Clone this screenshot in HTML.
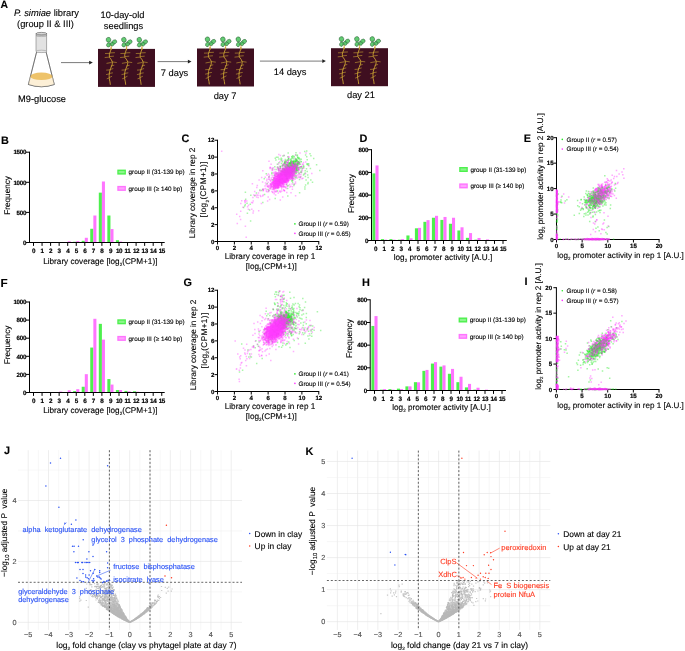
<!DOCTYPE html>
<html><head><meta charset="utf-8"><style>
html,body{margin:0;padding:0;background:#fff;}
body{width:685px;height:651px;overflow:hidden;font-family:"Liberation Sans",sans-serif;}
svg{display:block;will-change:transform;}
text{font-family:"Liberation Sans",sans-serif;text-rendering:geometricPrecision;}
.tk{stroke:#000;stroke-width:0.18px;}
</style></head><body>
<svg width="685" height="651" viewBox="0 0 685 651" font-family='Liberation Sans, sans-serif'>
<text x="0.5" y="8.2" font-size="10.4" font-weight="bold" stroke="#000" stroke-width="0.12">A</text>
<text x="14" y="15.9" font-size="9.3" stroke="#000" stroke-width="0.12"><tspan font-style="italic">P. simiae</tspan> library</text>
<text x="45.5" y="27.3" font-size="9.3" text-anchor="middle" stroke="#000" stroke-width="0.12">(group II &amp; III)</text>
<text x="42" y="101.8" font-size="9.3" text-anchor="middle" stroke="#000" stroke-width="0.12">M9-glucose</text>
<path d="M36.6 52 L28.4 84.5 Q41.5 89 54.3 84.5 L46.1 52 Z" fill="#fff" stroke="#333" stroke-width="0.5"/>
<path d="M30.2 76.2 L28.5 84.3 Q41.5 89 54.2 84.3 L52.6 76.2 Z" fill="#fcefd6"/>
<ellipse cx="41.4" cy="76.3" rx="11.2" ry="3.7" fill="#eec36a"/>
<path d="M36.6 52 L28.4 84.5 Q41.5 89 54.3 84.5 L46.1 52" fill="none" stroke="#444" stroke-width="0.45"/>
<rect x="36" y="33.6" width="10.8" height="17.8" fill="#e2e2e2" stroke="#666" stroke-width="0.5"/>
<ellipse cx="41.4" cy="51.4" rx="5.4" ry="1.2" fill="#e6e6e6" stroke="#777" stroke-width="0.4"/>
<ellipse cx="41.4" cy="33.8" rx="5.4" ry="1.4" fill="#d8d8d8" stroke="#555" stroke-width="0.6"/>
<ellipse cx="41.4" cy="35.6" rx="5.4" ry="1.0" fill="none" stroke="#777" stroke-width="0.4"/>
<line x1="61" y1="62.6" x2="90.8" y2="62.6" stroke="#333" stroke-width="0.65"/>
<path d="M92.8 62.6 L89.2 60.7 L89.2 64.5 Z" fill="#222"/>
<line x1="157.6" y1="61.6" x2="189.5" y2="61.6" stroke="#333" stroke-width="0.65"/>
<path d="M191.5 61.6 L187.9 59.7 L187.9 63.5 Z" fill="#222"/>
<line x1="259.9" y1="61.1" x2="323.9" y2="61.1" stroke="#333" stroke-width="0.65"/>
<path d="M325.9 61.1 L322.3 59.2 L322.3 63 Z" fill="#222"/>
<text x="122.5" y="17.8" font-size="9.3" text-anchor="middle" stroke="#000" stroke-width="0.12">10-day-old</text>
<text x="123.5" y="28.8" font-size="9.3" text-anchor="middle" stroke="#000" stroke-width="0.12">seedlings</text>
<text x="174.5" y="75.8" font-size="9.3" text-anchor="middle" stroke="#000" stroke-width="0.12">7 days</text>
<text x="225" y="98.6" font-size="9.3" text-anchor="middle" stroke="#000" stroke-width="0.12">day 7</text>
<text x="290" y="75.2" font-size="9.3" text-anchor="middle" stroke="#000" stroke-width="0.12">14 days</text>
<text x="361" y="98.2" font-size="9.3" text-anchor="middle" stroke="#000" stroke-width="0.12">day 21</text>
<defs><g id="plant">
<path d="M0 -1 L0 1 Q-1.2 4 -1.6 6 Q-2.2 8.5 0.5 11 Q2.2 13 1.2 16 Q-0.5 19.5 -1.4 23 Q-2 27 -1.6 30 Q-0.8 33 -0.6 35.5" fill="none" stroke="#c9a233" stroke-width="0.9" stroke-linecap="round"/>
<path d="M-1.4 4.5 L-5.5 4.6 M-0.8 4 L3.6 3.8 M-1.8 8.2 L-5.8 8.6 M-0.8 7.6 L2.6 7.3 M1.2 13 L5.5 13.6 M0.4 13.6 L-4 14.4 M0.3 17 L3 16.4 M-0.9 21 L-4.3 21.2 M-0.8 20.5 L2 19.8 M-1.6 25 L-4.4 25.6 M-1.5 24.5 L1.6 24 M-1.6 29 L-3.8 29.8 M-1.3 28.5 L0.8 27.5" stroke="#c9a233" stroke-width="0.6" fill="none" stroke-linecap="round"/>
<path d="M0.3 1 Q0.6 -2 0 -4.5" stroke="#c9a233" stroke-width="0.9" fill="none"/>
<g fill="#62cc72" stroke="#24512e" stroke-width="0.45">
<ellipse cx="-2.4" cy="-9.1" rx="2.3" ry="2.5" transform="rotate(-15 -2.4 -9.1)"/>
<ellipse cx="3.4" cy="-6.9" rx="2.6" ry="2.0" transform="rotate(-30 3.4 -6.9)"/>
<ellipse cx="-2.4" cy="-4.0" rx="1.9" ry="2.2" transform="rotate(25 -2.4 -4.0)"/>
<ellipse cx="1.2" cy="-4.8" rx="2.0" ry="1.8" transform="rotate(30 1.2 -4.8)"/>
</g>
<path d="M0 -4.6 L-2 -8 M0 -4.6 L3 -6.5 M0 -4.6 L-2 -3.5" stroke="#3a8a46" stroke-width="0.4" fill="none"/>
</g></g></defs>
<rect x="98" y="48.9" width="57" height="38" fill="#3f0f20"/>
<use href="#plant" x="110.9" y="48.9"/>
<use href="#plant" x="126.3" y="48.9"/>
<use href="#plant" x="141.7" y="48.9"/>
<rect x="197" y="48.5" width="57" height="38" fill="#3f0f20"/>
<use href="#plant" x="209.9" y="48.5"/>
<use href="#plant" x="225.3" y="48.5"/>
<use href="#plant" x="240.7" y="48.5"/>
<rect x="331" y="48.2" width="57" height="38" fill="#3f0f20"/>
<use href="#plant" x="343.9" y="48.2"/>
<use href="#plant" x="359.3" y="48.2"/>
<use href="#plant" x="374.7" y="48.2"/>
<text x="0.9" y="144" font-size="10.9" font-weight="bold" stroke="#000" stroke-width="0.12">B</text>
<rect x="67.7" y="241.28" width="3.05" height="0.72" fill="#ff74ff"/>
<rect x="73.15" y="241.76" width="3.1" height="0.24" fill="#4df04d"/>
<rect x="76.25" y="241.1" width="3.05" height="0.9" fill="#ff74ff"/>
<rect x="81.7" y="240.8" width="3.1" height="1.2" fill="#4df04d"/>
<rect x="84.8" y="237.79" width="3.05" height="4.21" fill="#ff74ff"/>
<rect x="90.25" y="228.76" width="3.1" height="13.24" fill="#4df04d"/>
<rect x="93.35" y="215.51" width="3.05" height="26.49" fill="#ff74ff"/>
<rect x="98.8" y="192.64" width="3.1" height="49.36" fill="#4df04d"/>
<rect x="101.9" y="181.5" width="3.05" height="60.5" fill="#ff74ff"/>
<rect x="107.35" y="215.51" width="3.1" height="26.49" fill="#4df04d"/>
<rect x="110.45" y="229.06" width="3.05" height="12.94" fill="#ff74ff"/>
<rect x="115.9" y="240.19" width="3.1" height="1.81" fill="#4df04d"/>
<rect x="119" y="241.52" width="3.05" height="0.48" fill="#ff74ff"/>
<line x1="29.5" y1="151.7" x2="29.5" y2="243" stroke="#000" stroke-width="1.0"/>
<line x1="29" y1="242.5" x2="164.7" y2="242.5" stroke="#000" stroke-width="1.0"/>
<line x1="25.9" y1="242.5" x2="29.5" y2="242.5" stroke="#000" stroke-width="1.0"/>
<text x="26.2" y="244.7" font-size="6.2" text-anchor="end" font-weight="bold" letter-spacing="-0.25" class="tk">0</text>
<line x1="25.9" y1="212.4" x2="29.5" y2="212.4" stroke="#000" stroke-width="1.0"/>
<text x="26.2" y="214.6" font-size="6.2" text-anchor="end" font-weight="bold" letter-spacing="-0.25" class="tk">500</text>
<line x1="25.9" y1="182.3" x2="29.5" y2="182.3" stroke="#000" stroke-width="1.0"/>
<text x="26.2" y="184.5" font-size="6.2" text-anchor="end" font-weight="bold" letter-spacing="-0.25" class="tk">1000</text>
<line x1="25.9" y1="152.2" x2="29.5" y2="152.2" stroke="#000" stroke-width="1.0"/>
<text x="26.2" y="154.4" font-size="6.2" text-anchor="end" font-weight="bold" letter-spacing="-0.25" class="tk">1500</text>
<line x1="33.5" y1="242.5" x2="33.5" y2="245.9" stroke="#000" stroke-width="1.0"/>
<text x="33.5" y="253.3" font-size="6.3" text-anchor="middle" font-weight="bold" letter-spacing="-0.4" class="tk">0</text>
<line x1="42.05" y1="242.5" x2="42.05" y2="245.9" stroke="#000" stroke-width="1.0"/>
<text x="42.05" y="253.3" font-size="6.3" text-anchor="middle" font-weight="bold" letter-spacing="-0.4" class="tk">1</text>
<line x1="50.6" y1="242.5" x2="50.6" y2="245.9" stroke="#000" stroke-width="1.0"/>
<text x="50.6" y="253.3" font-size="6.3" text-anchor="middle" font-weight="bold" letter-spacing="-0.4" class="tk">2</text>
<line x1="59.15" y1="242.5" x2="59.15" y2="245.9" stroke="#000" stroke-width="1.0"/>
<text x="59.15" y="253.3" font-size="6.3" text-anchor="middle" font-weight="bold" letter-spacing="-0.4" class="tk">3</text>
<line x1="67.7" y1="242.5" x2="67.7" y2="245.9" stroke="#000" stroke-width="1.0"/>
<text x="67.7" y="253.3" font-size="6.3" text-anchor="middle" font-weight="bold" letter-spacing="-0.4" class="tk">4</text>
<line x1="76.25" y1="242.5" x2="76.25" y2="245.9" stroke="#000" stroke-width="1.0"/>
<text x="76.25" y="253.3" font-size="6.3" text-anchor="middle" font-weight="bold" letter-spacing="-0.4" class="tk">5</text>
<line x1="84.8" y1="242.5" x2="84.8" y2="245.9" stroke="#000" stroke-width="1.0"/>
<text x="84.8" y="253.3" font-size="6.3" text-anchor="middle" font-weight="bold" letter-spacing="-0.4" class="tk">6</text>
<line x1="93.35" y1="242.5" x2="93.35" y2="245.9" stroke="#000" stroke-width="1.0"/>
<text x="93.35" y="253.3" font-size="6.3" text-anchor="middle" font-weight="bold" letter-spacing="-0.4" class="tk">7</text>
<line x1="101.9" y1="242.5" x2="101.9" y2="245.9" stroke="#000" stroke-width="1.0"/>
<text x="101.9" y="253.3" font-size="6.3" text-anchor="middle" font-weight="bold" letter-spacing="-0.4" class="tk">8</text>
<line x1="110.45" y1="242.5" x2="110.45" y2="245.9" stroke="#000" stroke-width="1.0"/>
<text x="110.45" y="253.3" font-size="6.3" text-anchor="middle" font-weight="bold" letter-spacing="-0.4" class="tk">9</text>
<line x1="119" y1="242.5" x2="119" y2="245.9" stroke="#000" stroke-width="1.0"/>
<text x="119" y="253.3" font-size="6.3" text-anchor="middle" font-weight="bold" letter-spacing="-0.4" class="tk">10</text>
<line x1="127.55" y1="242.5" x2="127.55" y2="245.9" stroke="#000" stroke-width="1.0"/>
<text x="127.55" y="253.3" font-size="6.3" text-anchor="middle" font-weight="bold" letter-spacing="-0.4" class="tk">11</text>
<line x1="136.1" y1="242.5" x2="136.1" y2="245.9" stroke="#000" stroke-width="1.0"/>
<text x="136.1" y="253.3" font-size="6.3" text-anchor="middle" font-weight="bold" letter-spacing="-0.4" class="tk">12</text>
<line x1="144.65" y1="242.5" x2="144.65" y2="245.9" stroke="#000" stroke-width="1.0"/>
<text x="144.65" y="253.3" font-size="6.3" text-anchor="middle" font-weight="bold" letter-spacing="-0.4" class="tk">13</text>
<line x1="153.2" y1="242.5" x2="153.2" y2="245.9" stroke="#000" stroke-width="1.0"/>
<text x="153.2" y="253.3" font-size="6.3" text-anchor="middle" font-weight="bold" letter-spacing="-0.4" class="tk">14</text>
<line x1="161.75" y1="242.5" x2="161.75" y2="245.9" stroke="#000" stroke-width="1.0"/>
<text x="161.75" y="253.3" font-size="6.3" text-anchor="middle" font-weight="bold" letter-spacing="-0.4" class="tk">15</text>
<rect x="117.3" y="169.6" width="8.6" height="5" fill="#4df04d"/>
<rect x="118.6" y="171" width="6" height="2.2" fill="#ffffff" opacity="0.35"/>
<text x="128.5" y="174.4" font-size="6.35" stroke="#000" stroke-width="0.12">group II (31-139 bp)</text>
<rect x="117.3" y="185.9" width="8.6" height="5" fill="#ff74ff"/>
<rect x="118.6" y="187.3" width="6" height="2.2" fill="#ffffff" opacity="0.35"/>
<text x="128.5" y="190.7" font-size="6.35" stroke="#000" stroke-width="0.12">group III (&#8805; 140 bp)</text>
<text x="100.3" y="263.7" font-size="8.2" text-anchor="middle" stroke="#000" stroke-width="0.12">Library coverage [log<tspan font-size="55%" dy="2.2">2</tspan><tspan dy="-2.2">(CPM+1)]</tspan></text>
<text x="9.9" y="195.4" font-size="8.2" text-anchor="middle" stroke="#000" stroke-width="0.12" transform="rotate(-90 9.9 195.4)">Frequency</text>
<text x="0.4" y="287.4" font-size="11.7" font-weight="bold" stroke="#000" stroke-width="0.12">F</text>
<rect x="59.15" y="391.55" width="3.05" height="0.45" fill="#ff74ff"/>
<rect x="67.7" y="390.28" width="3.05" height="1.72" fill="#ff74ff"/>
<rect x="73.15" y="391.1" width="3.1" height="0.91" fill="#4df04d"/>
<rect x="76.25" y="389.19" width="3.05" height="2.81" fill="#ff74ff"/>
<rect x="81.7" y="386.75" width="3.1" height="5.25" fill="#4df04d"/>
<rect x="84.8" y="374.17" width="3.05" height="17.83" fill="#ff74ff"/>
<rect x="90.25" y="347.56" width="3.1" height="44.44" fill="#4df04d"/>
<rect x="93.35" y="318.79" width="3.05" height="73.21" fill="#ff74ff"/>
<rect x="98.8" y="323.85" width="3.1" height="68.15" fill="#4df04d"/>
<rect x="101.9" y="339.6" width="3.05" height="52.4" fill="#ff74ff"/>
<rect x="107.35" y="379.06" width="3.1" height="12.94" fill="#4df04d"/>
<rect x="110.45" y="384.58" width="3.05" height="7.42" fill="#ff74ff"/>
<rect x="115.9" y="390.01" width="3.1" height="1.99" fill="#4df04d"/>
<rect x="119" y="390.01" width="3.05" height="1.99" fill="#ff74ff"/>
<rect x="124.45" y="390.91" width="3.1" height="1.09" fill="#4df04d"/>
<rect x="127.55" y="391.28" width="3.05" height="0.72" fill="#ff74ff"/>
<rect x="133" y="391.28" width="3.1" height="0.72" fill="#4df04d"/>
<rect x="136.1" y="391.73" width="3.05" height="0.27" fill="#ff74ff"/>
<line x1="29.5" y1="301.5" x2="29.5" y2="393" stroke="#000" stroke-width="1.0"/>
<line x1="29" y1="392.5" x2="164.7" y2="392.5" stroke="#000" stroke-width="1.0"/>
<line x1="25.9" y1="392.5" x2="29.5" y2="392.5" stroke="#000" stroke-width="1.0"/>
<text x="26.2" y="394.7" font-size="6.2" text-anchor="end" font-weight="bold" letter-spacing="-0.25" class="tk">0</text>
<line x1="25.9" y1="374.4" x2="29.5" y2="374.4" stroke="#000" stroke-width="1.0"/>
<text x="26.2" y="376.6" font-size="6.2" text-anchor="end" font-weight="bold" letter-spacing="-0.25" class="tk">200</text>
<line x1="25.9" y1="356.3" x2="29.5" y2="356.3" stroke="#000" stroke-width="1.0"/>
<text x="26.2" y="358.5" font-size="6.2" text-anchor="end" font-weight="bold" letter-spacing="-0.25" class="tk">400</text>
<line x1="25.9" y1="338.2" x2="29.5" y2="338.2" stroke="#000" stroke-width="1.0"/>
<text x="26.2" y="340.4" font-size="6.2" text-anchor="end" font-weight="bold" letter-spacing="-0.25" class="tk">600</text>
<line x1="25.9" y1="320.1" x2="29.5" y2="320.1" stroke="#000" stroke-width="1.0"/>
<text x="26.2" y="322.3" font-size="6.2" text-anchor="end" font-weight="bold" letter-spacing="-0.25" class="tk">800</text>
<line x1="25.9" y1="302" x2="29.5" y2="302" stroke="#000" stroke-width="1.0"/>
<text x="26.2" y="304.2" font-size="6.2" text-anchor="end" font-weight="bold" letter-spacing="-0.25" class="tk">1000</text>
<line x1="33.5" y1="392.5" x2="33.5" y2="395.9" stroke="#000" stroke-width="1.0"/>
<text x="33.5" y="403.3" font-size="6.3" text-anchor="middle" font-weight="bold" letter-spacing="-0.4" class="tk">0</text>
<line x1="42.05" y1="392.5" x2="42.05" y2="395.9" stroke="#000" stroke-width="1.0"/>
<text x="42.05" y="403.3" font-size="6.3" text-anchor="middle" font-weight="bold" letter-spacing="-0.4" class="tk">1</text>
<line x1="50.6" y1="392.5" x2="50.6" y2="395.9" stroke="#000" stroke-width="1.0"/>
<text x="50.6" y="403.3" font-size="6.3" text-anchor="middle" font-weight="bold" letter-spacing="-0.4" class="tk">2</text>
<line x1="59.15" y1="392.5" x2="59.15" y2="395.9" stroke="#000" stroke-width="1.0"/>
<text x="59.15" y="403.3" font-size="6.3" text-anchor="middle" font-weight="bold" letter-spacing="-0.4" class="tk">3</text>
<line x1="67.7" y1="392.5" x2="67.7" y2="395.9" stroke="#000" stroke-width="1.0"/>
<text x="67.7" y="403.3" font-size="6.3" text-anchor="middle" font-weight="bold" letter-spacing="-0.4" class="tk">4</text>
<line x1="76.25" y1="392.5" x2="76.25" y2="395.9" stroke="#000" stroke-width="1.0"/>
<text x="76.25" y="403.3" font-size="6.3" text-anchor="middle" font-weight="bold" letter-spacing="-0.4" class="tk">5</text>
<line x1="84.8" y1="392.5" x2="84.8" y2="395.9" stroke="#000" stroke-width="1.0"/>
<text x="84.8" y="403.3" font-size="6.3" text-anchor="middle" font-weight="bold" letter-spacing="-0.4" class="tk">6</text>
<line x1="93.35" y1="392.5" x2="93.35" y2="395.9" stroke="#000" stroke-width="1.0"/>
<text x="93.35" y="403.3" font-size="6.3" text-anchor="middle" font-weight="bold" letter-spacing="-0.4" class="tk">7</text>
<line x1="101.9" y1="392.5" x2="101.9" y2="395.9" stroke="#000" stroke-width="1.0"/>
<text x="101.9" y="403.3" font-size="6.3" text-anchor="middle" font-weight="bold" letter-spacing="-0.4" class="tk">8</text>
<line x1="110.45" y1="392.5" x2="110.45" y2="395.9" stroke="#000" stroke-width="1.0"/>
<text x="110.45" y="403.3" font-size="6.3" text-anchor="middle" font-weight="bold" letter-spacing="-0.4" class="tk">9</text>
<line x1="119" y1="392.5" x2="119" y2="395.9" stroke="#000" stroke-width="1.0"/>
<text x="119" y="403.3" font-size="6.3" text-anchor="middle" font-weight="bold" letter-spacing="-0.4" class="tk">10</text>
<line x1="127.55" y1="392.5" x2="127.55" y2="395.9" stroke="#000" stroke-width="1.0"/>
<text x="127.55" y="403.3" font-size="6.3" text-anchor="middle" font-weight="bold" letter-spacing="-0.4" class="tk">11</text>
<line x1="136.1" y1="392.5" x2="136.1" y2="395.9" stroke="#000" stroke-width="1.0"/>
<text x="136.1" y="403.3" font-size="6.3" text-anchor="middle" font-weight="bold" letter-spacing="-0.4" class="tk">12</text>
<line x1="144.65" y1="392.5" x2="144.65" y2="395.9" stroke="#000" stroke-width="1.0"/>
<text x="144.65" y="403.3" font-size="6.3" text-anchor="middle" font-weight="bold" letter-spacing="-0.4" class="tk">13</text>
<line x1="153.2" y1="392.5" x2="153.2" y2="395.9" stroke="#000" stroke-width="1.0"/>
<text x="153.2" y="403.3" font-size="6.3" text-anchor="middle" font-weight="bold" letter-spacing="-0.4" class="tk">14</text>
<line x1="161.75" y1="392.5" x2="161.75" y2="395.9" stroke="#000" stroke-width="1.0"/>
<text x="161.75" y="403.3" font-size="6.3" text-anchor="middle" font-weight="bold" letter-spacing="-0.4" class="tk">15</text>
<rect x="117.3" y="319.3" width="8.6" height="5" fill="#4df04d"/>
<rect x="118.6" y="320.7" width="6" height="2.2" fill="#ffffff" opacity="0.35"/>
<text x="128.5" y="324.1" font-size="6.35" stroke="#000" stroke-width="0.12">group II (31-139 bp)</text>
<rect x="117.3" y="335.9" width="8.6" height="5" fill="#ff74ff"/>
<rect x="118.6" y="337.3" width="6" height="2.2" fill="#ffffff" opacity="0.35"/>
<text x="128.5" y="340.7" font-size="6.35" stroke="#000" stroke-width="0.12">group III (&#8805; 140 bp)</text>
<text x="100.3" y="413.2" font-size="8.2" text-anchor="middle" stroke="#000" stroke-width="0.12">Library coverage [log<tspan font-size="55%" dy="2.2">2</tspan><tspan dy="-2.2">(CPM+1)]</tspan></text>
<text x="9.9" y="345" font-size="8.2" text-anchor="middle" stroke="#000" stroke-width="0.12" transform="rotate(-90 9.9 345)">Frequency</text>
<text x="359.6" y="142.1" font-size="10.9" font-weight="bold" stroke="#000" stroke-width="0.12">D</text>
<rect x="372.4" y="173.38" width="3.1" height="66.62" fill="#4df04d"/>
<rect x="375.5" y="165.43" width="3.05" height="74.57" fill="#ff74ff"/>
<rect x="380.9" y="239.09" width="3.1" height="0.91" fill="#4df04d"/>
<rect x="384" y="239.66" width="3.05" height="0.34" fill="#ff74ff"/>
<rect x="389.4" y="239.09" width="3.1" height="0.91" fill="#4df04d"/>
<rect x="392.5" y="239.66" width="3.05" height="0.34" fill="#ff74ff"/>
<rect x="397.9" y="239.66" width="3.1" height="0.34" fill="#4df04d"/>
<rect x="401" y="239.09" width="3.05" height="0.91" fill="#ff74ff"/>
<rect x="406.4" y="235.46" width="3.1" height="4.54" fill="#4df04d"/>
<rect x="409.5" y="238.3" width="3.05" height="1.7" fill="#ff74ff"/>
<rect x="414.9" y="228.31" width="3.1" height="11.69" fill="#4df04d"/>
<rect x="418" y="227.86" width="3.05" height="12.14" fill="#ff74ff"/>
<rect x="423.4" y="221.84" width="3.1" height="18.16" fill="#4df04d"/>
<rect x="426.5" y="220.14" width="3.05" height="19.86" fill="#ff74ff"/>
<rect x="431.9" y="217.75" width="3.1" height="22.25" fill="#4df04d"/>
<rect x="435" y="215.82" width="3.05" height="24.18" fill="#ff74ff"/>
<rect x="440.4" y="219.91" width="3.1" height="20.09" fill="#4df04d"/>
<rect x="443.5" y="216.96" width="3.05" height="23.04" fill="#ff74ff"/>
<rect x="448.9" y="223.77" width="3.1" height="16.23" fill="#4df04d"/>
<rect x="452" y="217.75" width="3.05" height="22.25" fill="#ff74ff"/>
<rect x="457.4" y="230.47" width="3.1" height="9.53" fill="#4df04d"/>
<rect x="460.5" y="227.29" width="3.05" height="12.71" fill="#ff74ff"/>
<rect x="465.9" y="237.84" width="3.1" height="2.16" fill="#4df04d"/>
<rect x="469" y="233.08" width="3.05" height="6.92" fill="#ff74ff"/>
<rect x="474.4" y="239.66" width="3.1" height="0.34" fill="#4df04d"/>
<rect x="477.5" y="237.96" width="3.05" height="2.04" fill="#ff74ff"/>
<rect x="486" y="239.43" width="3.05" height="0.57" fill="#ff74ff"/>
<line x1="371.5" y1="149.2" x2="371.5" y2="241" stroke="#000" stroke-width="1.0"/>
<line x1="371" y1="240.5" x2="506.8" y2="240.5" stroke="#000" stroke-width="1.0"/>
<line x1="367.9" y1="240.5" x2="371.5" y2="240.5" stroke="#000" stroke-width="1.0"/>
<text x="368.2" y="242.7" font-size="6.2" text-anchor="end" font-weight="bold" letter-spacing="-0.25" class="tk">0</text>
<line x1="367.9" y1="217.8" x2="371.5" y2="217.8" stroke="#000" stroke-width="1.0"/>
<text x="368.2" y="220" font-size="6.2" text-anchor="end" font-weight="bold" letter-spacing="-0.25" class="tk">200</text>
<line x1="367.9" y1="195.1" x2="371.5" y2="195.1" stroke="#000" stroke-width="1.0"/>
<text x="368.2" y="197.3" font-size="6.2" text-anchor="end" font-weight="bold" letter-spacing="-0.25" class="tk">400</text>
<line x1="367.9" y1="172.4" x2="371.5" y2="172.4" stroke="#000" stroke-width="1.0"/>
<text x="368.2" y="174.6" font-size="6.2" text-anchor="end" font-weight="bold" letter-spacing="-0.25" class="tk">600</text>
<line x1="367.9" y1="149.7" x2="371.5" y2="149.7" stroke="#000" stroke-width="1.0"/>
<text x="368.2" y="151.9" font-size="6.2" text-anchor="end" font-weight="bold" letter-spacing="-0.25" class="tk">800</text>
<line x1="375.5" y1="240.5" x2="375.5" y2="243.9" stroke="#000" stroke-width="1.0"/>
<text x="375.5" y="251.3" font-size="6.3" text-anchor="middle" font-weight="bold" letter-spacing="-0.4" class="tk">0</text>
<line x1="384" y1="240.5" x2="384" y2="243.9" stroke="#000" stroke-width="1.0"/>
<text x="384" y="251.3" font-size="6.3" text-anchor="middle" font-weight="bold" letter-spacing="-0.4" class="tk">1</text>
<line x1="392.5" y1="240.5" x2="392.5" y2="243.9" stroke="#000" stroke-width="1.0"/>
<text x="392.5" y="251.3" font-size="6.3" text-anchor="middle" font-weight="bold" letter-spacing="-0.4" class="tk">2</text>
<line x1="401" y1="240.5" x2="401" y2="243.9" stroke="#000" stroke-width="1.0"/>
<text x="401" y="251.3" font-size="6.3" text-anchor="middle" font-weight="bold" letter-spacing="-0.4" class="tk">3</text>
<line x1="409.5" y1="240.5" x2="409.5" y2="243.9" stroke="#000" stroke-width="1.0"/>
<text x="409.5" y="251.3" font-size="6.3" text-anchor="middle" font-weight="bold" letter-spacing="-0.4" class="tk">4</text>
<line x1="418" y1="240.5" x2="418" y2="243.9" stroke="#000" stroke-width="1.0"/>
<text x="418" y="251.3" font-size="6.3" text-anchor="middle" font-weight="bold" letter-spacing="-0.4" class="tk">5</text>
<line x1="426.5" y1="240.5" x2="426.5" y2="243.9" stroke="#000" stroke-width="1.0"/>
<text x="426.5" y="251.3" font-size="6.3" text-anchor="middle" font-weight="bold" letter-spacing="-0.4" class="tk">6</text>
<line x1="435" y1="240.5" x2="435" y2="243.9" stroke="#000" stroke-width="1.0"/>
<text x="435" y="251.3" font-size="6.3" text-anchor="middle" font-weight="bold" letter-spacing="-0.4" class="tk">7</text>
<line x1="443.5" y1="240.5" x2="443.5" y2="243.9" stroke="#000" stroke-width="1.0"/>
<text x="443.5" y="251.3" font-size="6.3" text-anchor="middle" font-weight="bold" letter-spacing="-0.4" class="tk">8</text>
<line x1="452" y1="240.5" x2="452" y2="243.9" stroke="#000" stroke-width="1.0"/>
<text x="452" y="251.3" font-size="6.3" text-anchor="middle" font-weight="bold" letter-spacing="-0.4" class="tk">9</text>
<line x1="460.5" y1="240.5" x2="460.5" y2="243.9" stroke="#000" stroke-width="1.0"/>
<text x="460.5" y="251.3" font-size="6.3" text-anchor="middle" font-weight="bold" letter-spacing="-0.4" class="tk">10</text>
<line x1="469" y1="240.5" x2="469" y2="243.9" stroke="#000" stroke-width="1.0"/>
<text x="469" y="251.3" font-size="6.3" text-anchor="middle" font-weight="bold" letter-spacing="-0.4" class="tk">11</text>
<line x1="477.5" y1="240.5" x2="477.5" y2="243.9" stroke="#000" stroke-width="1.0"/>
<text x="477.5" y="251.3" font-size="6.3" text-anchor="middle" font-weight="bold" letter-spacing="-0.4" class="tk">12</text>
<line x1="486" y1="240.5" x2="486" y2="243.9" stroke="#000" stroke-width="1.0"/>
<text x="486" y="251.3" font-size="6.3" text-anchor="middle" font-weight="bold" letter-spacing="-0.4" class="tk">13</text>
<line x1="494.5" y1="240.5" x2="494.5" y2="243.9" stroke="#000" stroke-width="1.0"/>
<text x="494.5" y="251.3" font-size="6.3" text-anchor="middle" font-weight="bold" letter-spacing="-0.4" class="tk">14</text>
<line x1="503" y1="240.5" x2="503" y2="243.9" stroke="#000" stroke-width="1.0"/>
<text x="503" y="251.3" font-size="6.3" text-anchor="middle" font-weight="bold" letter-spacing="-0.4" class="tk">15</text>
<rect x="459.2" y="167" width="8.6" height="5" fill="#4df04d"/>
<rect x="460.5" y="168.4" width="6" height="2.2" fill="#ffffff" opacity="0.35"/>
<text x="470.4" y="171.8" font-size="6.35" stroke="#000" stroke-width="0.12">group II (31-139 bp)</text>
<rect x="459.2" y="183.4" width="8.6" height="5" fill="#ff74ff"/>
<rect x="460.5" y="184.8" width="6" height="2.2" fill="#ffffff" opacity="0.35"/>
<text x="470.4" y="188.2" font-size="6.35" stroke="#000" stroke-width="0.12">group III (&#8805; 140 bp)</text>
<text x="443" y="260" font-size="8.2" text-anchor="middle" stroke="#000" stroke-width="0.12">log<tspan font-size="55%" dy="2.2">2</tspan><tspan dy="-2.2"> promoter activity [A.U.]</tspan></text>
<text x="354.3" y="193.6" font-size="8.2" text-anchor="middle" stroke="#000" stroke-width="0.12" transform="rotate(-90 354.3 193.6)">Frequency</text>
<text x="361.9" y="285.9" font-size="10.9" font-weight="bold" stroke="#000" stroke-width="0.12">H</text>
<rect x="371.4" y="325.94" width="3.1" height="64.06" fill="#4df04d"/>
<rect x="374.5" y="316.08" width="3.05" height="73.92" fill="#ff74ff"/>
<rect x="379.9" y="389.66" width="3.1" height="0.34" fill="#4df04d"/>
<rect x="383" y="389.09" width="3.05" height="0.91" fill="#ff74ff"/>
<rect x="388.4" y="389.09" width="3.1" height="0.91" fill="#4df04d"/>
<rect x="391.5" y="389.66" width="3.05" height="0.34" fill="#ff74ff"/>
<rect x="396.9" y="388.64" width="3.1" height="1.36" fill="#4df04d"/>
<rect x="400" y="389.09" width="3.05" height="0.91" fill="#ff74ff"/>
<rect x="405.4" y="386.37" width="3.1" height="3.63" fill="#4df04d"/>
<rect x="408.5" y="386.37" width="3.05" height="3.63" fill="#ff74ff"/>
<rect x="413.9" y="382.18" width="3.1" height="7.82" fill="#4df04d"/>
<rect x="417" y="382.29" width="3.05" height="7.71" fill="#ff74ff"/>
<rect x="422.4" y="370.84" width="3.1" height="19.16" fill="#4df04d"/>
<rect x="425.5" y="369.93" width="3.05" height="20.07" fill="#ff74ff"/>
<rect x="430.9" y="363.58" width="3.1" height="26.42" fill="#4df04d"/>
<rect x="434" y="362.11" width="3.05" height="27.89" fill="#ff74ff"/>
<rect x="439.4" y="366.64" width="3.1" height="23.36" fill="#4df04d"/>
<rect x="442.5" y="365.4" width="3.05" height="24.6" fill="#ff74ff"/>
<rect x="447.9" y="373.79" width="3.1" height="16.21" fill="#4df04d"/>
<rect x="451" y="368.91" width="3.05" height="21.09" fill="#ff74ff"/>
<rect x="456.4" y="382.18" width="3.1" height="7.82" fill="#4df04d"/>
<rect x="459.5" y="376.74" width="3.05" height="13.26" fill="#ff74ff"/>
<rect x="464.9" y="387.39" width="3.1" height="2.61" fill="#4df04d"/>
<rect x="468" y="383.88" width="3.05" height="6.12" fill="#ff74ff"/>
<rect x="473.4" y="389.66" width="3.1" height="0.34" fill="#4df04d"/>
<rect x="476.5" y="387.73" width="3.05" height="2.27" fill="#ff74ff"/>
<rect x="485" y="389.66" width="3.05" height="0.34" fill="#ff74ff"/>
<line x1="370.2" y1="299.3" x2="370.2" y2="391" stroke="#000" stroke-width="1.0"/>
<line x1="369.7" y1="390.5" x2="506" y2="390.5" stroke="#000" stroke-width="1.0"/>
<line x1="366.6" y1="390.5" x2="370.2" y2="390.5" stroke="#000" stroke-width="1.0"/>
<text x="366.9" y="392.7" font-size="6.2" text-anchor="end" font-weight="bold" letter-spacing="-0.25" class="tk">0</text>
<line x1="366.6" y1="367.82" x2="370.2" y2="367.82" stroke="#000" stroke-width="1.0"/>
<text x="366.9" y="370.02" font-size="6.2" text-anchor="end" font-weight="bold" letter-spacing="-0.25" class="tk">200</text>
<line x1="366.6" y1="345.15" x2="370.2" y2="345.15" stroke="#000" stroke-width="1.0"/>
<text x="366.9" y="347.35" font-size="6.2" text-anchor="end" font-weight="bold" letter-spacing="-0.25" class="tk">400</text>
<line x1="366.6" y1="322.48" x2="370.2" y2="322.48" stroke="#000" stroke-width="1.0"/>
<text x="366.9" y="324.68" font-size="6.2" text-anchor="end" font-weight="bold" letter-spacing="-0.25" class="tk">600</text>
<line x1="366.6" y1="299.8" x2="370.2" y2="299.8" stroke="#000" stroke-width="1.0"/>
<text x="366.9" y="302" font-size="6.2" text-anchor="end" font-weight="bold" letter-spacing="-0.25" class="tk">800</text>
<line x1="374.5" y1="390.5" x2="374.5" y2="393.9" stroke="#000" stroke-width="1.0"/>
<text x="374.5" y="401.3" font-size="6.3" text-anchor="middle" font-weight="bold" letter-spacing="-0.4" class="tk">0</text>
<line x1="383" y1="390.5" x2="383" y2="393.9" stroke="#000" stroke-width="1.0"/>
<text x="383" y="401.3" font-size="6.3" text-anchor="middle" font-weight="bold" letter-spacing="-0.4" class="tk">1</text>
<line x1="391.5" y1="390.5" x2="391.5" y2="393.9" stroke="#000" stroke-width="1.0"/>
<text x="391.5" y="401.3" font-size="6.3" text-anchor="middle" font-weight="bold" letter-spacing="-0.4" class="tk">2</text>
<line x1="400" y1="390.5" x2="400" y2="393.9" stroke="#000" stroke-width="1.0"/>
<text x="400" y="401.3" font-size="6.3" text-anchor="middle" font-weight="bold" letter-spacing="-0.4" class="tk">3</text>
<line x1="408.5" y1="390.5" x2="408.5" y2="393.9" stroke="#000" stroke-width="1.0"/>
<text x="408.5" y="401.3" font-size="6.3" text-anchor="middle" font-weight="bold" letter-spacing="-0.4" class="tk">4</text>
<line x1="417" y1="390.5" x2="417" y2="393.9" stroke="#000" stroke-width="1.0"/>
<text x="417" y="401.3" font-size="6.3" text-anchor="middle" font-weight="bold" letter-spacing="-0.4" class="tk">5</text>
<line x1="425.5" y1="390.5" x2="425.5" y2="393.9" stroke="#000" stroke-width="1.0"/>
<text x="425.5" y="401.3" font-size="6.3" text-anchor="middle" font-weight="bold" letter-spacing="-0.4" class="tk">6</text>
<line x1="434" y1="390.5" x2="434" y2="393.9" stroke="#000" stroke-width="1.0"/>
<text x="434" y="401.3" font-size="6.3" text-anchor="middle" font-weight="bold" letter-spacing="-0.4" class="tk">7</text>
<line x1="442.5" y1="390.5" x2="442.5" y2="393.9" stroke="#000" stroke-width="1.0"/>
<text x="442.5" y="401.3" font-size="6.3" text-anchor="middle" font-weight="bold" letter-spacing="-0.4" class="tk">8</text>
<line x1="451" y1="390.5" x2="451" y2="393.9" stroke="#000" stroke-width="1.0"/>
<text x="451" y="401.3" font-size="6.3" text-anchor="middle" font-weight="bold" letter-spacing="-0.4" class="tk">9</text>
<line x1="459.5" y1="390.5" x2="459.5" y2="393.9" stroke="#000" stroke-width="1.0"/>
<text x="459.5" y="401.3" font-size="6.3" text-anchor="middle" font-weight="bold" letter-spacing="-0.4" class="tk">10</text>
<line x1="468" y1="390.5" x2="468" y2="393.9" stroke="#000" stroke-width="1.0"/>
<text x="468" y="401.3" font-size="6.3" text-anchor="middle" font-weight="bold" letter-spacing="-0.4" class="tk">11</text>
<line x1="476.5" y1="390.5" x2="476.5" y2="393.9" stroke="#000" stroke-width="1.0"/>
<text x="476.5" y="401.3" font-size="6.3" text-anchor="middle" font-weight="bold" letter-spacing="-0.4" class="tk">12</text>
<line x1="485" y1="390.5" x2="485" y2="393.9" stroke="#000" stroke-width="1.0"/>
<text x="485" y="401.3" font-size="6.3" text-anchor="middle" font-weight="bold" letter-spacing="-0.4" class="tk">13</text>
<line x1="493.5" y1="390.5" x2="493.5" y2="393.9" stroke="#000" stroke-width="1.0"/>
<text x="493.5" y="401.3" font-size="6.3" text-anchor="middle" font-weight="bold" letter-spacing="-0.4" class="tk">14</text>
<line x1="502" y1="390.5" x2="502" y2="393.9" stroke="#000" stroke-width="1.0"/>
<text x="502" y="401.3" font-size="6.3" text-anchor="middle" font-weight="bold" letter-spacing="-0.4" class="tk">15</text>
<rect x="458.6" y="317.5" width="8.6" height="5" fill="#4df04d"/>
<rect x="459.9" y="318.9" width="6" height="2.2" fill="#ffffff" opacity="0.35"/>
<text x="469.8" y="322.3" font-size="6.35" stroke="#000" stroke-width="0.12">group II (31-139 bp)</text>
<rect x="458.6" y="333.9" width="8.6" height="5" fill="#ff74ff"/>
<rect x="459.9" y="335.3" width="6" height="2.2" fill="#ffffff" opacity="0.35"/>
<text x="469.8" y="338.7" font-size="6.35" stroke="#000" stroke-width="0.12">group III (&#8805; 140 bp)</text>
<text x="441.5" y="410" font-size="8.2" text-anchor="middle" stroke="#000" stroke-width="0.12">log<tspan font-size="55%" dy="2.2">2</tspan><tspan dy="-2.2"> promoter activity [A.U.]</tspan></text>
<text x="352.5" y="338.6" font-size="8.2" text-anchor="middle" stroke="#000" stroke-width="0.12" transform="rotate(-90 352.5 338.6)">Frequency</text>
<text x="181.5" y="141.9" font-size="10.9" font-weight="bold" stroke="#000" stroke-width="0.12">C</text>
<line x1="217.5" y1="139.72" x2="217.5" y2="242" stroke="#000" stroke-width="1.0"/>
<line x1="217" y1="241.5" x2="319.28" y2="241.5" stroke="#000" stroke-width="1.0"/>
<line x1="214.5" y1="241.5" x2="217.5" y2="241.5" stroke="#000" stroke-width="1.0"/>
<text x="214.5" y="243.7" font-size="6.1" text-anchor="end" font-weight="bold" class="tk">0</text>
<line x1="214.5" y1="224.62" x2="217.5" y2="224.62" stroke="#000" stroke-width="1.0"/>
<text x="214.5" y="226.82" font-size="6.1" text-anchor="end" font-weight="bold" class="tk">2</text>
<line x1="214.5" y1="207.74" x2="217.5" y2="207.74" stroke="#000" stroke-width="1.0"/>
<text x="214.5" y="209.94" font-size="6.1" text-anchor="end" font-weight="bold" class="tk">4</text>
<line x1="214.5" y1="190.86" x2="217.5" y2="190.86" stroke="#000" stroke-width="1.0"/>
<text x="214.5" y="193.06" font-size="6.1" text-anchor="end" font-weight="bold" class="tk">6</text>
<line x1="214.5" y1="173.98" x2="217.5" y2="173.98" stroke="#000" stroke-width="1.0"/>
<text x="214.5" y="176.18" font-size="6.1" text-anchor="end" font-weight="bold" class="tk">8</text>
<line x1="214.5" y1="157.1" x2="217.5" y2="157.1" stroke="#000" stroke-width="1.0"/>
<text x="214.5" y="159.3" font-size="6.1" text-anchor="end" font-weight="bold" class="tk">10</text>
<line x1="214.5" y1="140.22" x2="217.5" y2="140.22" stroke="#000" stroke-width="1.0"/>
<text x="214.5" y="142.42" font-size="6.1" text-anchor="end" font-weight="bold" class="tk">12</text>
<line x1="217.5" y1="241.5" x2="217.5" y2="244.5" stroke="#000" stroke-width="1.0"/>
<text x="217.5" y="250.4" font-size="6.1" text-anchor="middle" font-weight="bold" class="tk">0</text>
<line x1="234.38" y1="241.5" x2="234.38" y2="244.5" stroke="#000" stroke-width="1.0"/>
<text x="234.38" y="250.4" font-size="6.1" text-anchor="middle" font-weight="bold" class="tk">2</text>
<line x1="251.26" y1="241.5" x2="251.26" y2="244.5" stroke="#000" stroke-width="1.0"/>
<text x="251.26" y="250.4" font-size="6.1" text-anchor="middle" font-weight="bold" class="tk">4</text>
<line x1="268.14" y1="241.5" x2="268.14" y2="244.5" stroke="#000" stroke-width="1.0"/>
<text x="268.14" y="250.4" font-size="6.1" text-anchor="middle" font-weight="bold" class="tk">6</text>
<line x1="285.02" y1="241.5" x2="285.02" y2="244.5" stroke="#000" stroke-width="1.0"/>
<text x="285.02" y="250.4" font-size="6.1" text-anchor="middle" font-weight="bold" class="tk">8</text>
<line x1="301.9" y1="241.5" x2="301.9" y2="244.5" stroke="#000" stroke-width="1.0"/>
<text x="301.9" y="250.4" font-size="6.1" text-anchor="middle" font-weight="bold" class="tk">10</text>
<line x1="318.78" y1="241.5" x2="318.78" y2="244.5" stroke="#000" stroke-width="1.0"/>
<text x="318.78" y="250.4" font-size="6.1" text-anchor="middle" font-weight="bold" class="tk">12</text>
<path d="M293.5 161.5h0M287.7 185.8h0M291.9 170.8h0M289.1 167.8h0M244.7 205.9h0M290.2 172.6h0M319.8 170.5h0M293.6 168.3h0M287.0 166.3h0M288.0 165.9h0M286.0 169.1h0M250.6 220.9h0M290.0 163.9h0M288.7 172.2h0M287.1 165.6h0M292.0 178.1h0M293.4 162.3h0M293.2 169.2h0M295.3 177.7h0M277.4 164.2h0M292.0 162.3h0M304.9 186.9h0M295.6 160.4h0M278.8 170.6h0M291.9 172.9h0M294.5 169.7h0M287.5 178.8h0M292.0 166.4h0M300.4 164.2h0M290.6 172.2h0M285.3 170.2h0M291.7 156.8h0M288.9 169.0h0M292.8 178.5h0M283.1 172.1h0M297.4 163.5h0M288.6 174.1h0M305.6 185.0h0M298.2 158.0h0M286.5 174.8h0M296.7 167.8h0M290.6 163.1h0M296.7 169.8h0M285.7 169.7h0M281.2 158.3h0M291.6 177.3h0M287.1 164.8h0M295.7 159.6h0M272.3 179.8h0M295.7 168.6h0M280.5 166.6h0M289.3 167.3h0M287.5 171.2h0M280.3 179.4h0M284.7 174.2h0M292.3 176.5h0M295.3 170.3h0M298.8 161.9h0M294.4 160.4h0M286.7 167.4h0M289.9 172.1h0M285.5 169.0h0M292.2 168.5h0M292.9 170.8h0M296.3 160.7h0M293.9 172.4h0M287.9 164.9h0M297.2 167.6h0M295.3 161.3h0M281.6 158.7h0M286.3 169.2h0M292.3 178.4h0M295.5 164.7h0M298.3 168.0h0M287.0 179.9h0M294.5 175.9h0M284.8 175.4h0M292.3 169.2h0M272.5 169.1h0M302.9 167.9h0M292.3 165.2h0M289.6 170.1h0M288.6 185.6h0M303.5 167.3h0M294.4 167.3h0M294.1 168.5h0M291.5 166.4h0M276.1 169.6h0M292.2 166.8h0M288.8 167.6h0M292.3 173.1h0M289.7 169.7h0M284.7 161.9h0M286.3 164.6h0M288.7 159.2h0M292.7 165.5h0M288.1 169.1h0M296.6 166.3h0M296.9 168.0h0M291.0 169.0h0M293.4 171.1h0M287.4 166.6h0M296.2 165.8h0M286.9 172.7h0M289.3 163.2h0M285.8 167.5h0M297.4 155.1h0M281.3 174.7h0M285.4 172.7h0M291.4 166.5h0M295.3 164.1h0M295.8 161.3h0M293.3 163.5h0M293.5 164.0h0M293.7 168.5h0M285.2 162.8h0M293.3 175.6h0" stroke="#22e822" stroke-width="1.5" stroke-linecap="square" fill="none" stroke-opacity="0.38"/>
<path d="M290.2 171.6h0M297.0 161.3h0M292.9 155.7h0M287.4 165.9h0M294.4 163.7h0M292.8 161.3h0M292.7 177.2h0M290.6 159.7h0M293.8 165.7h0M288.8 170.8h0M296.4 177.8h0M291.9 162.7h0M291.7 164.0h0M298.0 161.6h0M284.5 163.2h0M287.4 160.0h0M289.9 173.2h0M281.5 171.8h0M281.0 159.5h0M287.1 175.3h0M299.4 164.4h0M307.7 175.1h0M296.3 160.1h0M295.3 164.5h0M282.2 175.3h0M295.1 168.1h0M286.3 172.8h0M288.3 175.1h0M306.5 168.8h0M284.0 170.2h0M292.8 162.7h0M291.0 161.7h0M290.9 168.5h0M282.2 171.1h0M294.2 170.4h0M291.3 164.1h0M292.0 164.2h0M271.9 172.4h0M277.6 167.1h0M294.1 167.0h0M294.4 164.7h0M303.5 174.9h0M294.3 165.9h0M291.9 163.4h0M297.8 162.1h0M294.0 170.5h0M297.5 165.2h0M295.4 161.4h0M294.1 184.2h0M293.0 165.9h0M273.7 185.4h0M289.7 173.7h0M281.4 163.4h0M268.7 191.1h0M296.8 161.5h0M310.8 180.0h0M290.5 164.5h0M292.3 175.2h0M280.4 173.9h0M287.6 168.9h0M312.5 182.2h0M293.8 166.7h0M282.6 174.9h0M297.1 155.8h0M288.9 164.0h0M299.9 160.1h0M293.0 165.4h0M285.2 171.8h0M287.4 176.2h0M288.7 173.1h0M291.9 158.2h0M287.8 196.0h0M296.4 170.4h0M282.4 169.5h0M287.6 169.6h0M294.8 174.2h0M287.2 177.5h0M292.0 169.8h0M287.2 174.0h0M293.2 169.5h0M288.0 167.6h0M293.1 164.9h0M290.3 172.7h0M301.2 166.7h0M290.0 167.1h0M292.2 179.9h0M286.9 176.5h0M286.7 168.8h0M285.0 160.9h0M276.5 157.3h0M290.9 170.5h0M287.9 168.3h0M295.8 166.5h0M287.2 175.0h0M293.8 165.8h0M291.9 165.4h0M284.6 161.6h0M290.1 170.3h0M294.3 165.0h0M292.6 170.5h0M285.3 169.4h0M290.1 175.0h0M286.2 162.5h0M296.6 171.2h0M264.6 194.5h0M284.4 172.2h0M286.7 168.0h0M297.7 156.9h0M308.1 182.6h0M313.7 158.5h0M279.4 179.4h0M289.9 167.6h0M299.4 162.3h0M294.7 165.7h0M290.0 163.6h0M287.8 156.8h0M284.2 174.5h0" stroke="#22e822" stroke-width="1.5" stroke-linecap="square" fill="none" stroke-opacity="0.38"/>
<path d="M264.3 178.8h0M291.9 163.0h0M288.3 167.7h0M285.5 172.5h0M290.5 172.2h0M307.6 163.7h0M286.9 170.5h0M294.4 168.3h0M287.9 168.9h0M290.2 168.9h0M291.6 173.6h0M295.6 168.0h0M266.3 173.7h0M297.7 157.5h0M306.7 151.0h0M284.5 163.3h0M291.9 168.1h0M284.7 174.7h0M291.0 168.0h0M296.3 173.6h0M289.2 171.5h0M289.8 165.8h0M295.1 165.3h0M288.8 177.1h0M292.5 168.4h0M287.9 169.2h0M292.4 172.1h0M299.5 179.4h0M283.5 180.9h0M295.8 173.3h0M294.1 169.3h0M294.0 164.4h0M283.6 165.1h0M282.8 168.5h0M287.5 169.9h0M296.6 166.6h0M294.0 156.9h0M293.3 166.6h0M291.1 161.0h0M289.0 167.9h0M281.8 171.5h0M295.6 171.6h0M291.0 163.1h0M307.2 159.8h0M301.1 161.8h0M274.2 175.2h0M291.1 166.1h0M290.2 168.5h0M282.3 161.7h0M281.4 160.4h0M299.2 163.3h0M296.9 169.8h0M293.2 164.0h0M291.9 181.1h0M289.6 165.4h0M307.9 183.7h0M291.9 170.8h0M296.8 164.4h0M287.5 168.9h0M261.5 190.6h0M292.4 164.2h0M295.8 154.8h0M289.6 166.1h0M294.7 167.4h0M289.6 162.8h0M294.4 165.0h0M286.5 174.5h0M293.7 161.7h0M297.3 168.2h0M294.2 168.3h0M282.7 172.6h0M287.7 165.4h0M294.3 172.0h0M284.0 174.3h0M297.9 161.9h0M287.5 165.7h0M304.7 151.6h0M294.2 172.9h0M273.3 180.3h0M301.5 172.4h0M278.3 174.8h0M290.1 170.3h0M291.6 167.2h0M267.1 183.5h0M290.9 159.0h0M286.1 164.5h0M245.4 192.2h0M287.7 188.5h0M283.6 172.3h0M306.7 156.8h0M287.4 168.5h0M291.3 166.3h0M289.8 171.5h0M286.8 178.3h0M295.4 165.8h0M303.8 166.6h0M286.5 184.5h0M293.2 163.9h0M288.2 152.9h0M292.7 164.2h0M295.0 166.9h0M287.2 160.3h0M291.0 162.0h0M299.1 158.1h0M284.8 169.8h0M285.3 159.4h0M249.6 209.9h0M296.1 176.3h0M284.5 170.2h0M294.5 171.4h0M288.1 172.0h0M286.1 172.5h0M282.9 156.1h0M289.9 167.8h0M288.5 158.2h0M291.8 168.5h0M298.5 158.8h0" stroke="#22e822" stroke-width="1.5" stroke-linecap="square" fill="none" stroke-opacity="0.38"/>
<path d="M288.6 158.8h0M299.6 192.8h0M285.9 161.1h0M294.2 168.2h0M300.6 177.1h0M283.2 169.2h0M291.5 167.0h0M295.3 161.7h0M301.3 170.9h0M296.4 169.1h0M295.1 169.4h0M284.2 170.5h0M290.8 163.5h0M282.9 164.6h0M297.0 163.4h0M293.8 164.5h0M284.9 163.8h0M285.9 175.9h0M291.6 167.7h0M292.1 172.4h0M262.8 202.4h0M295.7 170.1h0M298.4 170.3h0M316.6 164.7h0M276.4 173.8h0M291.5 160.3h0M287.9 167.3h0M292.9 170.8h0M287.4 172.4h0M293.2 166.3h0M294.0 156.5h0M280.8 170.9h0M284.9 181.4h0M294.7 164.1h0M287.9 166.7h0M281.5 174.3h0M294.2 163.0h0M288.7 160.6h0M287.0 172.1h0M306.1 180.0h0M290.1 162.9h0M294.7 163.3h0M296.1 167.8h0M289.7 166.7h0M292.7 164.0h0M247.0 203.2h0M287.2 174.2h0M290.4 163.0h0M282.7 171.2h0M247.4 213.3h0M295.4 162.8h0M297.4 167.5h0M291.8 169.2h0M245.3 204.7h0M274.8 166.8h0M289.0 169.0h0M295.7 164.8h0M290.1 168.0h0M287.5 166.2h0M284.3 169.0h0M280.4 167.5h0M278.9 162.8h0M292.4 169.2h0M299.0 167.5h0M296.8 165.4h0M285.1 172.5h0M275.2 198.5h0M288.3 170.7h0M283.9 171.2h0M279.5 176.9h0M310.0 153.7h0M286.5 164.7h0M289.5 166.8h0M290.4 166.6h0M297.5 166.0h0M284.7 163.6h0M291.6 164.0h0M285.7 166.1h0M297.2 162.8h0M292.9 166.7h0M291.0 166.3h0M296.3 161.4h0M292.4 180.7h0M286.4 175.1h0M295.7 169.7h0M284.1 171.5h0M275.5 187.9h0M301.3 159.3h0M278.0 157.2h0M298.7 169.7h0M290.4 163.5h0M250.3 204.2h0M293.5 170.9h0M294.7 167.5h0M284.8 169.2h0M292.8 168.4h0M298.3 164.1h0M291.6 170.5h0M284.6 164.8h0M298.3 171.9h0M290.2 174.7h0M296.8 166.7h0M289.4 166.6h0M292.3 165.4h0M289.7 167.2h0M245.7 199.2h0M292.8 166.4h0M289.7 169.2h0M284.3 155.6h0M296.7 160.4h0M286.6 175.7h0M285.7 176.0h0M306.8 164.1h0M262.7 189.6h0M297.1 160.6h0M288.3 166.4h0M293.3 164.6h0" stroke="#22e822" stroke-width="1.5" stroke-linecap="square" fill="none" stroke-opacity="0.38"/>
<path d="M290.3 165.4h0M288.8 173.3h0M296.8 159.4h0M293.9 185.6h0M288.1 171.6h0M289.2 169.5h0M298.7 163.7h0M278.7 169.3h0M295.1 168.6h0M290.2 173.6h0M288.5 166.9h0M296.4 170.3h0M305.6 155.1h0M287.5 163.0h0M287.8 170.6h0M289.0 171.7h0M282.4 165.6h0M295.8 168.3h0M289.8 167.2h0M308.6 165.3h0M287.4 178.7h0M284.8 166.0h0M286.5 172.1h0M293.3 167.9h0M292.6 182.5h0M295.6 159.5h0M278.1 173.6h0M284.8 162.8h0M295.2 171.6h0M308.7 163.7h0M286.9 172.4h0M293.2 170.0h0M285.9 174.7h0M292.8 161.6h0M287.4 172.6h0M288.4 169.5h0M290.8 161.2h0M271.8 173.7h0M293.3 170.7h0M295.2 172.2h0M310.9 155.7h0M294.9 162.4h0M289.7 168.7h0M286.9 169.6h0M275.9 160.1h0M295.5 166.2h0M250.8 195.2h0M295.3 158.6h0M287.6 164.8h0M298.7 162.2h0M280.3 166.4h0M294.5 165.6h0M297.6 170.6h0M302.0 168.8h0M290.3 168.2h0M294.9 164.3h0M297.3 164.8h0M289.6 165.4h0M288.5 170.3h0M303.5 165.5h0M288.3 171.8h0M290.0 171.6h0M282.4 178.7h0M290.7 163.3h0M292.6 157.7h0M289.3 165.6h0M278.1 168.0h0M297.7 164.6h0M269.1 176.7h0M288.7 165.7h0M295.9 160.3h0M291.3 172.2h0M293.9 167.8h0M280.0 168.5h0M289.9 163.7h0M290.3 162.5h0M296.0 152.7h0M291.0 173.0h0M278.9 159.1h0M293.4 158.7h0M290.3 169.9h0M300.6 172.2h0M295.6 163.5h0M291.8 167.9h0M292.8 161.5h0M285.4 171.0h0M294.4 162.0h0M291.5 169.6h0M296.5 167.4h0M297.3 164.0h0M288.3 168.1h0M286.4 171.1h0M288.5 171.8h0M290.0 167.9h0M299.2 163.2h0M284.4 172.3h0M284.6 173.1h0M295.2 172.4h0M310.4 168.6h0M293.0 166.9h0M285.6 167.5h0M305.2 173.0h0M286.1 167.6h0M295.7 167.0h0M304.9 188.9h0M277.6 190.9h0M290.0 171.4h0M299.0 173.6h0M288.4 168.6h0M296.5 172.6h0M291.7 171.8h0M299.1 158.6h0M294.0 167.7h0M305.4 176.4h0M295.1 163.6h0M295.3 161.1h0M299.7 158.7h0" stroke="#22e822" stroke-width="1.5" stroke-linecap="square" fill="none" stroke-opacity="0.38"/>
<path d="M291.7 169.4h0M285.9 176.2h0M281.3 174.0h0M294.7 167.4h0M292.6 165.8h0M254.8 195.7h0M295.8 167.6h0M291.8 164.7h0M293.0 163.8h0M301.2 161.6h0M284.3 169.4h0M284.7 168.7h0M290.0 166.4h0M281.7 174.5h0M294.1 167.4h0M287.9 172.1h0M295.5 166.3h0M285.3 174.3h0M286.2 179.0h0M296.9 164.7h0M273.8 177.9h0M290.0 170.5h0M296.6 161.5h0M286.0 161.6h0M284.0 168.9h0M292.0 174.5h0M300.2 168.6h0M289.4 175.9h0M300.0 167.0h0M294.8 167.0h0M286.7 178.4h0M282.0 179.0h0M294.3 170.8h0M286.3 171.4h0M293.4 162.8h0M289.1 163.7h0M294.7 166.2h0M294.1 165.0h0M285.6 171.1h0M286.2 173.5h0M282.6 166.0h0M288.9 172.6h0M293.5 164.7h0M292.7 165.3h0M288.8 167.2h0M291.4 173.3h0M243.6 207.6h0M290.0 166.7h0M294.6 167.1h0M292.5 171.3h0M290.2 171.5h0M292.5 165.4h0M292.5 169.9h0M296.5 159.0h0M292.1 165.9h0M291.7 165.9h0M307.5 164.7h0M307.2 171.4h0M291.0 170.1h0M288.9 173.6h0M293.7 161.0h0M286.9 169.3h0M256.4 193.0h0M291.8 163.0h0M294.6 168.9h0M285.7 166.6h0M301.6 167.1h0M279.6 173.5h0M278.0 175.5h0M291.4 161.8h0M292.2 156.4h0M291.3 175.6h0M278.3 181.1h0M297.5 160.9h0M297.0 170.3h0M286.4 170.9h0M286.5 170.4h0M268.1 189.6h0M288.6 163.3h0M292.5 162.2h0M279.5 181.8h0M288.9 172.6h0M275.3 158.3h0M289.7 175.2h0M259.8 189.9h0M284.0 169.8h0M293.6 165.8h0M293.6 165.6h0M280.5 175.8h0M287.0 172.9h0M290.0 167.9h0M291.0 173.4h0M283.1 168.5h0M293.3 166.5h0M290.7 164.7h0M308.1 177.4h0M288.4 166.9h0M305.2 170.7h0M293.3 173.4h0M289.6 169.3h0M297.9 163.2h0M285.1 167.0h0M290.9 165.3h0M291.7 169.6h0M285.5 166.9h0M304.2 174.0h0M289.1 169.2h0M290.9 170.7h0M286.3 173.5h0M292.3 171.4h0M286.3 170.5h0M287.8 170.3h0M292.6 167.9h0M286.6 169.5h0M288.4 164.8h0M288.2 162.3h0M292.7 165.8h0" stroke="#22e822" stroke-width="1.5" stroke-linecap="square" fill="none" stroke-opacity="0.38"/>
<path d="M272.7 186.9h0M284.1 163.4h0M280.5 180.0h0M287.8 173.3h0M279.0 182.3h0M289.0 172.5h0M279.1 177.2h0M281.4 178.1h0M287.7 177.7h0M294.1 168.0h0M280.0 180.0h0M286.4 175.3h0M273.3 187.3h0M277.0 184.5h0M285.1 180.2h0M285.9 172.9h0M286.2 175.8h0M278.5 174.8h0M275.5 182.2h0M284.5 178.3h0M284.8 172.9h0M289.7 168.7h0M289.6 178.5h0M284.6 180.4h0M287.0 173.0h0M287.3 176.7h0M281.1 178.1h0M292.3 174.9h0M280.4 180.9h0M279.3 180.2h0M286.3 188.4h0M289.9 174.8h0M279.0 175.7h0M281.1 174.7h0M277.2 185.3h0M286.6 176.5h0M300.8 176.5h0M286.2 176.1h0M281.1 180.1h0M281.5 176.3h0M284.4 173.1h0M280.4 177.4h0M289.9 187.1h0M281.9 181.8h0M286.1 176.0h0M284.3 180.4h0M278.4 168.2h0M283.4 173.9h0M282.5 176.7h0M286.0 178.4h0M297.7 166.3h0M286.7 169.4h0M282.1 176.8h0M288.7 178.0h0M284.0 168.7h0M271.0 185.5h0M284.5 173.7h0M287.7 173.8h0M283.1 175.6h0M286.3 175.6h0M276.9 185.3h0M270.1 168.5h0M280.9 176.0h0M284.8 176.0h0M289.5 174.1h0M280.3 181.4h0M280.8 178.4h0M291.9 173.9h0M286.9 170.2h0M281.5 181.4h0M286.5 174.7h0M283.0 177.1h0M280.9 173.7h0M283.9 177.7h0M286.3 178.6h0M285.2 174.8h0M278.5 182.1h0M289.3 176.4h0M276.7 184.9h0M285.8 174.7h0M256.8 187.5h0M275.9 185.2h0M289.0 174.2h0M289.5 174.3h0M275.5 187.1h0M279.1 177.9h0M258.0 195.2h0M267.1 191.8h0M289.9 172.7h0M288.7 171.8h0M281.4 179.5h0M275.0 180.5h0M288.6 172.6h0M283.7 179.0h0M288.9 175.6h0M284.2 180.4h0M283.1 178.9h0M283.6 178.7h0M262.6 181.9h0M276.4 179.6h0M279.2 178.8h0M282.6 176.4h0M274.0 185.8h0M286.8 171.9h0M283.3 175.7h0M281.7 172.4h0M289.9 173.8h0M281.5 178.2h0M275.1 188.0h0M285.9 171.3h0M286.4 170.9h0M283.3 172.3h0M285.8 179.7h0M288.6 173.6h0M284.5 177.8h0M275.0 180.2h0M287.9 175.8h0M282.6 177.0h0M295.9 166.5h0M282.3 180.0h0M289.9 176.4h0M286.0 176.6h0M279.0 185.0h0M281.6 176.5h0M286.1 181.8h0M274.5 175.6h0M292.5 167.0h0M272.7 182.4h0M284.6 177.5h0M281.9 177.1h0M286.5 170.2h0M287.4 178.8h0M285.7 176.1h0M284.9 173.9h0M288.5 172.8h0M274.7 183.6h0M294.3 165.6h0M276.7 179.7h0M281.5 178.1h0M282.7 171.6h0M277.4 185.1h0M287.0 173.4h0M287.5 181.6h0M298.6 169.3h0M289.6 173.9h0M282.8 180.6h0M285.3 177.2h0M284.6 175.3h0M285.9 171.8h0M276.6 184.3h0M280.2 181.3h0M286.7 172.1h0M285.7 178.3h0M276.9 181.2h0M278.3 181.8h0M277.8 180.9h0M294.5 169.6h0M287.0 171.4h0M284.2 177.6h0M282.1 181.9h0M274.9 185.6h0M277.9 177.8h0M288.0 174.7h0M288.0 178.4h0M281.0 180.9h0M299.7 162.5h0M291.5 173.8h0M247.6 206.8h0M286.3 175.9h0M284.3 176.1h0M278.3 177.2h0M288.7 174.2h0M279.4 181.3h0M281.0 177.1h0M278.1 186.0h0M280.6 179.5h0M289.1 172.9h0M278.7 183.6h0M276.0 178.8h0M287.0 182.0h0M281.7 185.4h0M286.9 170.6h0M283.0 187.0h0M287.6 171.5h0M281.4 171.0h0M280.3 179.5h0M285.8 178.8h0M278.0 185.9h0M282.4 176.6h0M287.8 168.2h0M291.4 168.2h0M281.3 180.6h0M278.1 181.9h0M303.8 168.2h0M287.1 186.5h0M262.6 196.1h0M285.3 177.0h0M291.6 173.4h0M276.9 185.9h0M286.2 184.8h0M279.7 180.1h0M278.1 181.8h0M271.1 185.5h0M279.8 180.6h0M286.5 175.5h0M275.6 195.0h0M281.1 179.2h0M282.7 176.5h0M291.6 175.3h0M288.1 181.0h0M283.4 171.2h0M290.2 170.2h0M293.1 175.5h0M286.9 173.7h0M282.4 175.8h0M277.6 183.5h0M277.5 182.2h0M289.2 170.8h0M286.9 174.9h0M287.1 176.6h0M281.8 174.7h0M299.5 174.2h0M288.4 171.3h0M245.4 226.2h0M286.7 176.2h0M285.5 175.9h0M287.4 186.3h0M285.1 178.2h0M287.8 175.1h0M282.4 179.9h0M281.4 175.5h0M278.8 176.0h0M272.7 192.6h0M283.9 172.8h0M275.3 181.4h0M279.2 183.8h0M283.5 169.4h0M282.3 177.5h0M285.5 175.4h0M281.1 182.4h0M273.1 187.2h0M290.8 171.0h0M283.1 183.6h0M284.9 177.6h0M278.8 154.5h0M283.5 180.1h0M286.1 175.6h0M275.8 175.8h0M284.4 173.9h0M288.0 176.6h0M280.2 179.4h0M278.8 181.5h0M280.3 177.1h0M270.9 184.3h0M273.4 181.3h0M283.0 183.1h0M284.2 175.0h0M280.5 179.5h0M284.8 175.6h0M287.4 174.7h0M290.2 171.7h0M275.6 180.1h0M285.2 179.0h0M294.0 177.4h0M283.5 170.0h0M279.1 182.4h0M279.0 178.1h0M288.5 160.2h0M278.2 180.6h0M283.9 176.3h0M288.7 172.0h0M286.9 182.4h0M289.4 172.0h0M286.8 174.4h0M288.6 174.4h0M293.8 178.5h0M289.2 169.1h0M279.5 176.3h0M287.1 175.9h0M291.1 172.7h0M260.0 190.7h0M287.2 175.0h0M276.6 182.0h0M288.1 174.4h0M283.6 183.1h0M279.4 181.0h0M275.6 184.2h0M277.6 177.3h0M282.0 179.1h0M288.5 177.8h0M286.2 176.7h0M292.0 170.5h0M278.3 181.1h0M279.4 174.8h0M278.2 176.2h0M297.9 169.3h0M290.5 174.8h0M279.6 178.5h0M288.5 156.9h0M285.8 175.4h0M286.2 175.8h0M278.2 175.7h0M282.7 174.0h0M280.4 185.1h0M284.6 177.5h0M287.5 173.7h0M283.4 180.6h0M269.4 175.3h0M277.4 176.5h0M283.7 189.6h0M278.7 180.9h0M274.8 192.1h0M286.6 175.3h0M297.8 162.7h0M276.0 183.1h0M287.5 171.1h0M268.4 174.1h0M283.7 179.6h0M281.0 186.8h0M289.2 171.3h0M286.7 174.9h0M284.3 177.2h0M282.6 179.2h0M283.9 177.9h0M282.7 177.5h0M283.9 173.3h0M262.8 170.8h0M287.4 167.7h0M284.6 175.3h0M287.2 174.6h0M276.7 179.9h0M290.7 173.2h0M283.5 175.6h0M285.5 173.9h0M280.5 178.0h0M284.7 175.8h0M280.7 174.3h0M285.2 176.6h0M286.4 175.6h0M283.1 178.3h0M284.9 178.8h0M287.7 177.2h0M283.0 178.8h0M284.2 178.0h0M289.4 171.7h0M280.4 178.8h0M279.7 179.0h0M280.0 178.0h0M286.5 178.0h0M285.7 172.3h0M284.1 187.1h0M265.0 186.0h0M280.3 178.4h0M273.1 179.4h0M286.3 171.8h0M279.6 179.0h0M277.6 184.3h0M282.2 183.0h0M288.4 173.8h0M281.0 177.7h0M282.1 171.2h0M287.0 176.4h0M278.0 178.7h0M279.1 170.2h0M292.1 165.3h0M277.6 184.2h0M290.3 169.6h0M288.8 173.2h0M281.6 178.7h0M280.3 180.3h0M285.8 176.9h0M286.4 174.4h0M283.7 180.3h0M287.6 174.1h0M287.4 174.3h0M279.8 177.8h0M281.7 181.1h0M284.7 174.5h0M279.0 181.3h0M274.1 179.9h0M286.9 171.1h0M286.5 176.1h0M278.8 186.5h0M281.4 172.6h0M279.5 182.4h0M284.5 176.6h0M272.9 186.7h0M281.3 181.3h0M283.8 180.4h0M280.6 182.5h0M292.4 172.5h0M277.2 177.1h0M283.2 181.3h0M288.7 167.6h0M292.6 165.9h0M281.1 181.8h0M283.0 177.6h0M287.7 177.8h0M272.5 182.6h0M286.7 174.1h0M283.6 177.0h0M241.7 200.8h0M268.2 186.6h0M275.7 181.2h0M282.1 176.4h0M287.3 176.3h0M288.3 175.4h0M282.1 179.4h0M287.2 171.8h0M281.8 171.4h0M279.6 178.2h0M288.1 170.2h0M278.4 181.6h0M275.4 173.8h0M289.3 173.1h0M287.8 169.8h0M283.7 182.3h0M286.7 170.9h0M255.3 195.2h0M290.5 172.5h0M281.0 184.9h0M270.1 186.0h0M293.9 174.7h0M289.9 173.5h0M280.4 182.7h0M284.5 173.1h0M287.1 177.8h0M279.6 181.2h0M253.4 211.0h0M273.8 187.8h0M282.3 181.2h0M280.0 178.7h0M276.6 180.6h0M271.4 185.8h0M283.1 172.2h0M287.0 177.4h0M286.2 178.3h0M281.1 179.2h0M291.6 174.8h0M277.5 179.3h0M282.6 180.0h0M293.6 170.9h0M280.3 181.4h0M286.7 174.4h0M291.0 176.5h0M284.8 181.7h0M282.4 181.4h0M277.5 177.3h0M283.9 172.5h0M275.5 178.2h0M281.8 178.4h0M281.0 180.0h0M283.0 172.1h0M288.8 174.6h0M263.4 190.6h0M286.9 172.5h0M284.7 176.1h0" stroke="#ff30ff" stroke-width="1.5" stroke-linecap="square" fill="none" stroke-opacity="0.38"/>
<path d="M288.1 175.8h0M281.8 183.4h0M277.1 176.5h0M282.9 179.0h0M285.4 175.8h0M289.0 176.3h0M285.2 177.8h0M287.8 179.3h0M280.0 179.5h0M284.2 178.0h0M280.6 174.5h0M278.5 179.6h0M283.9 177.7h0M285.5 177.2h0M273.8 178.9h0M293.0 164.9h0M285.0 179.3h0M284.1 176.7h0M283.0 178.8h0M287.9 170.9h0M284.6 178.1h0M284.9 175.1h0M283.8 177.4h0M287.1 171.3h0M289.7 170.1h0M277.0 179.3h0M276.7 184.5h0M286.3 176.6h0M288.2 167.8h0M276.4 183.2h0M279.0 174.8h0M279.7 175.6h0M268.9 177.3h0M283.0 183.1h0M281.1 179.4h0M286.6 174.0h0M284.5 171.2h0M283.6 186.8h0M289.7 184.6h0M285.4 177.7h0M280.6 180.9h0M277.7 183.0h0M275.0 177.4h0M278.8 179.2h0M299.7 177.2h0M282.8 175.9h0M288.7 171.5h0M275.8 178.3h0M286.6 175.2h0M287.2 174.1h0M294.5 170.6h0M285.0 173.2h0M279.1 182.9h0M289.4 169.8h0M275.3 181.1h0M291.5 174.4h0M288.6 171.8h0M293.3 178.6h0M276.9 186.0h0M270.1 180.3h0M284.7 168.4h0M282.3 173.7h0M282.0 173.2h0M286.1 181.8h0M277.9 169.3h0M282.8 183.7h0M283.4 176.3h0M279.9 170.6h0M283.1 179.2h0M288.8 171.8h0M294.3 184.3h0M293.4 173.9h0M277.4 184.3h0M285.9 179.5h0M285.4 171.3h0M268.6 190.2h0M289.7 174.3h0M282.0 178.2h0M286.3 174.9h0M271.1 185.0h0M268.5 187.2h0M276.0 183.2h0M280.9 178.2h0M287.3 167.6h0M275.0 185.3h0M283.0 171.7h0M274.2 181.3h0M286.8 176.3h0M253.2 201.1h0M286.3 182.0h0M281.2 179.8h0M280.3 177.3h0M284.9 175.9h0M273.3 182.8h0M293.0 173.7h0M284.5 174.6h0M278.1 181.9h0M274.0 182.3h0M277.4 184.2h0M282.2 178.8h0M274.5 189.9h0M280.7 182.6h0M291.5 168.0h0M292.2 164.5h0M240.7 211.2h0M276.0 191.3h0M282.6 175.2h0M288.4 179.9h0M278.8 187.5h0M275.7 185.1h0M285.3 178.1h0M291.1 172.4h0M289.1 172.7h0M286.9 178.3h0M287.3 178.9h0M279.0 186.3h0M282.5 174.2h0M295.2 168.0h0M289.4 174.3h0M278.6 185.2h0M287.8 177.6h0M287.7 174.6h0M294.3 173.1h0M286.6 180.2h0M283.6 175.4h0M273.2 177.2h0M279.2 184.2h0M292.1 167.4h0M281.5 179.8h0M283.8 176.4h0M289.4 172.5h0M285.5 176.7h0M279.9 183.1h0M286.7 173.1h0M273.8 179.0h0M285.8 178.4h0M286.6 171.2h0M285.4 174.2h0M279.5 177.4h0M286.9 172.8h0M283.4 173.8h0M285.1 181.3h0M291.9 167.9h0M282.1 180.0h0M286.0 172.8h0M274.0 187.5h0M280.3 175.3h0M274.9 179.3h0M283.4 171.8h0M280.4 179.5h0M279.2 176.8h0M278.2 179.5h0M284.7 173.9h0M290.5 172.6h0M286.0 179.4h0M286.0 178.3h0M286.0 177.6h0M236.7 214.2h0M281.2 182.1h0M279.5 177.9h0M281.8 178.7h0M288.1 172.9h0M284.1 174.1h0M274.6 177.4h0M292.2 184.1h0M280.3 179.2h0M289.9 178.8h0M287.5 176.7h0M285.9 178.3h0M280.9 175.3h0M284.6 172.3h0M286.1 176.0h0M288.4 172.5h0M274.7 186.6h0M302.9 178.3h0M285.4 179.8h0M275.0 183.9h0M282.0 177.2h0M285.8 172.2h0M284.9 174.3h0M285.0 175.3h0M284.1 176.8h0M281.7 179.5h0M285.6 174.2h0M284.1 181.7h0M283.6 174.5h0M287.3 172.6h0M284.3 177.6h0M284.3 178.5h0M291.2 169.4h0M290.5 169.2h0M281.6 181.1h0M279.6 184.5h0M285.4 172.7h0M286.8 192.5h0M279.2 180.7h0M285.2 177.9h0M283.8 179.6h0M286.4 170.9h0M278.3 179.4h0M278.5 179.3h0M282.9 174.1h0M284.2 179.5h0M280.5 182.0h0M278.4 164.1h0M288.3 170.9h0M288.2 165.0h0M289.7 173.5h0M281.1 178.1h0M285.5 171.0h0M272.3 184.0h0M261.7 177.6h0M289.8 173.4h0M283.9 173.7h0M289.7 177.5h0M285.2 170.6h0M282.3 181.2h0M279.0 172.1h0M287.5 178.8h0M289.3 172.3h0M282.3 179.0h0M287.7 179.2h0M292.5 170.6h0M284.8 178.1h0M288.9 175.9h0M290.3 175.3h0M290.3 172.7h0M286.0 170.9h0M295.0 179.2h0M252.6 202.7h0M278.7 182.5h0M284.9 175.3h0M275.2 180.2h0M295.2 163.7h0M280.7 178.3h0M284.2 173.5h0M287.6 168.0h0M290.6 176.5h0M248.4 209.2h0M288.3 172.9h0M288.7 171.9h0M281.8 177.4h0M283.1 181.6h0M272.1 170.0h0M279.9 183.7h0M286.2 179.8h0M280.3 177.0h0M285.5 177.8h0M288.1 175.3h0M287.9 171.1h0M280.7 180.5h0M290.0 173.9h0M282.3 170.1h0M283.7 173.1h0M284.5 176.0h0M290.3 169.7h0M289.4 170.8h0M274.6 188.9h0M282.4 171.4h0M288.7 175.9h0M270.6 185.4h0M293.7 169.7h0M278.3 179.3h0M287.3 168.6h0M279.5 174.9h0M289.6 172.3h0M295.3 158.9h0M277.1 180.2h0M283.3 186.0h0M286.0 167.4h0M276.9 174.2h0M289.7 172.3h0M297.0 172.0h0M277.2 178.3h0M279.7 182.4h0M286.6 165.9h0M277.7 187.5h0M280.0 178.6h0M284.4 177.5h0M286.1 177.4h0M284.9 177.6h0M282.7 179.1h0M278.8 184.0h0M286.7 182.7h0M283.1 177.2h0M285.1 174.1h0M281.0 181.2h0M286.4 177.5h0M279.9 177.4h0M284.9 178.8h0M277.3 182.1h0M281.4 179.6h0M279.2 183.9h0M279.9 179.6h0M285.3 177.6h0M280.4 173.6h0M279.7 175.6h0M286.3 176.1h0M281.5 179.1h0M283.9 170.2h0M265.2 177.3h0M280.6 177.8h0M281.8 181.1h0M285.0 175.4h0M283.6 175.6h0M287.5 172.8h0M290.0 174.4h0M287.8 169.9h0M288.0 168.7h0M282.4 175.7h0M282.1 177.4h0M281.3 181.3h0M276.7 181.3h0M282.7 179.1h0M286.3 168.0h0M280.4 183.3h0M292.7 173.1h0M280.9 173.7h0M286.3 174.6h0M275.6 176.5h0M280.4 180.3h0M275.1 175.2h0M277.3 178.0h0M297.9 162.5h0M271.5 185.9h0M286.1 177.7h0M278.3 183.8h0M277.7 180.6h0M286.0 175.3h0M283.2 179.9h0M281.4 172.7h0M283.6 171.8h0M290.4 167.0h0M276.4 191.7h0M279.7 178.7h0M290.1 170.3h0M278.1 176.1h0M283.8 155.5h0M280.3 178.8h0M286.6 170.9h0M282.9 178.8h0M288.3 173.1h0M285.0 180.5h0M279.7 181.8h0M293.0 172.2h0M278.4 182.2h0M282.0 177.6h0M279.2 181.0h0M291.3 168.2h0M290.9 179.2h0M237.3 223.6h0M293.5 164.7h0M289.3 172.8h0M288.5 175.1h0M280.4 178.3h0M281.7 176.6h0M282.9 174.9h0M282.3 176.6h0M282.9 171.0h0M286.7 176.2h0M275.8 187.1h0M286.1 176.0h0M289.5 174.6h0M285.6 169.8h0M289.2 174.9h0M278.5 181.0h0M273.4 184.0h0M283.1 179.5h0M285.1 177.6h0M284.1 182.3h0M288.7 173.7h0M293.7 170.3h0M279.0 183.2h0M285.6 178.1h0M272.6 177.2h0M275.7 177.9h0M279.7 180.0h0M260.8 196.6h0M279.2 179.3h0M283.1 177.5h0M287.4 171.1h0M280.3 175.2h0M285.7 173.3h0M284.3 178.1h0M278.0 182.8h0M284.1 174.8h0M283.9 178.3h0M281.2 172.9h0M281.7 176.4h0M282.7 174.4h0M285.7 174.6h0M287.1 170.1h0M276.1 179.2h0M277.4 180.2h0M278.4 181.1h0M288.0 175.9h0M280.8 179.5h0M286.4 176.2h0M275.7 178.2h0M288.2 160.6h0M284.5 181.5h0M282.8 178.1h0M276.9 177.9h0M287.2 169.7h0M278.2 183.2h0M281.2 177.2h0M287.3 164.8h0M276.7 181.7h0M292.2 163.1h0M285.2 182.7h0M288.9 173.8h0M277.3 182.1h0M279.0 179.9h0M290.4 170.9h0M287.8 180.7h0M280.9 180.6h0M283.6 173.8h0M285.9 167.4h0M284.5 181.6h0M278.5 182.1h0M292.4 174.2h0M284.3 176.0h0M275.9 186.2h0M288.1 174.8h0M285.3 173.6h0M266.3 191.1h0M292.7 175.6h0M283.0 175.8h0M284.9 178.8h0M285.9 174.9h0M283.7 178.9h0M286.1 178.0h0M290.4 171.3h0M284.9 174.4h0M283.3 178.3h0M277.6 188.2h0M288.8 171.1h0M276.7 173.5h0M283.9 173.7h0M285.1 174.9h0M291.2 164.3h0M285.0 174.5h0M276.4 181.1h0M285.9 174.4h0M288.1 176.8h0M281.8 173.1h0M289.4 170.2h0M282.2 180.4h0M245.2 202.8h0M286.9 175.7h0M276.8 178.0h0M295.6 195.7h0M285.5 167.3h0M292.7 176.5h0M279.2 176.8h0M289.6 175.4h0" stroke="#ff30ff" stroke-width="1.5" stroke-linecap="square" fill="none" stroke-opacity="0.38"/>
<path d="M271.2 183.7h0M277.8 175.3h0M287.9 166.9h0M278.2 176.3h0M276.7 191.0h0M279.4 176.3h0M284.5 190.8h0M298.9 170.0h0M282.2 170.7h0M282.8 178.8h0M283.7 172.6h0M281.9 173.4h0M282.9 178.7h0M296.1 165.6h0M288.1 169.3h0M276.8 172.9h0M282.0 183.0h0M290.0 169.2h0M292.4 171.0h0M283.0 175.4h0M288.5 168.3h0M284.4 175.2h0M285.5 176.8h0M295.5 182.0h0M289.1 174.6h0M272.5 170.2h0M286.5 177.6h0M285.5 176.3h0M281.4 178.2h0M270.6 188.9h0M280.2 175.1h0M280.3 179.7h0M283.6 176.2h0M290.8 176.5h0M284.4 173.0h0M279.4 177.2h0M290.2 177.1h0M279.8 177.4h0M281.5 180.2h0M274.6 181.9h0M280.4 173.5h0M280.5 185.3h0M288.7 177.1h0M275.7 171.8h0M279.2 175.0h0M290.2 169.0h0M282.3 174.7h0M278.2 174.9h0M295.2 168.1h0M284.0 176.6h0M281.4 176.9h0M280.3 173.6h0M285.9 171.5h0M287.8 175.7h0M278.0 180.0h0M288.2 175.4h0M246.2 237.3h0M288.5 169.4h0M289.5 168.7h0M282.7 179.5h0M283.2 178.7h0M281.3 175.5h0M287.0 169.7h0M293.4 180.3h0M273.2 183.1h0M289.8 172.2h0M282.0 178.0h0M274.7 180.8h0M288.1 175.4h0M278.6 182.7h0M283.3 173.9h0M283.4 177.1h0M281.1 179.8h0M278.3 175.0h0M251.8 209.3h0M279.7 177.1h0M287.7 172.5h0M295.3 165.4h0M275.0 178.8h0M283.4 169.9h0M276.8 185.7h0M282.9 179.7h0M296.0 170.9h0M286.2 170.7h0M287.0 173.2h0M311.8 173.4h0M283.2 175.1h0M283.4 175.7h0M283.6 177.3h0M283.4 175.2h0M276.0 185.9h0M277.2 178.6h0M279.2 182.4h0M281.1 181.0h0M284.7 172.2h0M284.5 175.9h0M279.5 182.4h0M277.7 183.2h0M282.1 176.8h0M282.7 175.0h0M281.8 178.4h0M290.8 186.3h0M280.0 182.2h0M283.2 172.6h0M283.6 177.4h0M283.0 183.6h0M273.7 189.5h0M279.2 183.7h0M291.5 173.8h0M294.3 173.1h0M282.4 174.0h0M283.3 180.9h0M283.0 176.2h0M274.5 179.6h0M283.3 182.8h0M285.2 174.2h0M286.6 172.8h0M291.1 168.9h0M276.0 178.7h0M282.3 175.4h0M283.4 179.2h0M284.2 174.8h0M282.2 176.4h0M284.6 175.7h0M288.1 171.9h0M281.7 175.7h0M283.4 174.9h0M275.1 191.4h0M301.3 172.2h0M289.5 169.7h0M293.2 168.5h0M297.9 167.9h0M288.1 170.9h0M287.7 176.3h0M288.7 170.7h0M285.8 169.0h0M283.4 172.3h0M278.9 183.1h0M288.8 175.8h0M289.4 171.6h0M287.7 175.1h0M283.4 181.2h0M284.7 182.3h0M286.3 173.7h0M286.7 177.6h0M290.9 168.4h0M284.6 166.6h0M280.3 183.8h0M290.4 172.2h0M285.9 180.6h0M278.8 175.8h0M287.3 177.0h0M284.8 171.8h0M286.1 179.8h0M286.5 176.3h0M280.9 181.0h0M271.4 182.5h0M285.3 181.9h0M292.1 169.9h0M277.6 182.5h0M281.7 182.8h0M280.5 174.0h0M279.9 177.8h0M284.7 172.1h0M292.8 171.6h0M274.9 183.5h0M277.9 179.7h0M283.5 175.6h0M281.7 171.8h0M272.0 186.4h0M289.0 174.9h0M267.3 186.4h0M282.5 177.6h0M285.2 178.0h0M277.9 176.7h0M284.0 184.5h0M277.3 180.8h0M280.9 181.9h0M280.5 176.7h0M290.3 174.8h0M289.0 173.8h0M278.1 178.2h0M276.7 188.1h0M280.1 182.3h0M274.3 172.3h0M284.4 171.1h0M283.6 179.6h0M281.8 173.4h0M282.3 178.0h0M285.2 179.7h0M281.3 181.0h0M279.1 178.6h0M245.1 200.6h0M292.2 178.5h0M284.2 177.3h0M284.0 174.0h0M279.8 181.0h0M275.4 183.7h0M291.4 167.1h0M288.3 174.9h0M284.5 178.9h0M281.1 177.1h0M279.9 179.1h0M287.0 181.6h0M282.9 178.6h0M282.6 175.6h0M298.4 177.3h0M285.9 177.8h0M282.0 180.1h0M283.7 168.5h0M276.5 176.8h0M289.6 172.9h0M285.6 174.0h0M279.1 175.5h0M282.7 175.9h0M288.1 178.3h0M284.9 175.8h0M283.9 181.1h0M283.0 178.0h0M280.5 178.1h0M287.2 174.1h0M289.0 177.1h0M282.7 160.6h0M283.0 174.3h0M289.2 178.4h0M283.1 174.4h0M283.8 172.8h0M293.8 171.1h0M292.8 169.5h0M289.2 176.6h0M287.5 169.3h0M283.8 179.9h0M289.0 171.2h0M294.7 167.7h0M296.5 167.2h0M281.1 181.8h0M288.3 172.9h0M290.4 173.1h0M282.0 178.4h0M281.7 179.1h0M289.0 175.5h0M297.4 177.9h0M281.4 172.3h0M270.7 184.2h0M270.4 167.4h0M285.9 174.9h0M280.7 179.6h0M278.9 178.8h0M288.4 177.0h0M280.5 181.7h0M291.2 172.3h0M285.5 161.8h0M298.0 174.4h0M291.5 174.3h0M287.4 176.6h0M288.8 172.3h0M283.6 175.7h0M284.9 175.3h0M279.9 178.5h0M274.8 186.8h0M278.7 176.8h0M291.0 192.8h0M280.8 178.3h0M280.0 180.4h0M281.1 181.2h0M291.1 172.6h0M287.3 173.5h0M286.4 172.5h0M280.7 180.1h0M289.3 177.5h0M282.9 177.1h0M282.5 174.1h0M284.2 177.8h0M277.4 167.6h0M286.1 174.0h0M283.4 181.1h0M282.4 180.6h0M280.3 178.5h0M277.8 179.6h0M287.7 175.1h0M286.1 173.7h0M221.7 151.2h0M274.6 184.5h0M280.9 182.1h0M273.6 182.4h0M280.0 173.9h0M282.8 182.8h0M290.1 175.3h0M285.5 178.0h0M282.4 174.7h0M282.3 172.9h0M276.1 186.1h0M287.8 177.7h0M289.7 169.7h0M279.8 191.6h0M288.1 180.5h0M275.5 179.7h0M279.8 180.9h0M285.8 176.8h0M271.6 184.0h0M287.5 171.0h0M284.9 178.1h0M280.3 180.1h0M285.0 174.9h0M294.3 169.9h0M290.8 175.6h0M285.1 180.1h0M281.8 183.2h0M277.9 187.3h0M289.1 169.8h0M289.0 174.0h0M283.2 177.1h0M285.8 177.4h0M288.2 172.1h0M291.9 172.7h0M280.9 183.0h0M267.6 201.0h0M276.8 185.4h0M282.5 174.5h0M286.6 174.6h0M284.3 177.4h0M288.0 173.1h0M278.8 183.9h0M290.2 179.7h0M285.7 187.4h0M276.0 184.7h0M285.0 176.5h0M281.0 180.2h0M282.9 176.9h0M276.5 184.4h0M278.5 184.1h0M289.6 175.0h0M279.4 177.4h0M285.8 177.5h0M282.1 175.9h0M275.2 180.6h0M283.4 177.1h0M285.9 175.9h0M278.2 178.9h0M281.1 180.2h0M284.4 179.4h0M280.5 179.5h0M274.1 184.8h0M278.6 183.5h0M275.1 182.8h0M283.2 179.3h0M286.3 179.0h0M290.4 172.0h0M279.4 180.2h0M287.2 168.8h0M281.1 181.9h0M290.2 172.7h0M288.0 172.8h0M286.1 166.1h0M282.1 173.7h0M282.7 176.0h0M287.2 174.9h0M279.5 180.8h0M289.4 171.5h0M284.4 177.6h0M281.1 176.8h0M246.8 200.9h0M284.9 169.5h0M292.8 169.4h0M284.0 174.9h0M283.4 174.5h0M291.9 176.8h0M284.7 170.5h0M282.1 180.5h0M281.3 176.6h0M256.8 194.9h0M288.2 168.5h0M290.1 177.3h0M275.7 180.6h0M277.6 173.5h0M280.3 180.5h0M288.4 173.3h0M290.1 171.3h0M280.7 179.1h0M285.8 175.9h0M287.4 179.3h0M281.1 183.5h0M278.5 179.0h0M284.6 179.7h0M282.7 176.6h0M273.0 192.1h0M284.2 175.3h0M283.1 179.1h0M285.0 174.1h0M283.8 175.9h0M277.6 185.3h0M285.3 172.1h0M288.1 174.2h0M288.5 171.3h0M268.2 197.0h0M281.5 179.2h0M281.7 171.0h0M293.6 174.7h0M279.5 179.3h0M280.6 177.0h0M294.8 168.4h0M286.6 177.3h0M282.6 171.3h0M283.6 175.4h0M281.9 172.1h0M260.2 195.4h0M276.2 181.9h0M276.0 188.4h0M295.0 169.2h0M283.5 176.4h0M282.0 175.6h0M275.1 177.0h0M279.8 161.7h0M287.7 171.6h0M290.2 177.7h0M289.0 172.9h0M294.3 167.3h0M280.1 180.4h0M286.5 177.8h0M293.3 170.5h0M303.5 162.5h0M276.6 184.0h0M280.5 176.0h0M274.6 181.3h0M278.3 185.2h0M253.8 195.0h0M285.3 169.5h0M287.8 176.0h0M287.1 172.8h0M287.1 180.2h0M282.2 175.7h0M308.9 165.9h0M295.6 166.8h0M273.8 187.9h0M279.2 181.4h0M277.3 177.3h0M287.8 168.0h0M280.2 176.0h0M284.9 174.6h0M282.6 174.1h0M295.8 164.0h0M285.5 176.9h0M284.1 178.5h0M287.6 178.3h0M276.5 177.3h0M281.0 180.4h0M278.9 179.3h0M290.9 177.8h0M281.9 187.1h0M292.0 172.2h0M284.5 182.1h0M252.4 183.8h0M292.4 189.2h0M287.8 173.0h0M246.3 201.0h0M285.7 179.8h0" stroke="#ff30ff" stroke-width="1.5" stroke-linecap="square" fill="none" stroke-opacity="0.38"/>
<path d="M293.9 165.0h0M263.3 189.8h0M279.9 179.3h0M291.2 171.3h0M253.1 213.0h0M263.1 190.4h0M279.3 179.6h0M277.8 181.6h0M281.8 177.9h0M285.0 173.7h0M288.0 174.9h0M292.6 164.7h0M278.4 177.4h0M275.8 186.5h0M276.0 172.6h0M288.2 175.5h0M287.1 177.9h0M287.4 177.7h0M290.1 173.0h0M280.4 182.2h0M280.1 183.8h0M288.1 173.5h0M287.8 170.1h0M279.9 184.0h0M278.8 175.6h0M283.3 175.7h0M291.0 169.2h0M286.1 176.0h0M290.8 170.6h0M284.9 171.6h0M291.3 173.7h0M274.4 177.2h0M286.2 170.1h0M277.6 181.6h0M274.8 185.7h0M285.9 172.8h0M286.1 174.9h0M282.0 176.9h0M290.8 175.0h0M287.9 174.3h0M288.5 174.8h0M287.9 177.0h0M286.4 175.1h0M282.9 176.6h0M288.7 169.4h0M274.1 183.7h0M288.3 171.8h0M284.5 178.3h0M277.5 181.2h0M280.3 182.3h0M286.0 172.0h0M274.4 185.3h0M283.9 174.8h0M288.2 169.6h0M282.5 176.8h0M278.0 180.9h0M287.8 170.3h0M281.7 175.7h0M283.6 173.0h0M288.6 178.1h0M282.6 171.6h0M274.0 184.2h0M284.2 174.6h0M283.4 179.5h0M286.2 180.5h0M267.1 175.3h0M280.2 181.9h0M286.4 171.8h0M294.0 174.2h0M288.0 176.6h0M290.5 172.5h0M277.7 185.4h0M283.3 180.6h0M293.9 171.0h0M286.2 174.4h0M282.1 177.2h0M256.6 197.1h0M278.9 185.3h0M283.6 181.9h0M285.6 170.9h0M278.9 179.2h0M287.4 178.1h0M278.3 185.7h0M278.5 180.3h0M281.1 180.7h0M287.2 173.3h0M265.5 182.9h0M279.4 181.8h0M286.4 176.5h0M284.3 173.1h0M275.6 186.2h0M277.5 180.1h0M279.5 183.3h0M285.1 176.1h0M284.2 173.2h0M282.4 178.7h0M279.8 185.6h0M289.2 170.9h0M288.5 177.3h0M279.2 175.4h0M287.5 181.0h0M288.8 169.1h0M290.2 172.5h0M287.5 176.6h0M288.2 180.6h0M290.2 174.0h0M285.9 170.9h0M285.4 173.2h0M277.0 182.1h0M276.5 176.0h0M274.1 178.8h0M296.4 165.7h0M286.1 165.1h0M281.6 180.7h0M258.5 193.0h0M274.1 186.6h0M281.1 178.7h0M287.5 173.5h0M283.5 176.3h0M261.4 203.6h0M269.0 161.3h0M288.1 180.3h0M284.8 177.1h0M278.2 177.2h0M280.3 180.2h0M278.1 180.1h0M240.8 203.4h0M286.0 176.5h0M277.0 185.0h0M276.6 179.4h0M281.9 177.9h0M285.9 176.7h0M276.9 179.1h0M291.0 171.5h0M283.7 177.9h0M291.6 167.2h0M279.5 178.4h0M292.9 170.3h0M284.7 178.5h0M287.2 169.8h0M278.7 168.8h0M284.4 177.5h0M279.2 181.7h0M288.0 175.5h0M278.8 172.0h0M259.1 179.9h0M288.2 171.9h0M290.9 173.1h0M271.7 186.1h0M282.0 180.4h0M281.0 180.6h0M281.2 182.3h0M275.3 182.1h0M289.7 172.5h0M291.9 173.8h0M295.6 169.3h0M284.9 175.0h0M282.6 181.7h0M286.4 176.9h0M288.3 182.1h0M280.3 177.2h0M272.7 181.4h0M287.0 173.8h0M278.1 181.0h0M275.4 181.5h0M291.8 176.8h0M289.1 167.8h0M282.9 174.7h0M281.9 178.5h0M273.6 182.5h0M284.5 180.7h0M285.9 182.0h0M284.4 179.8h0M289.8 171.7h0M284.3 175.8h0M274.7 175.2h0M282.8 177.9h0M281.5 174.8h0M287.7 178.8h0M278.5 179.3h0M286.7 175.7h0M279.4 166.6h0M285.0 181.5h0M278.3 185.3h0M280.3 180.2h0M289.4 168.2h0M285.1 175.0h0M286.0 171.9h0M279.6 180.8h0M286.1 175.5h0M279.3 180.9h0M286.7 170.0h0M287.3 175.8h0M288.8 175.4h0M284.5 176.9h0M258.2 197.6h0M279.7 173.4h0M288.9 174.7h0M277.2 180.7h0M295.8 174.9h0M282.8 179.2h0M276.5 183.5h0M285.2 171.7h0M293.6 168.6h0M300.0 153.1h0M279.3 179.5h0M288.0 176.0h0M285.9 174.2h0M293.6 169.0h0M285.1 167.7h0M291.0 176.9h0M277.0 179.2h0M282.8 175.2h0M281.6 180.8h0M289.9 169.8h0M290.0 168.9h0M289.8 172.3h0M285.6 178.0h0M273.8 173.3h0M282.4 181.5h0M282.4 180.0h0M282.5 178.2h0M275.3 184.4h0M282.0 180.8h0M278.7 180.2h0M281.0 185.9h0M287.4 162.7h0M278.7 183.9h0M286.8 174.6h0M289.4 169.1h0M275.4 183.7h0M290.3 176.8h0M280.8 176.3h0M291.8 174.1h0M278.3 174.6h0M290.9 175.0h0M286.7 174.1h0M287.6 173.7h0M284.3 174.3h0M279.6 179.0h0M284.0 177.2h0M278.1 181.1h0M279.3 185.4h0M282.0 178.7h0M284.3 175.1h0M283.8 175.7h0M275.6 185.8h0M288.3 174.6h0M276.3 179.3h0M283.3 176.8h0M282.1 179.4h0M284.2 175.3h0M290.0 173.8h0M268.3 182.3h0M276.3 181.9h0M274.3 178.7h0M282.0 177.0h0M285.3 174.6h0M283.2 186.3h0M276.7 183.4h0M282.0 178.2h0M285.3 172.9h0M281.1 176.2h0M280.1 182.7h0M286.7 174.7h0M283.0 180.5h0M281.4 179.3h0M292.4 169.9h0M295.6 172.8h0M278.5 177.9h0M278.9 174.4h0M285.8 173.6h0M287.7 177.0h0M282.4 175.9h0M278.1 173.2h0M280.6 171.5h0M279.5 183.3h0M289.6 170.2h0M284.3 177.4h0M299.3 173.1h0M280.8 175.7h0M285.1 171.7h0M294.8 171.7h0M279.5 177.4h0M274.4 169.4h0M270.1 187.6h0M270.2 184.2h0M285.7 179.2h0M287.1 174.2h0M287.0 174.6h0M283.0 179.8h0M293.3 169.1h0M280.4 179.1h0M279.9 180.5h0M268.9 178.9h0M281.1 178.1h0M285.6 176.0h0M277.7 179.6h0M278.1 183.4h0M277.8 176.6h0M285.6 177.8h0M284.8 168.3h0M278.7 172.9h0M280.8 181.1h0M292.1 177.8h0M283.1 177.9h0M284.1 180.9h0M283.0 177.7h0M273.6 183.5h0M285.9 178.3h0M283.2 176.3h0M289.1 170.2h0M289.0 171.6h0M277.4 187.5h0M283.6 165.5h0M274.6 180.3h0M280.0 183.7h0M302.0 178.8h0M283.5 178.0h0M280.6 178.4h0M284.9 177.3h0M300.3 177.7h0M280.2 179.4h0M280.7 186.5h0M284.9 174.2h0M289.2 173.4h0M290.2 173.0h0M287.9 173.0h0M291.2 172.6h0M289.5 172.9h0M281.1 173.3h0M287.1 166.2h0M285.2 174.4h0M289.6 178.6h0M279.8 180.6h0M283.4 179.9h0M288.8 170.8h0M288.7 177.4h0M284.4 179.1h0M286.6 177.1h0M280.2 169.1h0M284.6 175.9h0M284.3 175.9h0M278.7 184.6h0M278.1 181.0h0M283.9 173.1h0M292.0 167.1h0M288.3 171.1h0M287.2 178.2h0M278.5 187.2h0M302.2 168.9h0M295.5 169.8h0M283.0 184.4h0M291.5 161.5h0M293.9 164.7h0M273.1 173.0h0M274.2 188.6h0M283.5 173.0h0M301.8 166.3h0M285.2 179.7h0M291.2 174.0h0M288.5 176.2h0M286.4 174.6h0M282.8 177.2h0M280.6 178.0h0M282.8 175.2h0M283.5 171.4h0M279.7 180.7h0M284.8 173.6h0M285.7 179.4h0M280.3 179.3h0M282.6 174.5h0M282.7 173.4h0M282.2 175.6h0M275.5 180.7h0M288.9 157.0h0M240.6 219.6h0M282.1 178.5h0M283.1 178.3h0M278.1 179.3h0M288.4 175.3h0M281.1 180.4h0M284.2 175.2h0M280.2 175.5h0M282.6 176.4h0M277.9 178.3h0M285.5 176.6h0M284.7 175.5h0M286.1 173.5h0M288.7 175.7h0M274.1 181.0h0M281.1 177.2h0M274.5 180.8h0M272.6 184.1h0M292.1 172.5h0M272.2 175.5h0M288.7 168.2h0M306.1 153.1h0M269.7 188.4h0M285.7 178.0h0M292.3 168.5h0M291.1 173.4h0M283.9 179.2h0M278.8 173.9h0M305.5 173.7h0M296.9 161.7h0M280.3 180.9h0M290.9 173.6h0M292.1 173.3h0M289.4 173.2h0M276.3 181.0h0M288.3 180.7h0M280.6 172.8h0M270.2 183.7h0M297.0 175.8h0M285.2 176.6h0M292.1 173.5h0M279.7 178.8h0M286.2 175.0h0M281.8 180.8h0M282.9 177.9h0M283.2 179.8h0M281.7 176.1h0M281.8 182.4h0M288.1 179.3h0M286.0 177.8h0M282.3 169.7h0M289.7 168.2h0M285.1 176.0h0M281.1 180.6h0M282.0 183.1h0M286.4 176.0h0M280.3 180.0h0M284.5 182.5h0M278.1 178.0h0M276.3 181.8h0M286.2 173.4h0M282.8 177.0h0M298.6 169.5h0M278.9 176.1h0M297.6 167.7h0M291.1 168.7h0M285.4 169.5h0M283.5 176.5h0M285.3 180.1h0M289.9 167.1h0M279.0 178.0h0M287.7 176.1h0M254.7 191.5h0M292.6 179.1h0M278.6 184.6h0M280.4 178.5h0M275.7 180.6h0M281.8 182.5h0M282.5 180.3h0M276.4 183.7h0" stroke="#ff30ff" stroke-width="1.5" stroke-linecap="square" fill="none" stroke-opacity="0.38"/>
<path d="M279.7 176.1h0M266.2 184.8h0M291.1 172.1h0M283.0 172.1h0M284.2 175.7h0M290.9 169.4h0M286.2 176.2h0M287.3 168.8h0M282.7 182.8h0M295.0 176.4h0M283.4 175.3h0M279.1 179.7h0M282.3 176.3h0M288.1 169.2h0M289.8 172.5h0M300.6 166.8h0M292.3 176.6h0M280.3 180.0h0M283.9 169.1h0M293.6 172.7h0M286.8 179.5h0M282.7 174.4h0M277.5 182.3h0M279.2 185.6h0M286.0 176.2h0M286.0 176.0h0M291.5 169.1h0M286.7 177.8h0M284.8 175.8h0M286.8 175.6h0M275.3 182.7h0M287.1 171.3h0M282.3 181.8h0M265.4 188.6h0M277.8 185.3h0M282.6 177.7h0M275.0 183.7h0M278.9 182.0h0M289.6 172.7h0M276.6 183.5h0M278.2 186.6h0M282.8 177.6h0M280.4 176.6h0M280.8 172.4h0M288.0 180.3h0M283.2 179.4h0M285.6 174.2h0M284.6 172.7h0M279.6 176.0h0M287.8 162.3h0M285.5 173.8h0M292.7 173.4h0M289.6 168.5h0M282.5 179.3h0M292.1 167.5h0M287.6 174.0h0M295.2 168.6h0M279.1 180.1h0M272.8 185.4h0M288.5 168.0h0M288.5 176.2h0M278.6 179.0h0M281.7 178.8h0M285.9 175.4h0M281.1 176.4h0M293.9 167.5h0M286.2 174.2h0M276.6 178.7h0M279.4 181.8h0M285.7 178.0h0M283.4 175.3h0M281.2 176.1h0M286.4 164.5h0M288.8 177.6h0M290.6 172.9h0M289.2 169.0h0M292.7 170.8h0M292.9 170.8h0M285.5 176.5h0M277.7 181.2h0M286.2 174.0h0M285.4 175.7h0M279.3 175.8h0M286.8 169.9h0M282.0 166.0h0M282.9 177.9h0M284.4 190.8h0M280.2 182.9h0M282.6 179.8h0M291.8 163.3h0M283.0 177.4h0M282.4 171.1h0M273.2 187.1h0M282.6 177.4h0M286.2 171.5h0M291.4 174.2h0M274.7 174.0h0M285.9 177.2h0M295.0 175.9h0M288.5 169.3h0M291.7 170.3h0M280.2 180.7h0M279.0 177.1h0M279.6 183.3h0M280.7 179.6h0M279.6 177.0h0M280.9 174.5h0M280.6 176.7h0M294.0 167.8h0M286.1 169.4h0M281.0 179.0h0M280.3 179.8h0M281.9 181.1h0M280.4 183.2h0M282.9 174.3h0M288.3 175.2h0M282.3 177.7h0M267.3 184.1h0M282.0 178.4h0M282.4 178.8h0M291.5 170.7h0M285.4 170.9h0M283.4 181.0h0M289.7 171.3h0M279.7 185.5h0M273.4 185.0h0M280.7 175.5h0M279.3 175.6h0M290.4 171.7h0M282.6 182.7h0M290.6 171.8h0M288.3 177.5h0M285.3 187.1h0M281.0 180.8h0M279.2 172.6h0M284.6 171.2h0M274.6 177.4h0M290.7 176.7h0M285.2 173.5h0M287.1 174.1h0M285.2 177.4h0M279.7 181.1h0M286.8 174.5h0M279.8 183.6h0M286.2 175.8h0M276.5 186.9h0M284.0 175.1h0M277.9 183.1h0M285.3 171.1h0M290.0 171.7h0M291.5 171.8h0M289.3 171.8h0M271.2 187.3h0M285.5 171.9h0M284.2 180.9h0M283.2 176.6h0M279.0 182.4h0M258.7 210.8h0M278.7 181.1h0M278.9 187.6h0M281.0 175.6h0M272.1 189.0h0M286.0 182.2h0M280.7 175.8h0M286.9 178.9h0M280.8 177.1h0M280.2 178.4h0M291.9 168.5h0M274.7 177.1h0M281.1 178.5h0M269.3 190.2h0M279.7 183.7h0M273.1 182.1h0M289.3 177.6h0M292.2 168.0h0M281.5 176.0h0M284.2 173.2h0M289.8 173.1h0M273.3 167.7h0M282.3 180.7h0M283.1 173.0h0M273.2 181.9h0M291.9 170.7h0M244.8 201.0h0M288.0 169.5h0M280.8 183.0h0M284.5 179.4h0M286.4 175.3h0M292.4 176.7h0M271.3 177.9h0M290.1 172.6h0M281.3 175.7h0M285.3 180.2h0M281.1 181.0h0M295.5 155.2h0M281.1 180.6h0M286.8 177.2h0M291.7 175.3h0M278.3 180.1h0M286.0 176.4h0M293.4 166.0h0M277.2 186.5h0M294.5 167.0h0M284.7 177.7h0M278.6 182.3h0M275.6 185.8h0M285.4 178.0h0M280.7 173.9h0M281.8 179.4h0M281.7 185.5h0M285.8 173.6h0M282.7 176.4h0M277.3 187.8h0M277.7 181.1h0M283.1 176.7h0M289.6 174.4h0M278.3 193.1h0M280.8 179.9h0M278.2 177.3h0M284.8 174.8h0M287.8 171.1h0M284.8 171.2h0M244.9 201.5h0M280.3 170.4h0M286.6 175.1h0M281.6 174.5h0M285.3 176.9h0M287.6 175.7h0M284.9 182.0h0M286.0 170.0h0M289.9 165.8h0M275.8 180.8h0M275.8 176.8h0M292.5 174.6h0M293.8 173.1h0M289.2 170.0h0M277.7 182.8h0M289.3 170.9h0M289.3 168.7h0M279.0 176.7h0M281.8 178.7h0M289.9 172.0h0M286.5 180.5h0M278.5 182.0h0M271.8 191.4h0M287.6 173.2h0M280.0 182.8h0M279.6 180.8h0M284.3 176.3h0M273.4 184.4h0M280.8 177.4h0M284.8 177.3h0M275.6 174.4h0M276.7 186.5h0M286.5 177.9h0M281.1 168.8h0M280.6 180.9h0M282.6 178.9h0M280.3 200.0h0M281.5 183.3h0M273.3 182.0h0M283.0 176.7h0M288.6 174.4h0M285.6 172.6h0M279.3 185.4h0M282.0 183.0h0M284.4 175.8h0M284.7 164.2h0M269.1 179.3h0M287.2 173.1h0M289.7 171.9h0M285.9 175.9h0M280.4 176.8h0M281.4 184.7h0M280.9 180.5h0M286.7 167.4h0M287.1 179.8h0M293.8 167.0h0M287.2 171.3h0M289.1 180.6h0M289.7 166.1h0M279.8 182.7h0M292.8 168.7h0M285.2 178.5h0M291.2 169.1h0M284.0 180.1h0M276.0 188.4h0M280.2 180.5h0M284.0 177.5h0M277.9 182.3h0M284.6 180.4h0M302.5 164.2h0M279.1 179.6h0M291.5 176.1h0M288.0 174.8h0M283.8 176.4h0M287.3 163.8h0M280.9 175.1h0M285.0 179.4h0M279.1 181.8h0M287.3 176.4h0M287.5 178.5h0M281.1 175.8h0M279.9 179.8h0M283.1 173.9h0M274.8 183.7h0M275.9 182.4h0M286.9 178.2h0M274.1 181.2h0M274.2 183.1h0M277.2 177.1h0M277.7 181.6h0M287.8 168.8h0M283.6 171.9h0M243.0 207.3h0M279.1 180.4h0M290.4 175.9h0M287.0 174.4h0M291.2 176.1h0M283.3 174.9h0M280.8 175.8h0M299.6 163.8h0M278.3 182.1h0M266.4 189.5h0M275.8 181.5h0M282.1 174.1h0M289.9 174.6h0M277.3 174.7h0M282.5 178.5h0M288.2 176.0h0M288.0 180.5h0M285.4 172.5h0M286.3 176.3h0M288.3 177.5h0M286.1 170.3h0M298.2 169.6h0M285.4 176.0h0M287.3 168.4h0M282.7 180.4h0M281.8 191.1h0M282.6 180.9h0M289.8 172.4h0M285.6 169.7h0M282.2 175.5h0M284.5 176.1h0M284.5 175.4h0M289.8 164.8h0M293.7 166.2h0M296.2 165.7h0M251.6 202.6h0M285.7 176.3h0M288.6 173.1h0M290.5 173.0h0M291.1 177.9h0M287.9 171.5h0M284.9 173.9h0M280.5 179.6h0M292.1 174.6h0M284.0 176.6h0M286.1 173.8h0M282.2 180.6h0M285.2 171.3h0M286.4 171.0h0M268.5 191.8h0M267.6 186.0h0M282.9 176.9h0M287.6 175.3h0M273.8 184.4h0M292.9 172.6h0M278.6 178.9h0M283.4 179.7h0M281.0 182.1h0M282.0 186.0h0M288.7 170.5h0M284.3 175.6h0M283.6 180.7h0M278.3 180.2h0M283.5 178.3h0M282.8 179.5h0M282.0 174.9h0M248.5 205.3h0M292.8 175.9h0M282.1 184.4h0M291.1 172.8h0M280.1 183.5h0M284.2 172.8h0M273.3 185.6h0M291.5 169.4h0M280.4 155.4h0M284.8 177.0h0M288.9 175.8h0M289.0 174.1h0M280.5 178.0h0M270.6 181.3h0M276.6 174.4h0M291.5 167.9h0M286.7 174.0h0M286.6 179.7h0M274.5 185.0h0M274.4 185.6h0M290.6 168.4h0M282.1 177.5h0M284.1 175.8h0M274.8 185.6h0M268.9 177.1h0M272.8 189.0h0M284.2 174.2h0M277.8 182.5h0M278.6 183.0h0M284.2 178.0h0M288.3 173.9h0M283.1 178.7h0M283.7 182.4h0M280.0 178.0h0M282.2 178.4h0M283.8 176.3h0M263.7 189.1h0M291.8 176.2h0M285.1 170.9h0M287.0 174.7h0M274.6 185.2h0M290.7 172.2h0M286.5 172.6h0M278.8 183.3h0M279.1 182.1h0M284.0 173.3h0M277.5 180.4h0M286.3 176.7h0M278.0 181.1h0M279.2 180.4h0M279.0 177.3h0M287.5 174.3h0M274.1 178.4h0M284.1 176.1h0M288.0 177.7h0M279.5 177.2h0M286.4 174.4h0M283.9 182.5h0M285.3 174.2h0M275.0 185.2h0M291.8 178.3h0M291.1 166.7h0M278.1 188.4h0M280.5 179.5h0M262.7 189.2h0M289.5 177.2h0M285.5 171.1h0M287.7 178.1h0M278.2 179.0h0M288.8 169.4h0M284.3 174.7h0M284.9 180.9h0M282.4 176.5h0M286.5 177.3h0M278.0 184.5h0M292.8 167.5h0" stroke="#ff30ff" stroke-width="1.5" stroke-linecap="square" fill="none" stroke-opacity="0.38"/>
<path d="M280.9 176.0h0M293.8 172.9h0M279.3 178.5h0M285.3 169.5h0M280.9 179.3h0M283.5 165.0h0M279.2 180.8h0M285.9 177.6h0M284.7 178.9h0M286.6 179.0h0M281.2 178.4h0M284.8 177.7h0M283.0 176.7h0M272.1 168.3h0M294.3 169.7h0M282.5 182.8h0M282.7 174.6h0M284.0 181.1h0M280.6 168.2h0M295.5 165.2h0M279.0 179.6h0M288.6 176.9h0M283.2 164.2h0M284.2 179.8h0M283.9 190.2h0M292.7 170.7h0M272.5 182.8h0M290.1 170.4h0M283.7 174.5h0M274.1 183.6h0M299.0 176.1h0M285.8 175.0h0M286.3 176.3h0M286.5 161.7h0M280.4 178.0h0M288.4 180.0h0M284.8 177.6h0M282.2 181.8h0M286.1 176.1h0M273.1 183.9h0M281.0 182.6h0M277.3 176.3h0M290.0 172.9h0M282.4 179.4h0M278.1 180.1h0M287.6 171.9h0M278.9 179.1h0M285.8 176.4h0M288.8 170.9h0M289.5 173.8h0M296.2 171.7h0M295.5 183.4h0M282.1 178.4h0M279.9 178.0h0M280.5 174.6h0M287.3 177.0h0M285.2 182.7h0M286.7 173.0h0M286.2 174.2h0M270.9 187.4h0M282.5 181.7h0M283.5 172.1h0M272.3 182.2h0M281.7 178.9h0M287.9 175.7h0M277.3 183.4h0M279.3 177.5h0M277.6 186.7h0M294.3 175.4h0M292.5 170.7h0M289.2 170.1h0M280.3 179.6h0M303.1 164.2h0M275.0 181.5h0M292.1 169.9h0M281.6 175.1h0M288.1 162.5h0M280.8 177.6h0M278.8 183.1h0M289.0 174.1h0M276.2 180.5h0M276.7 181.6h0M279.6 183.6h0M273.3 188.2h0M284.4 174.3h0M283.6 169.6h0M283.0 176.6h0M280.3 177.7h0M280.6 191.9h0M281.2 180.7h0M285.8 173.7h0M283.9 177.1h0M287.9 176.9h0M293.6 172.1h0M279.9 177.4h0M292.3 162.5h0M274.2 186.6h0M286.6 183.6h0M286.9 175.6h0M283.8 179.7h0M294.8 163.2h0M239.7 216.5h0M284.4 173.9h0M282.7 196.9h0M298.6 167.5h0M270.1 167.5h0M279.0 176.6h0M282.5 180.3h0M287.7 174.3h0M291.1 169.5h0M279.9 177.4h0M281.8 180.0h0M292.9 166.7h0M283.1 178.7h0M293.5 165.6h0M286.6 170.0h0M263.3 194.9h0M283.8 184.9h0M283.9 169.6h0M273.3 179.5h0M266.7 180.7h0M286.9 173.4h0M271.1 164.2h0M290.7 177.4h0M282.9 168.2h0M280.3 176.8h0M278.6 180.0h0M286.0 173.9h0M283.6 185.0h0M283.7 179.8h0M282.3 184.3h0M277.5 186.1h0M286.5 175.2h0M301.0 166.7h0M292.9 170.2h0M288.1 178.8h0M289.1 170.8h0M281.2 182.7h0M286.1 176.9h0M278.2 170.2h0M288.6 172.9h0M291.6 176.4h0M299.2 168.3h0M281.0 178.7h0M282.4 174.1h0M288.1 174.6h0M280.1 181.5h0M288.6 170.5h0M278.5 179.8h0M280.6 180.6h0M281.3 176.7h0M281.5 173.4h0M295.6 171.8h0M293.4 176.3h0M280.1 178.7h0M292.1 170.1h0M277.5 172.7h0M298.1 165.2h0M276.3 175.7h0M281.9 179.6h0M287.4 176.1h0M281.7 179.2h0M285.8 175.9h0M278.9 177.6h0M283.8 175.7h0M275.9 179.8h0M285.7 175.4h0M292.9 174.6h0M278.6 181.5h0M292.8 167.3h0M279.6 174.7h0M280.2 185.6h0M271.5 183.3h0M285.0 174.4h0M274.0 182.4h0M286.9 183.9h0M294.3 168.8h0M282.5 176.2h0M294.5 171.0h0M280.3 181.7h0M279.9 177.0h0M283.6 181.1h0M275.8 178.6h0M282.1 178.2h0M280.6 180.6h0M277.9 179.5h0M283.3 173.9h0M280.4 176.3h0M287.4 174.3h0M277.3 178.9h0M283.9 180.6h0M274.1 181.6h0M282.6 174.8h0M289.0 169.5h0M290.6 170.3h0M282.4 176.2h0M288.0 171.6h0M287.1 174.6h0M284.6 173.2h0M289.8 175.0h0M283.8 181.1h0M279.5 177.3h0M287.8 173.2h0M279.2 180.6h0M288.7 174.2h0M288.6 175.3h0M278.5 181.8h0M293.0 170.7h0M291.0 175.4h0M296.1 165.0h0M284.5 172.7h0M288.5 173.5h0M290.4 166.5h0M272.9 189.4h0M291.3 177.4h0M290.0 172.7h0M274.2 193.8h0M290.0 177.0h0M289.4 169.9h0M288.0 173.8h0M282.9 167.0h0M287.8 176.6h0M287.2 172.7h0M281.2 172.5h0M281.7 188.9h0M300.9 174.5h0M281.7 180.4h0M271.7 184.6h0M288.1 176.6h0M286.1 177.1h0M287.5 174.4h0M290.6 169.4h0M281.6 180.9h0M277.3 184.2h0M284.3 171.5h0M280.0 182.0h0M280.2 175.9h0M284.1 174.0h0M288.3 169.7h0M283.2 173.9h0M284.9 179.7h0M269.6 199.5h0M285.9 173.4h0M288.8 178.8h0M281.7 188.3h0M278.2 179.0h0M280.8 176.3h0M271.4 187.3h0M284.2 180.0h0M290.8 172.0h0M280.1 178.5h0M291.9 170.2h0M281.4 171.4h0M287.6 173.7h0M291.0 170.7h0M290.6 170.3h0M287.5 176.8h0M280.5 185.3h0M283.9 176.1h0M285.1 175.2h0M282.2 180.6h0M284.5 177.0h0M292.3 179.2h0M285.7 180.2h0M287.0 172.3h0M276.1 183.2h0M281.5 183.7h0M257.3 185.4h0M294.0 167.5h0M272.7 183.0h0M271.3 179.5h0M293.4 175.0h0M283.6 173.6h0M280.4 181.2h0M280.8 180.1h0M278.8 174.2h0M280.8 182.2h0M281.1 182.1h0M287.9 175.4h0M284.9 175.8h0M275.6 180.2h0M282.7 178.4h0M279.4 175.8h0M291.0 171.3h0M284.9 177.6h0M281.8 182.2h0M290.7 174.5h0M281.0 186.5h0M281.1 182.9h0M279.4 175.0h0M293.5 168.6h0M281.2 180.8h0M286.4 174.4h0M285.9 174.6h0M286.9 176.0h0M287.5 172.7h0M286.8 180.5h0M282.4 179.7h0M275.7 182.7h0M288.8 173.3h0M279.4 183.2h0M283.3 175.1h0M287.8 168.5h0M281.5 171.7h0M280.0 179.6h0M282.3 175.6h0M269.9 186.1h0M291.2 171.0h0M278.3 179.8h0M286.9 171.1h0M275.2 187.5h0M293.5 166.3h0M280.6 168.3h0M284.2 178.0h0M280.3 176.0h0M290.2 168.0h0M276.0 179.7h0M286.6 172.2h0M280.5 180.1h0M295.8 175.9h0M283.7 176.3h0M284.3 169.0h0M279.4 179.8h0M292.2 169.7h0M283.7 178.0h0M286.3 174.7h0M273.6 185.2h0M284.8 170.7h0M277.9 184.5h0M291.6 178.1h0M272.2 183.7h0M276.9 179.3h0M284.2 181.4h0M284.5 177.1h0M275.9 174.0h0M280.0 177.2h0M282.6 177.5h0M288.1 171.8h0M278.1 187.4h0M277.2 181.8h0M292.4 186.7h0M285.1 174.7h0M278.4 180.1h0M285.6 175.5h0M283.5 174.0h0M286.1 176.3h0M284.3 179.1h0M276.1 182.1h0M294.6 171.6h0M283.0 177.5h0M286.2 180.8h0M287.3 175.6h0M281.8 180.0h0M278.6 176.9h0M286.1 172.4h0M285.5 180.6h0M286.4 174.0h0M271.1 180.0h0M278.9 184.4h0M282.2 178.1h0M283.7 180.5h0M285.2 177.1h0M276.1 184.7h0M288.7 169.1h0M252.9 197.6h0M281.1 174.4h0M283.8 179.3h0M284.4 180.5h0M286.2 177.0h0M277.5 181.6h0M288.4 166.9h0M284.1 184.2h0M282.4 178.2h0M285.0 179.1h0M279.4 179.7h0M302.4 170.8h0M286.8 169.2h0M288.7 175.5h0M280.9 178.5h0M290.9 178.1h0M287.1 174.3h0M291.4 170.0h0M294.4 171.4h0M280.7 181.8h0M295.0 167.7h0M284.7 174.9h0M279.7 180.4h0M263.2 194.9h0M283.6 176.3h0M282.5 175.7h0M281.2 173.1h0M282.5 176.5h0M268.6 185.5h0M279.2 180.7h0M280.7 177.5h0M282.7 180.7h0M289.2 172.0h0M280.1 191.0h0M282.1 178.6h0M293.1 173.0h0M289.8 171.7h0M290.6 171.2h0M283.7 176.9h0M289.0 173.1h0M287.2 172.8h0M283.2 178.0h0M282.3 178.5h0M292.9 175.4h0M275.5 173.0h0M286.7 174.3h0M286.2 174.4h0M285.3 179.4h0M284.0 177.6h0M279.8 178.4h0M276.6 187.3h0M285.2 180.0h0M285.6 172.0h0M275.7 183.1h0M276.7 175.4h0M277.9 185.5h0M284.6 175.2h0M284.5 186.4h0M287.3 172.4h0M279.4 180.7h0M270.4 188.3h0M288.1 171.1h0M286.1 179.3h0M283.7 174.0h0M285.1 176.8h0M284.9 179.3h0M293.4 167.1h0M286.1 174.6h0M305.7 162.1h0M283.9 184.3h0M284.6 181.2h0M281.1 182.2h0M267.0 179.3h0M281.3 173.2h0M285.9 180.8h0M278.9 183.1h0M277.7 184.6h0M290.5 171.1h0M284.4 180.3h0M287.0 172.2h0M278.0 180.6h0M292.4 164.5h0M290.5 169.0h0M284.3 178.2h0M291.2 169.4h0M293.9 172.3h0M286.7 174.5h0M283.5 176.4h0M286.6 169.7h0M285.1 175.2h0M273.5 186.7h0M278.5 182.1h0" stroke="#ff30ff" stroke-width="1.5" stroke-linecap="square" fill="none" stroke-opacity="0.38"/>
<circle cx="294.9" cy="223.9" r="0.8" fill="#22e822"/>
<circle cx="294.9" cy="233.4" r="0.8" fill="#ff30ff"/>
<text x="298.6" y="226.2" font-size="6.3" stroke="#000" stroke-width="0.12">Group II (<tspan font-style="italic">r</tspan> = 0.59)</text>
<text x="298.6" y="235.7" font-size="6.3" stroke="#000" stroke-width="0.12">Group III (<tspan font-style="italic">r</tspan> = 0.65)</text>
<text x="270" y="259" font-size="8.2" text-anchor="middle" stroke="#000" stroke-width="0.12">Library coverage in rep 1</text>
<text x="271.3" y="269.2" font-size="8.2" text-anchor="middle" stroke="#000" stroke-width="0.12">[log<tspan font-size="55%" dy="2.2">2</tspan><tspan dy="-2.2">(CPM+1)]</tspan></text>
<text x="195.3" y="193" font-size="8.2" text-anchor="middle" stroke="#000" stroke-width="0.12" transform="rotate(-90 195.3 193)">Library coverage in rep 2</text>
<text x="206.5" y="189.2" font-size="8.2" text-anchor="middle" stroke="#000" stroke-width="0.12" transform="rotate(-90 206.5 189.2)" letter-spacing="0.38">[log<tspan font-size="55%" dy="2.2">2</tspan><tspan dy="-2.2">(CPM+1)]</tspan></text>
<text x="183.4" y="285.7" font-size="10.9" font-weight="bold" stroke="#000" stroke-width="0.12">G</text>
<line x1="217.5" y1="289.72" x2="217.5" y2="392" stroke="#000" stroke-width="1.0"/>
<line x1="217" y1="391.5" x2="319.28" y2="391.5" stroke="#000" stroke-width="1.0"/>
<line x1="214.5" y1="391.5" x2="217.5" y2="391.5" stroke="#000" stroke-width="1.0"/>
<text x="214.5" y="393.7" font-size="6.1" text-anchor="end" font-weight="bold" class="tk">0</text>
<line x1="214.5" y1="374.62" x2="217.5" y2="374.62" stroke="#000" stroke-width="1.0"/>
<text x="214.5" y="376.82" font-size="6.1" text-anchor="end" font-weight="bold" class="tk">2</text>
<line x1="214.5" y1="357.74" x2="217.5" y2="357.74" stroke="#000" stroke-width="1.0"/>
<text x="214.5" y="359.94" font-size="6.1" text-anchor="end" font-weight="bold" class="tk">4</text>
<line x1="214.5" y1="340.86" x2="217.5" y2="340.86" stroke="#000" stroke-width="1.0"/>
<text x="214.5" y="343.06" font-size="6.1" text-anchor="end" font-weight="bold" class="tk">6</text>
<line x1="214.5" y1="323.98" x2="217.5" y2="323.98" stroke="#000" stroke-width="1.0"/>
<text x="214.5" y="326.18" font-size="6.1" text-anchor="end" font-weight="bold" class="tk">8</text>
<line x1="214.5" y1="307.1" x2="217.5" y2="307.1" stroke="#000" stroke-width="1.0"/>
<text x="214.5" y="309.3" font-size="6.1" text-anchor="end" font-weight="bold" class="tk">10</text>
<line x1="214.5" y1="290.22" x2="217.5" y2="290.22" stroke="#000" stroke-width="1.0"/>
<text x="214.5" y="292.42" font-size="6.1" text-anchor="end" font-weight="bold" class="tk">12</text>
<line x1="217.5" y1="391.5" x2="217.5" y2="394.5" stroke="#000" stroke-width="1.0"/>
<text x="217.5" y="400.4" font-size="6.1" text-anchor="middle" font-weight="bold" class="tk">0</text>
<line x1="234.38" y1="391.5" x2="234.38" y2="394.5" stroke="#000" stroke-width="1.0"/>
<text x="234.38" y="400.4" font-size="6.1" text-anchor="middle" font-weight="bold" class="tk">2</text>
<line x1="251.26" y1="391.5" x2="251.26" y2="394.5" stroke="#000" stroke-width="1.0"/>
<text x="251.26" y="400.4" font-size="6.1" text-anchor="middle" font-weight="bold" class="tk">4</text>
<line x1="268.14" y1="391.5" x2="268.14" y2="394.5" stroke="#000" stroke-width="1.0"/>
<text x="268.14" y="400.4" font-size="6.1" text-anchor="middle" font-weight="bold" class="tk">6</text>
<line x1="285.02" y1="391.5" x2="285.02" y2="394.5" stroke="#000" stroke-width="1.0"/>
<text x="285.02" y="400.4" font-size="6.1" text-anchor="middle" font-weight="bold" class="tk">8</text>
<line x1="301.9" y1="391.5" x2="301.9" y2="394.5" stroke="#000" stroke-width="1.0"/>
<text x="301.9" y="400.4" font-size="6.1" text-anchor="middle" font-weight="bold" class="tk">10</text>
<line x1="318.78" y1="391.5" x2="318.78" y2="394.5" stroke="#000" stroke-width="1.0"/>
<text x="318.78" y="400.4" font-size="6.1" text-anchor="middle" font-weight="bold" class="tk">12</text>
<path d="M288.2 319.6h0M291.6 323.5h0M299.1 311.8h0M287.2 303.8h0M286.5 322.0h0M292.9 322.3h0M278.2 319.1h0M283.9 325.9h0M291.3 317.1h0M283.1 328.1h0M286.5 321.0h0M286.3 302.8h0M286.0 312.3h0M291.7 313.8h0M291.5 316.2h0M282.9 318.2h0M287.1 319.4h0M286.4 316.6h0M299.1 306.7h0M288.0 315.5h0M289.0 317.3h0M288.2 323.5h0M283.6 324.7h0M284.4 320.4h0M282.8 316.7h0M283.9 328.7h0M275.3 320.6h0M290.2 314.3h0M288.7 319.5h0M283.6 334.3h0M280.6 318.4h0M275.1 304.5h0M280.5 321.4h0M276.1 320.8h0M268.3 340.0h0M294.2 330.0h0M297.3 313.3h0M287.0 318.9h0M293.7 310.4h0M294.5 327.7h0M285.6 324.6h0M294.1 318.9h0M283.9 301.7h0M284.8 323.0h0M281.7 316.0h0M302.8 298.5h0M306.4 313.6h0M284.1 323.0h0M284.4 321.6h0M284.8 319.6h0M288.8 316.4h0M272.7 316.0h0M281.7 315.2h0M286.8 315.6h0M286.3 319.7h0M281.9 323.3h0M266.4 332.8h0M299.5 305.1h0M284.3 316.1h0M286.6 314.6h0M307.5 328.3h0M282.7 345.4h0M287.3 316.3h0M293.9 324.2h0M284.9 325.1h0M279.2 320.5h0M287.3 320.2h0M279.1 320.6h0M281.8 319.4h0M291.4 335.7h0M268.5 338.3h0M284.0 316.7h0M288.6 319.5h0M288.0 313.5h0M289.3 330.4h0M287.7 318.0h0M291.4 312.0h0M286.8 319.8h0M286.3 317.4h0M282.6 320.3h0M278.6 316.9h0M285.3 313.1h0M280.3 316.1h0M288.8 324.5h0M294.2 340.6h0M289.2 316.4h0M281.5 327.8h0M284.4 319.5h0M286.3 326.8h0M294.2 317.0h0M284.3 324.7h0M281.2 313.2h0M290.1 319.3h0M286.2 317.4h0M282.8 320.6h0M291.0 333.3h0M298.9 313.5h0M285.1 320.2h0M286.9 322.0h0M273.0 327.1h0M303.5 322.5h0M281.4 325.1h0M284.8 324.3h0M286.6 343.7h0M289.3 314.6h0M281.6 322.7h0M288.3 314.6h0M288.3 313.1h0M284.1 315.8h0" stroke="#22e822" stroke-width="1.5" stroke-linecap="square" fill="none" stroke-opacity="0.38"/>
<path d="M276.5 321.2h0M287.0 314.0h0M291.9 320.3h0M270.3 322.9h0M279.2 318.2h0M283.1 323.7h0M288.1 317.7h0M279.9 318.1h0M296.6 315.3h0M286.5 315.4h0M284.6 319.0h0M291.5 321.6h0M277.2 320.5h0M284.1 325.6h0M288.4 320.6h0M286.7 318.1h0M293.7 324.2h0M283.2 323.3h0M280.9 325.7h0M286.5 325.4h0M277.9 316.1h0M284.9 318.7h0M281.8 325.9h0M287.6 313.1h0M266.6 329.0h0M287.4 324.5h0M286.7 321.1h0M288.4 322.0h0M287.9 319.6h0M283.7 315.3h0M284.0 317.9h0M289.7 317.8h0M280.0 323.3h0M286.2 317.2h0M293.8 318.1h0M290.7 317.8h0M281.1 321.2h0M276.6 334.8h0M286.0 318.0h0M290.3 308.7h0M285.8 318.8h0M280.6 326.3h0M284.3 321.7h0M275.7 324.2h0M287.5 319.1h0M284.2 298.9h0M281.3 318.1h0M300.0 307.7h0M285.6 325.1h0M286.1 313.0h0M291.8 318.4h0M293.7 311.7h0M291.6 315.1h0M285.3 322.5h0M277.4 310.2h0M289.1 320.5h0M286.3 315.5h0M290.0 322.0h0M274.8 304.0h0M282.1 324.4h0M289.1 308.3h0M277.6 342.6h0M288.2 315.0h0M277.2 319.1h0M281.5 315.8h0M289.7 316.8h0M280.4 312.8h0M282.7 332.0h0M290.5 318.4h0M284.2 320.2h0M289.8 320.6h0M283.5 316.7h0M291.1 315.6h0M282.3 324.8h0M283.4 318.1h0M284.1 324.9h0M280.6 318.1h0M289.8 313.2h0M290.5 298.2h0M293.1 309.6h0M291.2 310.5h0M289.1 317.5h0M282.9 326.7h0M285.6 316.1h0M280.8 317.0h0M287.4 317.7h0M281.2 319.1h0M286.0 315.9h0M291.2 327.9h0M284.5 317.2h0M283.5 323.2h0M274.1 317.2h0M287.0 320.3h0M288.7 342.0h0M291.2 314.5h0M257.5 344.5h0M279.1 316.8h0M281.7 320.2h0M288.1 318.5h0M286.1 311.4h0M288.6 321.2h0M282.6 320.2h0M286.1 323.4h0M298.8 315.5h0M301.8 310.4h0M281.5 317.4h0M291.2 327.2h0M286.2 320.4h0M282.9 343.0h0" stroke="#22e822" stroke-width="1.5" stroke-linecap="square" fill="none" stroke-opacity="0.38"/>
<path d="M283.9 325.6h0M281.7 322.6h0M295.1 328.7h0M287.8 334.0h0M275.8 314.5h0M292.0 320.6h0M287.9 316.9h0M281.0 323.3h0M283.6 324.6h0M277.9 330.2h0M281.2 323.0h0M279.7 325.2h0M287.2 317.5h0M283.6 327.4h0M285.8 329.2h0M286.5 320.9h0M284.4 320.1h0M251.4 357.1h0M271.6 340.2h0M284.6 325.8h0M289.1 316.2h0M292.2 314.5h0M290.0 347.6h0M288.0 314.9h0M286.0 322.0h0M278.4 328.1h0M281.0 317.0h0M282.7 324.4h0M275.7 323.6h0M292.9 323.7h0M278.8 317.8h0M286.2 311.4h0M253.4 346.0h0M289.2 318.2h0M281.6 320.6h0M285.5 311.3h0M255.2 347.8h0M280.7 322.3h0M274.1 314.9h0M286.9 323.1h0M293.8 315.2h0M291.1 321.2h0M285.7 326.3h0M291.3 319.1h0M275.7 323.2h0M278.2 318.8h0M284.2 323.3h0M284.1 314.6h0M287.1 312.4h0M280.3 329.7h0M285.6 319.6h0M289.6 316.9h0M290.6 316.5h0M264.5 333.4h0M320.7 330.6h0M286.6 321.8h0M288.4 314.3h0M291.9 318.5h0M289.7 319.4h0M281.3 314.8h0M285.2 317.9h0M289.2 322.1h0M283.8 319.3h0M278.2 314.2h0M278.7 318.3h0M274.6 332.0h0M285.3 319.8h0M288.3 322.5h0M279.4 316.4h0M281.7 319.9h0M280.2 323.0h0M285.7 319.7h0M306.3 317.4h0M288.0 321.8h0M291.4 316.7h0M282.3 324.7h0M284.2 320.2h0M289.4 315.4h0M286.6 327.2h0M273.9 321.7h0M287.9 318.6h0M285.1 322.3h0M283.5 321.7h0M286.1 320.4h0M285.8 345.0h0M287.8 317.1h0M292.3 307.4h0M291.0 324.4h0M281.1 318.6h0M293.4 315.7h0M291.2 319.7h0M291.3 317.3h0M283.4 299.4h0M296.6 328.8h0M281.0 315.9h0M276.3 330.0h0M250.9 357.1h0M287.4 320.7h0M292.7 322.4h0M290.2 316.4h0M289.8 322.1h0M289.2 332.1h0M280.8 328.7h0M285.5 335.3h0M274.0 331.0h0M285.6 332.9h0M281.0 319.8h0M288.3 315.8h0M279.3 318.7h0" stroke="#22e822" stroke-width="1.5" stroke-linecap="square" fill="none" stroke-opacity="0.38"/>
<path d="M290.9 317.0h0M276.9 319.3h0M290.2 325.8h0M282.8 324.2h0M290.8 320.5h0M281.5 311.9h0M281.3 327.7h0M259.1 342.1h0M284.7 325.2h0M291.1 317.1h0M285.7 315.2h0M285.1 315.5h0M283.7 324.8h0M289.2 317.8h0M286.7 312.6h0M286.5 316.5h0M280.0 322.6h0M291.1 322.5h0M293.0 324.1h0M289.0 317.3h0M290.7 319.5h0M295.6 328.2h0M284.5 324.0h0M288.9 320.5h0M281.2 315.8h0M296.8 313.6h0M288.7 315.8h0M281.8 321.3h0M286.0 316.4h0M286.0 323.4h0M287.2 320.1h0M290.8 318.5h0M291.9 314.1h0M285.9 317.3h0M295.1 317.5h0M301.9 315.0h0M270.8 323.2h0M288.6 325.2h0M286.7 316.0h0M279.2 321.7h0M295.4 322.6h0M284.3 321.9h0M303.5 314.1h0M289.7 316.2h0M281.2 323.0h0M284.0 325.8h0M292.9 304.0h0M289.2 320.8h0M289.7 317.4h0M278.0 326.6h0M268.0 314.0h0M282.7 326.9h0M274.8 322.3h0M288.8 313.5h0M277.3 316.5h0M271.7 335.5h0M279.5 321.7h0M286.4 317.6h0M289.5 316.6h0M283.8 325.2h0M289.4 310.6h0M285.9 319.4h0M282.4 320.4h0M288.1 322.4h0M298.2 314.0h0M286.8 316.2h0M278.1 319.6h0M286.5 317.2h0M292.3 321.9h0M288.3 319.1h0M294.0 297.4h0M293.4 314.3h0M285.2 322.6h0M292.2 306.1h0M282.4 328.4h0M286.3 320.4h0M287.2 322.4h0M281.5 318.4h0M275.6 314.4h0M284.3 317.1h0M290.7 315.8h0M285.7 317.2h0M297.8 313.4h0M291.8 335.6h0M278.3 334.2h0M284.0 319.4h0M286.6 322.6h0M282.4 312.3h0M285.4 318.6h0M283.5 331.9h0M286.6 317.3h0M287.7 326.6h0M276.5 333.4h0M269.8 315.6h0M289.0 319.4h0M278.7 324.5h0M293.5 312.7h0M259.2 331.8h0M285.6 318.7h0M283.5 319.3h0M288.7 317.7h0M285.9 327.2h0M291.4 321.3h0M290.7 320.9h0M255.9 340.7h0M286.9 321.1h0M288.7 323.6h0M285.2 317.1h0M290.3 323.9h0" stroke="#22e822" stroke-width="1.5" stroke-linecap="square" fill="none" stroke-opacity="0.38"/>
<path d="M280.8 321.3h0M288.1 318.8h0M282.3 332.9h0M282.7 328.1h0M287.2 318.9h0M291.1 334.0h0M287.8 314.5h0M284.7 319.4h0M287.2 320.1h0M287.4 323.6h0M281.2 318.7h0M276.8 335.8h0M288.0 319.1h0M282.9 313.9h0M284.0 323.8h0M282.1 321.4h0M283.1 323.4h0M284.5 318.0h0M284.3 326.9h0M266.7 315.8h0M317.4 311.8h0M284.7 324.4h0M284.7 320.1h0M300.8 318.4h0M292.1 327.7h0M303.0 310.1h0M279.9 314.5h0M290.0 321.7h0M287.4 329.2h0M287.7 314.7h0M280.4 320.7h0M292.7 319.2h0M286.2 319.7h0M280.6 317.1h0M284.1 323.7h0M288.4 310.5h0M287.7 321.1h0M288.8 320.8h0M276.6 292.0h0M281.9 319.4h0M295.4 303.5h0M292.7 320.6h0M277.8 325.3h0M283.6 321.5h0M279.4 323.3h0M286.5 317.8h0M285.3 326.5h0M281.4 319.6h0M283.4 327.6h0M282.4 319.7h0M281.6 347.3h0M290.9 319.8h0M282.8 325.3h0M282.8 318.2h0M256.7 363.6h0M288.0 320.0h0M279.7 321.4h0M284.7 324.7h0M289.6 317.2h0M293.3 313.8h0M286.5 317.2h0M278.6 322.0h0M266.5 342.4h0M263.6 337.1h0M284.7 323.3h0M242.6 370.2h0M287.2 317.8h0M279.4 327.1h0M287.1 318.7h0M293.9 312.4h0M286.7 323.3h0M291.1 318.4h0M279.1 318.3h0M281.4 327.9h0M285.6 317.2h0M272.6 329.5h0M277.6 306.3h0M282.4 321.4h0M284.2 328.3h0M284.4 315.3h0M287.7 335.7h0M294.1 305.0h0M283.2 323.4h0M283.4 318.1h0M291.9 317.4h0M282.1 315.8h0M282.2 322.0h0M284.1 317.6h0M286.5 317.4h0M276.4 326.0h0M276.2 315.9h0M287.2 316.8h0M288.9 320.9h0M293.2 334.6h0M302.0 318.9h0M288.3 314.2h0M272.1 341.7h0M283.3 321.6h0M286.2 313.8h0M284.4 320.4h0M284.2 316.8h0M278.2 324.5h0M287.7 318.4h0M282.9 321.6h0M293.9 308.5h0M275.9 324.4h0M281.6 313.6h0M287.6 316.0h0" stroke="#22e822" stroke-width="1.5" stroke-linecap="square" fill="none" stroke-opacity="0.38"/>
<path d="M283.1 317.4h0M290.0 327.8h0M292.1 319.3h0M293.8 322.2h0M299.5 317.9h0M289.2 327.1h0M297.2 317.1h0M287.8 322.3h0M258.4 346.3h0M288.6 316.9h0M280.7 320.8h0M285.8 314.7h0M287.8 323.4h0M286.6 313.2h0M290.6 319.0h0M277.5 325.8h0M286.3 323.4h0M288.0 316.1h0M272.7 336.2h0M264.1 330.1h0M293.6 315.2h0M247.9 349.9h0M284.5 321.2h0M279.5 316.0h0M282.7 318.6h0M284.9 317.0h0M295.8 326.0h0M287.2 321.9h0M286.5 321.3h0M288.3 324.3h0M292.8 311.9h0M280.4 317.4h0M304.6 307.4h0M281.6 323.3h0M289.4 320.8h0M282.3 319.1h0M290.4 320.4h0M283.7 325.0h0M284.0 317.8h0M292.6 309.0h0M294.4 322.2h0M282.2 321.2h0M287.2 319.5h0M279.9 329.0h0M286.0 321.0h0M285.5 327.6h0M248.8 356.9h0M284.8 315.3h0M278.1 317.0h0M288.1 319.4h0M286.3 317.0h0M278.8 333.6h0M284.2 317.6h0M295.8 312.5h0M290.0 315.7h0M293.9 325.4h0M288.4 318.1h0M295.3 318.3h0M287.0 321.9h0M296.1 325.6h0M299.3 333.8h0M283.5 321.0h0M300.0 309.8h0M285.5 312.6h0M268.1 318.7h0M282.6 317.8h0M282.3 324.1h0M282.3 308.7h0M303.3 325.3h0M290.0 331.8h0M273.1 309.1h0M305.5 301.9h0M287.7 317.7h0M249.7 354.0h0M282.5 323.5h0M241.7 344.1h0M288.8 323.5h0M289.1 306.1h0M288.9 315.6h0M285.9 311.5h0M239.5 372.1h0M286.9 306.3h0M287.6 320.0h0M268.7 341.5h0M288.6 310.9h0M275.3 322.8h0M283.4 318.6h0M298.1 303.5h0M285.1 320.4h0M286.5 313.9h0M262.2 358.5h0M289.7 321.3h0M279.0 346.8h0M291.2 316.4h0M285.4 331.9h0M287.4 343.5h0M283.5 315.0h0M284.3 319.7h0M285.2 323.6h0M283.6 316.7h0M284.0 322.8h0M289.5 320.6h0M280.7 318.1h0M266.2 311.2h0M308.9 339.0h0M291.6 307.7h0M282.1 320.8h0M284.7 316.4h0" stroke="#22e822" stroke-width="1.5" stroke-linecap="square" fill="none" stroke-opacity="0.38"/>
<path d="M267.8 329.9h0M275.6 326.5h0M283.2 319.5h0M271.2 337.3h0M274.0 330.3h0M277.0 337.7h0M272.5 331.7h0M268.4 334.0h0M274.4 334.5h0M280.0 332.9h0M279.2 338.3h0M284.2 324.9h0M271.0 326.0h0M275.5 331.4h0M298.6 343.9h0M277.1 327.8h0M280.6 328.9h0M272.7 343.2h0M276.2 336.0h0M281.1 319.6h0M276.6 338.8h0M275.1 330.1h0M276.4 326.6h0M275.1 322.0h0M271.1 329.8h0M267.9 339.8h0M277.2 334.3h0M275.8 334.7h0M274.3 330.1h0M279.3 333.3h0M285.3 330.7h0M284.1 324.6h0M273.1 325.4h0M276.4 324.6h0M276.7 333.7h0M271.7 331.9h0M284.6 320.1h0M270.7 325.7h0M275.4 327.0h0M271.2 335.7h0M282.8 332.7h0M274.0 327.7h0M280.8 323.6h0M277.2 332.9h0M274.2 324.6h0M280.2 319.8h0M292.4 332.4h0M274.7 325.4h0M278.4 324.7h0M279.7 327.6h0M268.4 338.4h0M280.1 324.4h0M273.3 331.7h0M275.2 329.0h0M274.8 331.9h0M280.9 324.4h0M270.4 341.2h0M276.7 330.5h0M275.2 330.0h0M267.5 339.1h0M271.5 332.9h0M273.0 331.3h0M273.5 338.1h0M276.0 328.7h0M280.3 327.6h0M282.1 321.2h0M270.7 337.3h0M273.7 315.2h0M279.3 329.8h0M277.9 329.3h0M272.9 316.4h0M274.6 327.8h0M276.3 327.0h0M268.0 329.8h0M264.0 333.6h0M276.2 326.1h0M280.4 330.8h0M279.6 330.5h0M276.9 328.1h0M273.8 328.9h0M270.8 328.6h0M283.0 328.0h0M277.8 328.1h0M276.1 327.9h0M277.8 325.8h0M269.0 334.9h0M272.3 324.6h0M277.4 333.9h0M278.0 315.4h0M296.7 316.3h0M293.7 321.4h0M272.6 324.1h0M277.2 325.0h0M275.0 328.8h0M268.1 327.6h0M284.8 327.4h0M278.1 326.6h0M280.6 326.2h0M253.7 347.0h0M270.2 335.5h0M270.5 339.2h0M275.1 332.2h0M276.1 331.1h0M284.3 334.2h0M274.3 341.7h0M281.9 321.0h0M273.1 339.0h0M269.2 333.1h0M266.8 331.0h0M285.1 319.8h0M272.4 329.0h0M268.1 332.1h0M271.4 325.5h0M277.4 329.1h0M280.9 327.3h0M268.5 332.0h0M281.0 335.2h0M274.6 327.9h0M295.4 332.7h0M276.5 333.5h0M269.9 337.2h0M269.0 333.7h0M273.1 330.1h0M273.3 328.9h0M279.4 331.6h0M284.3 320.7h0M280.1 321.1h0M272.7 334.9h0M278.2 330.3h0M280.2 321.4h0M276.1 328.0h0M284.0 326.9h0M272.1 330.8h0M281.2 327.7h0M274.5 324.2h0M273.7 326.2h0M282.1 326.5h0M278.6 333.4h0M277.6 332.6h0M279.8 326.0h0M265.1 329.3h0M301.9 334.5h0M274.6 330.6h0M276.5 330.7h0M265.6 338.0h0M282.1 321.2h0M282.2 319.1h0M280.5 334.1h0M259.2 337.8h0M281.0 315.5h0M275.6 325.7h0M269.2 341.1h0M241.2 363.0h0M277.5 333.3h0M284.8 331.3h0M278.3 331.4h0M275.0 327.8h0M291.4 327.5h0M280.0 324.9h0M271.7 320.2h0M283.8 322.8h0M280.0 328.3h0M269.7 339.6h0M278.9 330.7h0M281.0 329.5h0M263.6 329.4h0M269.1 335.6h0M272.7 330.1h0M279.7 330.3h0M276.7 324.0h0M272.3 334.0h0M291.5 328.0h0M275.1 321.4h0M277.8 331.6h0M274.8 331.1h0M263.4 331.4h0M285.7 319.4h0M278.0 335.0h0M277.5 332.5h0M272.5 333.6h0M275.7 328.3h0M269.0 332.0h0M275.0 335.0h0M278.1 334.2h0M277.2 335.5h0M275.1 326.3h0M280.7 328.1h0M274.1 333.0h0M275.4 335.2h0M274.6 329.0h0M252.9 335.2h0M275.8 328.0h0M278.3 323.6h0M270.5 332.2h0M265.4 337.4h0M283.9 319.2h0M265.6 328.6h0M270.7 340.6h0M286.0 319.8h0M279.9 328.9h0M270.1 331.2h0M271.9 331.4h0M277.8 334.5h0M266.5 336.8h0M245.7 360.4h0M288.4 321.3h0M280.9 342.5h0M274.8 336.8h0M277.8 328.8h0M273.6 327.2h0M284.5 324.2h0M274.0 333.8h0M273.1 327.0h0M283.9 322.8h0M283.2 325.1h0M269.6 327.7h0M270.3 327.9h0M285.8 320.9h0M275.7 331.4h0M275.4 318.1h0M280.8 328.4h0M266.4 335.2h0M277.7 325.0h0M271.7 337.4h0M285.7 325.2h0M274.4 328.8h0M281.8 332.3h0M267.0 331.4h0M272.4 331.0h0M276.0 331.4h0M283.7 315.8h0M277.4 333.5h0M290.4 325.8h0M275.0 327.6h0M268.7 337.4h0M274.1 331.7h0M272.9 329.4h0M284.3 331.4h0M289.2 324.4h0M272.7 337.8h0M287.3 328.9h0M275.9 349.5h0M261.6 355.4h0M271.3 322.0h0M280.2 324.7h0M278.9 329.3h0M278.1 329.7h0M277.3 333.3h0M276.2 325.9h0M270.4 339.2h0M277.2 326.0h0M282.1 330.0h0M278.5 323.6h0M272.0 328.4h0M278.2 330.0h0M264.4 333.7h0M274.9 327.5h0M271.2 332.6h0M275.4 328.4h0M280.2 329.3h0M272.2 333.3h0M259.3 350.4h0M282.8 327.2h0M276.1 331.7h0M275.9 325.9h0M273.1 333.9h0M268.3 333.1h0M276.4 330.1h0M275.7 329.3h0M268.3 333.4h0M277.5 326.2h0M278.1 334.0h0M280.1 334.4h0M274.8 332.5h0M277.6 331.9h0M270.6 320.1h0M278.2 320.6h0M276.5 330.3h0M276.3 331.5h0M281.3 326.8h0M274.9 326.7h0M269.2 340.5h0M282.9 339.5h0M289.1 322.0h0M278.2 310.3h0M267.9 332.0h0M275.9 330.8h0M274.7 327.7h0M269.6 320.3h0M280.5 329.2h0M277.2 327.6h0M293.7 321.0h0M279.8 335.8h0M286.9 327.9h0M271.9 334.6h0M272.2 346.5h0M272.5 332.2h0M275.2 323.0h0M266.7 327.5h0M278.9 330.6h0M278.6 328.4h0M277.1 333.8h0M283.5 324.4h0M275.6 328.1h0M282.4 317.3h0M260.4 323.6h0M271.1 331.0h0M279.5 321.9h0M287.0 333.3h0M275.8 328.5h0M269.0 337.0h0M282.3 304.5h0M275.7 328.0h0M276.4 334.4h0M274.9 337.2h0M284.2 317.8h0M269.2 336.8h0M277.8 328.2h0M284.7 324.4h0M287.6 324.8h0M277.5 329.4h0M276.1 330.3h0M282.5 321.4h0M282.4 319.8h0M276.1 324.9h0M287.2 320.8h0M279.5 333.2h0M273.5 326.5h0M277.5 322.9h0M274.6 327.9h0M275.1 336.2h0M293.1 328.4h0M271.1 337.2h0M278.0 331.5h0M284.0 328.4h0M277.8 324.7h0M278.0 330.0h0M266.3 333.5h0M282.2 320.6h0M279.1 324.1h0M280.0 320.1h0M281.2 319.3h0M285.6 315.8h0M276.8 331.6h0M275.2 331.3h0M284.6 325.6h0M275.8 323.4h0M275.0 337.4h0M289.1 338.1h0M280.9 328.3h0M274.4 326.8h0M279.2 324.3h0M274.0 333.3h0M271.1 340.1h0M269.3 334.8h0M282.3 323.2h0M262.7 339.7h0M280.5 322.0h0M275.6 328.5h0M262.1 348.8h0M276.4 326.7h0M275.6 320.1h0M280.5 321.7h0M275.7 326.5h0M278.8 327.3h0M276.0 331.0h0M284.5 325.6h0M277.8 325.2h0M281.7 329.0h0M279.1 323.8h0M279.7 326.6h0M273.3 328.0h0M270.8 329.9h0M276.2 331.6h0M276.2 332.6h0M273.9 326.8h0M276.1 331.5h0M279.0 329.9h0M280.7 324.3h0M275.3 329.5h0M276.6 331.7h0M275.7 328.1h0M258.8 330.7h0M276.2 324.4h0M274.9 320.0h0M275.5 329.0h0M272.2 330.4h0M283.0 322.9h0M269.4 330.6h0M269.9 329.7h0M267.8 332.8h0M278.3 325.9h0M279.0 324.3h0M279.5 327.2h0M276.4 323.8h0M270.6 328.7h0M272.8 324.0h0M270.6 332.5h0M260.0 347.4h0M282.2 328.9h0M275.8 331.0h0M275.9 331.1h0M272.2 323.8h0M276.5 330.0h0M264.8 327.6h0M281.6 322.2h0M279.2 330.5h0M276.4 324.0h0M274.4 326.3h0M280.0 327.7h0M269.7 332.9h0M277.4 332.7h0M281.2 322.7h0M277.8 325.2h0M281.7 318.7h0M276.7 335.2h0M276.7 325.6h0M284.7 327.4h0M280.3 334.8h0M277.8 328.4h0M288.2 319.5h0M274.4 327.1h0M271.3 333.9h0M283.4 332.0h0M280.0 328.9h0M272.8 330.3h0M279.6 328.0h0M270.4 326.2h0M269.3 335.3h0M281.3 334.1h0M264.0 337.3h0M282.7 325.1h0M276.6 332.9h0M272.1 325.5h0M277.3 326.3h0M281.5 323.8h0M277.8 328.7h0M273.7 324.2h0M279.2 328.6h0M274.7 330.6h0M276.1 330.4h0M272.5 330.8h0M287.0 320.7h0M275.3 328.2h0M271.7 327.5h0M275.1 325.5h0M270.2 327.4h0M267.7 339.4h0M275.6 327.4h0" stroke="#ff30ff" stroke-width="1.5" stroke-linecap="square" fill="none" stroke-opacity="0.38"/>
<path d="M264.6 330.7h0M275.2 331.5h0M288.3 319.8h0M279.2 331.0h0M271.1 329.8h0M274.8 325.4h0M279.1 320.4h0M284.8 336.4h0M276.9 334.4h0M272.9 334.5h0M277.2 326.5h0M236.5 369.3h0M270.3 336.2h0M273.5 331.7h0M274.4 328.7h0M278.3 329.4h0M266.9 327.4h0M278.3 330.0h0M283.1 340.7h0M276.4 330.1h0M267.5 330.7h0M277.4 329.6h0M276.2 326.4h0M278.8 333.4h0M260.6 340.5h0M277.8 330.4h0M275.0 329.9h0M275.4 325.1h0M271.4 333.3h0M274.1 327.6h0M278.5 320.4h0M272.1 327.6h0M280.9 324.4h0M277.0 327.0h0M274.1 327.2h0M271.3 336.3h0M281.8 315.6h0M278.5 324.1h0M279.4 326.7h0M271.0 336.9h0M277.0 327.8h0M278.5 325.7h0M280.2 328.6h0M276.6 323.1h0M276.6 331.4h0M277.6 319.8h0M277.5 334.3h0M285.0 328.1h0M274.8 330.5h0M271.6 331.0h0M278.1 322.5h0M278.5 324.0h0M277.8 324.6h0M275.8 334.2h0M279.4 322.8h0M278.4 327.8h0M281.4 323.4h0M272.2 343.9h0M266.3 341.2h0M260.3 330.6h0M272.3 338.5h0M277.3 336.6h0M276.9 335.4h0M276.9 324.9h0M274.0 332.3h0M277.3 334.1h0M270.3 332.2h0M270.4 327.3h0M273.5 340.2h0M282.3 319.1h0M272.9 333.6h0M278.1 320.4h0M279.0 324.9h0M279.1 329.2h0M277.0 331.0h0M276.3 331.9h0M278.6 321.7h0M277.1 332.2h0M280.8 331.3h0M282.9 337.5h0M276.7 331.4h0M282.4 325.1h0M282.0 329.5h0M278.7 328.6h0M272.4 329.4h0M280.3 324.6h0M272.4 341.1h0M272.8 324.8h0M275.9 335.7h0M276.8 327.8h0M282.5 328.5h0M275.2 333.0h0M276.5 332.3h0M277.9 328.5h0M274.6 334.0h0M279.0 323.5h0M274.2 332.7h0M268.1 324.2h0M272.7 328.6h0M281.0 326.1h0M279.4 325.9h0M272.1 333.4h0M273.2 322.7h0M285.9 320.4h0M288.3 322.9h0M272.6 328.6h0M281.1 327.0h0M274.4 331.1h0M291.1 321.9h0M268.8 336.4h0M275.0 329.6h0M277.4 328.9h0M277.7 324.8h0M276.0 336.1h0M273.3 322.3h0M275.0 327.9h0M280.2 331.0h0M277.5 321.0h0M265.3 333.2h0M283.7 316.3h0M279.9 333.6h0M273.9 330.3h0M278.4 327.5h0M273.5 330.4h0M282.6 323.6h0M272.7 337.8h0M283.9 329.2h0M269.1 336.2h0M283.9 329.6h0M272.9 335.1h0M272.5 327.8h0M281.6 324.6h0M275.6 328.3h0M277.9 323.6h0M279.2 322.3h0M274.7 328.5h0M271.4 330.1h0M273.8 330.3h0M275.9 332.5h0M272.5 327.8h0M293.0 319.1h0M276.2 325.4h0M272.7 336.4h0M274.4 326.9h0M273.5 328.6h0M277.4 328.7h0M271.7 331.8h0M282.6 320.6h0M269.4 332.6h0M262.7 332.6h0M286.9 324.2h0M274.1 327.4h0M282.8 325.2h0M272.6 329.3h0M282.0 321.5h0M271.8 334.5h0M249.1 350.1h0M272.3 329.2h0M280.4 331.9h0M274.5 326.2h0M275.8 329.6h0M278.2 327.7h0M270.3 333.6h0M277.3 325.3h0M289.8 330.6h0M279.8 330.4h0M278.3 326.9h0M274.7 335.5h0M282.2 331.8h0M269.3 332.6h0M273.0 330.5h0M258.9 346.4h0M280.3 322.9h0M278.3 323.5h0M271.3 339.1h0M275.9 325.4h0M274.1 332.1h0M278.4 329.8h0M272.3 339.0h0M277.2 324.4h0M278.6 334.2h0M274.5 326.3h0M272.1 329.9h0M272.9 333.4h0M264.6 334.5h0M285.6 324.9h0M275.9 329.8h0M275.7 322.1h0M275.5 323.3h0M283.4 333.5h0M276.8 326.7h0M281.9 320.0h0M270.5 327.2h0M276.2 333.5h0M274.7 325.3h0M283.8 317.8h0M275.3 324.3h0M275.3 337.4h0M281.8 319.7h0M270.4 327.0h0M276.0 337.5h0M273.2 335.6h0M276.7 332.2h0M283.9 340.4h0M285.0 318.4h0M279.1 332.3h0M280.8 323.6h0M275.6 328.8h0M266.1 331.1h0M271.2 327.0h0M271.0 338.2h0M278.8 333.6h0M275.3 328.3h0M276.3 331.4h0M280.0 337.2h0M279.4 326.0h0M271.7 331.8h0M278.2 322.1h0M274.7 327.5h0M272.9 330.5h0M272.3 339.2h0M270.5 332.4h0M285.2 321.0h0M273.8 340.4h0M236.6 368.7h0M274.8 326.6h0M289.4 306.4h0M250.3 356.0h0M279.8 326.5h0M270.2 337.3h0M274.6 327.4h0M288.7 337.1h0M275.5 316.7h0M273.2 325.9h0M276.1 329.5h0M275.7 326.7h0M285.1 319.0h0M284.6 322.6h0M285.9 321.1h0M276.6 325.2h0M273.3 325.7h0M277.3 330.4h0M282.7 325.5h0M281.4 332.3h0M276.1 337.1h0M246.7 344.3h0M276.3 337.5h0M268.3 327.1h0M281.2 330.7h0M270.8 327.4h0M282.4 320.5h0M278.3 332.7h0M296.0 322.9h0M275.4 331.1h0M273.3 332.3h0M270.2 335.9h0M273.5 333.7h0M274.7 323.6h0M277.4 321.4h0M274.0 328.1h0M273.0 328.8h0M280.8 337.2h0M265.1 343.1h0M283.5 321.7h0M271.1 324.1h0M270.9 326.3h0M275.1 335.8h0M271.8 333.4h0M271.2 333.8h0M277.6 337.2h0M278.7 325.0h0M276.3 329.0h0M274.7 337.6h0M286.1 327.6h0M274.8 333.2h0M279.4 332.7h0M281.4 333.0h0M276.6 330.4h0M272.2 328.7h0M276.4 327.5h0M279.0 326.4h0M272.0 337.0h0M293.6 322.1h0M278.6 325.7h0M275.7 327.1h0M240.7 355.8h0M277.9 332.7h0M272.2 332.3h0M285.4 322.2h0M274.8 332.1h0M278.9 325.8h0M274.2 333.0h0M271.8 329.7h0M278.8 327.3h0M274.8 326.1h0M270.3 335.0h0M272.2 330.5h0M283.8 324.2h0M286.5 318.5h0M276.7 330.2h0M272.1 333.8h0M273.3 329.3h0M271.9 324.8h0M272.2 332.1h0M273.6 328.5h0M267.2 324.6h0M287.1 315.5h0M273.6 331.9h0M274.3 334.8h0M276.0 330.3h0M280.5 317.6h0M276.2 321.6h0M276.1 334.4h0M275.1 334.8h0M279.2 320.0h0M284.0 326.4h0M287.1 322.8h0M271.9 334.4h0M281.5 323.1h0M272.3 330.2h0M276.4 333.0h0M273.2 344.9h0M274.2 324.8h0M275.1 322.9h0M281.6 322.7h0M276.2 329.0h0M272.2 333.9h0M268.1 327.9h0M269.8 331.8h0M273.6 330.3h0M278.1 322.2h0M276.2 333.3h0M271.7 330.5h0M270.9 334.6h0M277.3 317.7h0M269.4 331.0h0M279.5 321.6h0M270.7 330.5h0M284.3 323.9h0M273.9 329.3h0M270.7 331.1h0M287.8 319.7h0M265.7 328.9h0M284.0 325.6h0M281.6 330.9h0M279.0 326.8h0M278.0 327.3h0M274.4 332.2h0M273.9 330.3h0M277.1 328.4h0M280.6 335.4h0M277.5 323.8h0M273.8 320.3h0M281.8 334.3h0M275.2 336.7h0M267.6 331.4h0M282.7 327.2h0M268.0 329.7h0M283.2 324.8h0M275.1 325.2h0M275.1 322.7h0M281.2 321.8h0M281.8 320.9h0M266.9 334.4h0M269.0 331.2h0M280.1 323.9h0M274.1 336.8h0M286.4 334.2h0M276.7 322.6h0M278.9 322.4h0M278.1 336.6h0M273.3 328.2h0M272.2 329.9h0M278.7 328.1h0M275.1 329.4h0M278.4 324.9h0M276.1 327.7h0M275.7 336.9h0M275.3 334.6h0M272.5 328.1h0M279.4 336.0h0M278.6 325.8h0M270.1 328.0h0M268.0 333.7h0M277.3 327.8h0M277.5 320.2h0M288.9 322.7h0M267.8 334.8h0M270.5 329.0h0M274.7 325.5h0M277.9 324.0h0M262.5 338.4h0M277.3 331.7h0M273.0 327.3h0M276.9 332.2h0M273.1 330.5h0M269.9 332.3h0M267.9 333.9h0M280.5 327.8h0M271.8 332.5h0M274.8 330.5h0M266.7 332.2h0M267.0 334.1h0M275.2 334.5h0M290.3 329.5h0M275.1 327.6h0M268.7 328.7h0M267.6 330.4h0M273.3 328.9h0M279.4 319.4h0M280.7 330.0h0M279.1 322.1h0M281.6 324.7h0M253.7 345.9h0M284.3 328.3h0M268.3 329.1h0M274.6 339.2h0M268.0 335.0h0M270.4 335.8h0M270.0 333.8h0M280.1 324.4h0M271.7 328.6h0M279.2 329.1h0M270.0 326.3h0M279.2 322.9h0M275.5 329.8h0M278.5 327.9h0M277.7 329.4h0M273.0 334.5h0M278.2 327.9h0M280.6 326.5h0M279.9 334.6h0M271.7 326.2h0M280.2 330.8h0M275.1 326.6h0M272.6 334.2h0M275.2 319.9h0M259.0 333.9h0M280.0 327.7h0M279.1 330.3h0M271.6 324.7h0M274.1 332.7h0M275.9 323.2h0M275.0 325.5h0M276.9 334.6h0M277.6 322.1h0M282.2 320.3h0M275.0 324.9h0M281.3 324.8h0" stroke="#ff30ff" stroke-width="1.5" stroke-linecap="square" fill="none" stroke-opacity="0.38"/>
<path d="M277.9 319.1h0M282.2 332.0h0M274.9 329.5h0M281.6 328.6h0M272.5 332.3h0M266.9 332.3h0M280.4 332.1h0M274.6 329.3h0M275.7 334.8h0M277.8 327.5h0M273.8 326.7h0M284.4 312.6h0M271.1 327.2h0M276.0 331.5h0M271.1 334.2h0M274.5 333.9h0M264.4 344.3h0M259.7 356.2h0M279.3 330.8h0M276.6 325.7h0M271.1 312.4h0M274.0 328.8h0M281.8 326.1h0M279.8 323.6h0M282.8 336.0h0M282.9 323.1h0M277.4 326.8h0M280.5 301.3h0M276.8 321.2h0M271.7 332.3h0M274.4 332.1h0M275.9 324.4h0M266.7 327.4h0M278.1 324.7h0M285.4 326.5h0M270.8 330.5h0M274.7 330.2h0M279.8 323.6h0M278.8 324.9h0M274.7 318.6h0M280.9 326.2h0M277.9 327.9h0M270.4 334.2h0M270.8 331.1h0M275.4 340.6h0M278.2 325.4h0M276.9 329.0h0M273.8 326.4h0M276.0 341.8h0M284.1 319.9h0M250.9 349.6h0M277.6 319.3h0M276.1 337.2h0M278.9 328.1h0M270.5 336.9h0M265.5 329.1h0M274.5 331.2h0M268.2 339.3h0M273.9 334.7h0M279.8 322.3h0M274.4 331.2h0M280.4 322.5h0M277.5 330.5h0M283.7 322.0h0M274.0 332.8h0M282.6 322.4h0M278.8 324.7h0M279.3 331.6h0M280.5 326.3h0M275.0 325.6h0M276.8 332.8h0M276.1 333.3h0M278.5 331.6h0M278.9 330.6h0M275.4 332.4h0M273.6 324.0h0M271.9 335.5h0M281.6 327.8h0M272.7 334.7h0M283.1 330.3h0M276.5 322.1h0M279.9 323.7h0M282.7 329.6h0M278.7 329.1h0M270.3 334.8h0M272.9 325.8h0M275.2 323.1h0M275.3 327.8h0M267.2 329.0h0M274.5 333.5h0M274.2 326.1h0M273.9 332.6h0M274.1 327.7h0M275.2 330.5h0M278.9 325.2h0M271.0 328.6h0M269.2 342.9h0M270.2 337.3h0M263.9 338.9h0M271.9 330.1h0M280.4 324.7h0M297.8 327.5h0M285.8 313.9h0M276.1 330.3h0M274.0 328.8h0M276.1 331.5h0M271.4 330.9h0M280.8 328.8h0M283.5 324.5h0M274.5 330.2h0M276.1 327.4h0M274.2 335.6h0M284.9 320.5h0M283.4 321.4h0M277.9 331.4h0M281.1 331.0h0M269.5 328.4h0M268.7 331.3h0M278.5 335.4h0M288.5 334.1h0M273.9 334.3h0M273.9 332.4h0M269.6 333.8h0M274.4 328.4h0M276.7 321.8h0M271.2 338.5h0M267.0 338.0h0M280.8 319.9h0M269.4 324.6h0M277.3 322.8h0M278.5 328.5h0M271.7 332.2h0M268.2 336.7h0M285.8 316.7h0M271.9 325.6h0M273.9 334.1h0M272.2 327.3h0M281.4 335.9h0M275.7 324.5h0M282.8 322.7h0M285.9 314.4h0M279.4 325.7h0M273.0 336.6h0M273.8 326.0h0M278.3 326.8h0M282.0 333.4h0M270.6 335.6h0M241.9 362.5h0M270.7 326.8h0M279.5 326.7h0M283.5 323.1h0M279.7 321.1h0M279.1 325.3h0M277.2 325.4h0M282.2 326.8h0M276.5 336.5h0M270.4 330.4h0M272.1 328.6h0M246.3 356.6h0M284.9 317.8h0M278.6 323.8h0M272.9 328.8h0M271.0 335.2h0M282.4 331.6h0M245.3 354.3h0M267.5 340.7h0M274.8 330.5h0M277.7 329.6h0M270.0 329.9h0M271.5 329.5h0M281.9 328.8h0M276.3 328.3h0M275.0 333.8h0M284.4 328.5h0M271.4 325.5h0M273.9 342.5h0M280.0 325.9h0M274.7 330.1h0M273.0 333.1h0M274.2 335.0h0M270.2 332.0h0M279.1 330.6h0M257.7 321.9h0M278.5 330.4h0M273.1 323.3h0M275.5 332.5h0M276.5 325.2h0M278.1 310.5h0M279.7 318.7h0M277.7 325.0h0M281.3 317.0h0M270.4 329.3h0M276.7 324.9h0M260.1 315.5h0M276.2 327.8h0M265.3 338.7h0M275.0 334.4h0M273.4 332.4h0M269.8 333.9h0M276.9 334.5h0M266.8 328.9h0M286.1 318.1h0M273.5 332.1h0M287.0 320.8h0M283.8 321.8h0M280.9 324.3h0M276.1 324.7h0M275.8 328.1h0M266.4 333.1h0M275.8 325.1h0M279.2 326.7h0M267.7 329.8h0M281.4 322.7h0M276.3 325.6h0M261.4 338.9h0M275.9 325.1h0M274.1 329.5h0M274.6 330.4h0M270.8 333.3h0M279.8 322.1h0M279.1 336.6h0M275.8 325.6h0M282.0 327.4h0M281.1 322.7h0M254.0 323.4h0M280.4 322.2h0M265.1 333.9h0M275.1 329.4h0M277.9 328.6h0M274.3 331.4h0M273.0 333.7h0M265.4 339.7h0M271.9 326.7h0M270.7 336.4h0M275.8 328.5h0M272.0 334.1h0M275.3 333.0h0M278.5 327.8h0M276.2 324.4h0M269.2 327.2h0M275.1 331.4h0M269.6 337.5h0M273.6 326.2h0M272.7 335.2h0M276.2 322.3h0M279.9 317.3h0M270.7 324.4h0M264.7 329.6h0M263.1 336.8h0M266.9 328.4h0M268.5 318.8h0M273.4 327.4h0M272.3 326.1h0M274.7 329.9h0M270.3 329.0h0M272.2 332.8h0M273.9 328.4h0M287.4 331.6h0M272.1 337.7h0M272.2 328.2h0M285.3 320.4h0M269.5 331.0h0M278.9 324.4h0M270.0 337.7h0M274.8 331.5h0M272.5 336.0h0M271.0 337.8h0M278.4 330.2h0M278.1 324.6h0M279.6 325.7h0M288.9 322.0h0M281.4 323.5h0M278.1 329.6h0M276.7 323.4h0M268.5 344.0h0M272.5 328.7h0M276.2 333.3h0M279.1 329.6h0M275.4 324.6h0M274.8 321.3h0M276.7 330.8h0M278.4 335.5h0M280.9 329.5h0M274.2 322.8h0M267.7 336.9h0M278.2 321.1h0M274.3 329.8h0M283.5 322.2h0M282.8 318.5h0M276.3 333.3h0M277.1 328.4h0M277.5 320.9h0M274.4 330.0h0M275.8 335.7h0M280.8 331.6h0M275.1 332.5h0M270.5 334.0h0M283.9 318.8h0M276.1 329.6h0M271.6 336.4h0M293.6 319.5h0M276.0 334.0h0M272.9 328.6h0M280.7 322.0h0M287.7 318.8h0M278.5 333.9h0M276.5 329.8h0M281.6 323.5h0M277.3 331.4h0M274.2 325.8h0M271.4 337.1h0M284.5 329.1h0M267.5 331.4h0M280.3 326.9h0M267.8 342.3h0M269.1 337.9h0M269.4 328.3h0M273.0 333.7h0M267.4 336.2h0M272.3 331.6h0M286.1 337.5h0M275.4 326.9h0M272.9 339.7h0M278.7 329.0h0M294.4 314.9h0M278.3 333.7h0M269.4 336.6h0M276.2 326.0h0M269.5 342.7h0M269.3 329.3h0M270.5 332.8h0M269.5 337.2h0M275.6 335.3h0M261.6 337.8h0M275.5 333.0h0M272.8 328.8h0M278.6 335.4h0M271.6 341.5h0M275.1 336.2h0M276.6 333.0h0M273.7 331.7h0M278.5 323.5h0M283.2 326.3h0M279.4 322.5h0M280.4 315.3h0M269.9 335.4h0M277.6 327.3h0M271.6 326.4h0M278.1 328.2h0M276.1 330.3h0M282.7 324.0h0M270.4 339.1h0M280.1 318.7h0M274.6 325.7h0M255.0 333.4h0M273.4 327.0h0M284.3 343.5h0M288.4 328.2h0M279.1 321.9h0M281.3 318.9h0M268.3 336.2h0M276.8 334.5h0M278.4 306.3h0M270.2 337.6h0M278.3 320.5h0M275.6 325.1h0M272.5 324.5h0M273.0 329.7h0M268.3 340.0h0M278.0 320.9h0M276.6 333.5h0M283.1 326.4h0M283.8 323.2h0M278.2 332.0h0M282.4 333.7h0M284.0 324.9h0M276.8 317.6h0M274.2 332.8h0M275.8 322.1h0M266.8 334.8h0M275.0 328.0h0M278.0 326.3h0M288.8 322.9h0M285.8 326.2h0M287.1 322.5h0M275.0 331.9h0M268.4 345.4h0M276.7 331.4h0M272.5 323.5h0M274.7 333.0h0M280.7 335.3h0M272.1 334.5h0M271.2 344.6h0M282.9 324.8h0M277.5 327.9h0M268.8 336.5h0M277.4 329.8h0M277.3 327.4h0M273.2 331.6h0M266.9 332.5h0M277.0 329.5h0M281.6 334.5h0M274.9 323.9h0M272.2 320.0h0M275.3 320.7h0M274.8 338.5h0M272.5 338.3h0M274.8 337.5h0M269.8 328.5h0M281.6 322.8h0M277.7 326.5h0M275.8 320.5h0M272.9 330.6h0M274.5 330.1h0M272.5 342.6h0M276.3 330.8h0M274.6 331.0h0M277.0 334.1h0M278.8 319.0h0M273.4 326.7h0M274.8 328.0h0M265.3 331.8h0M282.9 325.2h0M272.1 329.7h0M269.7 343.9h0M279.7 331.7h0M273.9 328.7h0M281.9 329.6h0M279.2 334.7h0M273.6 327.5h0M285.9 337.8h0M269.0 343.9h0M278.5 333.2h0M272.5 334.1h0M272.1 322.3h0M265.4 334.0h0M281.0 337.5h0M274.8 335.8h0M278.0 322.6h0M267.9 341.9h0M274.5 328.4h0M285.9 325.4h0M287.0 320.0h0M266.3 342.0h0M279.8 331.9h0M273.5 329.0h0M270.2 330.8h0M276.9 329.7h0M270.8 360.4h0" stroke="#ff30ff" stroke-width="1.5" stroke-linecap="square" fill="none" stroke-opacity="0.38"/>
<path d="M280.6 328.9h0M275.6 333.4h0M281.1 326.5h0M282.4 326.2h0M271.4 324.2h0M274.3 329.2h0M260.7 350.1h0M278.0 324.4h0M267.6 335.4h0M246.4 365.7h0M273.4 332.5h0M270.5 334.8h0M279.3 333.1h0M282.5 328.8h0M269.8 333.1h0M279.4 320.0h0M274.6 330.7h0M279.8 323.0h0M279.6 334.0h0M268.6 328.8h0M273.0 330.5h0M277.2 325.4h0M290.3 322.8h0M275.4 326.2h0M275.8 326.9h0M277.0 334.1h0M275.9 324.7h0M270.9 326.9h0M267.7 329.7h0M286.5 328.6h0M274.1 332.2h0M275.5 327.8h0M274.8 330.2h0M269.5 327.7h0M278.8 329.0h0M276.6 336.6h0M271.6 328.8h0M278.6 326.4h0M270.2 332.3h0M276.5 324.2h0M268.2 326.3h0M280.3 325.3h0M272.8 321.6h0M283.0 319.7h0M271.1 325.5h0M273.0 335.6h0M281.8 322.0h0M282.5 320.2h0M276.0 329.5h0M276.4 333.6h0M277.7 326.2h0M270.8 327.3h0M280.3 327.1h0M271.4 327.3h0M274.8 326.6h0M276.9 327.6h0M277.8 330.4h0M280.1 326.2h0M279.8 325.6h0M287.2 341.4h0M273.2 309.2h0M254.8 329.4h0M277.8 329.3h0M272.5 335.5h0M275.4 330.0h0M268.7 324.4h0M275.0 327.7h0M283.6 322.0h0M237.8 354.0h0M276.7 325.4h0M275.9 333.2h0M270.3 324.9h0M268.4 332.9h0M266.6 330.0h0M281.8 332.1h0M274.1 331.4h0M278.5 328.4h0M286.7 320.2h0M270.2 336.3h0M281.6 322.2h0M274.5 333.4h0M277.2 325.3h0M281.0 324.4h0M275.2 327.1h0M268.1 331.1h0M279.5 329.0h0M269.6 330.7h0M276.3 336.3h0M277.9 331.0h0M279.6 329.4h0M293.5 322.2h0M281.2 328.1h0M274.3 327.6h0M258.9 354.4h0M278.1 318.2h0M283.6 325.0h0M278.9 326.8h0M262.5 335.3h0M266.1 332.8h0M274.3 325.3h0M264.1 333.6h0M283.4 327.9h0M280.9 327.1h0M263.8 342.2h0M288.7 332.2h0M275.4 324.8h0M266.7 329.1h0M285.8 319.2h0M296.9 308.5h0M283.5 321.0h0M276.8 322.1h0M275.0 320.2h0M281.6 323.6h0M272.5 330.0h0M276.0 331.3h0M282.6 331.2h0M269.1 336.9h0M282.6 323.3h0M282.2 340.4h0M276.4 322.8h0M247.8 351.5h0M271.0 336.0h0M275.4 324.7h0M279.8 318.6h0M273.5 325.5h0M278.9 323.4h0M277.5 331.7h0M276.2 319.8h0M274.8 329.0h0M273.8 330.1h0M289.2 321.7h0M267.9 341.6h0M277.2 329.9h0M285.9 321.9h0M277.3 329.7h0M271.7 327.9h0M269.5 337.6h0M278.9 326.3h0M278.7 328.7h0M274.8 331.8h0M271.5 334.2h0M272.4 335.2h0M277.1 327.7h0M275.6 327.3h0M276.5 328.4h0M272.3 333.6h0M286.3 316.7h0M273.3 331.7h0M274.5 338.7h0M277.7 323.6h0M268.0 328.1h0M270.3 334.5h0M280.4 331.1h0M278.0 323.5h0M289.8 318.7h0M277.4 335.2h0M267.5 341.0h0M271.0 336.1h0M286.4 324.4h0M282.4 327.1h0M272.7 330.4h0M278.5 331.6h0M282.3 330.6h0M274.1 323.2h0M269.8 348.6h0M272.2 339.1h0M272.4 332.0h0M271.5 331.2h0M285.0 320.1h0M283.1 322.2h0M272.9 332.1h0M277.5 322.9h0M276.8 333.6h0M265.4 313.7h0M273.0 325.4h0M267.3 327.9h0M276.3 333.2h0M274.0 331.7h0M271.8 324.3h0M268.7 331.8h0M264.2 335.3h0M278.9 325.4h0M285.7 322.2h0M281.2 322.3h0M285.2 323.8h0M275.4 321.8h0M269.8 327.6h0M293.5 351.5h0M275.9 339.5h0M271.4 334.4h0M274.0 337.7h0M275.3 325.8h0M272.1 327.3h0M281.1 328.0h0M273.5 335.8h0M283.3 330.7h0M271.9 327.3h0M272.4 331.5h0M276.9 335.0h0M268.1 334.0h0M269.1 327.7h0M287.1 314.2h0M270.9 328.7h0M278.2 336.6h0M276.6 327.8h0M281.3 323.2h0M277.3 323.7h0M283.0 334.9h0M278.3 330.5h0M264.7 319.5h0M277.0 327.3h0M280.7 324.9h0M275.7 326.6h0M257.5 344.3h0M261.8 336.3h0M276.1 331.6h0M274.6 337.8h0M278.8 325.4h0M281.5 324.2h0M267.5 329.4h0M266.6 333.3h0M272.0 334.0h0M273.0 330.5h0M275.2 333.7h0M270.4 331.2h0M270.8 336.2h0M260.1 349.4h0M274.3 332.0h0M270.3 339.6h0M281.2 336.4h0M280.6 323.8h0M278.7 328.9h0M279.7 327.5h0M276.3 327.7h0M291.8 316.8h0M279.9 330.2h0M280.4 330.9h0M276.4 327.5h0M281.5 322.8h0M267.1 331.4h0M282.6 321.9h0M270.3 337.8h0M271.7 329.7h0M285.5 327.5h0M282.4 328.6h0M267.6 330.5h0M280.6 325.2h0M270.9 334.9h0M287.7 324.6h0M276.6 328.4h0M282.1 324.0h0M278.2 321.7h0M284.0 323.1h0M282.2 324.0h0M273.7 320.8h0M258.3 337.5h0M282.2 327.6h0M277.4 320.3h0M281.1 323.9h0M275.6 334.7h0M294.0 322.6h0M262.1 316.8h0M271.9 328.8h0M280.4 322.0h0M271.9 330.3h0M280.4 319.6h0M274.8 325.5h0M272.3 330.8h0M253.6 347.4h0M282.6 318.5h0M272.7 327.3h0M268.6 340.3h0M263.3 345.0h0M284.8 329.9h0M258.9 340.5h0M273.6 333.9h0M275.4 330.3h0M271.2 337.6h0M269.0 339.9h0M265.6 340.2h0M265.0 328.8h0M280.7 327.0h0M273.6 335.3h0M276.0 334.5h0M284.8 340.1h0M279.9 327.7h0M276.1 335.5h0M239.7 356.9h0M267.5 335.6h0M278.3 326.6h0M277.0 326.0h0M275.6 321.7h0M255.4 341.2h0M276.0 330.0h0M272.9 339.0h0M281.3 321.5h0M278.6 328.5h0M278.3 329.6h0M276.1 328.7h0M279.8 335.3h0M267.2 337.5h0M276.7 330.6h0M279.1 326.7h0M271.6 329.8h0M277.1 332.3h0M273.1 337.5h0M270.2 327.5h0M281.9 322.1h0M268.6 337.6h0M283.6 322.0h0M276.3 331.2h0M276.4 331.3h0M280.8 323.7h0M268.9 342.5h0M273.6 326.5h0M274.9 333.3h0M283.0 327.9h0M279.2 328.3h0M273.5 332.2h0M280.4 332.0h0M273.8 326.6h0M274.8 333.8h0M276.7 327.0h0M275.5 326.3h0M277.3 329.3h0M269.0 338.5h0M277.6 333.1h0M282.1 325.6h0M281.1 326.0h0M282.2 325.8h0M269.7 330.4h0M285.0 331.2h0M267.9 332.0h0M267.2 338.0h0M277.9 327.6h0M279.7 329.9h0M264.2 333.7h0M276.7 328.9h0M278.4 331.1h0M282.2 327.4h0M282.8 323.4h0M270.6 339.2h0M270.1 323.0h0M274.7 339.4h0M280.5 327.4h0M271.5 333.4h0M271.3 327.9h0M265.8 325.9h0M268.4 336.9h0M266.0 336.0h0M270.7 325.8h0M270.3 332.5h0M284.7 327.0h0M281.6 318.8h0M275.9 329.9h0M271.9 327.4h0M269.9 330.8h0M274.4 331.1h0M271.1 331.0h0M271.0 335.5h0M276.7 322.2h0M275.9 326.0h0M270.5 336.5h0M273.9 322.6h0M276.0 329.5h0M268.0 334.5h0M270.6 333.4h0M275.3 331.1h0M281.7 329.9h0M284.1 326.7h0M269.9 321.1h0M280.2 338.5h0M282.4 325.4h0M281.9 327.2h0M271.7 332.4h0M280.9 341.1h0M276.0 325.6h0M269.8 331.7h0M266.9 334.8h0M266.5 340.6h0M274.7 317.7h0M277.1 329.6h0M280.5 331.0h0M293.1 331.4h0M273.2 338.8h0M285.6 330.8h0M288.5 312.5h0M278.9 330.6h0M278.5 334.4h0M243.5 348.2h0M275.8 329.5h0M276.5 332.7h0M274.4 335.4h0M270.5 330.2h0M279.1 328.3h0M278.3 320.6h0M279.9 328.3h0M280.5 324.3h0M279.4 330.4h0M281.1 324.1h0M281.8 324.3h0M276.0 330.0h0M274.4 327.9h0M276.6 333.6h0M275.6 329.1h0M276.3 328.3h0M277.7 322.8h0M273.1 326.3h0M283.3 334.4h0M274.8 326.7h0M269.6 331.9h0M302.9 310.4h0M276.9 322.6h0M275.4 326.1h0M281.4 324.4h0M279.1 334.9h0M270.7 335.2h0M270.0 331.6h0M278.0 322.2h0M276.7 331.4h0M278.9 329.6h0M281.5 336.6h0M277.1 326.8h0M269.4 335.0h0M279.2 331.4h0M267.9 324.1h0M278.0 334.2h0M273.5 326.1h0M259.9 335.8h0M283.7 331.6h0M276.0 332.0h0M274.7 322.5h0M284.9 322.0h0M272.8 342.2h0M281.0 327.3h0M274.4 332.3h0M267.4 336.1h0M274.3 331.7h0M298.9 320.9h0M280.6 324.8h0M269.7 327.4h0M289.0 325.6h0M280.7 333.8h0M283.1 324.6h0M266.2 330.1h0M282.4 323.4h0M264.8 339.1h0M274.9 331.8h0M276.1 332.7h0" stroke="#ff30ff" stroke-width="1.5" stroke-linecap="square" fill="none" stroke-opacity="0.38"/>
<path d="M277.4 341.1h0M271.8 333.7h0M282.0 330.1h0M279.3 320.0h0M272.6 325.9h0M277.5 329.9h0M274.8 338.8h0M272.0 337.7h0M262.5 351.8h0M277.0 328.7h0M280.0 330.1h0M279.3 325.7h0M279.3 319.7h0M270.1 329.0h0M271.8 329.9h0M265.8 318.4h0M269.1 334.3h0M274.3 332.1h0M272.0 323.3h0M274.9 320.8h0M272.7 338.4h0M280.5 309.9h0M280.3 321.2h0M266.3 344.9h0M274.2 326.6h0M279.0 327.8h0M277.6 321.3h0M269.2 336.1h0M240.4 367.9h0M281.0 314.8h0M274.1 330.0h0M279.2 328.2h0M279.8 331.4h0M276.0 328.8h0M275.2 331.4h0M273.3 335.3h0M281.8 329.5h0M277.9 323.6h0M277.6 320.5h0M274.8 325.9h0M284.2 327.6h0M267.7 336.9h0M274.2 326.7h0M272.0 333.3h0M266.9 339.5h0M278.6 336.1h0M277.2 312.0h0M266.5 338.8h0M270.2 331.6h0M272.7 328.8h0M273.8 328.6h0M273.7 329.3h0M285.2 326.2h0M271.8 331.7h0M279.9 320.7h0M278.0 324.9h0M266.5 340.3h0M278.8 321.2h0M278.9 324.4h0M275.3 329.8h0M271.5 337.9h0M277.1 331.2h0M273.7 339.8h0M275.2 327.0h0M270.7 324.3h0M274.6 327.5h0M267.4 348.9h0M279.1 338.9h0M272.1 326.4h0M280.2 321.6h0M283.8 326.5h0M282.9 320.7h0M285.0 320.8h0M281.8 333.2h0M272.9 327.0h0M275.3 331.7h0M277.8 327.8h0M274.9 335.2h0M276.7 327.1h0M278.1 316.2h0M275.7 342.1h0M272.1 329.5h0M273.2 330.0h0M267.9 333.4h0M279.8 320.0h0M275.9 334.8h0M274.9 330.3h0M270.2 339.6h0M270.7 333.3h0M285.6 316.0h0M272.6 340.9h0M279.1 328.2h0M269.2 353.9h0M282.9 316.5h0M278.2 328.2h0M278.1 335.0h0M278.2 322.1h0M273.4 332.5h0M276.3 322.0h0M272.3 333.6h0M276.4 331.0h0M275.8 345.0h0M272.4 332.9h0M270.6 335.6h0M281.8 327.8h0M272.5 335.4h0M275.2 324.1h0M272.4 331.6h0M279.4 321.2h0M282.6 329.2h0M285.0 323.7h0M277.6 325.9h0M264.8 343.4h0M276.3 332.5h0M276.1 344.8h0M291.5 331.7h0M281.3 322.2h0M266.1 335.0h0M273.0 330.4h0M272.0 333.6h0M268.5 342.0h0M261.7 355.5h0M281.4 324.4h0M275.5 333.3h0M275.7 329.2h0M276.7 323.8h0M277.2 311.1h0M271.7 325.5h0M270.5 329.2h0M281.8 324.4h0M275.0 330.6h0M279.5 327.8h0M278.0 324.7h0M279.0 325.0h0M273.2 325.2h0M235.2 340.9h0M273.0 327.1h0M281.6 331.9h0M279.2 339.1h0M267.9 342.5h0M270.2 336.2h0M284.1 331.3h0M289.2 319.3h0M274.2 329.3h0M279.8 328.6h0M268.1 336.5h0M270.3 334.8h0M265.4 333.1h0M274.3 332.5h0M275.2 319.6h0M275.8 329.2h0M268.7 332.0h0M279.9 327.0h0M278.3 330.0h0M274.1 329.5h0M279.5 328.4h0M279.0 339.1h0M277.8 319.5h0M280.4 324.8h0M268.7 326.8h0M276.7 326.7h0M273.4 328.8h0M272.4 334.9h0M276.4 335.3h0M281.7 328.8h0M270.4 323.7h0M268.6 328.1h0M275.3 320.7h0M283.9 324.4h0M277.3 340.5h0M274.0 332.7h0M276.0 331.5h0M275.9 339.8h0M279.5 323.3h0M270.1 333.9h0M270.8 329.6h0M276.4 328.0h0M264.4 343.6h0M278.9 330.4h0M271.7 333.0h0M279.9 327.5h0M281.2 313.3h0M274.8 329.9h0M258.4 328.9h0M287.9 322.0h0M274.9 335.0h0M274.4 319.4h0M279.2 326.7h0M268.2 327.5h0M279.8 324.7h0M265.0 335.5h0M277.7 330.4h0M277.2 325.7h0M270.6 332.9h0M278.6 319.8h0M266.2 336.1h0M273.7 336.7h0M276.7 323.2h0M284.3 330.8h0M272.4 334.7h0M280.7 328.5h0M283.3 329.8h0M273.5 323.2h0M281.0 320.1h0M281.4 329.0h0M279.4 321.3h0M282.1 330.9h0M274.4 322.9h0M266.5 338.8h0M278.9 325.7h0M269.3 323.2h0M273.4 335.9h0M277.8 323.3h0M272.3 334.4h0M278.3 329.6h0M280.9 331.0h0M269.9 335.8h0M280.8 316.9h0M278.1 335.5h0M269.4 334.0h0M290.8 320.8h0M281.7 325.1h0M274.9 334.2h0M273.1 338.0h0M281.1 331.2h0M277.0 322.4h0M274.9 331.3h0M273.0 333.0h0M275.1 330.1h0M275.9 331.7h0M276.1 336.7h0M278.7 322.5h0M275.1 328.5h0M276.1 321.9h0M278.7 322.2h0M275.8 328.6h0M269.3 330.5h0M271.2 332.7h0M277.1 323.8h0M272.4 320.1h0M278.3 316.9h0M273.6 331.2h0M277.7 327.7h0M276.2 328.3h0M267.6 329.6h0M263.6 342.2h0M272.3 339.2h0M269.5 333.0h0M279.3 326.2h0M266.7 332.3h0M273.7 331.9h0M270.5 334.7h0M269.9 336.9h0M289.0 304.5h0M273.9 328.3h0M274.0 336.2h0M288.2 318.9h0M287.4 325.8h0M274.9 330.2h0M272.6 324.3h0M267.9 335.2h0M266.8 326.1h0M262.9 337.2h0M279.2 327.7h0M277.5 337.3h0M266.3 355.4h0M275.1 322.6h0M280.6 333.6h0M268.5 332.5h0M282.0 324.1h0M280.5 334.4h0M272.8 334.9h0M281.1 321.6h0M275.4 326.6h0M277.4 326.9h0M281.8 328.7h0M274.3 333.4h0M275.1 327.6h0M277.2 330.4h0M270.1 331.1h0M279.2 327.5h0M274.7 328.3h0M269.7 313.1h0M240.5 365.1h0M264.3 339.7h0M273.4 330.5h0M273.4 337.2h0M265.8 333.6h0M278.9 328.0h0M280.4 327.1h0M277.1 321.8h0M289.1 327.7h0M270.6 333.5h0M291.0 324.7h0M283.1 323.3h0M279.2 320.5h0M247.4 353.5h0M272.7 332.6h0M280.4 326.9h0M281.3 329.5h0M284.1 321.0h0M264.8 328.6h0M273.2 331.5h0M268.1 326.8h0M269.7 344.9h0M273.2 332.0h0M276.3 334.9h0M283.6 333.2h0M275.9 334.1h0M286.4 320.0h0M279.8 325.9h0M270.6 331.7h0M245.0 350.1h0M275.8 333.2h0M270.6 329.4h0M276.8 333.8h0M274.7 333.8h0M279.7 325.6h0M275.1 330.8h0M274.8 325.7h0M278.8 326.8h0M272.4 327.8h0M271.7 331.4h0M271.2 328.9h0M276.2 328.0h0M263.8 344.3h0M276.5 337.6h0M277.2 329.3h0M268.6 343.9h0M282.8 326.7h0M274.0 322.8h0M280.3 324.4h0M281.8 329.9h0M277.0 322.4h0M276.7 329.9h0M277.6 336.8h0M287.0 320.0h0M279.1 327.2h0M279.8 318.9h0M273.6 333.0h0M270.9 333.0h0M274.2 336.4h0M275.7 323.1h0M275.3 338.9h0M276.3 331.4h0M280.6 319.9h0M271.9 333.0h0M284.0 323.8h0M276.6 329.7h0M269.8 335.2h0M275.6 327.0h0M280.5 322.2h0M289.4 343.5h0M277.3 312.8h0M273.1 326.2h0M270.0 331.8h0M284.2 311.1h0M281.1 339.8h0M280.8 316.6h0M279.9 325.1h0M266.1 308.3h0M266.1 349.8h0M299.1 324.6h0M284.3 328.4h0M273.4 326.1h0M274.9 334.1h0M281.6 328.2h0M277.5 332.2h0M271.3 328.7h0M291.1 317.6h0M266.0 337.2h0M270.7 333.9h0M276.2 327.8h0M296.2 319.5h0M283.6 322.0h0M271.8 333.2h0M281.2 321.3h0M273.3 328.1h0M275.8 330.7h0M272.8 327.6h0M278.4 329.9h0M268.8 337.2h0M283.3 321.3h0M269.9 336.5h0M280.5 328.9h0M276.3 332.3h0M259.1 350.8h0M266.4 338.7h0M270.2 326.5h0M279.5 327.7h0M278.8 326.1h0M281.7 322.4h0M273.6 327.0h0M272.0 340.1h0M273.2 331.8h0M273.8 321.2h0M275.9 330.8h0M277.8 332.5h0M273.8 329.9h0M288.0 328.7h0M276.8 330.3h0M281.7 322.3h0M291.0 308.7h0M266.7 334.6h0M275.5 327.1h0M277.6 328.3h0M272.5 335.8h0M278.5 331.0h0M276.4 333.5h0M270.5 330.2h0M272.2 332.1h0M274.4 323.6h0M274.3 334.4h0M281.4 333.2h0M262.4 338.1h0M273.8 332.5h0M284.4 315.6h0M278.3 333.1h0M277.6 330.6h0M275.3 323.3h0M279.1 325.3h0M280.6 333.3h0M271.8 331.7h0M274.2 331.2h0M277.2 327.7h0M280.5 316.7h0M278.4 319.4h0M277.1 328.4h0M278.2 330.7h0M282.4 301.8h0M281.0 329.4h0M264.6 333.9h0M286.1 329.3h0M281.2 328.9h0M270.1 331.4h0M280.3 331.1h0M275.0 329.5h0M265.9 335.7h0M275.6 332.0h0M273.5 333.3h0M273.1 336.2h0M272.1 331.7h0M274.9 330.4h0M278.0 329.8h0M273.2 333.1h0M278.2 325.5h0M275.5 330.4h0M274.9 330.9h0" stroke="#ff30ff" stroke-width="1.5" stroke-linecap="square" fill="none" stroke-opacity="0.38"/>
<path d="M277.3 330.3h0M280.1 327.4h0M277.8 326.2h0M275.5 328.6h0M276.6 330.8h0M268.3 338.3h0M264.1 339.7h0M274.0 328.0h0M272.4 329.2h0M268.5 342.6h0M282.0 321.1h0M272.5 331.9h0M280.1 329.9h0M283.5 320.5h0M271.3 332.0h0M276.4 323.9h0M279.1 325.1h0M272.2 320.3h0M244.8 352.9h0M278.1 327.8h0M276.7 331.2h0M282.8 323.4h0M270.7 339.1h0M269.2 334.5h0M281.7 325.7h0M273.9 323.9h0M278.2 331.6h0M269.8 333.3h0M280.6 319.8h0M271.0 331.1h0M283.2 328.1h0M270.5 335.5h0M274.1 323.8h0M277.1 330.2h0M274.6 331.3h0M274.1 341.2h0M271.9 334.8h0M274.2 331.8h0M270.2 323.1h0M285.5 321.6h0M282.5 324.4h0M270.2 330.3h0M283.6 321.4h0M277.8 334.8h0M274.4 326.6h0M270.1 333.9h0M268.8 341.1h0M274.1 324.4h0M275.0 334.1h0M269.0 337.1h0M274.3 327.1h0M276.1 328.5h0M267.9 320.1h0M271.8 336.9h0M272.4 335.4h0M275.3 331.1h0M275.8 322.8h0M279.3 329.9h0M275.9 340.8h0M263.1 317.7h0M286.0 315.6h0M274.4 332.4h0M272.4 341.7h0M276.4 319.4h0M277.6 325.4h0M266.0 337.8h0M278.7 333.0h0M281.6 318.0h0M275.9 324.4h0M272.2 325.7h0M277.4 329.8h0M272.6 330.6h0M278.3 328.9h0M285.0 327.1h0M271.9 335.3h0M273.6 333.7h0M271.8 343.3h0M265.2 336.8h0M275.8 329.7h0M284.8 324.2h0M279.4 326.1h0M277.7 324.9h0M269.3 332.7h0M274.5 327.8h0M273.9 331.1h0M272.0 329.4h0M279.1 318.3h0M276.5 319.9h0M278.7 328.9h0M278.8 325.5h0M261.9 326.8h0M266.7 331.8h0M275.6 325.3h0M266.3 331.3h0M281.5 335.9h0M273.5 328.5h0M283.5 318.4h0M269.9 332.2h0M284.9 320.5h0M265.4 332.6h0M276.0 340.7h0M240.2 358.7h0M274.6 331.6h0M284.9 322.4h0M278.2 336.3h0M282.8 329.4h0M281.8 337.5h0M276.3 327.3h0M282.2 323.7h0M281.1 320.2h0M271.3 334.0h0M264.5 333.4h0M275.4 327.3h0M280.7 312.0h0M274.1 323.8h0M269.1 338.6h0M279.9 326.1h0M266.6 336.7h0M274.6 331.3h0M266.5 329.2h0M278.6 334.9h0M284.8 325.6h0M273.5 327.7h0M268.7 336.1h0M271.3 330.5h0M271.5 327.9h0M280.0 329.8h0M273.5 325.9h0M282.7 321.3h0M273.8 325.1h0M275.8 323.2h0M268.4 329.2h0M278.0 320.8h0M278.2 321.6h0M273.8 335.0h0M292.3 326.9h0M282.1 328.8h0M275.4 337.1h0M272.8 333.7h0M277.0 333.9h0M275.7 334.5h0M275.0 334.1h0M269.7 332.3h0M277.9 331.2h0M267.8 330.3h0M239.3 370.3h0M270.0 332.7h0M278.6 320.4h0M272.7 320.7h0M271.8 328.1h0M266.5 335.4h0M281.1 331.9h0M280.5 329.0h0M281.7 327.6h0M274.2 330.6h0M271.1 336.2h0M281.2 325.2h0M273.1 336.9h0M283.4 308.0h0M251.4 354.1h0M277.0 325.7h0M276.4 328.5h0M277.6 338.7h0M275.1 329.8h0M274.9 329.3h0M283.7 322.0h0M275.5 325.2h0M276.0 332.7h0M269.6 334.9h0M274.2 326.9h0M279.2 333.8h0M277.3 328.8h0M272.5 331.9h0M276.0 333.4h0M275.3 325.0h0M282.4 338.2h0M273.3 335.3h0M264.5 336.5h0M279.4 318.5h0M280.1 325.9h0M266.6 341.7h0M278.8 331.7h0M266.6 331.5h0M278.6 330.9h0M279.6 325.1h0M263.2 340.6h0M275.3 331.9h0M280.9 326.1h0M268.2 341.0h0M276.9 332.4h0M276.0 330.9h0M274.9 332.3h0M266.5 328.7h0M271.9 331.2h0M280.8 335.6h0M274.7 325.1h0M281.0 342.0h0M265.7 340.3h0M272.7 330.6h0M274.9 333.0h0M277.0 324.8h0M278.5 324.7h0M269.7 327.5h0M283.3 326.9h0M280.5 325.8h0M284.2 320.8h0M275.5 329.9h0M274.3 330.2h0M281.0 318.2h0M273.0 325.4h0M283.2 317.4h0M274.8 317.2h0M277.1 333.2h0M271.5 329.3h0M284.9 321.7h0M273.1 335.4h0M271.3 336.1h0M265.7 335.1h0M269.1 333.5h0M270.4 331.6h0M279.1 321.4h0M279.2 331.9h0M273.4 325.9h0M270.0 336.8h0M273.8 333.5h0M282.9 321.7h0M278.5 338.6h0M285.5 319.7h0M274.1 333.9h0M284.0 318.3h0M276.5 334.7h0M273.1 329.1h0M274.1 324.3h0M274.0 331.8h0M274.8 327.0h0M278.6 328.5h0M276.1 328.4h0M279.5 329.5h0M285.6 328.6h0M277.5 329.0h0M278.2 329.3h0M268.9 340.8h0M275.4 329.9h0M278.3 328.2h0M281.4 322.9h0M275.9 339.3h0M278.5 320.9h0M276.9 320.8h0M276.3 326.1h0M276.1 333.9h0M277.2 327.4h0M282.0 328.8h0M249.6 358.5h0M286.1 314.8h0M274.5 327.0h0M271.8 326.8h0M279.1 326.7h0M281.4 329.0h0M278.4 326.0h0M275.1 329.7h0M267.9 328.8h0M275.2 332.8h0M281.9 334.9h0M286.2 308.7h0M275.6 326.0h0M272.5 328.8h0M262.0 320.8h0M277.2 323.0h0M268.2 330.7h0M274.6 332.5h0M269.1 326.9h0M271.0 336.8h0M285.0 314.5h0M278.8 333.7h0M279.7 326.5h0M267.8 336.8h0M271.7 321.3h0M276.6 325.4h0M274.6 331.6h0M273.5 337.2h0M280.0 325.7h0M271.9 327.8h0M287.8 328.5h0M283.9 332.0h0M277.3 330.9h0M267.1 331.2h0M275.6 335.1h0M265.7 336.2h0M272.4 333.3h0M274.2 327.7h0M267.8 337.7h0M290.3 331.8h0M274.4 324.4h0M274.6 329.7h0M273.8 323.1h0M276.4 324.9h0M285.2 324.0h0M274.1 326.6h0M265.0 351.1h0M267.5 328.6h0M275.9 326.9h0M275.6 322.5h0M277.2 321.6h0M278.9 330.5h0M267.1 330.9h0M269.3 329.8h0M275.4 325.2h0M281.0 316.5h0M271.1 326.3h0M272.3 325.3h0M274.2 326.4h0M275.7 335.6h0M278.6 324.6h0M274.5 342.1h0M278.1 331.6h0M273.3 328.4h0M285.0 324.3h0M280.6 322.2h0M274.7 335.6h0M276.3 333.9h0M260.0 341.1h0M271.6 333.8h0M279.8 326.2h0M277.7 336.6h0M278.4 333.8h0M277.2 334.4h0M282.9 323.6h0M276.6 326.8h0M275.8 324.5h0M280.7 321.6h0M272.0 328.9h0M292.3 330.8h0M277.7 326.5h0M283.4 335.3h0M279.5 329.3h0M271.6 332.2h0M277.5 321.9h0M270.6 331.9h0M274.8 326.1h0M275.1 334.6h0M274.9 337.9h0M268.0 338.2h0M275.5 332.2h0M269.9 342.8h0M270.6 332.2h0M279.0 324.7h0M274.6 335.6h0M274.9 328.9h0M276.0 319.0h0M275.8 331.1h0M276.1 335.5h0M266.6 338.1h0M273.9 325.0h0M273.6 326.7h0M276.6 327.1h0M246.9 358.8h0M274.4 322.1h0M270.5 328.8h0M283.2 321.5h0M271.4 332.9h0M264.9 328.9h0M273.9 319.3h0M273.8 326.4h0M276.1 328.0h0M278.0 325.0h0M276.7 330.8h0M271.7 335.9h0M280.1 326.7h0M280.7 327.3h0M274.8 329.8h0M264.8 337.3h0M263.1 337.7h0M277.6 333.5h0M274.8 334.4h0M281.0 328.4h0M272.3 336.0h0M278.4 321.7h0M278.8 328.1h0M281.7 332.2h0M276.7 329.8h0M274.0 336.2h0M270.2 327.7h0M279.2 329.0h0M273.9 335.2h0M279.2 325.4h0M270.9 327.0h0M272.4 337.9h0M272.9 335.6h0M269.7 339.8h0M293.1 323.7h0M267.5 344.0h0M282.1 331.7h0M273.9 324.3h0M277.3 332.6h0M270.2 333.4h0M270.9 334.3h0M283.0 325.0h0M277.5 323.7h0M278.7 327.8h0M280.2 323.7h0M278.3 331.4h0M275.0 329.7h0M270.1 329.4h0M271.9 329.8h0M278.6 323.1h0M276.1 331.0h0M266.8 344.3h0M278.5 337.0h0M276.5 327.0h0M276.8 333.5h0M276.6 321.9h0M270.4 332.8h0M280.1 332.0h0M277.0 330.3h0M281.0 324.9h0M277.0 328.9h0M277.5 320.1h0M283.3 315.5h0M280.9 326.8h0M274.6 325.9h0M275.7 336.8h0M270.3 329.3h0M278.2 323.4h0M277.1 331.2h0M278.0 331.9h0M280.3 326.5h0M275.4 331.6h0M270.0 332.4h0M265.1 338.8h0M267.6 327.0h0M273.4 326.8h0M239.1 379.2h0M281.5 319.7h0M282.4 320.7h0M278.1 328.0h0M252.4 346.9h0M276.9 328.6h0M268.8 333.9h0M239.4 381.4h0M276.9 332.6h0M278.0 322.4h0M274.7 330.6h0M282.0 329.9h0M277.8 331.6h0M274.4 330.4h0M274.8 330.3h0M279.1 325.2h0M285.4 326.7h0" stroke="#ff30ff" stroke-width="1.5" stroke-linecap="square" fill="none" stroke-opacity="0.38"/>
<path d="M299.6 331.8h0M290.9 333.9h0M303.6 334.4h0M314.1 330.2h0M280.5 314.1h0M278.0 305.8h0M305.3 343.2h0M292.0 329.1h0M278.4 294.9h0M311.8 336.2h0M308.0 336.0h0M280.6 296.3h0M298.3 338.7h0M276.6 294.6h0M284.1 295.2h0M282.5 307.7h0M275.6 291.9h0M283.3 315.9h0M280.7 305.9h0M280.3 316.4h0M307.2 329.2h0M295.4 331.9h0M283.8 305.4h0M280.9 311.9h0M278.9 309.2h0M295.7 323.6h0M273.4 309.8h0M289.8 292.2h0M304.8 333.1h0M312.0 329.5h0M286.1 305.2h0M309.5 325.5h0M284.4 308.9h0" stroke="#22e822" stroke-width="1.5" stroke-linecap="square" fill="none" stroke-opacity="0.38"/>
<path d="M300.8 322.9h0M277.5 302.7h0M276.7 309.3h0M278.7 292.7h0M302.7 332.7h0M279.5 291.2h0M306.3 323.8h0M283.0 295.4h0M311.5 333.4h0M283.8 315.5h0M275.4 296.7h0M310.9 325.7h0M308.6 331.3h0M311.1 330.9h0M281.1 305.0h0M274.5 303.1h0M286.7 304.0h0M282.2 297.4h0M302.9 327.6h0M279.9 307.0h0M293.1 330.0h0M309.9 335.6h0M291.2 332.5h0M280.4 299.5h0M304.1 329.9h0M312.7 325.9h0M279.6 310.9h0M311.1 330.5h0M274.7 294.2h0M285.3 307.2h0M304.0 328.9h0M278.6 315.2h0" stroke="#22e822" stroke-width="1.5" stroke-linecap="square" fill="none" stroke-opacity="0.38"/>
<path d="M279.5 315.0h0M281.6 305.0h0M281.8 316.7h0M308.7 326.8h0M308.0 329.1h0M278.3 295.4h0M294.5 331.5h0M305.5 331.7h0M307.1 330.6h0M312.3 332.0h0M276.7 299.5h0M312.6 329.2h0M310.5 329.9h0M304.5 330.5h0M282.0 299.2h0M282.2 300.9h0M283.7 291.4h0M285.0 310.6h0M277.6 313.9h0M296.6 333.1h0M284.2 298.1h0M282.9 292.1h0M282.2 296.0h0M293.2 313.1h0M281.7 295.2h0M281.6 296.3h0M300.2 329.7h0M280.5 299.8h0M305.0 327.8h0M295.8 328.3h0M280.7 296.6h0M275.5 299.5h0M279.9 291.1h0" stroke="#ff30ff" stroke-width="1.5" stroke-linecap="square" fill="none" stroke-opacity="0.38"/>
<path d="M293.4 339.3h0M280.6 316.5h0M277.7 309.0h0M274.8 315.2h0M297.8 324.4h0M283.2 313.1h0M297.5 338.1h0M280.6 303.0h0M301.8 328.2h0M276.8 313.2h0M314.2 327.4h0M280.6 296.6h0M278.2 303.7h0M310.9 325.2h0M283.0 314.7h0M304.9 322.1h0M308.4 327.5h0M279.1 291.4h0M291.4 332.4h0M301.8 329.8h0M279.6 315.5h0M283.2 298.7h0M310.0 320.6h0M300.0 332.6h0M306.4 320.0h0M309.4 333.7h0M304.5 329.7h0M291.3 333.2h0M280.7 310.0h0M281.0 307.4h0M299.6 329.2h0M286.7 300.5h0" stroke="#ff30ff" stroke-width="1.5" stroke-linecap="square" fill="none" stroke-opacity="0.38"/>
<circle cx="294.9" cy="373.9" r="0.8" fill="#22e822"/>
<circle cx="294.9" cy="383.4" r="0.8" fill="#ff30ff"/>
<text x="298.6" y="376.2" font-size="6.3" stroke="#000" stroke-width="0.12">Group II (<tspan font-style="italic">r</tspan> = 0.41)</text>
<text x="298.6" y="385.7" font-size="6.3" stroke="#000" stroke-width="0.12">Group III (<tspan font-style="italic">r</tspan> = 0.54)</text>
<text x="270" y="409" font-size="8.2" text-anchor="middle" stroke="#000" stroke-width="0.12">Library coverage in rep 1</text>
<text x="271.3" y="419.2" font-size="8.2" text-anchor="middle" stroke="#000" stroke-width="0.12">[log<tspan font-size="55%" dy="2.2">2</tspan><tspan dy="-2.2">(CPM+1)]</tspan></text>
<text x="196.4" y="345" font-size="8.2" text-anchor="middle" stroke="#000" stroke-width="0.12" transform="rotate(-90 196.4 345)">Library coverage in rep 2</text>
<text x="207.27" y="340.4" font-size="8.2" text-anchor="middle" stroke="#000" stroke-width="0.12" transform="rotate(-90 207.27 340.4)" letter-spacing="0.38">[log<tspan font-size="55%" dy="2.2">2</tspan><tspan dy="-2.2">(CPM+1)]</tspan></text>
<text x="523.8" y="142" font-size="10.9" font-weight="bold" stroke="#000" stroke-width="0.12">E</text>
<line x1="556.5" y1="137.2" x2="556.5" y2="240" stroke="#000" stroke-width="1.0"/>
<line x1="556" y1="239.5" x2="659.6" y2="239.5" stroke="#000" stroke-width="1.0"/>
<line x1="553.5" y1="239.5" x2="556.5" y2="239.5" stroke="#000" stroke-width="1.0"/>
<text x="553.6" y="241.7" font-size="6.1" text-anchor="end" font-weight="bold" class="tk">0</text>
<line x1="553.5" y1="214.05" x2="556.5" y2="214.05" stroke="#000" stroke-width="1.0"/>
<text x="553.6" y="216.25" font-size="6.1" text-anchor="end" font-weight="bold" class="tk">5</text>
<line x1="553.5" y1="188.6" x2="556.5" y2="188.6" stroke="#000" stroke-width="1.0"/>
<text x="553.6" y="190.8" font-size="6.1" text-anchor="end" font-weight="bold" class="tk">10</text>
<line x1="553.5" y1="163.15" x2="556.5" y2="163.15" stroke="#000" stroke-width="1.0"/>
<text x="553.6" y="165.35" font-size="6.1" text-anchor="end" font-weight="bold" class="tk">15</text>
<line x1="553.5" y1="137.7" x2="556.5" y2="137.7" stroke="#000" stroke-width="1.0"/>
<text x="553.6" y="139.9" font-size="6.1" text-anchor="end" font-weight="bold" class="tk">20</text>
<line x1="556.5" y1="239.5" x2="556.5" y2="242.5" stroke="#000" stroke-width="1.0"/>
<text x="556.5" y="247.5" font-size="6.1" text-anchor="middle" font-weight="bold" class="tk">0</text>
<line x1="582.15" y1="239.5" x2="582.15" y2="242.5" stroke="#000" stroke-width="1.0"/>
<text x="582.15" y="247.5" font-size="6.1" text-anchor="middle" font-weight="bold" class="tk">5</text>
<line x1="607.8" y1="239.5" x2="607.8" y2="242.5" stroke="#000" stroke-width="1.0"/>
<text x="607.8" y="247.5" font-size="6.1" text-anchor="middle" font-weight="bold" class="tk">10</text>
<line x1="633.45" y1="239.5" x2="633.45" y2="242.5" stroke="#000" stroke-width="1.0"/>
<text x="633.45" y="247.5" font-size="6.1" text-anchor="middle" font-weight="bold" class="tk">15</text>
<line x1="659.1" y1="239.5" x2="659.1" y2="242.5" stroke="#000" stroke-width="1.0"/>
<text x="659.1" y="247.5" font-size="6.1" text-anchor="middle" font-weight="bold" class="tk">20</text>
<path d="M596.2 199.1h0M603.8 194.2h0M599.8 203.0h0M591.1 201.3h0M596.9 191.7h0M594.4 195.4h0M601.2 192.9h0M593.7 191.4h0M609.1 185.8h0M598.1 198.0h0M590.0 198.6h0M595.9 203.1h0M605.6 192.4h0M593.2 191.1h0M599.9 197.3h0M591.7 201.2h0M587.6 197.4h0M595.9 198.3h0M596.4 205.6h0M595.6 198.4h0M603.6 192.9h0M599.5 197.4h0M603.6 195.3h0M604.5 192.1h0M596.5 198.1h0M584.2 196.9h0M588.9 205.4h0M585.3 200.5h0M605.1 196.1h0M590.5 212.4h0M600.4 202.5h0M595.2 201.7h0M596.2 198.0h0M605.6 193.4h0M610.3 208.6h0M596.4 195.5h0M610.1 190.7h0M595.5 195.0h0M597.0 199.8h0M599.1 193.3h0M598.5 196.2h0M590.1 202.4h0M594.5 196.4h0M596.0 203.4h0M595.3 196.2h0M603.8 200.4h0M591.7 202.3h0M580.6 210.2h0M602.3 187.2h0M593.4 195.8h0M603.1 198.0h0M601.7 203.5h0M607.0 195.0h0M586.2 202.9h0M599.6 203.9h0M600.3 191.2h0M599.4 197.8h0M589.6 196.6h0M592.6 202.7h0M598.9 196.7h0M594.7 205.6h0M591.7 197.6h0M594.2 199.3h0M589.5 205.2h0M583.3 208.8h0M599.1 190.1h0M599.8 202.2h0M591.9 201.8h0M594.9 197.1h0M585.9 215.0h0M591.3 205.6h0M605.6 197.5h0M606.0 205.0h0M598.9 188.1h0M594.7 196.4h0M596.0 200.2h0M601.1 192.4h0M599.6 197.2h0M598.1 198.8h0M591.8 208.0h0M602.5 191.9h0M602.8 201.6h0M599.5 193.1h0M593.0 197.7h0" stroke="#22e822" stroke-width="1.5" stroke-linecap="square" fill="none" stroke-opacity="0.42"/>
<path d="M598.8 194.6h0M590.2 196.5h0M610.8 196.3h0M605.5 190.8h0M603.9 196.1h0M596.3 188.5h0M604.0 192.6h0M605.4 185.2h0M596.0 205.9h0M607.6 185.7h0M604.2 188.6h0M600.6 196.9h0M602.0 195.3h0M609.6 192.8h0M601.7 199.5h0M605.2 194.1h0M604.3 197.1h0M602.4 189.8h0M594.4 205.1h0M597.0 190.8h0M607.9 190.5h0M589.7 200.0h0M599.8 196.1h0M597.8 196.6h0M589.5 207.8h0M598.8 199.2h0M602.4 194.6h0M594.3 202.0h0M600.2 191.2h0M616.8 176.6h0M597.9 201.5h0M607.4 194.8h0M608.2 190.2h0M593.8 207.3h0M605.8 191.3h0M604.1 193.3h0M601.2 195.7h0M608.6 185.0h0M588.6 201.5h0M595.8 195.0h0M598.2 199.7h0M612.0 182.6h0M619.1 174.0h0M605.9 192.5h0M596.4 200.3h0M596.5 202.5h0M603.9 192.6h0M609.0 192.1h0M605.3 187.5h0M585.3 199.5h0M601.4 197.6h0M595.8 193.5h0M609.9 181.1h0M599.3 196.3h0M589.9 200.3h0M597.0 193.8h0M594.5 198.2h0M599.7 198.9h0M593.4 196.4h0M598.1 197.7h0M609.1 189.5h0M595.6 197.1h0M602.2 200.4h0M598.6 196.3h0M609.2 190.9h0M595.4 199.2h0M602.3 186.0h0M598.7 194.9h0M598.6 203.8h0M601.8 194.8h0M596.9 191.7h0M608.0 180.5h0M601.2 190.3h0M604.8 191.8h0M601.3 184.6h0M607.6 184.0h0M604.7 182.2h0M601.9 192.3h0M604.8 195.9h0M604.5 187.9h0M603.2 191.3h0M598.1 189.8h0M598.2 194.4h0M597.4 191.8h0M604.5 192.6h0M601.4 197.8h0M595.2 190.3h0" stroke="#ff30ff" stroke-width="1.5" stroke-linecap="square" fill="none" stroke-opacity="0.42"/>
<path d="M596.8 197.4h0M597.2 198.7h0M599.2 199.5h0M588.2 197.2h0M608.7 195.2h0M588.5 211.4h0M592.4 197.6h0M600.5 201.6h0M599.3 195.7h0M609.1 194.9h0M595.6 197.6h0M605.8 196.5h0M589.3 193.8h0M595.0 205.4h0M603.2 201.8h0M595.8 195.0h0M598.4 191.2h0M598.0 202.6h0M589.2 204.7h0M596.4 192.5h0M594.3 195.2h0M592.0 197.8h0M594.2 198.4h0M583.8 216.4h0M595.5 206.1h0M598.7 199.8h0M595.2 207.5h0M585.8 193.6h0M602.7 192.7h0M584.2 199.6h0M589.8 194.7h0M602.2 193.5h0M585.4 202.7h0M588.1 209.0h0M589.8 200.0h0M606.0 202.7h0M589.6 199.1h0M593.5 206.1h0M591.2 199.9h0M596.7 201.9h0M592.7 202.9h0M593.1 208.8h0M604.2 198.6h0M600.0 212.6h0M597.7 200.8h0M598.4 203.1h0M601.4 191.4h0M598.8 199.5h0M600.1 202.0h0M597.8 200.3h0M600.1 196.2h0M609.4 187.4h0M587.6 195.8h0M601.9 202.3h0M593.8 192.4h0M593.7 200.9h0M591.9 191.9h0M598.0 201.2h0M598.5 193.4h0M588.5 200.1h0M595.5 202.7h0M586.4 204.1h0M600.1 189.4h0M589.1 196.2h0M594.4 194.3h0M593.4 191.5h0M598.4 200.9h0M600.3 192.4h0M593.6 199.0h0M590.4 199.2h0M589.2 206.0h0M597.4 198.2h0M601.1 198.2h0M587.6 202.7h0M589.8 204.4h0M593.4 201.4h0M607.1 188.6h0M593.9 201.2h0M595.8 196.6h0M585.9 206.4h0M596.6 200.0h0M599.9 206.8h0M588.6 201.1h0M596.8 203.0h0" stroke="#22e822" stroke-width="1.5" stroke-linecap="square" fill="none" stroke-opacity="0.42"/>
<path d="M598.2 193.3h0M599.5 195.6h0M602.4 193.6h0M597.8 189.1h0M601.8 187.4h0M604.5 189.5h0M590.3 198.1h0M603.2 189.9h0M605.5 199.0h0M604.8 190.8h0M597.2 196.0h0M604.7 192.3h0M607.8 190.0h0M598.8 196.5h0M605.4 193.0h0M595.6 199.4h0M581.8 208.6h0M601.6 189.6h0M609.0 191.3h0M593.8 201.3h0M601.3 185.9h0M595.7 206.4h0M615.6 184.3h0M600.3 192.9h0M611.9 193.8h0M591.5 199.8h0M613.7 178.6h0M595.1 196.4h0M610.0 187.9h0M601.7 204.5h0M602.0 190.9h0M623.8 168.7h0M599.5 186.4h0M589.5 201.9h0M599.0 199.6h0M593.5 194.8h0M594.9 193.3h0M600.3 198.4h0M614.2 189.8h0M600.8 190.9h0M595.3 205.3h0M603.3 191.2h0M581.9 207.6h0M598.1 188.8h0M602.0 195.5h0M601.1 190.2h0M600.8 196.0h0M585.0 204.5h0M592.2 201.0h0M598.0 193.7h0M603.0 190.6h0M594.5 198.6h0M597.8 193.7h0M599.6 195.9h0M601.2 192.7h0M607.5 191.6h0M611.6 196.5h0M595.4 198.6h0M603.6 191.7h0M590.5 194.6h0M602.2 193.1h0M609.0 184.4h0M599.9 196.7h0M605.1 189.5h0M610.5 192.8h0M601.1 195.3h0M605.9 185.7h0M599.4 194.8h0M597.2 202.3h0M616.5 170.6h0M600.6 186.0h0M606.6 192.4h0M601.7 185.0h0M616.3 198.2h0M601.0 196.0h0M601.8 189.9h0M618.0 182.4h0M606.6 194.2h0M603.3 197.0h0M598.4 194.2h0M613.0 193.9h0M607.8 187.9h0M610.6 193.9h0M604.0 189.0h0M602.1 197.5h0M602.1 193.5h0M602.1 193.8h0" stroke="#ff30ff" stroke-width="1.5" stroke-linecap="square" fill="none" stroke-opacity="0.42"/>
<path d="M598.1 197.6h0M586.4 191.1h0M587.1 194.7h0M594.2 202.2h0M594.9 198.0h0M584.9 205.0h0M588.6 205.4h0M596.4 201.1h0M598.5 202.6h0M591.4 200.9h0M594.9 196.7h0M593.6 205.0h0M605.7 195.8h0M595.9 200.5h0M603.8 199.6h0M595.6 195.7h0M595.7 197.7h0M581.2 199.6h0M581.2 209.1h0M589.6 199.8h0M601.2 196.8h0M583.3 209.4h0M599.9 203.3h0M595.4 198.6h0M599.7 197.3h0M597.8 191.3h0M592.9 206.4h0M600.1 191.7h0M602.0 192.0h0M595.1 195.5h0M599.4 210.6h0M591.0 199.2h0M595.4 198.8h0M588.3 193.6h0M584.3 213.8h0M598.3 200.1h0M599.8 198.1h0M588.5 191.6h0M598.5 206.7h0M599.9 202.1h0M589.5 199.1h0M597.4 196.5h0M593.6 199.9h0M596.2 197.8h0M602.3 200.1h0M593.6 200.1h0M593.3 200.8h0M594.9 200.5h0M600.4 195.9h0M594.5 195.9h0M590.3 208.3h0M600.5 203.4h0M593.5 197.2h0M596.2 201.4h0M590.3 199.2h0M603.9 192.8h0M596.8 199.5h0M598.7 202.9h0M602.4 192.1h0M598.3 210.9h0M599.9 197.8h0M579.3 213.4h0M606.8 188.3h0M601.2 198.2h0M582.5 203.7h0M592.8 200.1h0M586.0 202.3h0M594.7 203.1h0M599.5 199.7h0M605.8 184.8h0M597.4 198.0h0M598.1 195.5h0M600.8 190.1h0M592.6 196.9h0M595.5 200.7h0M608.0 190.0h0M599.7 200.6h0M597.0 200.2h0M614.8 191.0h0M592.5 212.2h0M593.3 199.3h0M600.2 200.1h0M593.9 202.0h0" stroke="#22e822" stroke-width="1.5" stroke-linecap="square" fill="none" stroke-opacity="0.42"/>
<path d="M598.6 197.2h0M598.8 185.4h0M612.1 182.1h0M602.7 189.0h0M602.5 189.7h0M602.9 190.6h0M605.7 183.1h0M607.3 192.8h0M596.6 190.0h0M601.8 192.1h0M599.4 197.8h0M595.8 189.8h0M608.3 195.7h0M596.9 199.1h0M589.3 200.6h0M600.0 193.7h0M600.9 196.1h0M593.6 204.0h0M605.5 192.0h0M588.5 199.9h0M594.6 194.2h0M606.6 193.7h0M597.2 197.0h0M594.4 198.2h0M602.4 191.9h0M602.2 192.4h0M606.8 194.7h0M602.4 201.5h0M609.0 187.8h0M590.8 202.8h0M603.0 193.5h0M580.0 202.8h0M601.4 191.3h0M601.5 202.3h0M602.4 195.6h0M599.0 184.5h0M603.4 200.0h0M594.9 193.4h0M614.5 176.5h0M595.6 203.4h0M602.3 186.6h0M597.1 195.9h0M601.5 189.4h0M601.0 190.5h0M602.1 186.8h0M606.0 192.3h0M596.2 197.6h0M606.5 182.2h0M609.1 187.3h0M599.4 190.8h0M594.4 204.0h0M602.0 192.9h0M594.5 198.6h0M600.5 199.4h0M599.7 197.8h0M610.0 189.6h0M601.6 196.2h0M603.1 195.3h0M600.6 192.4h0M598.2 201.3h0M606.6 197.6h0M588.6 200.8h0M590.2 203.7h0M604.3 198.9h0M604.7 190.0h0M598.8 194.9h0M605.2 188.5h0M610.1 196.1h0M609.1 187.1h0M607.5 188.9h0M617.4 183.6h0M612.2 175.3h0M607.0 197.0h0M587.3 204.1h0M594.8 196.6h0M602.3 190.2h0M600.9 187.8h0M601.4 189.5h0M611.2 180.0h0M602.0 191.9h0M622.0 172.1h0M603.3 188.3h0M597.9 188.2h0M590.4 198.1h0M602.1 190.0h0M599.9 191.6h0M596.8 202.2h0" stroke="#ff30ff" stroke-width="1.5" stroke-linecap="square" fill="none" stroke-opacity="0.42"/>
<path d="M597.1 201.7h0M601.1 196.9h0M597.0 199.2h0M593.1 200.8h0M592.4 199.9h0M594.5 204.8h0M597.1 198.7h0M593.7 199.2h0M594.4 203.9h0M603.9 197.2h0M604.9 203.5h0M599.5 192.6h0M591.3 204.5h0M589.3 209.9h0M602.8 188.6h0M610.6 205.0h0M611.7 189.8h0M595.6 195.4h0M577.6 200.5h0M584.6 202.2h0M594.6 197.6h0M591.7 197.8h0M586.4 200.2h0M590.3 203.5h0M590.9 196.0h0M598.1 191.8h0M601.8 194.8h0M590.3 208.1h0M600.4 191.1h0M587.5 195.0h0M606.1 191.5h0M595.3 192.5h0M591.2 201.8h0M606.0 192.4h0M595.2 208.3h0M601.5 200.2h0M599.8 204.8h0M593.4 192.7h0M592.1 193.6h0M591.8 203.8h0M594.0 206.1h0M601.9 201.1h0M600.1 200.4h0M591.0 204.6h0M601.2 194.6h0M591.5 196.9h0M601.6 201.0h0M598.7 191.9h0M595.5 200.3h0M595.9 203.1h0M594.9 203.0h0M597.2 198.8h0M600.8 197.5h0M598.2 190.9h0M596.0 199.9h0M592.6 207.7h0M604.8 175.7h0M598.6 193.9h0M601.4 197.3h0M608.1 186.9h0M598.6 202.6h0M593.2 198.4h0M602.2 197.3h0M599.1 201.5h0M594.6 200.4h0M604.9 189.0h0M586.8 207.5h0M602.9 205.9h0M594.8 207.2h0M597.5 205.0h0M598.0 192.1h0M597.8 196.0h0M597.9 187.4h0M600.5 196.1h0M599.3 199.3h0M591.4 201.1h0M593.5 205.5h0M607.3 189.1h0M593.4 194.8h0M615.6 188.3h0M597.0 197.2h0M591.1 201.1h0M591.9 200.0h0" stroke="#22e822" stroke-width="1.5" stroke-linecap="square" fill="none" stroke-opacity="0.42"/>
<path d="M593.0 199.9h0M611.3 190.8h0M594.6 203.7h0M600.7 197.7h0M610.4 188.8h0M604.6 190.4h0M601.4 192.6h0M604.6 186.9h0M614.5 185.0h0M602.0 198.4h0M611.4 186.2h0M596.2 195.8h0M602.5 184.0h0M597.3 196.1h0M595.7 189.0h0M598.7 194.5h0M592.1 202.1h0M590.6 212.8h0M605.6 197.1h0M603.8 188.1h0M597.6 198.6h0M596.5 188.7h0M603.9 192.5h0M606.2 199.6h0M599.6 186.2h0M601.4 195.1h0M600.5 194.4h0M595.4 194.0h0M612.1 191.8h0M594.9 197.3h0M599.0 197.3h0M604.3 186.7h0M601.5 193.9h0M598.0 203.0h0M588.1 201.3h0M604.5 195.5h0M608.4 188.1h0M599.5 199.2h0M594.6 199.9h0M599.4 197.4h0M601.5 194.8h0M605.9 188.2h0M596.1 190.9h0M597.9 201.8h0M590.0 191.7h0M606.3 193.6h0M597.3 198.5h0M591.0 200.4h0M602.8 197.9h0M588.8 198.1h0M607.9 184.8h0M606.9 191.1h0M595.0 202.5h0M588.8 199.9h0M604.2 197.5h0M600.9 194.1h0M610.5 186.4h0M592.0 204.7h0M605.7 193.3h0M593.0 201.7h0M590.1 203.2h0M601.8 190.4h0M598.0 184.5h0M596.1 199.5h0M600.4 195.8h0M588.5 199.2h0M599.4 192.4h0M589.9 207.6h0M600.7 192.5h0M607.3 178.8h0M599.4 202.0h0M604.1 196.5h0M601.3 203.1h0M611.8 190.3h0M610.3 191.1h0M598.8 197.1h0M597.7 196.5h0M594.8 201.9h0M600.8 193.6h0M607.0 188.5h0M607.7 182.5h0M599.2 201.6h0M597.7 200.7h0M594.5 207.6h0M604.6 187.1h0M599.5 200.8h0M595.1 190.1h0" stroke="#ff30ff" stroke-width="1.5" stroke-linecap="square" fill="none" stroke-opacity="0.42"/>
<path d="M593.2 203.9h0M600.9 200.9h0M591.9 199.2h0M599.1 187.9h0M590.2 197.1h0M585.3 200.8h0M615.3 183.4h0M589.9 199.3h0M607.7 198.1h0M591.2 198.3h0M594.1 206.1h0M602.2 187.5h0M589.4 202.1h0M586.6 200.6h0M593.8 204.9h0M595.8 207.0h0M587.0 200.9h0M581.1 199.7h0M594.2 211.9h0M587.3 200.9h0M604.7 200.5h0M599.2 195.8h0M602.9 197.5h0M597.4 206.0h0M589.1 202.3h0M598.4 199.4h0M586.6 201.1h0M592.3 198.9h0M601.2 201.2h0M579.2 206.7h0M595.9 196.0h0M601.3 188.4h0M596.5 212.1h0M599.3 199.8h0M600.1 210.3h0M595.7 204.0h0M596.0 201.8h0M603.6 196.6h0M588.0 201.4h0M598.6 194.8h0M588.9 210.6h0M586.3 208.0h0M603.0 195.5h0M590.5 201.4h0M593.3 188.1h0M604.9 201.7h0M592.0 197.9h0M589.8 206.9h0M592.0 200.8h0M609.2 198.1h0M607.6 191.5h0M597.0 201.3h0M598.3 206.1h0M602.6 196.5h0M594.4 200.5h0M589.9 201.0h0M595.5 208.2h0M589.6 200.6h0M574.3 215.2h0M596.9 196.4h0M600.8 199.4h0M601.3 201.6h0M587.6 212.3h0M594.8 194.2h0M598.6 198.4h0M600.2 196.6h0M593.5 198.4h0M597.1 200.1h0M601.6 190.9h0M600.2 199.0h0M595.6 197.2h0M585.8 200.8h0M606.9 187.6h0M610.5 191.3h0M596.8 200.0h0M591.4 195.6h0M594.7 199.2h0M601.7 196.2h0M599.0 198.4h0M590.9 205.2h0M600.5 192.9h0M595.1 196.5h0M600.8 210.2h0" stroke="#22e822" stroke-width="1.5" stroke-linecap="square" fill="none" stroke-opacity="0.42"/>
<path d="M607.0 196.9h0M605.0 192.0h0M594.0 195.3h0M586.9 204.4h0M599.5 194.2h0M601.4 199.2h0M594.6 190.5h0M597.3 196.9h0M586.4 205.6h0M593.9 201.2h0M609.9 192.2h0M610.2 189.2h0M601.8 187.3h0M595.2 195.8h0M598.1 201.4h0M593.5 198.9h0M606.2 192.0h0M600.9 187.8h0M594.9 198.3h0M600.4 204.2h0M599.1 194.9h0M607.4 190.6h0M595.6 199.3h0M593.7 192.1h0M609.3 193.3h0M594.6 194.8h0M606.7 192.2h0M600.2 196.8h0M598.2 192.7h0M601.3 195.7h0M604.9 197.1h0M598.0 199.0h0M603.0 189.7h0M598.2 193.3h0M595.7 196.3h0M600.1 192.2h0M599.6 202.4h0M608.2 180.3h0M603.8 191.8h0M605.2 192.2h0M605.5 186.1h0M601.2 197.3h0M599.3 190.5h0M596.8 200.1h0M595.4 196.9h0M606.2 190.4h0M604.1 198.6h0M605.8 191.8h0M597.4 195.5h0M603.9 192.3h0M595.4 189.3h0M607.1 195.8h0M590.0 194.3h0M595.0 197.3h0M604.5 191.4h0M595.8 203.6h0M600.2 187.9h0M604.0 194.1h0M596.3 202.1h0M594.1 197.3h0M599.4 207.3h0M598.5 187.9h0M591.3 199.9h0M593.8 196.4h0M595.1 192.3h0M597.4 204.1h0M614.4 195.4h0M601.0 196.6h0M608.1 195.3h0M598.9 191.2h0M598.4 194.9h0M604.2 194.6h0M598.1 200.5h0M599.9 192.6h0M601.1 195.6h0M611.4 183.5h0M591.1 201.8h0M599.8 192.0h0M604.1 190.1h0M623.9 178.3h0M604.8 192.1h0M592.5 210.1h0M610.9 187.1h0M593.1 199.9h0M591.9 192.0h0M596.1 191.9h0" stroke="#ff30ff" stroke-width="1.5" stroke-linecap="square" fill="none" stroke-opacity="0.42"/>
<path d="M590.8 200.7h0M598.4 199.4h0M595.5 194.4h0M592.7 208.9h0M590.9 210.3h0M605.0 192.6h0M594.2 201.8h0M594.5 197.2h0M597.2 191.7h0M608.2 191.3h0M592.9 206.3h0M594.0 198.4h0M598.9 199.9h0M598.7 198.2h0M585.8 201.6h0M592.9 195.5h0M589.1 201.3h0M602.4 198.0h0M596.6 201.9h0M608.9 187.2h0M595.2 196.6h0M590.9 193.6h0M586.3 207.2h0M597.6 196.2h0M593.9 196.9h0M597.5 204.5h0M595.2 197.4h0M585.9 213.2h0M577.7 205.7h0M582.4 208.2h0M595.8 202.7h0M597.5 199.4h0M595.3 192.2h0M602.6 203.0h0M589.9 213.3h0M586.7 200.1h0M593.2 202.2h0M591.2 203.1h0M611.8 188.7h0M599.8 188.8h0M600.5 196.1h0M604.4 204.8h0M597.1 200.8h0M609.7 192.4h0M604.5 191.6h0M594.5 198.0h0M592.8 201.1h0M594.8 207.6h0M598.0 195.3h0M595.7 198.0h0M595.7 203.1h0M606.9 188.3h0M591.6 195.8h0M602.3 193.0h0M593.0 196.7h0M597.2 198.7h0M604.0 195.0h0M587.7 202.4h0M600.2 201.2h0M598.2 190.0h0M587.9 200.2h0M592.1 198.7h0M589.7 214.1h0M588.8 200.9h0M591.3 198.7h0M587.0 201.9h0M598.1 193.5h0M588.8 201.2h0M601.6 202.1h0M593.7 193.3h0M600.1 189.8h0M603.2 195.6h0M598.7 194.1h0M606.8 193.2h0M589.9 207.3h0M605.9 191.1h0M598.0 191.2h0M594.0 196.1h0M596.5 203.8h0M598.1 189.2h0M596.9 196.3h0M600.7 196.5h0M594.3 203.6h0" stroke="#22e822" stroke-width="1.5" stroke-linecap="square" fill="none" stroke-opacity="0.42"/>
<path d="M600.1 189.0h0M600.3 192.0h0M597.5 195.7h0M601.3 194.6h0M596.4 195.7h0M599.2 204.0h0M593.1 199.4h0M596.7 188.7h0M592.3 195.4h0M604.1 193.7h0M608.8 197.1h0M607.6 193.0h0M601.7 194.9h0M598.2 200.9h0M602.3 195.8h0M602.2 191.7h0M603.3 192.9h0M605.6 185.6h0M599.9 196.6h0M607.7 189.6h0M604.0 198.4h0M601.5 185.8h0M610.4 191.2h0M595.0 212.4h0M596.7 189.0h0M604.2 186.8h0M596.8 196.4h0M597.7 208.2h0M599.8 199.2h0M602.4 192.9h0M609.8 184.3h0M596.6 188.4h0M610.6 192.5h0M607.0 186.5h0M603.8 190.9h0M589.2 206.9h0M603.3 197.5h0M606.9 191.2h0M594.5 202.2h0M602.1 193.9h0M600.7 194.8h0M597.9 199.5h0M599.6 202.6h0M606.2 181.8h0M600.3 199.4h0M597.9 192.9h0M593.7 204.1h0M598.2 194.7h0M596.7 190.6h0M599.1 200.5h0M602.9 194.4h0M604.4 193.1h0M586.8 208.0h0M599.1 200.5h0M604.3 189.7h0M609.0 198.7h0M607.6 194.7h0M601.7 189.6h0M602.2 196.7h0M597.8 190.7h0M588.6 198.0h0M603.3 194.9h0M597.1 200.1h0M600.8 190.7h0M596.9 199.8h0M596.8 191.7h0M594.6 195.9h0M601.4 201.0h0M606.8 190.0h0M622.8 174.7h0M603.6 191.0h0M608.9 193.9h0M605.4 188.0h0M595.0 207.4h0M588.0 200.8h0M595.1 198.6h0M601.8 191.3h0M603.0 192.6h0M608.0 193.8h0M592.7 194.0h0M602.3 197.2h0M601.4 194.5h0M607.0 189.7h0M606.1 187.6h0M595.0 197.2h0M597.5 200.5h0" stroke="#ff30ff" stroke-width="1.5" stroke-linecap="square" fill="none" stroke-opacity="0.42"/>
<path d="M607.6 238.8h0M582.7 239.3h0M557.5 219.6h0M588.6 239.1h0M595.8 239.3h0M557.3 210.7h0M557.2 205.8h0M576.4 239.5h0M557.0 218.2h0M557.3 191.3h0M599.0 239.4h0M599.0 239.3h0M588.5 239.4h0M595.7 239.5h0M596.0 228.2h0M588.0 215.1h0M584.3 239.1h0M592.9 217.0h0M606.8 238.9h0M605.9 232.5h0M587.0 239.2h0M599.2 230.7h0M586.3 239.3h0M603.1 238.7h0M556.8 207.5h0M556.7 204.8h0M557.1 210.9h0M556.6 204.6h0M587.7 239.2h0M561.8 202.8h0M595.4 214.4h0M562.0 196.3h0M556.6 229.1h0M594.5 239.4h0M556.8 198.4h0M595.5 239.4h0M558.4 239.4h0M572.1 239.3h0M556.7 229.5h0M557.2 204.4h0M594.5 239.4h0M556.7 227.3h0M556.7 195.0h0M578.4 238.8h0M561.0 200.0h0M588.6 239.4h0M598.6 238.9h0M593.2 239.2h0M588.0 239.4h0" stroke="#22e822" stroke-width="1.5" stroke-linecap="square" fill="none" stroke-opacity="0.42"/>
<path d="M556.8 211.5h0M557.0 225.8h0M604.4 220.1h0M599.8 239.2h0M560.7 202.5h0M600.1 239.0h0M595.5 239.3h0M607.1 227.6h0M597.9 227.0h0M604.1 239.2h0M593.1 216.1h0M604.4 239.1h0M570.3 239.4h0M557.2 192.4h0M606.8 239.5h0M607.2 233.9h0M556.8 210.4h0M595.8 239.3h0M584.3 239.4h0M556.7 208.2h0M557.3 221.9h0M556.5 214.1h0M565.1 239.2h0M586.9 239.0h0M556.6 232.8h0M592.9 239.0h0M599.7 239.4h0M595.3 221.6h0M592.6 239.0h0M560.1 238.9h0M556.8 195.2h0M574.7 239.2h0M566.9 199.8h0M588.6 239.3h0M557.2 199.0h0M557.1 227.4h0M567.3 238.8h0M557.2 220.9h0M589.7 221.5h0M592.4 239.5h0M556.9 191.6h0M601.6 239.3h0M556.7 227.0h0M567.2 239.1h0M557.6 203.5h0M556.7 234.5h0M565.3 201.0h0M557.7 214.8h0M556.8 191.7h0" stroke="#22e822" stroke-width="1.5" stroke-linecap="square" fill="none" stroke-opacity="0.42"/>
<path d="M584.8 239.0h0M588.2 238.8h0M598.5 239.5h0M556.9 206.8h0M596.2 239.4h0M556.5 221.6h0M600.1 239.4h0M603.9 238.7h0M556.6 238.9h0M593.0 239.1h0M557.7 209.7h0M557.3 205.3h0M584.4 239.0h0M595.6 239.2h0M557.5 216.1h0M558.3 193.9h0M583.5 239.2h0M606.4 239.3h0M556.7 233.6h0M557.2 213.1h0M556.6 194.8h0M557.5 194.0h0M557.0 205.1h0M556.9 229.6h0M556.7 218.3h0M556.8 204.9h0M608.8 226.6h0M599.3 239.2h0M613.6 239.3h0M556.7 212.5h0M556.8 229.1h0M557.0 204.0h0M578.4 239.4h0M584.2 239.0h0M556.9 204.6h0M556.7 212.3h0M557.1 210.5h0M556.8 220.5h0M556.5 195.9h0M560.8 201.7h0M593.3 239.3h0M580.8 238.8h0M556.7 211.8h0M557.3 205.7h0M556.7 235.5h0M585.5 239.4h0M557.4 234.9h0M557.2 213.3h0M556.7 213.7h0" stroke="#22e822" stroke-width="1.5" stroke-linecap="square" fill="none" stroke-opacity="0.42"/>
<path d="M556.7 203.1h0M591.8 239.4h0M557.1 203.0h0M601.3 239.0h0M596.7 239.2h0M596.1 238.5h0M556.6 198.2h0M556.7 210.7h0M556.9 200.3h0M556.9 191.5h0M601.3 239.1h0M597.7 239.3h0M596.8 238.8h0M556.8 198.2h0M557.4 198.7h0M591.5 239.4h0M585.1 238.7h0M556.7 209.3h0M596.8 220.0h0M596.0 239.1h0M594.7 239.2h0M609.0 239.4h0M600.8 239.1h0M592.3 239.2h0M556.9 195.9h0M556.7 232.0h0M594.5 239.3h0M556.8 203.9h0M600.7 239.3h0M556.8 208.7h0M603.9 239.2h0M556.6 235.0h0M556.7 202.3h0M596.2 239.2h0M600.4 239.5h0M556.9 203.7h0M557.1 208.8h0M596.7 239.4h0M556.8 204.5h0M606.7 239.3h0M556.6 239.5h0M597.6 239.5h0M556.9 194.0h0M593.2 239.4h0M556.7 201.4h0M601.4 239.2h0M590.8 238.8h0M556.5 207.2h0M557.4 207.4h0M593.5 239.3h0M604.5 239.3h0M596.4 239.5h0M557.1 210.0h0M556.6 191.8h0M557.3 197.7h0M587.8 239.5h0M594.5 239.4h0M593.4 239.1h0M601.6 239.3h0M602.4 239.4h0M557.0 201.9h0M584.4 239.2h0M590.4 239.0h0M557.0 194.0h0M556.6 208.8h0M592.4 239.4h0M556.9 206.2h0M588.7 238.8h0M601.2 239.5h0M556.5 193.1h0M557.3 211.0h0M556.6 211.5h0M556.9 235.5h0M556.8 203.1h0M556.6 238.9h0M594.0 239.0h0M556.9 202.9h0M575.5 239.1h0M556.8 238.3h0M556.5 202.3h0M608.9 239.0h0M588.3 239.3h0M556.8 212.3h0M556.7 210.4h0M557.0 204.1h0M602.9 239.5h0M589.2 239.4h0M556.8 201.6h0M557.1 206.8h0M556.8 193.5h0M556.7 191.2h0M602.1 239.2h0M594.3 239.3h0M556.7 194.0h0M556.8 202.0h0M556.9 201.6h0M600.1 239.2h0M595.8 239.5h0M596.2 239.4h0M594.0 239.3h0M598.7 239.2h0M556.6 212.6h0M556.5 210.5h0M556.9 204.6h0M586.3 239.5h0M597.0 238.8h0M556.8 202.0h0M556.5 195.5h0M556.7 234.9h0M587.7 239.4h0M556.6 205.8h0M557.1 202.4h0M585.8 239.3h0M556.6 218.7h0M598.9 239.1h0M589.5 239.4h0M556.9 199.3h0M602.4 229.6h0M556.8 234.4h0M556.7 193.1h0M556.9 196.5h0M556.8 238.2h0M556.6 206.5h0M556.9 198.3h0M597.4 239.4h0M591.5 239.3h0M556.6 202.3h0M589.5 239.4h0M557.1 192.1h0M556.9 237.2h0M590.3 239.2h0M556.7 208.9h0M598.2 239.1h0M589.5 239.4h0M589.7 239.4h0M594.0 239.0h0M556.6 209.0h0M556.7 211.9h0M556.7 239.4h0M556.8 199.3h0M556.8 193.1h0M571.4 239.1h0M557.0 238.7h0M557.1 206.6h0M557.1 197.1h0M599.6 238.9h0M556.6 209.5h0M594.7 239.4h0M556.5 235.3h0M556.7 200.9h0M556.8 237.1h0M556.6 210.6h0M588.6 239.2h0M601.4 239.3h0" stroke="#ff30ff" stroke-width="1.5" stroke-linecap="square" fill="none" stroke-opacity="0.42"/>
<path d="M592.8 239.2h0M601.5 239.2h0M557.0 228.2h0M603.7 239.2h0M594.9 239.3h0M608.8 239.1h0M556.6 202.8h0M592.4 239.5h0M556.5 207.5h0M586.9 239.1h0M596.2 238.8h0M590.4 239.0h0M556.7 201.2h0M557.2 202.6h0M600.3 239.3h0M557.1 190.4h0M556.6 209.8h0M556.5 202.3h0M596.9 239.2h0M557.2 238.9h0M556.6 236.6h0M592.9 239.1h0M600.3 239.2h0M589.2 239.3h0M580.2 239.1h0M556.6 235.8h0M598.3 239.4h0M557.1 216.7h0M556.5 210.5h0M556.7 199.1h0M602.7 239.2h0M556.6 195.3h0M556.6 238.7h0M598.9 239.1h0M598.1 239.1h0M592.3 238.6h0M557.0 205.6h0M556.6 206.8h0M556.9 236.5h0M557.3 211.4h0M586.9 239.2h0M596.5 239.4h0M556.8 193.6h0M588.9 239.5h0M592.9 238.8h0M563.4 239.3h0M556.9 193.3h0M587.3 238.6h0M556.9 195.7h0M556.6 209.3h0M599.9 239.3h0M556.6 212.1h0M557.2 205.0h0M602.9 238.8h0M556.9 208.7h0M591.8 239.2h0M556.7 196.3h0M556.5 192.8h0M584.6 239.4h0M556.7 195.9h0M586.1 239.1h0M581.7 239.3h0M557.1 237.3h0M596.8 239.4h0M576.8 239.4h0M556.6 204.5h0M596.7 239.2h0M580.9 239.1h0M559.0 201.7h0M596.7 238.8h0M591.2 239.4h0M590.7 239.3h0M556.5 205.3h0M595.4 239.1h0M556.6 201.1h0M594.0 239.4h0M556.6 195.5h0M568.7 239.5h0M556.9 203.5h0M598.2 238.6h0M556.8 204.0h0M557.0 211.2h0M556.8 236.5h0M587.6 239.2h0M597.2 239.3h0M599.0 239.4h0M556.6 195.9h0M556.7 193.8h0M556.8 236.9h0M556.6 212.1h0M592.3 239.2h0M556.6 211.3h0M589.5 239.4h0M588.7 239.4h0M556.8 191.2h0M556.7 192.7h0M595.9 239.4h0M556.6 192.6h0M557.2 206.9h0M556.8 239.1h0M556.7 215.6h0M556.7 196.1h0M584.3 239.4h0M556.7 212.0h0M591.7 239.3h0M556.8 210.2h0M557.0 194.3h0M596.5 239.3h0M556.8 193.0h0M556.7 226.5h0M599.9 239.1h0M556.9 236.4h0M557.5 194.8h0M582.1 239.1h0M557.1 209.1h0M556.9 190.4h0M595.4 239.3h0M595.5 239.5h0M556.9 235.6h0M566.2 239.2h0M556.5 198.9h0M556.6 193.9h0M556.7 238.9h0M589.2 239.0h0M601.3 239.5h0M556.8 191.9h0M556.7 205.9h0M556.8 195.8h0M589.7 238.8h0M590.1 239.2h0M606.5 239.0h0M597.1 239.1h0M599.9 239.3h0M603.1 239.4h0M556.8 212.5h0M556.6 235.2h0M604.0 212.8h0M556.8 211.8h0M592.8 238.9h0M557.0 197.5h0M556.9 193.3h0M556.6 196.1h0M593.1 239.3h0M599.5 239.4h0M556.6 196.5h0M597.9 239.5h0M600.6 239.3h0M557.1 212.3h0M593.3 239.2h0M556.5 201.7h0M556.8 197.7h0M602.9 224.0h0M596.0 239.2h0" stroke="#ff30ff" stroke-width="1.5" stroke-linecap="square" fill="none" stroke-opacity="0.42"/>
<path d="M596.7 219.7h0M589.6 239.5h0M556.9 204.9h0M599.2 239.3h0M596.1 239.1h0M588.9 239.1h0M556.7 200.5h0M604.2 229.8h0M596.5 239.3h0M596.6 238.9h0M557.1 196.9h0M599.5 238.8h0M556.7 238.5h0M557.1 192.2h0M594.5 239.1h0M557.6 237.5h0M605.5 239.2h0M556.8 192.2h0M556.6 208.8h0M556.9 196.9h0M556.8 205.1h0M557.0 196.8h0M556.5 236.5h0M600.8 239.1h0M595.9 239.2h0M579.0 239.3h0M556.6 212.1h0M557.0 205.5h0M556.7 191.9h0M556.8 199.3h0M557.2 190.6h0M556.6 190.3h0M556.5 236.5h0M557.6 211.2h0M600.7 239.2h0M601.3 239.3h0M592.0 239.4h0M597.1 239.0h0M556.7 194.4h0M596.3 238.9h0M591.7 238.8h0M591.7 239.3h0M556.5 192.0h0M556.8 192.5h0M557.0 195.8h0M556.7 192.7h0M556.9 202.5h0M556.7 211.6h0M556.7 203.8h0M556.7 206.6h0M556.5 191.0h0M556.7 202.4h0M556.6 236.6h0M595.9 239.3h0M593.5 239.5h0M597.8 239.2h0M605.5 239.4h0M556.6 206.1h0M556.8 210.4h0M606.8 239.3h0M557.1 190.9h0M602.7 239.1h0M588.4 239.5h0M556.6 236.3h0M557.2 209.5h0M598.0 239.2h0M556.6 238.2h0M556.5 237.8h0M556.8 190.6h0M598.2 239.5h0M556.9 192.6h0M556.8 192.5h0M557.2 193.4h0M556.6 193.3h0M557.3 202.5h0M593.5 223.1h0M557.2 237.4h0M598.1 239.3h0M602.6 239.5h0M600.2 239.3h0M557.4 204.2h0M557.3 208.6h0M556.7 199.7h0M592.9 239.1h0M592.0 239.2h0M595.3 239.3h0M597.6 239.4h0M602.1 238.4h0M556.6 201.7h0M604.8 238.7h0M591.8 238.4h0M599.5 239.1h0M557.1 209.2h0M556.6 200.6h0M556.9 196.7h0M556.8 206.8h0M556.6 199.8h0M596.0 239.2h0M598.6 239.0h0M556.9 206.6h0M556.8 210.0h0M556.6 208.7h0M599.2 239.3h0M557.3 194.6h0M556.6 203.9h0M601.0 239.3h0M568.7 196.9h0M604.4 239.3h0M595.8 239.4h0M594.6 239.3h0M556.6 201.7h0M604.6 239.5h0M597.1 239.3h0M609.0 239.2h0M556.8 200.8h0M556.8 204.8h0M603.4 239.3h0M585.1 239.2h0M556.6 235.4h0M595.4 231.8h0M556.8 194.1h0M594.5 239.0h0M579.3 239.2h0M557.1 200.0h0M594.2 239.0h0M557.0 208.4h0M595.4 239.3h0M598.8 239.5h0M556.8 211.6h0M557.2 208.2h0M591.0 217.5h0M556.6 209.4h0M586.6 239.5h0M556.7 199.8h0M556.7 200.6h0M595.6 239.4h0M556.8 190.5h0M598.0 239.0h0M603.5 239.4h0M556.9 205.8h0M557.1 195.6h0M602.0 239.3h0M593.2 239.3h0M556.6 191.7h0M598.2 239.4h0M556.5 238.6h0M592.4 239.3h0M556.9 191.5h0M556.6 237.4h0M593.7 239.5h0M556.5 234.1h0M557.0 196.0h0M557.0 207.9h0" stroke="#ff30ff" stroke-width="1.5" stroke-linecap="square" fill="none" stroke-opacity="0.42"/>
<path d="M556.9 209.5h0M598.0 239.0h0M556.6 237.5h0M556.6 209.6h0M556.8 192.4h0M594.5 239.1h0M592.9 239.2h0M600.3 239.2h0M575.3 239.5h0M605.5 239.4h0M556.8 199.0h0M556.6 212.4h0M591.6 239.0h0M556.5 238.1h0M593.0 239.0h0M556.9 212.2h0M597.7 239.2h0M556.6 197.7h0M596.8 239.5h0M596.5 239.4h0M608.2 226.0h0M563.7 194.0h0M590.5 239.1h0M556.7 199.1h0M556.8 235.8h0M588.4 239.5h0M556.7 236.3h0M587.6 239.0h0M556.6 231.1h0M556.5 206.5h0M556.5 196.9h0M556.6 203.1h0M599.1 239.2h0M556.7 203.7h0M556.6 205.9h0M585.9 239.5h0M591.6 239.1h0M595.8 239.2h0M603.1 239.2h0M591.0 239.4h0M557.4 201.1h0M558.8 202.2h0M594.8 224.0h0M556.6 191.7h0M597.0 239.1h0M556.8 202.7h0M557.0 199.0h0M557.2 191.7h0M561.5 197.2h0M556.7 235.4h0M591.7 239.2h0M556.6 197.4h0M589.3 238.9h0M600.9 233.7h0M606.5 239.3h0M597.3 238.4h0M594.4 239.0h0M556.9 202.5h0M556.5 205.4h0M556.9 210.4h0M556.6 198.4h0M593.4 239.5h0M556.5 206.6h0M556.7 208.9h0M595.9 239.2h0M556.9 198.2h0M589.3 238.8h0M556.9 237.2h0M592.8 239.5h0M589.0 239.4h0M593.3 229.6h0M602.4 239.3h0M590.7 234.4h0M594.8 239.1h0M556.8 236.8h0M556.5 190.2h0M556.5 200.6h0M556.9 197.4h0M573.5 239.1h0M590.0 239.3h0M556.5 211.9h0M556.6 211.2h0M599.6 239.2h0M556.8 200.2h0M601.0 239.4h0M557.2 202.3h0M556.7 205.8h0M557.1 208.1h0M556.9 202.8h0M582.1 239.4h0M556.5 203.5h0M601.7 229.1h0M582.1 239.4h0M589.1 239.5h0M556.8 200.9h0M557.0 198.7h0M590.5 238.7h0M568.2 239.2h0M556.7 212.4h0M599.6 239.3h0M584.9 239.1h0M598.6 239.3h0M595.6 239.3h0M557.1 239.3h0M598.1 239.5h0M598.4 239.4h0M598.9 239.2h0M556.5 190.5h0M557.1 194.6h0M557.2 235.0h0M582.1 239.4h0M556.8 193.7h0M556.8 199.4h0M599.0 239.4h0M596.0 239.5h0M571.1 239.2h0M557.2 211.5h0M556.7 211.9h0M591.7 239.4h0M557.0 216.9h0M556.9 201.9h0M587.5 238.8h0M591.3 239.3h0M603.8 239.1h0M573.5 239.2h0M594.4 239.3h0M556.6 206.0h0M563.4 239.4h0M557.3 204.4h0M590.6 239.5h0M557.1 199.9h0M600.4 239.3h0M591.2 239.2h0M556.7 209.7h0M556.9 198.7h0M557.4 208.5h0M596.7 238.9h0M594.6 239.3h0M592.9 238.9h0M588.8 239.4h0M556.6 199.8h0M600.9 239.1h0M607.4 239.3h0M556.5 198.1h0M556.5 210.4h0M592.5 239.3h0M590.5 239.1h0M601.9 239.1h0M593.3 239.4h0M604.8 239.3h0M556.6 235.1h0M599.3 239.5h0M599.5 239.1h0" stroke="#ff30ff" stroke-width="1.5" stroke-linecap="square" fill="none" stroke-opacity="0.42"/>
<path d="M589.4 239.3h0M592.9 239.5h0M556.6 234.5h0M594.6 239.4h0M557.6 204.5h0M556.9 203.6h0M589.8 239.4h0M556.7 204.4h0M564.5 203.1h0M586.4 239.1h0M556.6 210.9h0M556.8 191.7h0M556.8 195.8h0M600.0 239.0h0M556.7 208.2h0M594.9 239.3h0M599.5 239.5h0M592.1 239.0h0M556.6 202.3h0M556.6 190.6h0M556.5 190.3h0M598.4 238.7h0M556.5 201.8h0M594.3 239.3h0M596.8 239.2h0M556.7 206.4h0M556.6 207.3h0M556.6 202.8h0M556.5 196.3h0M556.8 208.8h0M557.1 211.6h0M556.5 204.4h0M556.9 194.8h0M556.5 207.0h0M597.5 239.0h0M598.5 239.2h0M556.7 211.8h0M556.7 233.8h0M595.8 221.4h0M556.7 194.3h0M603.4 239.5h0M586.5 239.4h0M556.9 211.3h0M556.6 238.8h0M595.2 239.5h0M557.2 208.9h0M556.8 239.5h0M592.6 239.5h0M590.6 239.4h0M607.4 239.5h0M596.4 239.5h0M556.7 209.1h0M594.5 238.6h0M557.0 199.4h0M556.6 206.6h0M592.3 239.5h0M591.8 239.4h0M556.9 198.3h0M597.5 239.1h0M592.0 239.0h0M595.2 239.4h0M598.3 239.5h0M601.0 239.4h0M603.3 239.4h0M556.9 212.5h0M557.0 192.8h0M597.2 239.4h0M556.6 239.1h0M584.0 239.5h0M603.7 222.9h0M556.7 207.1h0M607.2 239.4h0M556.5 204.8h0M577.7 239.1h0M598.6 239.4h0M557.0 209.0h0M556.9 194.7h0M556.7 238.5h0M595.0 239.4h0M556.9 197.4h0M593.4 239.2h0M595.6 239.0h0M556.5 207.1h0M600.6 239.3h0M556.8 205.0h0M593.3 238.9h0M557.1 195.0h0M594.6 239.4h0M556.6 235.2h0M556.7 202.4h0M556.7 199.4h0M556.7 209.8h0M556.8 206.9h0M556.6 206.8h0M556.6 206.1h0M556.5 194.4h0M556.8 212.5h0M557.0 238.1h0M556.9 238.6h0M557.0 191.8h0M556.7 205.5h0M593.7 239.4h0M557.2 197.2h0M556.5 195.2h0M556.5 210.9h0M556.9 199.7h0M556.7 206.5h0M556.8 211.3h0M557.1 209.3h0M590.9 239.2h0M594.0 239.3h0M557.1 201.9h0M587.2 239.3h0M556.5 237.8h0M606.9 239.3h0M607.2 239.1h0M602.9 239.0h0M599.0 239.5h0M556.6 235.8h0M597.4 238.9h0M589.1 239.3h0M556.5 200.3h0M597.8 239.2h0M556.8 239.2h0M596.3 239.0h0M597.2 239.4h0M598.4 239.0h0M565.8 239.1h0M556.6 196.7h0M556.9 233.5h0M598.1 239.2h0M596.4 239.4h0M599.1 239.2h0M557.4 211.5h0M587.2 239.5h0M556.8 191.4h0M557.3 235.4h0M583.5 238.8h0M556.7 200.7h0M595.3 239.4h0M556.5 202.0h0M594.6 238.6h0M556.7 203.0h0M603.1 239.2h0M557.2 208.1h0M556.5 200.3h0M608.0 216.2h0M556.8 238.5h0M556.6 211.2h0M556.7 199.6h0M556.9 190.6h0M601.5 239.4h0M556.7 211.7h0" stroke="#ff30ff" stroke-width="1.5" stroke-linecap="square" fill="none" stroke-opacity="0.42"/>
<circle cx="562.3" cy="139.4" r="0.8" fill="#22e822"/>
<circle cx="562.3" cy="149.1" r="0.8" fill="#ff30ff"/>
<text x="566.5" y="141.7" font-size="6.3" stroke="#000" stroke-width="0.12">Group II (<tspan font-style="italic">r</tspan> = 0.57)</text>
<text x="566.5" y="151.4" font-size="6.3" stroke="#000" stroke-width="0.12">Group III (<tspan font-style="italic">r</tspan> = 0.54)</text>
<text x="620.5" y="258" font-size="8.1" text-anchor="middle" stroke="#000" stroke-width="0.12">log<tspan font-size="55%" dy="2.2">2</tspan><tspan dy="-2.2"> promoter activity in rep 1 [A.U.]</tspan></text>
<text x="543.2" y="176.5" font-size="8.1" text-anchor="middle" stroke="#000" stroke-width="0.12" transform="rotate(-90 543.2 176.5)">log<tspan font-size="55%" dy="2.2">2</tspan><tspan dy="-2.2"> promoter activity in rep 2 [A.U.]</tspan></text>
<text x="524.6" y="284.6" font-size="10.9" font-weight="bold" stroke="#000" stroke-width="0.12">I</text>
<line x1="556.4" y1="287.2" x2="556.4" y2="390" stroke="#000" stroke-width="1.0"/>
<line x1="555.9" y1="389.5" x2="659.5" y2="389.5" stroke="#000" stroke-width="1.0"/>
<line x1="553.4" y1="389.5" x2="556.4" y2="389.5" stroke="#000" stroke-width="1.0"/>
<text x="552.1" y="391.7" font-size="6.1" text-anchor="end" font-weight="bold" class="tk">0</text>
<line x1="553.4" y1="364.05" x2="556.4" y2="364.05" stroke="#000" stroke-width="1.0"/>
<text x="552.1" y="366.25" font-size="6.1" text-anchor="end" font-weight="bold" class="tk">5</text>
<line x1="553.4" y1="338.6" x2="556.4" y2="338.6" stroke="#000" stroke-width="1.0"/>
<text x="552.1" y="340.8" font-size="6.1" text-anchor="end" font-weight="bold" class="tk">10</text>
<line x1="553.4" y1="313.15" x2="556.4" y2="313.15" stroke="#000" stroke-width="1.0"/>
<text x="552.1" y="315.35" font-size="6.1" text-anchor="end" font-weight="bold" class="tk">15</text>
<line x1="553.4" y1="287.7" x2="556.4" y2="287.7" stroke="#000" stroke-width="1.0"/>
<text x="552.1" y="289.9" font-size="6.1" text-anchor="end" font-weight="bold" class="tk">20</text>
<line x1="556.4" y1="389.5" x2="556.4" y2="392.5" stroke="#000" stroke-width="1.0"/>
<text x="556.4" y="397.5" font-size="6.1" text-anchor="middle" font-weight="bold" class="tk">0</text>
<line x1="582.05" y1="389.5" x2="582.05" y2="392.5" stroke="#000" stroke-width="1.0"/>
<text x="582.05" y="397.5" font-size="6.1" text-anchor="middle" font-weight="bold" class="tk">5</text>
<line x1="607.7" y1="389.5" x2="607.7" y2="392.5" stroke="#000" stroke-width="1.0"/>
<text x="607.7" y="397.5" font-size="6.1" text-anchor="middle" font-weight="bold" class="tk">10</text>
<line x1="633.35" y1="389.5" x2="633.35" y2="392.5" stroke="#000" stroke-width="1.0"/>
<text x="633.35" y="397.5" font-size="6.1" text-anchor="middle" font-weight="bold" class="tk">15</text>
<line x1="659" y1="389.5" x2="659" y2="392.5" stroke="#000" stroke-width="1.0"/>
<text x="659" y="397.5" font-size="6.1" text-anchor="middle" font-weight="bold" class="tk">20</text>
<path d="M594.1 355.3h0M599.7 343.3h0M595.9 347.8h0M605.8 341.8h0M599.5 349.1h0M594.6 348.3h0M597.5 355.8h0M599.1 343.4h0M586.3 358.1h0M568.6 376.7h0M596.4 345.7h0M590.1 359.6h0M592.8 353.7h0M602.0 345.7h0M592.9 350.1h0M592.8 348.9h0M616.2 335.6h0M592.4 353.7h0M587.5 342.9h0M585.9 354.9h0M589.9 354.3h0M595.1 343.6h0M600.1 346.7h0M589.7 364.8h0M598.1 341.0h0M591.4 348.7h0M607.2 335.5h0M615.9 337.1h0M587.5 357.3h0M602.4 349.0h0M597.1 349.8h0M607.2 338.4h0M603.1 343.6h0M584.2 361.8h0M600.4 341.6h0M596.8 347.3h0M599.7 348.8h0M595.1 345.3h0M592.5 353.2h0M597.2 343.6h0M594.0 355.3h0M589.9 356.8h0M597.3 345.9h0M588.0 353.5h0M585.5 357.2h0M604.4 339.1h0M589.3 351.2h0M590.0 350.0h0M601.6 338.6h0M597.2 348.7h0M611.9 339.3h0M592.0 350.5h0M608.4 349.2h0M588.4 354.2h0M597.0 338.7h0M597.8 345.6h0M591.7 347.6h0M590.7 346.4h0M615.3 338.2h0M601.7 352.8h0M593.1 355.3h0M608.2 343.1h0M603.2 343.4h0M608.4 334.7h0M592.5 351.2h0M601.0 347.7h0M606.0 336.6h0M605.0 346.6h0M586.5 357.1h0M604.4 346.5h0M592.9 353.7h0M597.2 347.0h0M587.6 358.2h0M593.9 344.4h0M597.6 352.7h0M591.7 356.1h0M602.9 347.0h0M601.8 347.4h0M590.7 357.1h0M599.8 347.0h0M593.7 354.9h0M616.9 337.0h0M589.7 351.3h0M583.3 362.7h0" stroke="#22e822" stroke-width="1.5" stroke-linecap="square" fill="none" stroke-opacity="0.42"/>
<path d="M613.6 334.6h0M595.2 354.9h0M594.3 349.2h0M608.5 341.5h0M598.1 345.8h0M613.2 330.4h0M620.0 325.1h0M596.0 356.9h0M607.0 336.7h0M606.1 345.1h0M607.0 343.6h0M601.7 342.2h0M605.9 341.5h0M597.5 341.4h0M599.6 341.4h0M597.5 340.9h0M607.6 335.4h0M605.6 337.1h0M604.1 342.6h0M621.9 315.7h0M596.0 340.2h0M603.2 339.9h0M596.4 348.2h0M600.1 346.7h0M593.0 350.7h0M598.4 345.4h0M593.7 356.0h0M605.2 341.0h0M597.5 350.0h0M602.2 344.0h0M602.3 336.6h0M597.4 341.9h0M616.3 340.7h0M588.1 356.3h0M604.9 341.0h0M600.0 341.2h0M602.2 349.6h0M600.1 344.6h0M621.4 326.8h0M605.8 350.4h0M601.0 341.4h0M610.1 337.7h0M603.0 346.7h0M604.1 344.7h0M603.5 345.0h0M605.8 345.3h0M594.5 351.7h0M601.2 344.7h0M591.7 349.8h0M597.5 343.9h0M599.5 345.0h0M607.3 343.3h0M609.0 337.2h0M614.1 335.3h0M608.8 343.9h0M605.6 341.2h0M600.0 344.1h0M606.4 339.6h0M613.5 334.3h0M600.3 345.1h0M605.8 334.7h0M597.1 348.2h0M596.3 348.6h0M605.4 350.0h0M595.9 344.7h0M603.8 340.6h0M601.1 347.5h0M602.0 342.2h0M603.0 343.5h0M600.9 348.6h0M608.8 333.4h0M599.1 345.9h0M588.4 349.8h0M605.4 345.6h0M593.5 349.1h0M591.0 358.5h0M594.4 344.5h0M600.0 341.4h0M607.5 342.8h0M609.3 342.4h0M609.1 337.7h0M585.9 361.4h0M601.9 353.2h0M608.2 341.5h0M610.0 333.2h0M603.9 340.8h0M614.2 331.0h0" stroke="#ff30ff" stroke-width="1.5" stroke-linecap="square" fill="none" stroke-opacity="0.42"/>
<path d="M591.4 353.8h0M598.5 350.2h0M604.5 352.2h0M607.8 329.7h0M603.9 339.3h0M601.4 345.6h0M585.6 359.0h0M606.0 338.3h0M593.8 354.5h0M593.5 350.9h0M606.7 343.9h0M603.1 341.0h0M604.0 341.6h0M595.2 344.9h0M592.2 350.2h0M595.0 359.5h0M598.0 347.9h0M589.4 345.7h0M604.3 343.0h0M598.3 344.1h0M586.6 359.0h0M599.7 340.3h0M588.1 356.6h0M593.4 353.6h0M605.3 350.0h0M588.5 352.6h0M589.3 349.0h0M586.5 355.6h0M587.8 357.4h0M597.7 353.1h0M593.8 350.1h0M602.3 333.2h0M599.0 353.4h0M593.7 351.1h0M604.2 340.7h0M592.0 350.6h0M591.3 356.4h0M596.2 351.2h0M593.0 362.6h0M595.7 352.3h0M603.1 351.7h0M607.2 340.8h0M603.1 349.0h0M602.2 345.2h0M597.0 354.7h0M594.8 355.3h0M614.2 339.7h0M591.7 349.3h0M608.0 344.4h0M604.0 342.3h0M605.1 346.3h0M597.3 345.3h0M591.8 360.4h0M597.3 346.6h0M597.5 341.1h0M602.3 351.8h0M592.8 353.8h0M591.1 348.1h0M593.4 345.2h0M591.1 346.5h0M595.6 346.9h0M596.9 348.6h0M602.4 349.0h0M608.6 335.8h0M600.8 341.7h0M603.4 345.9h0M603.9 343.0h0M612.7 338.5h0M591.3 341.3h0M590.9 353.8h0M595.5 358.8h0M598.4 341.7h0M597.5 350.4h0M593.3 353.7h0M604.3 335.4h0M591.3 362.2h0M597.6 353.6h0M607.0 338.0h0M607.1 342.7h0M595.8 347.7h0M589.2 351.5h0M595.3 356.8h0M597.1 346.8h0M592.4 353.1h0" stroke="#22e822" stroke-width="1.5" stroke-linecap="square" fill="none" stroke-opacity="0.42"/>
<path d="M624.0 323.5h0M589.8 360.3h0M592.2 346.0h0M608.8 340.3h0M606.8 340.5h0M607.1 343.1h0M593.2 349.7h0M608.3 343.5h0M606.3 339.9h0M606.0 340.4h0M603.2 345.1h0M619.8 326.0h0M598.7 346.8h0M615.2 335.4h0M599.2 345.4h0M597.3 356.2h0M593.4 341.7h0M604.6 344.1h0M603.0 345.5h0M598.5 335.5h0M611.8 338.1h0M615.1 336.3h0M604.5 342.8h0M605.5 335.8h0M603.9 338.4h0M599.2 343.1h0M605.7 338.5h0M590.8 355.2h0M600.6 344.0h0M601.9 341.7h0M603.9 342.6h0M600.0 343.6h0M607.2 343.9h0M609.2 335.9h0M604.0 337.1h0M612.8 317.3h0M610.2 334.7h0M580.9 367.7h0M607.7 336.6h0M596.3 342.4h0M608.0 335.7h0M618.4 323.8h0M605.5 343.7h0M608.3 332.5h0M605.1 344.8h0M605.3 339.7h0M590.9 349.4h0M585.8 356.3h0M596.9 345.4h0M599.1 343.7h0M608.8 332.2h0M606.0 339.4h0M592.6 344.2h0M594.2 348.3h0M595.5 349.4h0M603.9 339.6h0M614.0 332.5h0M612.7 334.0h0M611.0 334.4h0M607.1 340.1h0M609.3 343.7h0M595.2 350.2h0M597.1 349.3h0M609.1 335.2h0M593.8 341.5h0M606.1 338.3h0M603.6 345.1h0M614.4 332.1h0M608.4 338.5h0M606.7 345.8h0M610.3 340.7h0M590.2 354.6h0M594.4 349.3h0M604.6 344.6h0M611.6 327.1h0M599.9 347.3h0M611.1 335.3h0M600.0 345.4h0M594.9 349.9h0M597.7 345.2h0M611.7 335.8h0M607.6 339.7h0M606.2 345.1h0M600.3 342.4h0M610.7 331.0h0M594.3 351.6h0M609.6 340.9h0" stroke="#ff30ff" stroke-width="1.5" stroke-linecap="square" fill="none" stroke-opacity="0.42"/>
<path d="M587.1 354.3h0M601.2 353.2h0M602.0 350.0h0M595.4 350.9h0M606.1 350.0h0M598.7 356.1h0M590.8 340.1h0M609.7 340.4h0M600.4 352.4h0M599.9 347.1h0M597.5 359.6h0M597.6 345.4h0M589.7 348.1h0M598.8 348.1h0M602.3 346.9h0M598.8 345.6h0M604.1 339.7h0M598.2 346.6h0M602.1 351.1h0M599.2 349.3h0M592.5 346.4h0M602.3 340.4h0M601.5 345.6h0M599.3 351.5h0M599.7 357.5h0M597.6 341.3h0M580.5 352.5h0M600.1 349.5h0M599.6 348.8h0M601.3 349.6h0M595.8 349.1h0M587.7 351.8h0M600.6 341.8h0M602.8 350.9h0M588.0 358.7h0M594.1 361.4h0M599.4 349.2h0M599.4 346.4h0M592.4 352.7h0M599.9 344.2h0M599.8 346.6h0M578.4 360.3h0M593.6 352.2h0M593.6 351.8h0M610.9 337.0h0M605.4 348.6h0M592.4 357.2h0M589.5 355.9h0M593.0 348.5h0M594.6 352.3h0M592.1 363.8h0M594.8 346.5h0M590.5 356.1h0M598.0 353.7h0M595.3 346.7h0M589.9 352.3h0M600.2 348.0h0M612.2 336.3h0M590.3 352.6h0M597.7 352.2h0M601.3 345.8h0M602.5 346.5h0M596.4 345.5h0M601.4 347.2h0M593.5 355.8h0M599.3 347.7h0M603.3 345.0h0M601.3 345.5h0M610.5 337.6h0M600.7 342.8h0M599.2 339.3h0M606.4 338.8h0M607.3 340.3h0M616.6 327.8h0M596.4 352.6h0M595.3 352.3h0M603.8 341.3h0M591.2 347.9h0M577.5 364.5h0M605.9 339.4h0M595.2 346.1h0M607.4 340.3h0M600.9 346.5h0" stroke="#22e822" stroke-width="1.5" stroke-linecap="square" fill="none" stroke-opacity="0.42"/>
<path d="M607.6 339.7h0M621.5 329.4h0M607.8 335.6h0M594.0 353.9h0M599.5 343.6h0M603.8 342.9h0M615.4 337.4h0M613.9 334.8h0M615.3 330.3h0M594.7 346.9h0M596.8 351.3h0M595.9 347.1h0M605.1 338.8h0M592.5 348.9h0M614.0 340.0h0M604.9 342.1h0M615.4 325.1h0M603.5 345.4h0M602.2 344.6h0M608.6 341.7h0M620.1 327.1h0M591.7 352.7h0M600.8 349.3h0M606.6 348.0h0M611.2 338.0h0M602.7 344.2h0M599.5 341.9h0M605.1 339.1h0M608.7 345.9h0M604.9 340.3h0M599.6 340.1h0M597.5 350.5h0M609.7 343.8h0M593.6 349.0h0M618.8 334.7h0M599.6 343.6h0M623.1 329.0h0M601.8 340.5h0M607.3 334.7h0M602.1 350.1h0M612.2 338.5h0M595.4 354.3h0M599.9 339.3h0M606.6 344.1h0M597.1 347.4h0M610.7 338.3h0M605.0 341.2h0M596.6 343.7h0M606.9 338.3h0M616.7 336.8h0M603.1 347.0h0M595.2 345.6h0M589.7 354.2h0M609.0 341.2h0M607.4 335.2h0M593.8 350.0h0M608.1 338.2h0M626.0 321.0h0M598.5 349.4h0M601.9 352.4h0M608.6 331.8h0M610.7 335.9h0M599.5 343.6h0M605.1 351.4h0M592.1 358.8h0M604.3 340.2h0M595.4 348.6h0M602.4 344.4h0M593.1 347.8h0M600.9 342.8h0M605.9 338.9h0M599.5 353.1h0M602.6 342.7h0M602.7 335.2h0M606.0 339.6h0M590.9 358.7h0M621.3 326.9h0M607.2 340.6h0M607.1 340.2h0M601.9 343.1h0M602.2 338.4h0M603.6 339.9h0M606.2 345.1h0M601.0 343.0h0M594.0 351.4h0M605.7 337.2h0M602.6 344.4h0" stroke="#ff30ff" stroke-width="1.5" stroke-linecap="square" fill="none" stroke-opacity="0.42"/>
<path d="M596.3 348.7h0M611.2 326.7h0M601.8 341.8h0M596.4 346.8h0M613.1 339.3h0M592.3 355.0h0M589.9 350.3h0M587.8 350.7h0M588.8 352.5h0M596.8 351.7h0M602.6 340.4h0M598.4 345.0h0M599.4 350.4h0M590.6 348.6h0M595.2 355.4h0M589.0 349.3h0M601.8 352.9h0M600.6 346.5h0M597.8 344.7h0M596.5 347.4h0M600.3 347.4h0M600.5 340.9h0M591.9 353.6h0M601.6 352.3h0M598.4 348.5h0M596.6 349.5h0M598.9 347.3h0M596.8 350.7h0M598.5 345.1h0M604.7 340.8h0M593.4 352.3h0M610.4 333.1h0M597.9 346.5h0M604.8 339.9h0M604.9 352.0h0M604.8 341.9h0M608.0 349.2h0M597.5 344.8h0M600.8 349.9h0M600.4 348.1h0M584.9 354.0h0M621.9 321.4h0M615.1 333.3h0M583.2 353.0h0M604.6 346.3h0M589.9 350.8h0M587.2 368.8h0M603.8 342.9h0M594.1 358.8h0M603.3 345.2h0M603.9 348.3h0M597.8 345.7h0M599.9 342.8h0M601.2 351.5h0M594.4 348.2h0M596.6 353.0h0M595.4 352.9h0M588.0 361.3h0M609.9 334.8h0M590.1 359.3h0M595.6 353.1h0M594.2 351.2h0M602.4 344.0h0M597.6 351.4h0M591.6 350.1h0M600.0 344.8h0M595.9 344.1h0M594.7 350.4h0M597.0 350.9h0M579.4 354.9h0M595.4 347.5h0M596.4 347.6h0M596.7 354.5h0M595.1 348.5h0M611.4 342.1h0M600.2 341.9h0M603.8 346.4h0M589.5 354.0h0M600.4 339.2h0M608.8 341.2h0M595.7 348.6h0M598.4 345.3h0M591.9 353.1h0" stroke="#22e822" stroke-width="1.5" stroke-linecap="square" fill="none" stroke-opacity="0.42"/>
<path d="M603.9 343.1h0M602.4 340.2h0M588.0 356.4h0M607.8 344.3h0M602.3 342.7h0M607.5 343.9h0M598.7 338.0h0M616.8 328.1h0M601.3 345.4h0M593.4 352.0h0M589.4 357.2h0M592.2 355.2h0M605.1 340.0h0M596.9 347.8h0M615.8 331.0h0M594.7 342.6h0M593.6 349.2h0M602.9 342.9h0M609.0 343.0h0M593.5 358.7h0M612.0 337.5h0M594.9 353.4h0M597.5 352.2h0M605.6 343.0h0M613.8 329.6h0M597.3 347.2h0M603.9 346.8h0M603.8 338.4h0M601.1 337.9h0M607.2 339.4h0M599.6 337.4h0M594.4 351.8h0M605.7 338.0h0M588.5 349.1h0M603.6 348.1h0M601.8 347.2h0M593.7 347.4h0M616.9 331.7h0M595.5 351.2h0M589.6 357.5h0M604.5 340.0h0M602.1 347.1h0M607.5 337.7h0M598.7 346.5h0M607.9 339.5h0M602.8 342.6h0M593.6 354.6h0M594.3 345.7h0M610.3 334.9h0M600.8 342.8h0M605.6 337.7h0M605.1 343.4h0M596.2 350.8h0M588.6 359.5h0M602.7 343.4h0M601.4 343.1h0M588.1 356.2h0M590.3 356.9h0M595.5 348.3h0M616.2 323.1h0M601.7 344.2h0M607.4 340.7h0M619.3 322.8h0M601.9 350.6h0M609.9 337.9h0M611.4 337.7h0M607.5 348.4h0M612.9 336.3h0M602.4 349.3h0M613.4 333.7h0M605.6 334.8h0M597.4 347.8h0M597.7 346.1h0M599.5 344.3h0M596.3 344.4h0M613.1 334.4h0M613.5 338.2h0M602.5 336.6h0M601.7 348.3h0M597.3 352.3h0M619.8 332.2h0M605.9 350.5h0M606.7 336.0h0M602.5 345.3h0M603.9 338.7h0M596.4 348.5h0M608.8 338.6h0" stroke="#ff30ff" stroke-width="1.5" stroke-linecap="square" fill="none" stroke-opacity="0.42"/>
<path d="M591.4 358.4h0M613.7 335.4h0M595.6 348.0h0M597.9 349.2h0M597.0 347.0h0M580.6 365.3h0M598.3 338.2h0M591.9 352.2h0M604.4 349.6h0M592.9 354.4h0M599.8 344.8h0M593.7 348.2h0M593.5 358.8h0M592.8 348.7h0M591.4 353.2h0M595.6 350.7h0M592.5 351.1h0M577.9 370.2h0M613.1 343.8h0M603.6 339.8h0M612.4 337.6h0M588.1 358.7h0M604.6 351.4h0M594.8 353.9h0M600.0 350.2h0M601.9 354.1h0M597.9 350.2h0M593.0 351.0h0M599.4 342.3h0M616.2 334.3h0M596.7 355.3h0M591.7 358.3h0M600.4 347.1h0M601.2 341.3h0M592.0 349.0h0M604.1 342.9h0M595.5 342.8h0M598.7 348.7h0M602.4 343.5h0M606.2 343.6h0M588.2 360.9h0M599.5 338.2h0M591.4 358.1h0M586.9 353.4h0M583.5 359.8h0M613.1 333.3h0M606.3 340.9h0M591.7 355.6h0M596.6 346.6h0M597.2 345.9h0M592.9 351.3h0M599.2 339.5h0M601.6 336.3h0M597.2 344.7h0M595.8 346.0h0M606.6 337.3h0M600.9 341.5h0M599.1 343.5h0M576.7 363.0h0M599.3 346.4h0M601.6 353.2h0M590.0 360.0h0M602.2 342.5h0M600.9 349.3h0M618.0 339.4h0M594.1 344.6h0M598.8 348.3h0M600.9 343.4h0M595.7 361.5h0M600.3 342.9h0M600.4 350.6h0M600.4 340.3h0M607.3 344.9h0M591.4 355.0h0M596.3 340.6h0M594.4 349.3h0M597.6 348.0h0M585.0 354.7h0M598.2 348.9h0M592.4 356.1h0M603.2 343.0h0M586.7 350.6h0M594.2 351.2h0" stroke="#22e822" stroke-width="1.5" stroke-linecap="square" fill="none" stroke-opacity="0.42"/>
<path d="M596.7 345.9h0M601.3 345.3h0M596.0 347.8h0M593.1 348.2h0M605.7 349.0h0M604.0 337.8h0M607.8 336.6h0M596.9 343.2h0M596.1 350.9h0M607.8 343.6h0M608.6 329.8h0M595.0 349.4h0M619.3 328.9h0M582.4 352.5h0M602.6 344.5h0M601.2 342.6h0M610.0 348.0h0M609.6 334.7h0M601.0 344.7h0M615.3 329.1h0M610.5 338.6h0M593.3 359.4h0M608.5 338.6h0M616.1 327.7h0M610.9 339.9h0M609.2 337.8h0M608.2 340.8h0M608.9 332.7h0M605.3 345.9h0M609.0 334.9h0M588.6 342.5h0M600.2 345.5h0M597.7 337.3h0M602.1 355.1h0M606.1 341.4h0M613.0 329.4h0M601.8 347.1h0M604.5 337.7h0M604.1 340.6h0M607.1 338.8h0M603.2 338.0h0M589.1 346.0h0M602.9 339.6h0M609.0 333.3h0M605.7 338.8h0M614.0 341.7h0M601.5 337.7h0M613.0 334.2h0M605.0 341.4h0M601.9 352.4h0M603.5 338.7h0M597.5 341.6h0M601.9 341.8h0M606.6 330.2h0M601.3 345.1h0M614.8 331.8h0M605.0 341.7h0M592.6 344.0h0M599.0 346.0h0M596.8 352.7h0M595.0 350.4h0M593.1 344.5h0M601.6 334.7h0M593.0 352.5h0M623.2 332.5h0M591.9 353.5h0M598.5 349.0h0M599.4 344.8h0M600.9 340.7h0M600.7 344.3h0M597.4 346.3h0M589.2 348.7h0M607.8 343.4h0M602.2 337.7h0M607.1 335.8h0M593.5 355.3h0M594.2 347.1h0M608.4 344.9h0M590.7 352.4h0M599.1 340.2h0M587.3 360.1h0M603.2 340.4h0M596.6 342.3h0M608.4 338.5h0M594.4 347.0h0M607.0 339.7h0" stroke="#ff30ff" stroke-width="1.5" stroke-linecap="square" fill="none" stroke-opacity="0.42"/>
<path d="M604.1 343.6h0M596.1 349.9h0M587.7 351.2h0M601.3 348.0h0M594.5 347.7h0M606.5 343.3h0M598.9 348.1h0M590.9 351.0h0M606.4 340.4h0M602.2 347.6h0M598.4 346.5h0M598.8 343.5h0M603.4 351.3h0M598.1 351.4h0M593.3 355.4h0M595.3 344.5h0M596.7 351.3h0M598.9 353.8h0M592.5 349.5h0M606.0 343.7h0M597.6 349.2h0M605.9 340.9h0M592.6 345.5h0M598.9 338.6h0M604.3 351.7h0M604.7 347.4h0M587.5 362.6h0M598.9 353.8h0M590.6 352.3h0M600.8 340.8h0M606.1 333.3h0M600.0 356.3h0M597.3 349.5h0M582.8 360.1h0M592.5 346.9h0M595.3 356.4h0M598.3 354.7h0M602.9 339.5h0M598.6 351.4h0M596.0 345.5h0M589.8 356.0h0M598.5 352.9h0M589.4 351.2h0M600.4 347.1h0M596.2 349.2h0M594.5 348.5h0M585.3 363.0h0M596.3 350.7h0M608.6 341.0h0M600.3 347.6h0M599.5 344.5h0M610.7 320.7h0M597.7 349.1h0M583.1 364.4h0M592.7 356.2h0M600.4 346.1h0M601.0 344.7h0M589.8 355.8h0M595.7 351.5h0M592.7 355.8h0M592.0 355.7h0M606.4 345.9h0M594.4 356.4h0M594.7 354.5h0M602.0 347.5h0M592.2 355.5h0M596.3 339.9h0M594.1 356.4h0M607.0 344.7h0M594.2 346.9h0M593.7 357.8h0M592.8 354.1h0M599.5 348.3h0M599.9 347.6h0M600.8 343.5h0M584.0 361.9h0M598.4 351.5h0M596.6 356.2h0M599.7 352.9h0M596.8 341.1h0M597.1 355.2h0M603.1 347.6h0M597.9 350.1h0" stroke="#22e822" stroke-width="1.5" stroke-linecap="square" fill="none" stroke-opacity="0.42"/>
<path d="M610.1 330.7h0M605.8 341.7h0M616.6 341.1h0M604.3 337.9h0M597.9 347.6h0M605.3 343.8h0M595.8 344.1h0M595.6 348.3h0M611.5 337.7h0M603.4 337.3h0M613.2 336.5h0M593.7 350.7h0M597.3 352.8h0M594.5 351.4h0M597.5 350.3h0M598.9 347.1h0M610.5 336.5h0M598.2 350.6h0M602.5 341.0h0M604.6 337.3h0M596.1 342.7h0M614.2 337.3h0M609.2 339.3h0M607.0 340.4h0M596.9 351.3h0M614.8 334.5h0M614.2 335.7h0M592.0 354.8h0M608.3 334.6h0M596.8 353.7h0M590.6 358.4h0M603.4 344.9h0M602.2 349.3h0M587.2 356.7h0M589.2 354.5h0M598.3 345.8h0M607.8 338.8h0M603.8 346.2h0M608.8 327.8h0M604.6 345.6h0M597.9 347.3h0M600.3 344.4h0M607.5 336.0h0M607.9 331.8h0M605.8 339.5h0M604.3 337.3h0M601.7 341.5h0M586.6 355.4h0M605.0 334.2h0M601.0 347.3h0M604.8 338.4h0M593.0 355.4h0M591.6 349.2h0M595.9 343.2h0M612.0 334.4h0M601.4 348.7h0M601.3 350.1h0M603.6 340.2h0M610.6 332.4h0M605.5 339.0h0M606.2 341.4h0M594.7 344.3h0M597.1 351.4h0M612.9 338.7h0M607.6 343.4h0M600.8 345.8h0M596.8 351.4h0M587.9 355.7h0M618.2 328.0h0M584.5 359.3h0M594.2 345.9h0M615.4 324.6h0M603.8 335.9h0M613.2 329.1h0M608.3 345.8h0M604.8 347.9h0M593.2 354.4h0M608.1 332.3h0M617.0 329.0h0M602.6 344.0h0M603.1 343.3h0M604.2 342.1h0M591.8 351.3h0M610.1 347.1h0M610.3 338.1h0M600.3 341.7h0" stroke="#ff30ff" stroke-width="1.5" stroke-linecap="square" fill="none" stroke-opacity="0.42"/>
<path d="M556.6 377.8h0M593.3 389.2h0M586.6 389.5h0M597.7 389.1h0M565.9 389.5h0M608.7 368.3h0M556.8 356.3h0M556.9 345.0h0M560.8 341.8h0M556.9 343.2h0M556.7 349.9h0M557.0 378.0h0M591.9 389.1h0M590.4 380.1h0M597.5 389.3h0M564.4 349.7h0M556.6 343.7h0M605.9 388.7h0M556.7 352.6h0M556.5 350.8h0M556.8 343.8h0M613.5 389.3h0M589.9 389.1h0M558.2 347.3h0M612.0 389.2h0M587.6 389.1h0M594.9 389.4h0M556.8 378.1h0M591.3 389.2h0M589.3 389.0h0M610.4 389.3h0M599.0 389.2h0M556.5 375.3h0M556.8 343.4h0M556.9 343.5h0M556.9 374.5h0M556.7 352.2h0M557.3 381.5h0M585.8 389.1h0M556.5 351.1h0M613.1 388.9h0M557.2 381.1h0M556.7 369.9h0M581.1 389.3h0M586.9 388.8h0M557.1 362.9h0M593.1 388.8h0" stroke="#22e822" stroke-width="1.5" stroke-linecap="square" fill="none" stroke-opacity="0.42"/>
<path d="M592.2 389.1h0M589.2 389.0h0M602.6 389.2h0M556.7 371.0h0M607.2 389.2h0M598.2 369.1h0M556.5 382.5h0M556.7 384.0h0M556.8 354.8h0M589.1 389.4h0M556.8 381.1h0M598.9 389.3h0M602.5 370.9h0M590.9 389.1h0M556.8 368.9h0M561.0 349.0h0M601.5 389.0h0M594.5 389.3h0M556.5 384.4h0M600.4 388.5h0M556.8 371.2h0M589.7 388.9h0M602.4 389.1h0M557.1 388.3h0M593.1 389.2h0M587.2 388.7h0M589.0 381.9h0M597.2 389.4h0M556.6 348.6h0M557.6 363.2h0M556.6 354.6h0M561.3 346.2h0M556.5 376.7h0M557.1 384.7h0M567.1 353.2h0M556.5 381.1h0M591.5 389.0h0M566.0 349.9h0M588.4 389.2h0M556.6 358.0h0M580.1 389.4h0M594.8 389.4h0M556.9 376.7h0M607.2 367.8h0M587.4 389.2h0M557.9 351.1h0M556.4 354.1h0" stroke="#22e822" stroke-width="1.5" stroke-linecap="square" fill="none" stroke-opacity="0.42"/>
<path d="M556.9 355.6h0M604.3 389.3h0M556.6 370.3h0M556.5 384.1h0M556.9 374.5h0M595.6 389.0h0M592.1 364.3h0M585.0 388.7h0M556.5 353.4h0M590.1 389.2h0M557.2 379.5h0M556.7 345.1h0M588.6 389.4h0M581.1 389.5h0M601.3 389.2h0M556.8 381.9h0M598.9 389.0h0M608.5 389.3h0M556.6 367.6h0M557.3 352.0h0M605.8 389.3h0M557.5 387.5h0M595.9 389.4h0M569.4 389.2h0M556.9 347.5h0M556.6 359.0h0M609.7 378.3h0M605.7 389.4h0M559.3 389.3h0M604.4 389.0h0M557.2 357.9h0M556.7 360.2h0M565.5 343.7h0M557.7 378.2h0M556.7 378.7h0M585.6 389.5h0M594.4 389.5h0M598.0 388.8h0M592.4 389.5h0M588.3 388.4h0M602.8 389.1h0M557.0 352.2h0M556.6 341.6h0M615.8 389.3h0M584.3 389.2h0M595.2 388.8h0M556.8 372.4h0" stroke="#22e822" stroke-width="1.5" stroke-linecap="square" fill="none" stroke-opacity="0.42"/>
<path d="M599.4 389.3h0M557.5 339.1h0M556.9 345.7h0M556.8 387.5h0M556.6 350.2h0M556.9 356.1h0M557.1 349.6h0M556.9 351.5h0M591.4 388.8h0M600.6 389.4h0M558.1 366.1h0M584.6 389.5h0M600.3 389.4h0M556.9 344.2h0M599.0 389.4h0M556.8 340.4h0M595.0 369.8h0M591.8 389.0h0M556.9 388.9h0M556.8 344.3h0M594.6 388.8h0M557.5 346.0h0M557.0 346.0h0M557.4 345.3h0M571.0 389.2h0M594.5 389.0h0M602.1 389.2h0M599.2 388.6h0M599.6 388.1h0M556.5 386.4h0M592.7 369.9h0M602.1 388.8h0M558.3 360.2h0M558.8 339.6h0M557.7 352.5h0M557.0 362.0h0M602.2 389.5h0M557.3 349.0h0M557.2 356.2h0M556.7 389.1h0M596.0 389.1h0M598.7 384.8h0M604.4 389.3h0M558.7 356.9h0M558.2 353.1h0M556.6 385.6h0M591.9 389.3h0M557.5 346.4h0M572.7 389.1h0M557.8 338.2h0M605.6 388.9h0M595.6 388.7h0M557.8 388.4h0M592.8 389.5h0M556.6 388.9h0M556.9 337.5h0M607.3 389.3h0M556.9 360.1h0M556.9 386.7h0M598.9 389.1h0M556.4 386.2h0M606.9 389.1h0M603.8 389.0h0M558.0 360.0h0M594.7 389.0h0M557.4 346.7h0M567.6 345.9h0M598.4 389.0h0M558.1 386.5h0M556.7 385.2h0M557.2 385.2h0M557.4 339.9h0M594.2 388.4h0M598.5 388.8h0M556.7 345.7h0M603.5 389.2h0M598.8 388.9h0M599.4 389.2h0M600.0 389.1h0M600.3 388.7h0M594.0 388.8h0M558.3 360.6h0M557.0 370.0h0M589.0 389.4h0M557.8 337.9h0M556.4 388.7h0M556.9 373.5h0M557.3 340.9h0M556.6 384.8h0M595.4 389.2h0M595.5 389.5h0M595.7 388.9h0" stroke="#ff30ff" stroke-width="1.5" stroke-linecap="square" fill="none" stroke-opacity="0.42"/>
<path d="M596.3 388.7h0M557.4 389.1h0M557.4 366.6h0M556.5 343.4h0M557.0 338.0h0M556.6 336.3h0M556.7 346.5h0M584.6 389.3h0M606.8 388.7h0M566.3 341.3h0M557.7 349.7h0M556.5 385.7h0M558.0 342.9h0M598.6 389.5h0M602.3 389.5h0M603.2 389.3h0M557.3 355.7h0M557.6 385.7h0M557.4 336.7h0M557.5 361.3h0M557.4 387.5h0M557.2 388.8h0M557.0 384.9h0M557.5 340.8h0M556.7 355.3h0M557.5 352.9h0M557.1 351.1h0M597.9 389.1h0M598.7 389.3h0M595.7 389.3h0M557.0 352.7h0M557.7 337.8h0M557.6 350.5h0M602.2 389.4h0M557.4 350.8h0M601.3 389.4h0M596.0 389.4h0M557.0 343.1h0M557.3 347.7h0M558.2 337.3h0M594.0 389.3h0M578.0 389.0h0M600.4 389.3h0M556.7 377.1h0M600.5 389.1h0M557.2 345.9h0M557.1 350.2h0M596.1 389.3h0M566.0 348.4h0M599.3 388.7h0M557.3 386.7h0M557.8 386.8h0M557.2 360.8h0M557.1 385.1h0M595.4 389.5h0M557.7 360.7h0M557.5 360.9h0M600.7 389.4h0M557.6 385.7h0M557.3 380.7h0M556.8 337.7h0M589.0 388.9h0M556.8 375.3h0M557.1 340.4h0M556.4 357.1h0M557.5 377.0h0M556.7 360.3h0M602.7 389.1h0M591.4 389.5h0M557.4 345.3h0M556.9 353.1h0M593.0 389.3h0M557.9 347.3h0M595.9 388.9h0M596.1 389.0h0M557.2 388.9h0M557.8 356.6h0M596.6 389.2h0M557.7 361.2h0M592.2 389.0h0M593.5 389.1h0M556.8 358.4h0M601.6 388.8h0M558.3 350.4h0M601.9 389.0h0M591.1 388.7h0M606.2 388.9h0M558.1 343.6h0M599.6 389.2h0M593.5 389.0h0M604.7 388.8h0M557.0 356.2h0" stroke="#ff30ff" stroke-width="1.5" stroke-linecap="square" fill="none" stroke-opacity="0.42"/>
<path d="M557.6 386.6h0M609.0 388.9h0M558.5 354.6h0M604.3 389.1h0M595.0 388.0h0M557.6 368.3h0M596.4 389.2h0M558.3 389.3h0M557.3 358.7h0M592.8 389.4h0M594.4 389.2h0M557.4 358.5h0M557.0 360.0h0M557.3 341.1h0M599.7 389.4h0M588.2 389.5h0M558.9 357.2h0M556.6 337.0h0M557.5 360.4h0M557.9 339.0h0M557.2 388.1h0M557.7 346.7h0M593.6 389.1h0M557.0 385.6h0M557.1 356.1h0M556.7 351.2h0M557.7 348.6h0M595.9 389.4h0M606.2 389.4h0M596.0 389.1h0M579.0 388.8h0M557.9 336.5h0M556.5 341.0h0M556.7 355.4h0M557.2 338.8h0M558.2 343.1h0M556.8 340.5h0M566.6 389.1h0M590.0 389.3h0M556.6 361.0h0M556.6 386.3h0M557.4 355.5h0M557.0 361.2h0M595.4 389.1h0M602.5 389.2h0M556.5 377.5h0M598.6 388.5h0M556.5 360.7h0M599.7 389.4h0M589.9 378.0h0M594.1 388.9h0M606.8 389.4h0M556.4 347.5h0M598.9 388.7h0M606.2 389.0h0M557.0 388.1h0M557.5 338.9h0M557.3 341.6h0M570.4 388.8h0M558.7 340.5h0M558.2 359.2h0M600.9 388.7h0M597.2 389.0h0M556.9 386.6h0M557.8 385.0h0M557.1 353.2h0M557.3 339.1h0M556.8 366.4h0M556.7 388.6h0M594.2 389.3h0M594.5 389.0h0M590.0 389.5h0M558.7 341.6h0M578.5 388.9h0M557.2 388.6h0M559.1 349.8h0M556.5 345.9h0M593.7 389.3h0M557.8 387.6h0M557.0 384.5h0M596.9 388.8h0M571.5 388.9h0M556.8 387.6h0M556.5 387.3h0M600.5 389.4h0M557.0 341.8h0M594.4 389.4h0M556.9 357.4h0M557.6 344.7h0M556.8 372.1h0M598.7 389.5h0M556.9 354.4h0" stroke="#ff30ff" stroke-width="1.5" stroke-linecap="square" fill="none" stroke-opacity="0.42"/>
<path d="M557.0 345.2h0M556.4 351.6h0M556.5 361.6h0M594.4 389.2h0M598.4 389.4h0M594.9 389.3h0M556.4 336.8h0M556.9 364.2h0M596.3 389.3h0M601.7 389.1h0M603.2 389.4h0M557.8 387.3h0M590.6 376.1h0M557.2 340.7h0M557.7 343.8h0M557.7 344.4h0M601.7 389.4h0M557.7 361.8h0M593.1 389.2h0M603.8 389.1h0M593.8 389.5h0M597.3 389.2h0M600.7 389.5h0M557.3 346.7h0M599.9 389.5h0M557.4 345.8h0M587.0 389.3h0M572.0 389.4h0M556.7 353.9h0M556.7 385.3h0M557.8 355.1h0M600.1 389.1h0M589.5 389.5h0M556.5 341.4h0M557.8 340.3h0M556.9 357.9h0M564.5 352.3h0M601.3 389.3h0M556.8 354.5h0M557.5 355.0h0M557.2 340.7h0M556.5 355.3h0M565.7 389.4h0M570.7 388.1h0M558.5 355.5h0M556.6 351.8h0M603.1 389.4h0M601.9 388.8h0M558.3 388.9h0M591.2 389.2h0M557.1 339.8h0M556.4 388.5h0M593.8 389.4h0M556.6 360.0h0M556.5 360.0h0M557.0 338.8h0M558.2 349.3h0M595.3 388.9h0M556.8 351.5h0M557.0 385.4h0M605.7 389.4h0M557.5 349.9h0M560.3 349.1h0M556.5 337.9h0M600.5 389.0h0M557.7 385.7h0M556.5 341.3h0M599.2 389.3h0M556.9 388.2h0M557.0 352.8h0M591.3 389.1h0M557.8 338.4h0M557.4 359.7h0M556.4 340.9h0M593.0 389.1h0M557.2 387.8h0M598.9 389.4h0M556.5 384.5h0M556.5 337.8h0M556.8 360.6h0M556.8 385.9h0M556.8 385.8h0M604.8 388.9h0M607.6 389.5h0M601.6 389.5h0M558.4 354.8h0M600.8 388.8h0M557.0 385.9h0M556.7 341.8h0M604.0 389.4h0M558.0 389.0h0M603.0 389.0h0" stroke="#ff30ff" stroke-width="1.5" stroke-linecap="square" fill="none" stroke-opacity="0.42"/>
<path d="M596.1 389.2h0M599.4 388.8h0M556.6 340.0h0M557.2 340.4h0M557.5 377.8h0M556.4 384.5h0M556.9 355.6h0M601.7 389.3h0M557.3 345.6h0M558.1 349.8h0M573.5 388.5h0M591.9 389.2h0M600.6 389.1h0M557.7 350.9h0M557.9 348.9h0M558.3 336.6h0M599.2 389.5h0M599.1 389.2h0M556.9 336.6h0M557.1 357.6h0M558.1 338.7h0M603.9 389.5h0M593.6 388.9h0M604.1 389.2h0M593.9 388.4h0M593.9 389.2h0M596.3 388.9h0M557.2 337.6h0M591.8 378.4h0M605.3 389.2h0M557.3 388.6h0M556.5 388.5h0M557.3 387.1h0M557.4 351.5h0M557.4 360.1h0M593.6 388.8h0M558.0 385.9h0M556.8 344.1h0M556.7 341.0h0M556.9 387.9h0M558.7 349.4h0M590.4 389.1h0M556.7 352.1h0M593.9 388.8h0M594.8 389.3h0M557.0 343.6h0M605.1 388.5h0M557.2 339.0h0M592.9 389.1h0M610.1 389.2h0M556.5 339.9h0M591.2 381.9h0M588.5 389.3h0M597.0 389.0h0M556.6 339.4h0M601.2 382.3h0M579.5 389.3h0M604.8 389.1h0M557.1 343.1h0M557.3 358.4h0M590.1 388.0h0M556.7 357.9h0M556.8 340.1h0M556.9 342.1h0M599.0 389.2h0M557.5 343.7h0M591.6 388.9h0M557.2 361.6h0M558.1 350.6h0M556.7 388.6h0M595.9 388.9h0M609.4 389.3h0M557.3 343.6h0M557.2 349.0h0M556.5 348.0h0M593.4 388.9h0M597.7 388.7h0M563.7 389.3h0M558.9 348.4h0M556.7 380.7h0M557.8 345.0h0M557.0 387.5h0M556.6 338.1h0M558.0 349.7h0M557.4 385.4h0M556.9 346.0h0M559.5 360.2h0M557.1 384.3h0M556.4 359.5h0M597.3 389.0h0M557.0 352.1h0" stroke="#ff30ff" stroke-width="1.5" stroke-linecap="square" fill="none" stroke-opacity="0.42"/>
<circle cx="562.3" cy="290.7" r="0.8" fill="#22e822"/>
<circle cx="562.3" cy="300.4" r="0.8" fill="#ff30ff"/>
<text x="566.5" y="293" font-size="6.3" stroke="#000" stroke-width="0.12">Group II (<tspan font-style="italic">r</tspan> = 0.58)</text>
<text x="566.5" y="302.7" font-size="6.3" stroke="#000" stroke-width="0.12">Group III (<tspan font-style="italic">r</tspan> = 0.57)</text>
<text x="620.5" y="408" font-size="8.1" text-anchor="middle" stroke="#000" stroke-width="0.12">log<tspan font-size="55%" dy="2.2">2</tspan><tspan dy="-2.2"> promoter activity in rep 1 [A.U.]</tspan></text>
<text x="540.6" y="326.5" font-size="8.1" text-anchor="middle" stroke="#000" stroke-width="0.12" transform="rotate(-90 540.6 326.5)">log<tspan font-size="55%" dy="2.2">2</tspan><tspan dy="-2.2"> promoter activity in rep 2 [A.U.]</tspan></text>
<text x="3.9" y="454.3" font-size="10.9" font-weight="bold" stroke="#000" stroke-width="0.12">J</text>
<line x1="28.2" y1="450.2" x2="28.2" y2="629.9" stroke="#e4e4e4" stroke-width="0.65"/>
<line x1="38.35" y1="450.2" x2="38.35" y2="629.9" stroke="#eeeeee" stroke-width="0.45"/>
<line x1="48.5" y1="450.2" x2="48.5" y2="629.9" stroke="#e4e4e4" stroke-width="0.65"/>
<line x1="58.65" y1="450.2" x2="58.65" y2="629.9" stroke="#eeeeee" stroke-width="0.45"/>
<line x1="68.8" y1="450.2" x2="68.8" y2="629.9" stroke="#e4e4e4" stroke-width="0.65"/>
<line x1="78.95" y1="450.2" x2="78.95" y2="629.9" stroke="#eeeeee" stroke-width="0.45"/>
<line x1="89.1" y1="450.2" x2="89.1" y2="629.9" stroke="#e4e4e4" stroke-width="0.65"/>
<line x1="99.25" y1="450.2" x2="99.25" y2="629.9" stroke="#eeeeee" stroke-width="0.45"/>
<line x1="109.4" y1="450.2" x2="109.4" y2="629.9" stroke="#e4e4e4" stroke-width="0.65"/>
<line x1="119.55" y1="450.2" x2="119.55" y2="629.9" stroke="#eeeeee" stroke-width="0.45"/>
<line x1="129.7" y1="450.2" x2="129.7" y2="629.9" stroke="#e4e4e4" stroke-width="0.65"/>
<line x1="139.85" y1="450.2" x2="139.85" y2="629.9" stroke="#eeeeee" stroke-width="0.45"/>
<line x1="150" y1="450.2" x2="150" y2="629.9" stroke="#e4e4e4" stroke-width="0.65"/>
<line x1="160.15" y1="450.2" x2="160.15" y2="629.9" stroke="#eeeeee" stroke-width="0.45"/>
<line x1="170.3" y1="450.2" x2="170.3" y2="629.9" stroke="#e4e4e4" stroke-width="0.65"/>
<line x1="180.45" y1="450.2" x2="180.45" y2="629.9" stroke="#eeeeee" stroke-width="0.45"/>
<line x1="190.6" y1="450.2" x2="190.6" y2="629.9" stroke="#e4e4e4" stroke-width="0.65"/>
<line x1="200.75" y1="450.2" x2="200.75" y2="629.9" stroke="#eeeeee" stroke-width="0.45"/>
<line x1="210.9" y1="450.2" x2="210.9" y2="629.9" stroke="#e4e4e4" stroke-width="0.65"/>
<line x1="221.05" y1="450.2" x2="221.05" y2="629.9" stroke="#eeeeee" stroke-width="0.45"/>
<line x1="231.2" y1="450.2" x2="231.2" y2="629.9" stroke="#e4e4e4" stroke-width="0.65"/>
<line x1="18" y1="622.3" x2="242" y2="622.3" stroke="#e4e4e4" stroke-width="0.65"/>
<line x1="18" y1="591.85" x2="242" y2="591.85" stroke="#eeeeee" stroke-width="0.45"/>
<line x1="18" y1="561.4" x2="242" y2="561.4" stroke="#e4e4e4" stroke-width="0.65"/>
<line x1="18" y1="530.95" x2="242" y2="530.95" stroke="#eeeeee" stroke-width="0.45"/>
<line x1="18" y1="500.5" x2="242" y2="500.5" stroke="#e4e4e4" stroke-width="0.65"/>
<line x1="18" y1="470.05" x2="242" y2="470.05" stroke="#eeeeee" stroke-width="0.45"/>
<path d="M134.3 619.6h0M146.1 611.1h0M113.2 613.1h0M120.4 616.9h0M136.1 618.8h0M104.6 606.4h0M146.4 610.6h0M121.5 612.4h0M146.1 611.6h0M118.2 616.3h0M105.7 600.6h0M127.3 620.2h0M144.0 612.5h0M128.8 621.9h0M117.2 609.1h0M115.5 608.4h0M158.3 595.0h0M128.0 620.9h0M127.1 620.9h0M138.2 617.1h0M127.3 621.3h0M114.3 607.1h0M100.3 586.3h0M128.6 621.2h0M133.2 620.2h0M143.5 613.2h0M112.6 611.4h0M128.7 621.3h0M91.6 593.8h0M102.1 603.3h0M140.5 616.3h0M137.5 618.2h0M117.3 611.5h0M139.0 616.4h0M102.9 593.7h0M123.6 617.5h0M120.2 616.7h0M108.9 607.5h0M147.4 608.1h0M118.3 606.8h0M112.1 600.5h0M132.8 620.8h0M122.9 616.7h0M116.9 606.0h0M144.3 612.2h0M139.4 616.3h0M144.0 613.2h0M113.8 608.2h0M114.9 597.4h0M140.0 616.3h0M124.7 620.1h0M110.5 609.8h0M127.0 620.6h0M107.4 607.9h0M121.2 616.3h0M123.0 619.0h0M104.8 585.0h0M109.5 607.3h0M147.1 609.0h0M89.6 591.3h0M133.7 620.1h0M114.9 608.2h0M127.3 620.3h0M138.8 616.5h0M106.3 590.9h0M109.2 605.8h0M141.1 615.1h0M93.6 594.4h0M114.5 609.7h0M109.0 586.5h0M111.5 612.3h0M130.2 622.1h0M127.8 621.5h0M124.5 619.9h0M145.8 611.7h0M149.5 608.6h0M126.1 620.5h0M108.9 609.9h0M135.8 619.1h0M127.0 620.8h0M125.5 620.2h0M113.6 594.2h0M135.3 619.1h0M114.8 603.4h0M111.4 611.6h0M120.6 616.1h0M130.7 621.8h0M119.7 615.2h0M134.3 619.9h0M123.9 618.3h0M104.6 592.4h0M124.3 619.0h0M108.0 603.5h0M91.9 596.5h0M118.7 614.8h0M154.0 603.0h0M125.8 620.4h0M126.9 619.7h0M115.0 609.2h0M126.3 620.7h0M146.6 611.0h0M137.5 617.1h0M99.3 599.8h0M127.8 620.7h0M119.5 612.7h0M108.1 609.8h0M132.4 620.9h0M100.0 593.7h0M132.9 620.5h0M139.9 616.0h0M129.6 622.2h0M129.8 622.3h0M117.5 603.4h0M113.2 611.1h0M137.2 618.3h0M127.6 621.0h0M131.7 621.1h0M136.9 618.4h0M159.4 596.6h0M125.4 619.6h0M128.6 621.6h0M135.0 619.4h0M132.7 620.7h0M131.0 621.6h0M107.5 608.6h0M132.6 620.9h0M136.8 617.7h0M111.4 610.6h0M150.7 606.7h0M114.7 613.5h0M119.8 612.9h0M129.3 622.1h0M122.7 614.8h0M121.7 616.9h0M121.9 617.1h0M109.8 591.4h0M123.5 617.3h0M117.0 612.0h0M126.8 621.0h0M133.9 620.0h0M126.0 620.2h0M129.0 621.8h0M121.3 614.6h0M120.4 612.3h0M126.8 619.7h0M114.3 609.0h0M127.5 621.3h0M122.3 615.5h0M117.5 613.1h0M123.1 613.9h0M125.5 617.3h0M146.5 610.3h0M129.0 621.7h0M121.8 618.2h0M112.2 612.2h0M125.3 619.2h0M116.4 613.0h0M132.7 620.6h0M116.6 599.0h0M123.3 619.2h0M124.8 619.0h0M128.1 621.6h0M119.3 613.6h0M136.1 618.4h0M137.4 618.1h0M121.2 615.3h0M128.5 621.5h0M134.4 619.5h0M123.0 616.6h0M133.5 620.3h0M114.6 607.4h0M108.7 606.0h0M112.6 604.5h0M132.7 620.7h0M115.1 611.8h0M114.2 614.1h0M135.1 618.9h0M99.9 595.7h0M109.5 601.7h0M121.0 611.1h0M118.5 610.9h0M117.8 613.7h0M136.2 618.2h0M107.9 597.5h0M118.5 612.5h0M120.5 617.2h0M102.5 605.9h0M128.7 621.6h0M125.4 619.5h0M118.9 616.3h0M122.6 616.0h0M120.2 612.9h0M118.7 613.8h0M136.1 618.4h0M79.6 596.9h0M116.4 608.2h0M119.3 615.1h0M124.1 619.6h0M107.6 603.5h0M130.0 622.1h0M110.0 589.1h0M123.5 619.4h0M128.8 621.9h0M118.8 611.5h0M111.6 606.0h0M118.5 616.8h0M127.7 621.4h0M137.3 617.4h0M145.3 612.2h0M126.6 620.9h0M111.9 611.2h0M108.4 587.6h0M109.6 592.6h0M115.0 610.0h0M126.8 621.0h0M124.4 618.5h0M105.4 598.1h0M128.0 620.8h0M119.7 606.3h0M123.9 618.9h0M143.7 613.6h0M128.7 621.1h0M100.6 597.5h0M123.6 618.3h0M96.1 596.7h0M133.7 620.1h0M128.4 620.8h0M118.6 616.2h0M123.6 616.7h0M123.3 614.9h0M142.1 614.7h0M118.6 613.5h0M123.7 618.1h0M117.9 613.5h0M134.3 619.9h0M116.5 611.6h0M126.3 618.6h0M123.8 619.1h0M116.2 615.3h0M108.8 603.6h0M107.7 603.8h0M138.6 616.7h0M117.6 615.3h0M122.4 615.6h0M125.4 619.6h0M128.5 621.0h0M118.2 616.0h0M102.9 593.3h0M102.2 602.0h0M123.8 619.7h0M141.7 614.5h0M100.0 588.1h0M138.5 617.5h0M105.4 602.7h0M134.8 619.3h0M120.7 614.6h0M130.0 622.1h0M143.9 612.0h0M128.6 621.8h0M112.6 612.6h0M147.6 607.7h0M138.2 617.3h0M120.8 616.0h0M134.3 620.0h0M106.0 598.2h0M114.0 613.1h0M110.3 610.5h0M113.5 595.4h0M94.7 594.9h0M125.4 618.2h0M117.5 613.6h0M126.0 619.6h0M112.0 603.0h0M106.2 588.2h0M122.2 616.6h0M119.4 605.0h0M103.3 599.1h0M119.5 609.3h0M128.9 621.8h0M126.0 620.6h0M141.4 615.3h0M111.5 599.7h0M132.4 620.9h0M123.2 619.2h0M116.7 611.0h0M107.3 609.7h0M116.9 611.4h0M127.1 619.4h0M127.7 621.0h0M113.9 609.7h0M146.7 611.8h0M112.7 604.5h0M129.4 621.9h0M123.0 616.1h0M137.4 617.6h0M110.3 611.2h0M109.9 593.7h0M129.0 622.0h0M125.2 620.1h0M124.9 619.3h0M132.6 620.8h0M116.1 615.5h0M105.6 594.6h0M118.5 609.1h0M126.0 618.8h0M125.2 620.2h0M117.9 601.0h0M123.3 618.9h0M118.6 613.4h0M129.3 622.1h0M124.3 617.6h0M136.3 618.0h0M116.4 608.1h0M126.6 619.0h0M138.9 617.2h0M148.2 608.5h0M119.0 609.2h0M128.9 621.9h0M102.8 598.7h0M125.7 619.0h0M97.9 583.6h0M126.9 620.9h0M148.3 610.3h0M135.0 619.2h0M125.9 619.9h0M128.3 620.7h0M117.9 616.5h0M126.4 619.3h0M134.7 619.8h0M132.7 620.6h0M116.2 603.5h0M121.9 617.8h0M127.1 621.0h0M133.5 620.1h0M118.0 609.5h0M144.6 611.2h0M126.8 620.2h0M143.6 612.3h0M102.8 586.4h0M121.8 617.8h0M105.8 589.7h0M110.2 597.2h0M117.1 613.0h0M122.9 613.9h0M112.9 597.5h0M128.6 621.8h0M127.7 621.4h0M123.4 614.4h0M119.9 611.2h0M144.8 610.9h0M125.7 617.7h0M116.5 608.6h0M111.0 610.7h0M128.9 621.9h0M102.2 600.9h0M141.4 615.4h0M140.3 615.7h0M133.2 620.3h0M132.2 620.8h0M104.3 598.1h0M124.9 616.1h0M125.1 620.2h0M91.4 593.6h0M113.1 608.5h0M112.1 585.5h0M138.1 617.7h0M129.2 622.0h0M130.5 621.9h0M122.8 618.2h0M135.4 619.0h0M118.5 616.0h0M115.5 609.1h0M117.0 610.8h0M108.7 591.0h0M137.8 617.2h0M127.4 621.4h0M119.0 610.9h0M116.8 609.1h0M120.8 617.6h0M128.7 621.8h0M126.3 619.4h0M112.7 606.8h0M111.5 607.6h0M128.5 621.6h0M138.7 616.7h0M106.1 604.2h0M105.0 603.5h0M135.8 619.1h0M126.5 620.6h0M120.7 617.8h0M114.2 601.9h0M134.9 619.0h0M117.0 609.2h0M86.3 600.5h0M122.6 618.9h0M138.8 617.1h0M128.5 621.5h0M107.6 592.8h0M136.8 618.1h0M109.7 601.6h0M125.8 620.2h0M129.8 622.2h0M124.3 618.3h0M123.2 616.0h0M136.3 618.3h0M128.1 621.6h0M124.5 617.5h0M135.6 618.9h0M120.6 608.6h0M133.1 620.3h0M124.9 617.5h0M105.8 606.8h0M120.2 614.9h0M135.0 619.6h0M138.0 617.7h0M116.0 612.4h0M127.0 621.1h0M122.7 615.5h0M135.4 619.2h0M122.5 617.8h0M129.6 622.2h0M116.2 612.8h0M118.1 612.4h0M131.9 621.0h0M136.3 618.1h0M144.1 612.0h0M124.6 617.5h0M126.3 618.5h0M109.5 609.3h0M110.6 611.0h0M125.0 617.9h0M134.7 619.8h0M110.6 585.0h0M109.8 596.2h0M116.6 612.6h0M114.6 604.2h0M130.0 622.2h0M110.1 608.6h0M137.5 617.7h0M118.8 613.2h0M129.5 622.2h0M123.3 618.3h0M113.0 610.7h0M133.4 620.3h0M171.4 591.1h0M111.5 599.1h0M124.1 618.2h0M147.7 610.0h0M128.3 621.3h0M151.0 607.8h0M145.7 610.8h0M123.8 618.1h0M93.9 596.4h0M136.7 618.0h0M114.0 613.6h0M127.0 620.5h0M104.7 605.9h0M139.5 615.7h0M123.0 618.9h0M128.5 621.7h0M143.3 612.6h0M121.8 618.6h0M114.0 611.0h0M110.9 600.2h0M128.8 621.4h0M123.6 614.6h0M118.7 610.9h0M128.1 621.6h0M129.0 621.8h0M111.1 611.6h0M113.0 612.0h0M138.9 617.0h0M125.8 620.2h0M117.3 615.1h0M111.8 591.7h0M118.7 615.5h0M115.8 607.5h0M150.4 606.5h0M139.5 616.9h0M151.1 605.8h0M111.9 606.4h0M112.8 611.4h0M132.7 620.5h0M138.1 617.5h0M107.3 607.7h0M137.7 617.6h0M128.9 621.7h0M129.5 622.2h0M128.1 621.3h0M127.8 621.5h0M124.4 620.0h0M100.4 597.3h0M117.6 612.8h0M119.4 610.2h0M126.7 620.0h0M124.7 619.4h0M127.3 621.2h0M117.7 615.8h0M107.8 584.2h0M117.8 616.4h0M138.9 617.3h0M115.4 614.4h0M123.4 617.6h0M141.8 613.9h0M107.1 585.2h0M140.7 614.9h0M124.9 619.5h0M129.8 622.2h0M118.7 615.4h0M129.2 622.1h0M104.7 594.9h0M154.6 604.4h0M128.8 621.9h0M119.0 608.0h0M102.9 587.0h0M121.3 614.6h0M122.8 617.8h0M115.6 615.1h0M126.7 620.1h0M114.7 613.2h0M98.8 602.4h0M107.3 598.5h0M126.0 617.3h0M124.0 619.7h0M120.2 608.4h0M118.2 616.0h0M126.9 620.8h0M116.9 607.0h0M143.3 612.5h0M114.4 610.5h0M121.9 618.6h0M126.7 620.6h0M128.6 621.6h0M110.7 608.7h0M144.3 611.5h0M121.8 618.3h0M95.4 586.4h0M110.6 608.9h0M125.6 618.4h0M113.9 604.8h0M122.2 618.3h0M120.6 617.9h0M109.1 598.6h0M124.3 619.1h0M130.0 622.1h0M110.9 598.6h0M126.7 620.3h0M129.2 622.0h0M140.2 616.1h0M124.3 616.5h0M106.5 589.2h0M122.7 618.8h0M118.0 608.4h0M152.9 606.2h0M121.4 613.3h0M124.9 617.1h0M142.2 614.1h0M121.1 610.2h0M124.7 618.3h0M144.5 612.6h0M121.2 617.3h0M111.8 608.2h0M117.6 615.0h0M119.3 605.4h0M138.8 616.9h0M125.1 616.4h0M137.2 617.8h0M129.1 622.0h0M118.4 616.7h0M107.3 600.0h0M118.9 616.5h0M127.8 621.0h0M98.6 586.7h0M111.7 596.8h0M119.3 615.1h0M127.4 621.1h0M121.3 613.2h0M158.2 597.5h0M123.9 618.4h0M111.6 594.3h0M113.5 604.7h0M125.9 619.3h0M132.7 620.8h0M129.0 621.7h0M116.5 615.3h0M99.0 602.3h0M115.8 610.3h0M144.3 613.3h0M120.6 609.7h0M118.4 607.4h0M125.4 619.7h0M123.2 612.5h0M117.5 609.3h0M103.6 591.3h0M113.6 609.8h0M109.7 611.5h0M131.0 621.6h0M143.2 612.5h0M115.2 614.6h0M89.9 584.6h0M128.2 621.6h0M105.3 606.4h0M104.6 606.2h0M104.0 604.6h0M106.6 596.7h0M125.6 620.4h0M113.7 602.4h0M109.3 610.9h0M120.7 613.1h0M107.1 593.8h0M120.9 617.0h0M112.3 612.8h0M145.4 611.0h0M112.7 612.2h0M143.3 612.9h0M125.2 618.8h0M109.2 594.3h0M106.5 584.8h0M120.0 616.1h0M103.4 598.8h0M128.2 621.6h0M120.4 617.4h0M128.2 621.3h0M97.6 597.6h0M123.7 616.2h0M114.8 605.4h0M128.1 621.6h0M117.5 609.9h0M126.8 619.9h0M126.9 621.1h0M115.8 615.2h0M129.2 622.0h0M136.7 618.4h0M118.8 611.1h0M154.6 604.0h0M120.3 617.6h0M128.5 621.8h0M115.7 596.9h0M114.0 612.4h0M158.4 597.1h0M121.7 616.4h0M122.2 615.9h0M123.1 615.4h0M123.5 617.2h0M129.8 622.3h0M104.9 605.6h0M125.5 619.4h0M119.3 616.6h0M117.3 614.6h0M135.8 618.8h0M155.1 600.7h0M113.3 612.6h0M146.7 609.8h0M138.5 617.0h0M127.1 620.5h0M120.8 609.3h0M123.2 613.6h0M147.1 610.8h0M136.6 618.5h0M123.2 617.1h0M114.5 610.8h0M98.5 588.4h0M108.6 605.9h0M125.2 618.3h0M126.7 620.9h0M125.6 620.3h0M125.2 620.0h0M124.9 618.0h0M122.2 618.5h0M101.3 585.4h0M112.8 610.9h0M144.0 613.9h0M126.0 619.7h0M133.3 620.3h0M117.4 604.8h0M128.7 621.4h0M128.8 621.9h0M124.8 616.6h0M146.6 609.6h0M102.3 604.8h0M130.8 621.7h0M120.4 613.8h0M116.1 595.8h0M139.0 616.1h0M122.4 611.9h0M134.1 619.7h0M136.0 618.3h0M114.9 614.7h0M139.3 616.0h0M129.3 622.0h0M118.3 615.5h0M147.0 611.4h0M141.2 615.7h0M127.2 621.0h0M110.7 610.3h0M137.3 618.1h0M96.9 595.6h0M104.1 599.2h0M128.4 621.8h0M118.4 614.2h0M127.1 619.4h0M125.2 617.5h0M135.0 619.4h0M116.2 614.6h0M119.0 604.5h0M110.4 611.6h0M120.0 614.4h0M112.4 599.7h0M111.8 606.0h0M120.1 612.6h0M111.4 608.1h0M119.2 608.4h0M118.4 615.1h0M134.1 619.8h0M127.2 620.8h0M116.7 611.3h0M133.3 620.5h0M126.7 620.6h0M121.5 614.6h0M127.6 621.0h0M123.5 613.9h0M116.1 598.6h0M110.6 605.8h0M108.5 602.5h0M123.1 618.8h0M132.8 620.6h0M115.9 611.0h0M129.6 622.3h0M148.6 609.0h0M134.3 619.6h0M138.8 616.3h0M111.3 600.3h0M115.5 609.4h0M156.8 601.3h0M121.2 617.2h0M133.0 620.5h0M127.4 621.3h0M114.6 613.6h0M119.7 607.7h0M118.5 611.7h0M118.0 616.6h0M113.8 602.0h0M122.5 617.0h0M113.2 611.4h0M123.6 616.8h0M128.7 621.4h0M113.3 591.4h0M135.3 619.1h0M132.7 620.8h0M120.0 614.8h0M134.9 619.7h0M114.6 614.3h0M114.1 589.6h0M127.5 621.0h0M151.0 608.2h0M123.6 618.9h0M128.3 621.4h0M112.2 612.2h0M137.7 617.6h0M125.4 618.6h0M119.2 616.9h0M147.9 610.6h0M152.6 603.3h0M112.4 600.1h0M103.8 584.4h0M106.0 606.9h0M117.8 616.0h0M114.2 612.0h0M140.9 614.6h0M155.1 602.9h0M121.2 617.2h0M118.0 614.9h0M111.2 607.2h0M95.2 586.3h0M121.7 617.3h0M113.7 609.5h0M107.9 606.4h0M110.9 611.0h0M116.2 604.0h0M122.9 619.0h0M131.5 621.3h0M140.4 616.1h0M128.6 621.7h0M105.9 602.2h0M116.8 613.9h0M124.9 618.4h0M122.3 615.9h0M115.0 597.9h0M121.0 611.1h0M112.7 605.8h0M118.3 612.0h0M124.0 619.1h0M144.5 612.6h0M118.0 616.1h0M138.1 617.7h0M124.3 617.8h0M116.2 612.7h0M134.4 619.7h0M118.7 615.4h0M135.0 619.5h0M109.4 610.4h0M127.0 621.1h0M160.6 597.5h0M124.8 620.1h0M131.2 621.4h0M116.7 598.2h0M117.2 607.7h0M138.8 617.0h0M127.2 620.2h0M123.1 617.9h0M130.6 621.8h0M116.6 603.3h0M102.9 598.7h0M129.0 621.9h0M102.8 591.9h0M135.9 618.7h0M125.4 618.1h0M121.8 617.6h0M106.1 592.6h0M130.7 621.7h0M116.8 612.5h0M128.8 621.9h0M117.2 613.1h0M119.7 617.6h0M106.9 607.6h0M132.5 620.8h0M116.3 610.0h0M112.3 599.2h0M121.0 614.3h0M96.5 586.6h0M129.3 622.0h0M103.0 606.0h0M123.5 618.1h0M120.4 614.1h0M123.4 616.1h0M123.1 619.0h0M128.3 621.5h0M117.4 609.3h0M111.4 611.5h0M127.1 621.1h0M128.1 621.6h0M121.6 616.4h0M131.1 621.6h0M105.5 591.7h0M103.6 591.5h0M128.6 621.1h0M119.7 613.2h0M112.4 605.9h0M111.8 610.6h0M117.3 615.9h0M130.8 621.7h0M90.7 594.9h0M117.4 614.7h0M139.4 617.0h0M131.6 621.2h0M143.4 612.6h0M172.1 589.0h0M138.0 617.6h0M111.1 609.0h0M127.9 620.8h0M131.1 621.5h0M123.2 616.1h0M123.5 617.8h0M118.5 616.6h0M113.0 610.2h0M122.4 618.6h0M103.0 599.8h0M124.9 617.9h0M97.5 598.9h0M128.7 621.7h0M138.4 616.4h0M121.4 614.7h0M144.5 613.3h0M127.3 620.6h0M133.3 620.3h0M109.8 585.1h0M125.8 620.6h0M116.8 598.5h0M128.3 620.7h0M114.5 608.3h0M112.8 611.2h0M111.7 609.6h0M116.3 615.1h0M117.8 613.5h0M141.3 614.8h0M133.9 620.1h0M128.0 621.5h0M111.3 598.3h0M132.4 620.9h0M116.2 608.1h0M104.7 600.3h0M147.1 610.2h0M153.9 602.8h0M142.1 615.0h0M133.0 620.5h0M106.5 607.5h0M141.3 613.9h0M121.5 618.1h0M127.8 621.4h0M129.5 622.2h0M118.5 614.9h0M115.8 612.5h0M139.5 616.1h0M126.9 619.4h0M129.0 621.6h0M118.5 615.9h0M107.1 600.8h0M127.2 620.1h0M144.6 613.2h0M100.5 602.6h0M122.2 617.6h0M121.1 617.8h0M110.6 611.2h0M140.1 615.9h0M129.1 621.9h0M109.2 610.2h0M119.1 615.3h0M146.3 611.9h0M119.6 609.0h0M117.9 616.4h0M112.2 613.0h0M136.6 618.7h0M125.8 620.0h0M109.0 608.8h0M115.8 609.6h0" stroke="#b5b5b5" stroke-width="1.24" stroke-linecap="square" fill="none" stroke-opacity="0.75"/>
<path d="M104.6 586.9h0M135.1 619.0h0M133.0 620.7h0M153.1 605.2h0M123.5 618.5h0M127.2 620.0h0M107.4 599.6h0M149.4 608.8h0M128.9 621.8h0M124.5 619.4h0M127.3 621.1h0M118.1 616.7h0M126.6 619.3h0M105.9 599.4h0M111.0 587.5h0M127.9 621.4h0M131.6 621.3h0M111.3 610.1h0M117.2 607.7h0M116.8 613.7h0M128.0 621.6h0M101.3 604.5h0M133.4 620.4h0M152.0 602.9h0M123.8 613.9h0M109.2 586.3h0M117.1 609.1h0M127.9 621.3h0M126.5 619.2h0M124.4 619.7h0M133.4 620.5h0M128.3 621.6h0M108.3 605.0h0M125.9 620.1h0M120.8 616.2h0M112.1 607.8h0M121.7 618.6h0M115.3 607.7h0M145.2 612.9h0M108.7 607.2h0M122.7 618.1h0M122.1 618.1h0M121.0 613.0h0M97.4 584.6h0M126.1 620.6h0M125.0 618.1h0M145.3 610.7h0M145.5 609.8h0M124.4 618.0h0M122.4 615.3h0M120.9 613.9h0M108.8 609.3h0M90.5 590.1h0M124.5 619.9h0M109.6 606.9h0M126.4 620.0h0M117.7 610.1h0M117.6 611.4h0M126.8 620.8h0M129.6 622.2h0M100.6 597.5h0M127.2 621.1h0M128.6 621.6h0M121.0 612.2h0M118.8 614.6h0M123.1 618.1h0M120.9 615.6h0M113.8 595.2h0M130.2 622.0h0M126.6 620.1h0M125.9 618.6h0M125.4 618.3h0M130.0 622.2h0M144.4 612.4h0M125.6 616.7h0M119.6 617.2h0M129.4 622.2h0M117.4 614.5h0M99.8 598.7h0M119.4 604.8h0M130.2 622.1h0M108.1 605.3h0M105.6 588.7h0M131.2 621.5h0M128.8 621.9h0M113.4 612.4h0M117.5 610.4h0M98.3 584.8h0M111.7 610.6h0M133.3 620.5h0M122.5 616.6h0M126.1 620.3h0M114.6 602.2h0M111.7 585.6h0M134.8 619.5h0M148.7 609.6h0M122.9 618.1h0M122.6 617.6h0M134.4 619.6h0M118.8 616.6h0M146.6 610.0h0M111.5 595.0h0M122.4 618.8h0M123.9 619.7h0M119.0 610.2h0M138.4 616.3h0M132.5 620.8h0M108.9 596.8h0M120.6 612.0h0M127.9 621.3h0M109.3 609.6h0M104.8 594.4h0M114.2 613.5h0M101.2 585.6h0M100.0 603.2h0M103.7 606.3h0M135.0 619.5h0M126.9 620.9h0M127.5 620.0h0M128.6 621.8h0M123.9 619.6h0M125.7 619.9h0M96.0 600.0h0M128.1 621.6h0M122.1 614.8h0M100.9 600.3h0M129.1 622.0h0M116.0 609.7h0M125.6 617.8h0M114.6 612.9h0M140.6 614.6h0M147.5 610.0h0M140.0 616.0h0M115.6 611.9h0M132.1 620.9h0M109.7 611.1h0M107.8 607.8h0M123.3 619.2h0M118.4 616.4h0M91.9 586.8h0M114.4 607.8h0M123.8 618.4h0M116.5 614.9h0M123.7 619.4h0M131.9 621.0h0M117.6 616.1h0M155.3 600.5h0M110.8 594.2h0M128.3 620.8h0M116.9 607.5h0M109.0 592.8h0M109.3 595.5h0M151.8 607.5h0M129.3 622.0h0M116.5 615.8h0M127.9 621.5h0M122.0 616.5h0M146.3 610.2h0M112.3 608.5h0M118.2 616.5h0M129.3 622.0h0M118.3 616.3h0M122.7 614.7h0M103.6 593.2h0M106.6 605.5h0M143.0 613.9h0M144.5 613.5h0M129.3 622.0h0M132.6 620.7h0M115.9 615.1h0M112.5 604.8h0M121.3 616.8h0M106.7 609.3h0M141.5 615.6h0M98.0 593.7h0M112.7 610.1h0M120.1 611.4h0M116.8 612.8h0M129.1 622.0h0M129.6 622.2h0M129.3 622.0h0M112.4 590.9h0M115.8 610.9h0M120.9 615.7h0M116.8 612.5h0M127.9 621.5h0M129.5 622.1h0M125.5 620.1h0M134.3 619.5h0M128.5 621.8h0M138.9 617.1h0M121.8 609.8h0M111.8 598.2h0M126.1 620.4h0M125.5 619.4h0M128.9 621.6h0M126.6 619.0h0M121.2 613.8h0M98.3 602.4h0M139.8 616.7h0M108.2 609.4h0M124.2 619.5h0M124.7 618.3h0M118.1 611.0h0M132.0 621.0h0M119.3 608.1h0M118.4 613.5h0M129.7 622.3h0M120.4 609.4h0M106.7 604.7h0M115.5 602.2h0M122.3 618.2h0M109.9 610.6h0M113.2 604.7h0M106.6 594.0h0M113.2 599.5h0M114.9 605.4h0M136.2 618.7h0M128.6 621.5h0M116.4 612.8h0M121.7 618.3h0M119.3 616.7h0M124.5 618.3h0M118.3 611.6h0M117.8 607.5h0M114.0 599.9h0M120.4 614.5h0M126.3 619.2h0M139.3 615.8h0M115.4 610.2h0M126.1 620.0h0M136.8 617.7h0M131.3 621.5h0M139.5 615.5h0M146.0 612.1h0M124.6 618.7h0M122.1 610.4h0M134.4 619.9h0M120.8 616.5h0M104.6 597.8h0M113.4 611.4h0M108.1 597.3h0M126.0 619.6h0M105.2 603.0h0M128.4 621.3h0M129.5 622.1h0M140.7 614.8h0M118.5 612.1h0M127.2 621.0h0M123.4 619.0h0M118.0 603.6h0M134.7 619.3h0M131.0 621.6h0M121.3 616.3h0M127.3 619.5h0M127.0 620.9h0M119.1 613.3h0M116.7 615.7h0M114.1 590.1h0M125.4 618.2h0M111.7 609.4h0M124.6 618.9h0M124.4 619.3h0M123.2 619.4h0M142.2 615.1h0M122.1 618.6h0M125.5 619.0h0M105.2 602.2h0M125.8 620.2h0M107.3 608.7h0M150.5 608.1h0M114.5 597.8h0M114.3 611.7h0M120.8 614.8h0M106.6 590.0h0M124.7 618.5h0M104.9 596.6h0M136.5 618.2h0M140.5 615.6h0M150.2 608.4h0M97.4 595.6h0M121.8 617.3h0M138.3 617.4h0M129.7 622.3h0M115.9 603.0h0M124.2 617.5h0M140.6 615.3h0M106.9 589.7h0M127.2 620.8h0M110.6 605.3h0M96.4 598.5h0M129.6 622.2h0M122.4 618.8h0M128.6 621.8h0M104.8 583.7h0M123.3 619.1h0M129.6 622.3h0M161.7 590.5h0M99.7 595.7h0M124.1 617.3h0M126.5 619.0h0M111.0 607.7h0M127.6 621.4h0M158.7 600.5h0M142.2 614.8h0M107.4 609.2h0M127.0 620.9h0M152.2 602.6h0M109.1 600.8h0M132.1 621.0h0M127.5 621.2h0M108.1 606.8h0M128.7 621.8h0M117.9 609.1h0M134.5 619.7h0M113.2 612.0h0M138.2 616.7h0M120.9 615.4h0M118.0 614.5h0M132.0 621.0h0M108.2 588.5h0M119.8 611.8h0M134.1 619.9h0M138.1 616.8h0M151.0 605.6h0M114.4 604.1h0M122.7 615.9h0M133.9 619.8h0M128.6 621.7h0M119.9 617.6h0M117.4 610.6h0M118.3 613.6h0M117.3 612.7h0M128.7 621.7h0M115.7 614.7h0M120.2 617.3h0M141.4 614.8h0M110.1 609.3h0M126.1 619.6h0M112.8 601.4h0M147.6 608.8h0M113.9 605.4h0M128.9 621.9h0M151.8 606.7h0M124.2 619.8h0M130.5 621.9h0M107.0 594.9h0M127.8 621.2h0M134.7 619.5h0M137.3 617.4h0M122.8 614.4h0M124.4 616.1h0M141.3 614.8h0M126.2 619.5h0M110.8 607.1h0M142.6 613.9h0M125.9 618.1h0M131.8 621.3h0M137.8 617.3h0M100.9 603.2h0M118.3 615.7h0M145.5 610.6h0M125.5 618.1h0M102.4 596.4h0M123.4 617.9h0M94.8 586.6h0M119.5 615.6h0M123.3 618.8h0M140.0 615.5h0M112.0 610.5h0M121.0 613.0h0M108.8 610.0h0M116.0 609.3h0M129.2 622.1h0M126.4 619.5h0M112.3 588.5h0M140.0 615.1h0M129.2 622.1h0M140.2 616.1h0M114.1 613.5h0M114.8 613.4h0M127.5 621.1h0M137.4 617.5h0M136.6 617.9h0M112.7 610.2h0M112.0 610.1h0M128.5 621.5h0M114.8 600.6h0M120.4 607.9h0M128.2 621.0h0M128.7 621.6h0M151.6 605.4h0M121.4 612.0h0M129.2 621.7h0M126.4 620.6h0M124.5 619.5h0M145.2 611.0h0M133.6 620.2h0M102.5 593.8h0M97.3 593.5h0M122.5 618.2h0M113.6 599.9h0M79.8 601.1h0M121.2 617.5h0M151.0 605.8h0M143.0 614.5h0M128.1 621.6h0M123.2 618.0h0M120.5 609.7h0M114.0 613.1h0M119.2 614.0h0M94.7 595.4h0M140.4 616.2h0M128.7 621.2h0M112.3 609.0h0M101.8 603.2h0M116.7 611.2h0M127.8 621.4h0M106.7 606.7h0M142.3 614.6h0M105.7 596.7h0M134.7 619.7h0M128.7 621.7h0M131.9 621.1h0M116.9 614.7h0M112.6 613.2h0M122.8 618.8h0M123.7 618.4h0M140.0 616.4h0M100.4 588.2h0M125.9 620.2h0M116.6 613.5h0M123.0 613.2h0M115.7 609.3h0M126.6 620.9h0M137.9 617.8h0M113.4 612.6h0M130.9 621.7h0M122.7 614.4h0M114.8 609.5h0M115.8 611.2h0M121.0 608.8h0M151.5 604.0h0M118.7 615.5h0M128.3 621.4h0M128.8 621.7h0M128.1 621.5h0M128.5 620.9h0M127.9 620.2h0M129.1 621.9h0M118.2 613.4h0M96.8 586.3h0M115.2 614.0h0M125.2 620.1h0M113.9 613.9h0M128.0 621.3h0M111.2 611.4h0M143.7 613.6h0M118.8 613.0h0M118.3 614.3h0M112.7 593.4h0M106.6 594.4h0M153.9 605.5h0M117.9 610.1h0M98.5 594.0h0M128.2 621.6h0M143.7 613.8h0M122.9 618.8h0M110.8 606.1h0M125.4 620.5h0M111.0 612.1h0M128.1 621.3h0M106.9 595.1h0M88.2 590.8h0M134.1 619.9h0M127.3 620.6h0M139.6 615.5h0M103.5 599.8h0M137.0 617.6h0M115.0 606.6h0M122.2 613.1h0M122.5 617.9h0M124.0 619.5h0M129.5 622.1h0M110.6 597.6h0M118.5 610.9h0M108.4 592.0h0M133.2 620.5h0M135.8 618.5h0M125.0 615.8h0M111.8 605.6h0M106.5 588.0h0M114.4 598.6h0M124.9 619.9h0M111.1 608.1h0M133.8 620.2h0M127.8 621.1h0M134.3 619.5h0M127.1 621.2h0M127.8 620.6h0M132.0 621.2h0M112.8 611.8h0M118.1 613.8h0M121.8 618.4h0M138.8 616.5h0M136.8 618.5h0M121.3 617.9h0M114.3 605.9h0M116.2 603.1h0M128.9 621.9h0M126.3 620.2h0M120.0 617.3h0M126.3 620.8h0M123.1 614.5h0M91.7 587.0h0M130.5 621.9h0M114.6 613.8h0M122.2 610.6h0M113.6 611.9h0M137.1 617.6h0M127.7 620.9h0M114.0 613.2h0M123.5 619.3h0M86.4 588.3h0M126.0 619.5h0M101.7 594.0h0M141.6 615.1h0M131.8 621.1h0M112.9 612.8h0M115.5 606.4h0M128.0 620.8h0M121.1 614.7h0M125.3 620.3h0M106.3 607.9h0M104.1 590.4h0M120.9 608.5h0M128.0 620.8h0M118.1 608.7h0M123.6 619.1h0M132.7 620.6h0M129.4 622.1h0M148.7 608.0h0M126.2 620.3h0M116.7 602.6h0M137.3 618.0h0M159.4 598.7h0M118.4 606.0h0M140.6 614.7h0M124.6 618.0h0M114.0 611.0h0M127.6 620.8h0M92.6 595.4h0M143.8 612.2h0M119.7 616.3h0M145.6 612.4h0M100.3 586.6h0M128.5 621.5h0M111.0 586.3h0M135.4 619.3h0M128.3 621.7h0M117.5 614.9h0M95.1 596.9h0M96.0 589.7h0M117.7 615.3h0M110.6 602.9h0M120.2 617.1h0M123.7 613.8h0M103.4 605.5h0M124.6 619.5h0M123.3 617.7h0M121.0 618.0h0M128.5 621.3h0M124.5 619.2h0M123.8 619.6h0M119.3 617.4h0M102.0 605.2h0M127.7 620.9h0M108.5 593.0h0M129.7 622.3h0M109.0 609.6h0M119.4 608.1h0M104.7 591.7h0M119.9 614.9h0M125.0 620.2h0M128.3 621.7h0M112.0 592.4h0M106.9 599.9h0M113.6 613.7h0M109.0 608.3h0M143.3 613.4h0M124.4 618.7h0M107.7 593.8h0M124.4 617.7h0M121.4 614.3h0M121.9 617.6h0M128.1 621.1h0M123.9 619.3h0M137.2 618.1h0M90.8 584.6h0M151.4 607.0h0M132.5 620.7h0M109.8 584.8h0M114.2 614.4h0M128.7 621.6h0M133.9 619.9h0M123.5 618.3h0M117.4 611.2h0M120.2 615.9h0M124.8 617.9h0M115.7 605.8h0M117.7 614.6h0M107.0 583.5h0M117.4 607.3h0M123.6 614.8h0M129.2 621.9h0M113.3 607.0h0M119.7 614.0h0M122.9 619.2h0M104.2 605.2h0M108.8 599.4h0M123.6 619.4h0M121.0 616.0h0M108.8 610.4h0M117.1 609.5h0M135.2 619.5h0M126.9 620.4h0M109.9 609.4h0M146.6 611.1h0M118.4 613.3h0M138.5 616.5h0M130.5 621.9h0M150.0 608.9h0M111.8 592.3h0M116.4 610.2h0M116.0 610.1h0M133.5 620.0h0M112.0 590.9h0M117.8 604.5h0M116.0 608.6h0M128.9 621.8h0M95.5 595.0h0M143.5 613.0h0M149.8 606.2h0M128.3 621.7h0M119.3 616.3h0M128.5 621.6h0M128.4 621.8h0M142.5 614.0h0M143.4 612.7h0M118.5 614.5h0M139.7 615.4h0M100.6 601.9h0M100.5 585.8h0M115.5 600.1h0M135.0 619.2h0M135.3 619.3h0M109.9 604.9h0M109.2 611.0h0M125.6 620.1h0M126.5 620.1h0M104.8 606.7h0M135.9 619.1h0M116.7 609.6h0M133.1 620.5h0M115.8 606.3h0M146.5 610.6h0M129.4 622.2h0M112.8 612.5h0M119.6 613.6h0M117.2 611.7h0M110.7 589.9h0M109.3 593.0h0M157.4 600.2h0M119.7 613.3h0M126.9 620.5h0M105.3 601.9h0M121.7 618.6h0M141.1 614.3h0M107.9 607.3h0M106.8 604.2h0M118.5 616.9h0M118.1 616.0h0M157.7 600.1h0M123.8 618.3h0M122.4 616.9h0M114.4 605.6h0M124.3 618.7h0M115.1 601.5h0M110.3 600.3h0M120.0 610.5h0M110.5 611.3h0M116.6 606.1h0M127.9 620.8h0M120.8 616.3h0M113.7 606.7h0M123.7 615.4h0M97.1 596.4h0M110.7 611.5h0M114.2 612.8h0M129.2 622.1h0M124.0 618.3h0M126.3 618.1h0M129.5 622.2h0M132.3 620.9h0M138.3 617.3h0M129.9 622.2h0M129.0 621.7h0M104.4 600.3h0M121.3 616.7h0M121.1 609.1h0M114.4 608.2h0M107.6 606.5h0M139.1 616.9h0M118.6 613.6h0M107.7 601.1h0M113.9 613.7h0M116.9 615.8h0M110.5 607.9h0M110.1 602.5h0M142.5 613.6h0M128.6 621.7h0M118.1 616.2h0M114.2 595.4h0M128.0 621.4h0M97.9 596.4h0M121.9 618.4h0M123.6 616.5h0M127.0 619.9h0M111.3 600.0h0M109.8 606.5h0M128.2 621.0h0M136.2 618.6h0M142.0 615.0h0M117.9 607.7h0M141.8 615.2h0M107.5 587.4h0M128.4 621.8h0M109.9 610.5h0M123.4 613.5h0M115.9 614.2h0M124.9 616.0h0M109.3 585.1h0M149.4 608.9h0M116.8 615.1h0M124.1 618.8h0M136.2 618.2h0M123.6 617.3h0M124.6 618.8h0M142.4 613.5h0M116.9 610.6h0M136.2 618.8h0M129.3 622.1h0M129.0 622.0h0M121.0 615.9h0M135.5 618.9h0M116.6 605.9h0M152.3 607.0h0M127.9 621.5h0M146.2 609.8h0M126.3 620.3h0M125.0 620.0h0M124.7 618.9h0M106.8 600.6h0M138.0 617.2h0M115.1 605.6h0M126.6 620.0h0M138.1 617.7h0M138.5 616.6h0M123.5 617.6h0M123.9 614.8h0M142.2 614.6h0M157.6 596.0h0M123.8 618.5h0M109.2 610.1h0M117.8 616.3h0M131.1 621.5h0M147.8 610.8h0M143.9 611.9h0M140.7 614.9h0M125.6 618.8h0M107.6 599.2h0M118.4 611.4h0M128.9 621.9h0M148.9 608.8h0M129.2 621.8h0M119.5 606.0h0M117.7 608.4h0M108.8 608.1h0M139.2 617.2h0M126.5 619.7h0M126.5 619.0h0M146.8 608.5h0M143.0 613.9h0M126.2 620.3h0M127.6 620.1h0M129.8 622.2h0M114.7 597.5h0M117.5 611.3h0M108.8 607.1h0M123.7 618.1h0M137.0 617.5h0M113.4 601.7h0M119.5 607.2h0M133.0 620.5h0M108.3 605.2h0M124.7 618.8h0M113.6 611.3h0M109.3 607.5h0M118.5 614.4h0M127.9 621.0h0M112.7 608.5h0M127.4 620.8h0M116.2 613.6h0M80.9 600.2h0M111.7 602.8h0M118.1 612.8h0M108.7 585.8h0M123.3 618.8h0M135.8 618.7h0M132.5 620.7h0M144.4 612.0h0M124.9 618.5h0M121.3 617.0h0M133.8 620.2h0M137.2 618.2h0M106.4 604.5h0M113.6 613.5h0M126.0 619.9h0M168.7 587.1h0M119.6 613.5h0M111.5 611.8h0M110.2 611.3h0M124.5 615.5h0M116.7 613.9h0M117.5 608.1h0M125.8 617.3h0M127.3 621.1h0M109.7 584.7h0M99.1 595.3h0M104.3 601.7h0M124.4 618.3h0M139.6 615.4h0M114.2 605.9h0M116.9 612.6h0M115.5 600.3h0M145.6 609.8h0M125.5 619.3h0M123.2 618.4h0M116.8 614.8h0M129.6 622.3h0M133.0 620.5h0M113.8 613.5h0M126.4 620.8h0M117.9 608.4h0M167.3 588.3h0M103.2 591.1h0M137.4 617.3h0M114.1 613.1h0M120.6 608.9h0M126.4 619.0h0M102.8 595.5h0M92.5 595.8h0M119.0 613.0h0M113.5 604.8h0M123.5 619.5h0M126.6 619.8h0M126.9 620.6h0M122.9 618.3h0M123.4 618.8h0M130.6 621.8h0M146.1 610.7h0M125.8 620.5h0M117.3 607.1h0M118.6 607.3h0M125.9 620.4h0M166.3 593.1h0M112.4 612.1h0M149.3 605.8h0M124.6 619.8h0M116.5 611.1h0M127.5 621.0h0M130.0 622.2h0M148.0 610.0h0M112.1 585.0h0M105.6 600.9h0M138.6 616.5h0M124.4 616.9h0M115.4 611.2h0M141.3 614.4h0M133.1 620.6h0M134.0 620.0h0M150.8 607.9h0M109.7 591.8h0M126.0 618.9h0M126.7 620.8h0M122.4 613.5h0M113.8 614.1h0M121.2 612.7h0M127.6 621.2h0M127.6 620.9h0M99.5 587.6h0M119.8 607.4h0M121.3 612.6h0M109.5 610.1h0M119.2 605.9h0M120.8 615.9h0M118.4 616.6h0M133.9 620.0h0M119.8 615.5h0M135.3 619.1h0M136.2 618.6h0M114.0 609.3h0M114.0 590.4h0M117.7 615.3h0M118.2 605.3h0M126.6 619.3h0M128.8 621.9h0M145.4 610.9h0M126.5 619.8h0M113.1 604.2h0M127.8 621.2h0M102.2 605.3h0M119.8 612.7h0M109.5 609.3h0M146.4 609.5h0" stroke="#b5b5b5" stroke-width="1.24" stroke-linecap="square" fill="none" stroke-opacity="0.75"/>
<path d="M123.9 616.3h0M119.8 617.3h0M121.9 618.7h0M150.0 605.7h0M108.0 604.0h0M123.0 619.1h0M118.7 615.4h0M118.2 601.4h0M118.2 616.4h0M131.7 621.2h0M115.2 605.4h0M115.0 614.4h0M135.1 619.4h0M111.9 611.5h0M123.5 617.8h0M141.2 615.6h0M123.9 618.5h0M128.4 621.6h0M123.8 618.5h0M117.7 611.7h0M124.1 617.9h0M123.1 616.5h0M112.6 598.2h0M129.3 622.1h0M144.1 612.0h0M105.9 605.7h0M107.5 608.1h0M112.8 613.4h0M122.2 616.0h0M123.4 614.6h0M115.1 607.3h0M106.8 584.5h0M105.9 602.5h0M120.8 613.1h0M125.0 616.7h0M156.0 603.5h0M124.6 617.6h0M104.2 587.0h0M121.7 614.4h0M114.4 595.9h0M144.9 611.3h0M106.5 607.8h0M137.4 618.0h0M142.6 613.1h0M114.4 614.0h0M112.2 612.1h0M121.7 618.6h0M125.0 619.9h0M109.8 586.1h0M125.0 620.1h0M118.0 615.8h0M121.8 611.0h0M114.4 600.7h0M138.1 617.2h0M118.2 614.1h0M126.9 619.5h0M105.3 606.6h0M119.1 615.8h0M125.4 619.9h0M138.6 617.4h0M108.2 596.0h0M115.8 609.3h0M125.9 619.1h0M131.5 621.3h0M105.6 607.2h0M104.7 605.1h0M120.1 616.3h0M127.1 620.0h0M116.5 612.3h0M124.5 617.6h0M134.4 619.5h0M127.7 620.4h0M94.5 595.3h0M105.7 591.4h0M134.2 619.7h0M131.3 621.5h0M92.9 596.8h0M121.2 610.5h0M144.1 612.2h0M112.1 604.4h0M113.2 587.2h0M121.9 618.2h0M113.3 608.9h0M120.3 610.1h0M124.9 616.4h0M96.8 584.2h0M127.1 621.2h0M145.0 610.9h0M113.7 613.3h0M113.1 603.7h0M125.6 620.1h0M115.1 613.9h0M123.9 619.7h0M131.0 621.6h0M101.4 587.5h0M100.2 601.3h0M111.7 608.1h0M119.6 605.6h0M100.1 601.4h0M116.4 615.4h0M115.3 614.3h0M109.7 600.6h0M136.8 618.3h0M108.0 591.1h0M130.8 621.8h0M115.0 609.3h0M129.6 622.2h0M119.3 613.6h0M111.4 595.2h0M122.1 617.9h0M140.9 615.5h0M132.9 620.5h0M120.1 615.6h0M114.0 597.9h0M138.1 617.8h0M124.0 617.7h0M118.8 610.3h0M139.9 616.5h0M129.7 622.3h0M132.5 620.8h0M110.5 610.3h0M116.8 610.1h0M120.3 612.8h0M121.7 613.7h0M165.3 587.4h0M115.4 613.2h0M121.9 618.1h0M135.9 618.6h0M125.3 619.7h0M140.5 614.7h0M113.2 589.7h0M114.7 605.5h0M136.0 618.4h0M136.4 618.4h0M128.4 621.6h0M117.4 614.5h0M137.1 618.2h0M115.2 601.3h0M144.5 612.9h0M147.8 608.4h0M113.8 603.2h0M111.9 603.3h0M107.4 608.3h0M127.6 620.8h0M141.5 615.7h0M125.2 619.7h0M126.4 619.4h0M113.7 609.7h0M129.3 622.0h0M127.8 621.4h0M116.3 613.6h0M125.4 620.1h0M138.8 616.1h0M130.1 622.1h0M108.7 606.0h0M134.9 619.1h0M121.0 616.3h0M125.7 617.7h0M111.1 585.0h0M132.7 620.8h0M129.0 621.6h0M123.3 616.6h0M131.3 621.4h0M133.2 620.6h0M114.5 611.1h0M79.6 598.7h0M117.9 609.3h0M108.8 609.7h0M113.4 600.1h0M110.2 597.5h0M139.5 616.4h0M123.1 619.1h0M106.4 609.1h0M115.3 604.4h0M126.1 617.7h0M122.6 619.0h0M125.3 619.4h0M127.4 621.2h0M109.7 609.9h0M102.3 584.0h0M145.3 611.0h0M113.3 610.5h0M131.8 621.2h0M126.4 619.1h0M126.7 621.0h0M132.0 621.0h0M125.7 618.9h0M123.0 617.3h0M130.6 621.9h0M125.0 616.9h0M108.0 590.3h0M117.4 616.2h0M116.5 614.7h0M103.0 586.8h0M127.8 621.5h0M123.2 615.0h0M108.4 592.3h0M112.4 587.3h0M124.0 619.2h0M134.5 619.7h0M144.2 612.0h0M154.3 604.4h0M122.6 615.0h0M104.6 600.5h0M119.9 614.4h0M100.1 600.8h0M128.6 621.2h0M127.7 620.6h0M127.8 621.4h0M100.8 600.1h0M128.0 621.4h0M156.7 601.7h0M113.5 607.2h0M141.4 615.1h0M95.6 597.3h0M138.2 616.9h0M128.2 621.7h0M119.6 615.9h0M128.3 621.5h0M114.3 605.6h0M116.7 615.2h0M109.6 608.5h0M123.8 617.3h0M121.2 617.4h0M114.7 596.2h0M98.1 596.4h0M116.5 608.7h0M140.2 616.0h0M123.0 618.2h0M154.9 599.8h0M142.4 614.5h0M107.4 609.7h0M129.6 622.2h0M126.3 620.9h0M150.7 604.6h0M112.9 610.2h0M142.8 612.9h0M137.8 617.5h0M118.2 607.6h0M101.0 604.8h0M112.9 605.2h0M125.1 619.3h0M108.7 610.5h0M120.4 607.2h0M128.0 621.5h0M114.2 613.5h0M103.5 606.0h0M127.6 621.4h0M108.4 609.9h0M123.0 614.3h0M123.7 618.8h0M110.4 599.7h0M139.0 616.8h0M115.0 614.4h0M91.7 584.6h0M111.9 601.7h0M115.7 614.2h0M121.2 618.4h0M109.5 601.6h0M137.2 617.6h0M124.4 614.9h0M119.9 616.9h0M121.2 610.8h0M109.4 607.6h0M124.9 618.6h0M133.4 620.2h0M127.8 621.4h0M117.7 611.2h0M114.3 599.2h0M103.2 600.3h0M121.5 616.4h0M124.6 619.9h0M123.8 618.6h0M149.6 606.4h0M116.8 608.0h0M129.7 622.3h0M125.2 619.7h0M112.6 612.1h0M110.2 587.0h0M109.3 603.5h0M111.9 607.7h0M122.3 615.3h0M113.3 611.2h0M128.7 621.8h0M142.5 614.0h0M102.4 598.2h0M96.4 587.9h0M120.7 612.0h0M149.1 608.6h0M103.5 602.8h0M125.8 620.3h0M116.9 604.2h0M128.1 621.2h0M125.8 619.0h0M120.3 616.6h0M135.3 619.3h0M125.8 619.1h0M147.3 608.0h0M126.7 620.1h0M131.9 621.0h0M99.5 600.6h0M134.0 619.9h0M127.9 621.3h0M132.3 620.8h0M111.7 611.2h0M129.9 622.2h0M110.0 603.4h0M119.3 610.9h0M130.0 622.2h0M118.5 615.2h0M113.0 606.5h0M133.4 620.4h0M126.8 620.6h0M121.3 609.5h0M155.7 603.5h0M95.2 591.0h0M118.0 610.0h0M141.7 614.9h0M130.8 621.8h0M149.3 608.7h0M109.9 602.2h0M122.5 612.3h0M121.5 618.4h0M97.3 586.5h0M142.8 614.1h0M113.5 602.1h0M138.4 616.9h0M110.1 605.3h0M123.5 618.7h0M123.2 616.3h0M107.6 596.6h0M134.3 619.9h0M126.0 620.7h0M119.7 617.0h0M113.0 610.4h0M140.3 615.4h0M120.4 617.5h0M108.1 601.5h0M115.9 598.5h0M122.1 617.9h0M120.4 610.8h0M127.3 621.0h0M125.6 620.5h0M132.9 620.6h0M136.9 617.7h0M128.2 621.4h0M124.8 618.5h0M148.8 609.5h0M128.9 621.7h0M119.9 615.4h0M103.3 602.6h0M140.1 616.4h0M89.3 593.1h0M108.8 600.2h0M102.3 584.1h0M124.7 619.8h0M99.8 593.5h0M157.2 601.5h0M146.5 611.7h0M124.8 618.3h0M116.5 613.5h0M132.9 620.6h0M123.2 619.3h0M102.3 599.3h0M126.0 619.3h0M122.5 619.0h0M112.0 607.6h0M119.6 615.8h0M117.4 610.1h0M123.3 618.8h0M116.6 614.6h0M135.4 619.0h0M136.9 618.3h0M125.3 617.7h0M107.8 610.0h0M113.8 605.2h0M122.9 614.8h0M111.0 588.8h0M148.2 607.9h0M110.7 607.2h0M124.7 619.4h0M117.0 613.4h0M121.6 611.8h0M134.7 619.6h0M122.5 618.5h0M93.0 591.4h0M128.2 621.5h0M113.0 610.1h0M110.2 603.6h0M123.3 618.0h0M125.1 618.1h0M131.2 621.5h0M127.1 620.5h0M147.9 607.7h0M126.2 619.4h0M112.5 613.3h0M130.0 622.2h0M122.6 613.2h0M111.4 609.3h0M127.7 621.0h0M104.2 596.3h0M133.3 620.4h0M113.1 598.5h0M112.9 608.0h0M137.0 618.3h0M100.3 586.5h0M129.2 622.1h0M112.2 612.7h0M110.5 583.8h0M143.5 613.6h0M114.4 612.3h0M124.2 619.7h0M100.4 592.9h0M125.9 619.7h0M117.8 602.6h0M128.8 621.8h0M114.1 605.7h0M127.0 621.0h0M116.2 613.7h0M121.9 614.2h0M119.2 615.4h0M122.9 617.7h0M105.3 594.8h0M128.6 621.4h0M110.3 584.5h0M111.7 592.6h0M137.3 617.7h0M123.9 618.0h0M126.6 619.1h0M127.8 621.2h0M137.0 618.4h0M118.0 616.3h0M121.2 614.6h0M135.1 619.3h0M126.1 620.1h0M120.9 616.9h0M130.6 621.9h0M115.4 601.5h0M129.4 622.1h0M140.9 615.8h0M130.6 621.9h0M124.4 619.8h0M146.2 611.4h0M108.0 597.5h0M109.0 607.2h0M152.5 603.4h0M113.3 590.0h0M114.8 610.5h0M120.4 612.2h0M136.3 618.7h0M142.5 614.3h0M120.1 616.3h0M134.3 619.6h0M124.6 619.8h0M140.1 616.3h0M116.2 614.7h0M139.7 615.4h0M122.1 616.5h0M116.4 605.1h0M126.2 620.4h0M116.7 601.3h0M118.8 607.3h0M109.6 605.4h0M116.5 598.0h0M113.0 608.2h0M118.6 615.9h0M140.2 616.1h0M143.2 613.5h0M131.1 621.6h0M117.3 607.6h0M117.5 616.3h0M136.5 618.6h0M96.9 594.0h0M133.1 620.5h0M139.0 617.3h0M141.0 614.2h0M123.9 617.1h0M142.7 614.7h0M153.8 603.0h0M120.2 606.8h0M145.0 611.8h0M125.2 618.5h0M99.9 593.6h0M149.3 609.4h0M117.2 613.8h0M112.5 612.8h0M128.5 621.2h0M99.8 587.1h0M137.9 617.5h0M118.1 614.8h0M126.0 620.3h0M99.6 590.0h0M109.9 604.6h0M138.0 617.4h0M128.2 621.4h0M136.8 617.8h0M110.1 604.8h0M111.6 596.6h0M129.7 622.3h0M114.3 611.3h0M117.8 611.5h0M123.9 619.8h0M118.0 613.8h0M135.5 619.3h0M124.2 615.9h0M117.3 611.2h0M115.7 614.3h0M125.9 619.5h0M110.3 594.3h0M106.0 607.3h0M110.2 591.5h0M120.4 616.5h0M127.9 620.5h0M135.9 618.8h0M128.8 621.6h0M116.1 615.1h0M122.8 616.6h0M86.8 584.0h0M134.9 619.0h0M135.8 618.8h0M95.5 595.9h0M115.8 605.3h0M124.7 617.3h0M119.1 616.0h0M108.1 603.6h0M129.5 622.2h0M132.7 620.8h0M103.0 593.9h0M129.1 622.0h0M103.9 585.3h0M127.1 621.0h0M115.7 595.6h0M139.1 615.8h0M109.7 607.7h0M109.9 591.0h0M128.4 621.6h0M130.1 622.1h0M128.5 621.7h0M161.5 586.5h0M120.3 617.3h0M111.2 610.9h0M126.9 620.9h0M118.6 605.9h0M123.3 617.6h0M114.9 608.7h0M116.7 603.6h0M121.7 618.6h0M129.0 622.0h0M135.5 618.7h0M134.4 619.9h0M137.6 617.8h0M100.2 596.4h0M100.0 602.9h0M138.1 617.2h0M136.5 617.9h0M143.7 614.0h0M102.6 606.2h0M114.4 606.8h0M130.0 622.1h0M128.4 621.6h0M131.3 621.4h0M135.9 618.4h0M123.7 616.8h0M114.5 613.1h0M117.5 614.7h0M125.8 620.2h0M126.2 620.2h0M136.7 618.5h0M103.6 593.6h0M121.8 614.6h0M122.5 615.4h0M127.8 620.3h0M114.9 614.2h0M134.7 619.2h0M123.0 612.5h0M148.4 610.0h0M132.0 621.0h0M135.6 619.2h0M125.4 618.0h0M119.6 613.9h0M113.6 611.2h0M101.8 603.8h0M130.9 621.7h0M139.3 616.4h0M109.1 600.2h0M126.9 620.9h0M121.6 611.2h0M144.7 612.5h0M126.1 618.3h0M113.0 611.1h0M120.2 614.1h0M139.7 616.4h0M105.0 596.2h0M99.5 601.9h0M126.4 619.6h0M112.7 591.0h0M126.4 619.0h0M125.7 619.3h0M113.4 598.1h0M142.0 614.9h0M146.6 610.9h0M112.6 597.9h0M117.6 599.9h0M130.2 622.1h0M126.8 621.0h0M137.9 617.6h0M155.0 600.7h0M116.1 601.1h0M117.3 616.0h0M125.9 620.1h0M120.5 615.0h0M124.9 618.6h0M146.8 609.8h0M117.8 614.9h0M124.0 618.7h0M124.4 619.4h0M114.5 606.4h0M99.5 602.7h0M117.6 607.7h0M127.7 619.9h0M99.0 590.3h0M129.6 622.2h0M111.3 591.1h0M133.1 620.6h0M128.8 621.8h0M123.2 617.2h0M118.0 612.5h0M108.0 599.5h0M129.6 622.2h0M112.5 588.4h0M124.4 620.0h0M122.8 612.0h0M129.4 622.1h0M158.0 596.6h0M114.9 611.8h0M131.9 621.2h0M120.7 615.8h0M111.0 607.8h0M136.6 618.3h0M106.0 603.0h0M140.1 615.6h0M141.5 615.6h0M125.9 619.2h0M134.1 620.1h0M137.1 617.6h0M135.9 619.0h0M134.2 619.8h0M107.5 609.6h0M134.5 619.7h0M130.0 622.1h0M104.4 599.5h0M121.8 618.2h0M124.2 618.0h0M144.8 612.2h0M126.6 621.0h0M168.1 591.1h0M112.8 612.5h0M105.9 603.8h0M98.8 600.7h0M105.7 605.2h0M105.4 600.7h0M134.3 619.9h0M127.7 621.4h0M109.0 606.2h0M124.5 619.4h0M129.1 621.8h0M110.5 598.0h0M140.4 615.6h0M119.2 616.7h0M112.8 601.5h0M127.6 621.2h0M124.5 619.7h0M128.6 621.3h0M110.2 608.3h0M127.4 620.3h0M129.0 621.7h0M125.5 620.0h0M122.3 618.1h0M129.6 622.3h0M104.9 588.7h0M125.2 619.9h0M116.1 612.8h0M101.3 597.1h0M148.7 608.0h0M127.4 621.0h0M118.6 612.7h0M98.6 601.0h0M115.5 594.1h0M121.1 615.7h0M123.4 615.9h0M124.2 619.6h0M119.2 611.2h0M118.9 616.5h0M118.8 606.7h0M124.0 619.5h0M113.8 604.2h0M114.7 610.9h0M111.4 597.3h0M123.8 617.9h0M101.4 597.9h0M110.7 599.5h0M155.0 604.4h0M108.6 610.0h0M129.2 622.0h0M112.8 590.4h0M110.1 592.7h0M112.6 610.7h0M111.7 612.5h0M129.1 621.8h0M123.8 613.6h0M140.1 615.8h0M132.5 620.7h0M134.3 619.9h0M128.1 621.5h0M121.9 617.5h0M136.1 618.2h0M105.4 595.6h0M121.1 616.1h0M115.2 605.0h0M132.6 620.8h0M117.0 614.0h0M127.8 621.4h0M115.5 606.3h0M109.3 609.5h0M116.8 613.0h0M119.5 613.0h0M151.9 604.8h0M111.8 607.9h0M122.8 618.8h0M120.5 613.3h0M123.8 617.3h0M88.3 607.2h0M129.2 621.9h0M104.5 588.5h0M138.9 616.3h0M117.3 610.0h0M124.8 620.1h0M102.6 603.9h0M128.4 621.6h0M138.9 616.7h0M116.9 609.1h0M124.8 618.4h0M103.2 598.9h0M133.5 620.3h0M118.6 610.4h0M150.6 606.7h0M89.8 583.4h0M106.0 597.7h0M99.4 601.9h0M115.7 599.7h0M128.8 621.6h0M112.5 601.6h0M114.5 597.8h0M114.9 612.1h0M120.6 614.8h0M141.8 613.6h0M134.3 619.6h0M111.9 601.5h0M126.3 619.1h0M104.1 597.1h0M122.3 616.7h0M94.8 592.8h0M121.7 613.8h0M123.4 618.0h0M121.5 612.0h0M127.6 620.9h0M124.1 619.6h0M125.2 618.7h0M102.2 586.6h0M135.7 619.2h0M126.0 620.1h0M128.0 621.6h0M118.9 616.7h0M127.3 620.4h0M140.6 614.6h0M124.2 617.3h0M130.4 622.0h0M128.9 621.4h0M124.7 617.0h0M109.4 601.0h0M127.6 621.1h0M127.2 619.9h0M154.7 601.0h0M129.6 622.2h0M127.5 619.8h0M114.0 613.6h0M127.0 621.1h0M91.0 589.7h0M141.2 615.2h0M117.4 614.5h0M119.5 606.5h0M111.6 610.9h0M142.5 613.7h0M129.1 621.7h0M121.2 609.3h0M116.0 609.6h0M108.2 608.5h0M125.9 620.2h0M125.0 619.4h0M113.9 613.4h0M133.4 620.4h0M128.7 621.7h0M105.2 597.6h0M118.6 613.2h0M105.8 588.5h0M125.7 620.3h0M127.0 619.5h0M102.7 595.8h0M117.9 616.3h0M123.3 616.4h0M136.5 617.9h0M106.5 595.9h0M132.4 620.7h0M111.4 586.8h0M120.5 609.6h0M108.8 599.8h0M112.2 595.8h0M111.4 608.8h0M111.6 593.0h0M130.9 621.7h0M126.9 620.9h0M116.1 609.3h0M115.5 595.1h0M131.0 621.6h0M120.1 607.3h0M128.6 621.6h0M128.3 621.7h0M108.8 606.4h0M125.0 619.5h0M127.5 621.3h0M104.6 607.3h0M128.0 620.7h0M111.3 604.7h0M94.5 583.6h0M126.2 620.8h0M127.3 619.7h0M128.6 621.4h0M110.7 584.6h0M132.9 620.5h0M127.9 620.9h0M118.8 615.0h0M113.7 612.5h0M112.0 604.5h0M140.4 616.1h0M121.8 615.3h0M128.4 621.2h0M103.3 605.8h0M99.4 600.2h0M103.8 603.3h0M126.2 620.8h0M113.0 603.6h0M122.4 617.4h0M131.0 621.6h0M137.0 618.1h0M136.4 618.8h0M125.6 617.1h0M120.0 615.8h0M97.7 588.4h0M118.3 604.6h0M113.8 606.6h0M117.0 612.8h0M142.1 613.3h0M109.5 605.0h0M130.2 622.0h0M115.3 615.0h0M114.3 609.3h0M146.5 609.4h0M143.8 613.1h0M127.7 621.5h0M139.9 616.1h0M119.7 616.9h0M132.1 620.9h0M122.7 617.4h0M123.9 619.2h0M131.5 621.3h0M112.0 611.7h0M147.5 608.2h0M141.0 615.6h0M137.2 617.4h0M103.4 603.0h0M123.9 618.7h0M111.0 609.4h0M116.9 612.8h0M102.1 602.4h0M119.7 617.0h0M126.1 619.8h0M137.6 617.7h0M141.1 615.5h0M119.2 613.0h0M112.4 602.2h0M116.2 606.3h0M135.0 619.3h0M142.4 613.3h0M121.8 609.9h0M121.2 615.6h0M116.7 614.4h0M125.4 619.5h0M121.3 618.1h0M112.9 609.9h0M120.5 616.9h0M129.9 622.2h0M117.5 615.5h0M128.1 621.0h0M120.3 616.8h0M128.8 621.9h0M119.5 610.4h0M126.1 620.7h0M124.2 618.1h0M127.0 619.3h0M142.6 612.7h0M148.8 609.8h0M122.8 617.2h0M124.5 619.2h0M132.3 620.9h0M150.5 608.6h0M121.2 617.2h0M123.1 615.0h0M141.1 615.5h0M110.5 604.1h0M118.9 612.5h0M101.5 596.5h0M115.8 613.7h0M121.9 617.4h0M156.5 602.6h0" stroke="#b5b5b5" stroke-width="1.24" stroke-linecap="square" fill="none" stroke-opacity="0.75"/>
<path d="M50.5 463.0h0M60.5 458.2h0M107.6 465.8h0M45.9 485.9h0M58.9 507.2h0M75.9 520.0h0M71.4 524.3h0M64.9 523.3h0M83.2 539.8h0M93.0 545.0h0M72.5 546.2h0M74.1 546.2h0M78.5 546.2h0M73.9 551.7h0M88.9 551.7h0M106.6 551.7h0M86.9 559.0h0M93.0 556.5h0M75.5 562.6h0M77.3 562.6h0M78.3 562.6h0M81.8 562.6h0M82.6 562.6h0M85.0 562.6h0M86.7 562.6h0M88.1 562.6h0M89.7 562.6h0M107.6 562.9h0M107.6 567.8h0M80.0 569.6h0M83.0 569.6h0M90.5 570.8h0M94.8 569.6h0M99.7 570.8h0M99.7 572.4h0M83.0 573.6h0M85.6 575.1h0M85.6 576.9h0M87.1 577.8h0M88.5 578.8h0M93.2 573.3h0M93.6 578.8h0M94.0 580.6h0M96.6 576.0h0M97.8 576.9h0M99.2 576.9h0M100.1 578.1h0M101.1 579.1h0M80.0 580.6h0M81.8 581.5h0M83.6 581.8h0M102.7 582.4h0M103.9 581.5h0M106.6 580.9h0M108.2 580.3h0M92.1 580.6h0M93.2 581.8h0M76.9 578.1h0M89.1 575.1h0" stroke="#2a52f5" stroke-width="1.5" stroke-linecap="round" fill="none" opacity="1.0"/>
<path d="M166.4 525.2h0M165.0 576.0h0M171.5 577.8h0" stroke="#ff3b22" stroke-width="1.5" stroke-linecap="round" fill="none" opacity="1.0"/>
<line x1="110.5" y1="570.2" x2="97" y2="575.9" stroke="#2a52f5" stroke-width="0.55"/>
<line x1="94.8" y1="569.3" x2="87.8" y2="582.9" stroke="#2a52f5" stroke-width="0.55"/>
<line x1="110.5" y1="580.5" x2="102.7" y2="582.5" stroke="#2a52f5" stroke-width="0.55"/>
<line x1="94.8" y1="543.5" x2="92.6" y2="545.3" stroke="#2a52f5" stroke-width="0.55"/>
<line x1="66.5" y1="522.6" x2="63.8" y2="525.2" stroke="#2a52f5" stroke-width="0.55"/>
<line x1="109.4" y1="450.2" x2="109.4" y2="629.9" stroke="#333" stroke-width="0.75" stroke-dasharray="2 1.9"/>
<line x1="150" y1="450.2" x2="150" y2="629.9" stroke="#333" stroke-width="0.75" stroke-dasharray="2 1.9"/>
<line x1="18" y1="582.3" x2="242" y2="582.3" stroke="#333" stroke-width="0.75" stroke-dasharray="2 1.9"/>
<text x="28.2" y="636.6" font-size="7.3" text-anchor="middle" fill="#4d4d4d" stroke="#4d4d4d" stroke-width="0.12">&#8722;5</text>
<text x="48.5" y="636.6" font-size="7.3" text-anchor="middle" fill="#4d4d4d" stroke="#4d4d4d" stroke-width="0.12">&#8722;4</text>
<text x="68.8" y="636.6" font-size="7.3" text-anchor="middle" fill="#4d4d4d" stroke="#4d4d4d" stroke-width="0.12">&#8722;3</text>
<text x="89.1" y="636.6" font-size="7.3" text-anchor="middle" fill="#4d4d4d" stroke="#4d4d4d" stroke-width="0.12">&#8722;2</text>
<text x="109.4" y="636.6" font-size="7.3" text-anchor="middle" fill="#4d4d4d" stroke="#4d4d4d" stroke-width="0.12">&#8722;1</text>
<text x="129.7" y="636.6" font-size="7.3" text-anchor="middle" fill="#4d4d4d" stroke="#4d4d4d" stroke-width="0.12">0</text>
<text x="150" y="636.6" font-size="7.3" text-anchor="middle" fill="#4d4d4d" stroke="#4d4d4d" stroke-width="0.12">1</text>
<text x="170.3" y="636.6" font-size="7.3" text-anchor="middle" fill="#4d4d4d" stroke="#4d4d4d" stroke-width="0.12">2</text>
<text x="190.6" y="636.6" font-size="7.3" text-anchor="middle" fill="#4d4d4d" stroke="#4d4d4d" stroke-width="0.12">3</text>
<text x="210.9" y="636.6" font-size="7.3" text-anchor="middle" fill="#4d4d4d" stroke="#4d4d4d" stroke-width="0.12">4</text>
<text x="231.2" y="636.6" font-size="7.3" text-anchor="middle" fill="#4d4d4d" stroke="#4d4d4d" stroke-width="0.12">5</text>
<text x="16.6" y="624.9" font-size="7.3" text-anchor="end" fill="#4d4d4d" stroke="#4d4d4d" stroke-width="0.12">0</text>
<text x="16.6" y="564" font-size="7.3" text-anchor="end" fill="#4d4d4d" stroke="#4d4d4d" stroke-width="0.12">2</text>
<text x="16.6" y="503.1" font-size="7.3" text-anchor="end" fill="#4d4d4d" stroke="#4d4d4d" stroke-width="0.12">4</text>
<text x="22.6" y="531.9" font-size="7.35" fill="#2a52f5" stroke="#2a52f5" stroke-width="0.12">alpha&#160; ketoglutarate&#160; dehydrogenase</text>
<text x="91.3" y="542.1" font-size="7.35" fill="#2a52f5" stroke="#2a52f5" stroke-width="0.12">glycerol&#160; 3&#160; phosphate&#160; dehydrogenase</text>
<text x="113.2" y="568.7" font-size="7.35" fill="#2a52f5" stroke="#2a52f5" stroke-width="0.12">fructose&#160; bisphosphatase</text>
<text x="113.2" y="581.5" font-size="7.35" fill="#2a52f5" stroke="#2a52f5" stroke-width="0.12">isocitrate&#160; lyase</text>
<text x="18.2" y="594.2" font-size="7.35" fill="#2a52f5" stroke="#2a52f5" stroke-width="0.12">glyceraldehyde&#160; 3&#160; phosphate</text>
<text x="18.2" y="602.4" font-size="7.35" fill="#2a52f5" stroke="#2a52f5" stroke-width="0.12">dehydrogenase</text>
<circle cx="249.7" cy="533.5" r="0.75" fill="#2a52f5"/>
<circle cx="249.7" cy="546" r="0.75" fill="#ff3b22"/>
<text x="254.6" y="536.5" font-size="8.4" stroke="#000" stroke-width="0.12">Down in clay</text>
<text x="254.6" y="548.8" font-size="8.4" stroke="#000" stroke-width="0.12">Up in clay</text>
<text x="146.4" y="648.2" font-size="8.42" text-anchor="middle" stroke="#000" stroke-width="0.12">log<tspan font-size="55%" dy="2.2">2</tspan><tspan dy="-2.2"> fold change (clay vs phytagel plate at day 7)</tspan></text>
<text x="7.2" y="532.8" font-size="8.3" text-anchor="middle" stroke="#000" stroke-width="0.12" transform="rotate(-90 7.2 532.8)">&#8722;log<tspan font-size="70%" dy="1.5">10</tspan><tspan dy="-1.5"> adjusted P&#160; value</tspan></text>
<text x="305.5" y="454.6" font-size="10.9" font-weight="bold" stroke="#000" stroke-width="0.12">K</text>
<line x1="337.35" y1="450.6" x2="337.35" y2="629.9" stroke="#e4e4e4" stroke-width="0.65"/>
<line x1="347.48" y1="450.6" x2="347.48" y2="629.9" stroke="#eeeeee" stroke-width="0.45"/>
<line x1="357.6" y1="450.6" x2="357.6" y2="629.9" stroke="#e4e4e4" stroke-width="0.65"/>
<line x1="367.73" y1="450.6" x2="367.73" y2="629.9" stroke="#eeeeee" stroke-width="0.45"/>
<line x1="377.85" y1="450.6" x2="377.85" y2="629.9" stroke="#e4e4e4" stroke-width="0.65"/>
<line x1="387.98" y1="450.6" x2="387.98" y2="629.9" stroke="#eeeeee" stroke-width="0.45"/>
<line x1="398.1" y1="450.6" x2="398.1" y2="629.9" stroke="#e4e4e4" stroke-width="0.65"/>
<line x1="408.23" y1="450.6" x2="408.23" y2="629.9" stroke="#eeeeee" stroke-width="0.45"/>
<line x1="418.35" y1="450.6" x2="418.35" y2="629.9" stroke="#e4e4e4" stroke-width="0.65"/>
<line x1="428.48" y1="450.6" x2="428.48" y2="629.9" stroke="#eeeeee" stroke-width="0.45"/>
<line x1="438.6" y1="450.6" x2="438.6" y2="629.9" stroke="#e4e4e4" stroke-width="0.65"/>
<line x1="448.73" y1="450.6" x2="448.73" y2="629.9" stroke="#eeeeee" stroke-width="0.45"/>
<line x1="458.85" y1="450.6" x2="458.85" y2="629.9" stroke="#e4e4e4" stroke-width="0.65"/>
<line x1="468.98" y1="450.6" x2="468.98" y2="629.9" stroke="#eeeeee" stroke-width="0.45"/>
<line x1="479.1" y1="450.6" x2="479.1" y2="629.9" stroke="#e4e4e4" stroke-width="0.65"/>
<line x1="489.23" y1="450.6" x2="489.23" y2="629.9" stroke="#eeeeee" stroke-width="0.45"/>
<line x1="499.35" y1="450.6" x2="499.35" y2="629.9" stroke="#e4e4e4" stroke-width="0.65"/>
<line x1="509.48" y1="450.6" x2="509.48" y2="629.9" stroke="#eeeeee" stroke-width="0.45"/>
<line x1="519.6" y1="450.6" x2="519.6" y2="629.9" stroke="#e4e4e4" stroke-width="0.65"/>
<line x1="529.73" y1="450.6" x2="529.73" y2="629.9" stroke="#eeeeee" stroke-width="0.45"/>
<line x1="539.85" y1="450.6" x2="539.85" y2="629.9" stroke="#e4e4e4" stroke-width="0.65"/>
<line x1="326.9" y1="621.7" x2="550.3" y2="621.7" stroke="#e4e4e4" stroke-width="0.65"/>
<line x1="326.9" y1="605.68" x2="550.3" y2="605.68" stroke="#eeeeee" stroke-width="0.45"/>
<line x1="326.9" y1="589.65" x2="550.3" y2="589.65" stroke="#e4e4e4" stroke-width="0.65"/>
<line x1="326.9" y1="573.62" x2="550.3" y2="573.62" stroke="#eeeeee" stroke-width="0.45"/>
<line x1="326.9" y1="557.6" x2="550.3" y2="557.6" stroke="#e4e4e4" stroke-width="0.65"/>
<line x1="326.9" y1="541.58" x2="550.3" y2="541.58" stroke="#eeeeee" stroke-width="0.45"/>
<line x1="326.9" y1="525.55" x2="550.3" y2="525.55" stroke="#e4e4e4" stroke-width="0.65"/>
<line x1="326.9" y1="509.53" x2="550.3" y2="509.53" stroke="#eeeeee" stroke-width="0.45"/>
<line x1="326.9" y1="493.5" x2="550.3" y2="493.5" stroke="#e4e4e4" stroke-width="0.65"/>
<line x1="326.9" y1="477.48" x2="550.3" y2="477.48" stroke="#eeeeee" stroke-width="0.45"/>
<line x1="326.9" y1="461.45" x2="550.3" y2="461.45" stroke="#e4e4e4" stroke-width="0.65"/>
<path d="M415.0 604.2h0M440.2 620.1h0M447.2 617.2h0M465.3 591.0h0M458.9 587.4h0M433.2 618.5h0M436.8 620.9h0M463.6 605.3h0M424.1 612.6h0M431.6 618.3h0M419.5 606.8h0M468.6 586.6h0M436.3 620.5h0M459.3 596.9h0M434.4 619.7h0M459.1 609.2h0M450.7 614.4h0M434.0 619.0h0M439.3 621.1h0M429.0 616.6h0M442.0 619.4h0M415.8 603.0h0M451.4 614.9h0M465.3 583.8h0M435.0 619.7h0M455.8 611.6h0M438.4 621.6h0M444.4 617.0h0M419.4 606.7h0M447.7 615.6h0M440.8 620.7h0M454.0 585.6h0M438.2 621.5h0M440.5 620.3h0M451.4 615.1h0M443.8 618.1h0M392.2 596.1h0M447.0 613.9h0M441.7 619.8h0M442.5 620.0h0M419.1 610.3h0M417.6 608.0h0M433.7 619.3h0M395.5 592.9h0M461.4 607.9h0M442.7 619.2h0M489.8 592.0h0M438.1 621.5h0M458.8 606.3h0M446.4 617.0h0M432.5 618.0h0M444.4 612.7h0M446.1 617.9h0M465.1 601.7h0M465.7 591.0h0M448.4 607.2h0M458.7 600.1h0M453.0 591.2h0M456.3 591.3h0M439.7 620.4h0M425.0 612.0h0M434.9 619.9h0M439.9 620.8h0M455.3 596.6h0M468.3 601.3h0M460.7 608.1h0M442.2 618.3h0M443.0 619.4h0M458.1 602.6h0M439.0 621.3h0M422.5 612.1h0M460.3 607.7h0M452.5 608.9h0M419.3 608.9h0M461.5 605.1h0M441.5 620.1h0M444.2 616.8h0M455.2 606.3h0M443.3 618.3h0M456.1 604.8h0M440.2 620.6h0M439.2 621.4h0M447.1 615.3h0M463.6 582.6h0M440.4 620.7h0M428.0 616.0h0M454.5 610.2h0M450.7 609.7h0M462.6 603.5h0M442.6 619.8h0M434.3 619.7h0M443.8 619.1h0M441.8 620.3h0M439.1 621.3h0M442.1 619.9h0M449.1 609.7h0M430.6 617.0h0M449.4 612.3h0M427.0 615.4h0M436.3 620.4h0M447.2 609.8h0M466.9 591.6h0M440.8 619.8h0M416.2 605.5h0M436.1 620.4h0M462.4 588.8h0M448.8 610.7h0M438.1 621.5h0M438.4 621.6h0M455.5 608.0h0M408.7 597.8h0M458.5 603.1h0M441.0 619.2h0M465.8 600.7h0M444.5 617.3h0M465.3 588.2h0M467.8 594.6h0M423.1 610.4h0M417.7 608.1h0M449.3 616.4h0M443.8 618.2h0M428.5 616.3h0M438.9 621.4h0M459.7 606.3h0M426.6 613.9h0M458.0 606.3h0M442.1 617.5h0M440.2 620.1h0M440.1 620.5h0M446.8 614.4h0M444.8 617.4h0M441.7 617.9h0M411.3 603.5h0M447.9 614.7h0M432.5 618.7h0M453.2 613.8h0M452.1 612.7h0M444.0 614.4h0M454.5 612.4h0M450.1 614.8h0M458.7 608.4h0M425.9 613.1h0M450.9 611.4h0M456.4 610.9h0M446.5 617.4h0M455.9 610.9h0M456.8 602.1h0M429.7 616.0h0M452.0 612.8h0M456.5 610.7h0M464.1 588.8h0M412.8 603.5h0M446.5 610.6h0M448.0 604.6h0M460.7 588.4h0M449.3 605.6h0M438.7 621.6h0M458.0 610.8h0M457.2 582.7h0M440.6 620.8h0M429.1 615.5h0M413.2 602.5h0M420.7 610.0h0M445.6 615.3h0M462.9 598.5h0M442.8 618.9h0M452.7 610.1h0M439.8 620.9h0M439.5 620.8h0M427.5 615.6h0M468.7 596.9h0M444.7 617.1h0M428.1 615.4h0M465.1 590.7h0M444.5 617.9h0M453.8 610.7h0M426.1 614.9h0M461.6 593.6h0M409.1 601.4h0M453.0 611.6h0M446.5 616.1h0M450.9 610.0h0M467.2 592.0h0M455.6 607.1h0M417.3 604.3h0M447.9 614.5h0M451.5 606.7h0M425.5 614.7h0M436.5 620.7h0M434.3 619.2h0M443.4 618.0h0M445.7 617.9h0M466.4 587.5h0M441.3 620.4h0M431.5 618.1h0M445.3 617.4h0M444.1 618.1h0M453.8 612.1h0M432.2 618.1h0M430.4 617.2h0M439.3 621.4h0M450.3 606.1h0M443.9 615.3h0M455.5 608.0h0M443.6 615.7h0M447.2 616.5h0M419.6 607.5h0M428.4 615.4h0M465.0 594.1h0M438.9 621.5h0M441.0 620.4h0M391.1 590.9h0M429.9 616.7h0M468.2 599.9h0M419.7 607.3h0M462.2 598.3h0M454.7 600.9h0M437.7 621.3h0M442.2 617.7h0M452.8 614.4h0M442.9 618.9h0M443.8 619.0h0M428.6 616.2h0M457.0 609.5h0M423.7 611.1h0M455.3 597.8h0M461.6 597.6h0M433.1 618.5h0M429.6 617.0h0M442.1 619.9h0M447.2 612.0h0M430.1 617.4h0M445.4 615.0h0M440.9 619.8h0M444.7 614.7h0M439.1 621.4h0M433.8 619.1h0M429.8 616.5h0M450.8 597.3h0M416.2 604.7h0M416.7 607.6h0M450.7 615.2h0M431.1 617.9h0M466.4 599.9h0M415.9 606.2h0M445.4 618.4h0M449.9 614.1h0M445.2 618.6h0M464.7 598.0h0M445.1 618.1h0M455.7 611.9h0M457.1 611.1h0M456.9 588.7h0M435.7 620.3h0M453.3 607.4h0M447.7 611.8h0M440.6 620.6h0M432.1 618.0h0M448.9 615.5h0M431.6 617.4h0M454.7 604.3h0M436.4 620.5h0M442.3 616.4h0M464.6 588.8h0M465.1 603.4h0M420.8 610.7h0M457.6 603.3h0M449.9 614.1h0M452.7 600.6h0M450.2 615.8h0M442.0 617.9h0M462.3 607.0h0M427.5 615.0h0M454.1 609.1h0M405.8 594.2h0M451.6 611.0h0M448.0 612.9h0M443.3 619.2h0M425.2 614.4h0M462.1 597.6h0M422.8 612.6h0M411.8 602.8h0M439.8 620.5h0M444.5 618.5h0M441.8 620.1h0M455.4 608.9h0M452.7 612.5h0M430.5 617.4h0M437.7 621.2h0M424.2 613.2h0M468.9 599.6h0M490.5 591.2h0M433.4 618.7h0M441.0 618.8h0M470.1 600.0h0M440.6 620.8h0M404.7 596.7h0M446.6 616.6h0M459.0 604.3h0M437.3 621.0h0M439.8 620.8h0M438.2 621.5h0M425.3 614.0h0M438.2 621.5h0M431.7 618.0h0M455.1 600.8h0M449.9 600.2h0M444.8 616.5h0M446.5 617.9h0M422.1 610.5h0M445.4 616.8h0M425.6 613.0h0M433.4 618.9h0M462.2 604.2h0M439.2 621.3h0M458.1 593.9h0M471.5 594.8h0M443.0 619.0h0M434.0 619.2h0M452.8 595.9h0M440.4 620.9h0M430.9 617.4h0M437.5 621.1h0M451.5 612.8h0M459.5 605.4h0M452.0 611.2h0M439.9 619.9h0M446.7 616.4h0M445.9 617.5h0M446.5 607.6h0M443.7 617.9h0M421.7 611.3h0M444.3 617.6h0M428.3 615.8h0M445.1 613.9h0M450.6 614.2h0M458.2 602.1h0M439.1 621.5h0M451.6 614.7h0M441.4 619.8h0M461.1 605.5h0M436.1 620.4h0M461.8 603.1h0M433.1 618.6h0M457.4 606.8h0M439.4 621.2h0M435.5 619.9h0M431.6 617.4h0M428.1 616.0h0M447.5 614.0h0M427.8 615.7h0M456.3 610.8h0M431.9 618.3h0M427.0 615.6h0M420.4 610.3h0M466.9 591.2h0M442.6 619.6h0M434.9 619.7h0M483.9 581.8h0M454.5 604.0h0M441.0 620.4h0M455.3 608.9h0M428.9 616.3h0M433.3 618.9h0M453.4 611.8h0M425.3 614.4h0M454.5 611.9h0M440.7 619.1h0M432.0 617.7h0M419.7 607.8h0M426.0 613.4h0M441.6 617.3h0M441.9 619.5h0M438.7 621.7h0M471.8 584.2h0M427.9 614.8h0M440.5 620.5h0M420.4 609.6h0M461.8 605.7h0M453.9 604.9h0M428.5 616.0h0M444.8 618.7h0M436.5 620.7h0M479.4 588.4h0M461.8 583.1h0M425.0 613.5h0M439.0 621.5h0M430.4 616.5h0M443.3 618.6h0M454.1 612.7h0M444.5 616.2h0M464.7 593.7h0M441.2 619.9h0M452.4 609.4h0M430.5 616.8h0M452.7 611.2h0M430.2 616.7h0M451.1 611.6h0M446.0 617.9h0M411.4 598.7h0M416.2 608.1h0M416.5 607.2h0M471.8 589.6h0M453.3 610.3h0M396.5 596.6h0M442.0 617.8h0M420.6 609.8h0M450.9 615.4h0M417.7 605.8h0M445.4 617.8h0M452.8 601.3h0M457.2 606.1h0M449.2 615.4h0M432.0 618.3h0M446.9 606.7h0M439.7 620.7h0M449.7 615.3h0M444.5 619.0h0M439.6 621.0h0M427.7 615.1h0M469.6 597.4h0M436.1 620.4h0M440.1 620.8h0M430.9 617.9h0M473.0 602.8h0M452.7 593.1h0M438.8 621.5h0M454.3 600.3h0M413.3 603.6h0M446.4 613.2h0M442.0 619.7h0M452.1 606.8h0M457.6 603.5h0M442.5 619.2h0M440.3 621.0h0M403.0 595.0h0M441.4 620.4h0M447.2 615.9h0M446.5 613.1h0M440.3 620.6h0M455.1 612.4h0M457.6 607.7h0M446.4 617.5h0M463.1 606.5h0M483.3 584.8h0M453.4 607.0h0M441.0 619.8h0M438.0 621.4h0M435.6 620.2h0M431.9 618.2h0M437.3 621.1h0M451.0 611.1h0M452.3 602.1h0M453.5 613.2h0M406.2 597.7h0M427.7 614.7h0M448.2 602.8h0M439.5 621.3h0M448.8 612.4h0M441.3 619.0h0M443.0 615.0h0M416.8 607.2h0M455.6 594.8h0M451.2 614.4h0M447.6 614.9h0M427.4 614.5h0M442.5 618.6h0M440.9 620.3h0M444.1 617.0h0M436.5 620.7h0M450.5 609.0h0M463.7 601.0h0M443.7 615.3h0M447.8 613.0h0M440.4 620.7h0M442.6 619.5h0M439.1 621.4h0M399.2 586.7h0M458.9 607.8h0M458.7 608.1h0M464.4 591.8h0M452.5 597.4h0M446.4 614.9h0M443.2 619.3h0M434.0 619.1h0M415.4 603.9h0M462.6 597.5h0M444.7 617.9h0M419.0 610.2h0M441.7 619.4h0M458.0 584.9h0M446.7 612.4h0M409.9 597.9h0M465.8 601.3h0M449.5 612.6h0M417.1 608.4h0M418.0 605.8h0M440.3 619.8h0M442.1 620.0h0M446.7 614.2h0M426.9 614.9h0M412.5 601.9h0M447.6 616.5h0M446.7 612.4h0M442.3 618.6h0M448.9 612.7h0M452.8 611.8h0M439.3 621.2h0M448.1 615.0h0M428.9 615.5h0M445.7 617.5h0M447.4 611.5h0M447.1 617.6h0M452.1 599.4h0M442.1 620.1h0M444.2 617.3h0M447.6 615.8h0M450.9 614.7h0M447.4 608.0h0M458.2 606.6h0M444.4 614.4h0M418.2 609.4h0M445.6 615.4h0M443.3 617.7h0M441.0 620.3h0M458.6 607.4h0M450.4 611.7h0M432.3 618.0h0M425.3 613.5h0M458.5 604.2h0M446.2 615.3h0M455.4 605.2h0M439.2 621.4h0M438.0 621.4h0M445.0 618.6h0M458.1 586.8h0M457.0 580.8h0M448.9 603.8h0M465.2 587.4h0M428.2 615.3h0M430.9 616.9h0M457.3 594.7h0M458.6 605.0h0M432.7 618.5h0M458.0 609.1h0M443.5 617.3h0M423.2 611.8h0M440.1 620.9h0M439.7 620.9h0M446.3 613.4h0M436.4 620.6h0M435.7 620.4h0M439.9 620.8h0M449.6 613.4h0M426.4 614.7h0M441.3 620.3h0M446.4 617.5h0M448.2 615.9h0M442.7 616.8h0M433.3 619.0h0M439.9 620.7h0M434.4 619.2h0M462.6 595.0h0M419.9 610.4h0M439.4 621.2h0M456.5 611.8h0M447.8 613.1h0M431.8 617.6h0M432.1 618.5h0M446.8 617.2h0M430.1 616.8h0M448.3 607.2h0M449.4 606.7h0M443.7 619.2h0M455.4 596.4h0M444.6 618.8h0M477.8 601.0h0M441.4 619.5h0M444.2 612.5h0M447.8 614.7h0M442.7 618.6h0M446.6 607.7h0M437.8 621.3h0M434.9 619.9h0M457.4 610.9h0M433.0 618.4h0M453.2 608.8h0M444.3 618.3h0M430.1 616.7h0M394.4 594.8h0M455.7 603.5h0M443.0 619.5h0M442.6 619.3h0M447.3 607.9h0M445.2 615.0h0M487.6 580.7h0M434.6 619.7h0M456.7 608.0h0M445.6 618.3h0M445.7 612.6h0M440.1 620.7h0M431.5 617.8h0M443.6 618.9h0M448.2 614.2h0M456.2 609.0h0M463.0 601.7h0M458.3 606.5h0M440.8 620.5h0M450.7 609.7h0M439.0 621.3h0M475.2 591.6h0M430.7 617.3h0M446.1 618.1h0M439.7 621.1h0M426.8 614.1h0M444.9 618.6h0M432.7 618.8h0M443.6 613.7h0M456.3 603.6h0M464.5 595.0h0M425.1 614.0h0M462.3 595.7h0M452.7 613.8h0M444.8 614.5h0M447.9 617.0h0M448.4 612.4h0M440.3 620.9h0M444.6 618.1h0M442.9 616.0h0M440.4 620.8h0M439.3 621.1h0M417.1 608.8h0M452.5 612.6h0M421.5 610.4h0M435.5 620.1h0M444.3 619.0h0M457.9 609.0h0M444.3 617.9h0M432.0 618.3h0M446.6 617.2h0M448.9 615.1h0M437.0 620.9h0M451.9 601.9h0M429.9 617.3h0M449.4 608.7h0M446.4 617.7h0M439.8 621.0h0M440.0 620.9h0M441.3 620.3h0M439.8 620.3h0M452.5 595.4h0M447.9 614.9h0M463.5 601.7h0M442.4 619.5h0M446.3 616.7h0M432.4 617.8h0M439.6 620.9h0M445.8 615.8h0M449.8 606.8h0M434.0 619.1h0M460.3 605.1h0M436.0 620.5h0M423.0 611.2h0M459.9 604.4h0M453.4 602.5h0M421.0 608.6h0M436.9 620.9h0M462.1 603.6h0M445.3 617.5h0M433.4 618.9h0M454.8 611.4h0M423.8 612.8h0M420.5 610.2h0M422.6 609.9h0M463.2 592.0h0M442.1 616.6h0M420.5 611.0h0M462.9 607.3h0M452.9 607.0h0M448.2 603.0h0M433.0 618.6h0M466.5 604.1h0M450.4 600.2h0M455.2 607.7h0M442.0 619.8h0M431.1 617.1h0M441.1 619.7h0M434.8 619.6h0M455.9 609.7h0M466.2 591.8h0M457.6 596.8h0M448.4 603.4h0M444.0 618.7h0M462.4 583.8h0M429.9 616.8h0M409.1 595.2h0M447.5 605.1h0M454.9 595.7h0M446.5 615.1h0M447.6 616.1h0M442.3 619.1h0M454.2 613.1h0M446.9 617.3h0M442.6 617.6h0M450.0 615.9h0M445.0 618.4h0M426.9 615.0h0M448.6 608.5h0M426.9 615.2h0M444.8 617.8h0M433.0 618.4h0M456.6 611.3h0M456.2 596.5h0M463.7 605.1h0M431.1 617.7h0M458.9 609.8h0M470.3 598.8h0M434.2 619.4h0M464.2 591.0h0M436.7 620.7h0M402.2 584.2h0M452.6 596.9h0M429.2 616.2h0M448.0 613.1h0M435.0 619.9h0M412.9 605.2h0M439.3 621.2h0M442.1 619.7h0M435.6 620.3h0M444.5 617.8h0M452.4 613.0h0M469.2 596.3h0M458.4 609.4h0M422.7 611.3h0M445.2 618.5h0M445.9 616.4h0M401.2 592.1h0M446.9 616.8h0M427.2 614.1h0M427.1 614.4h0M453.1 609.7h0M463.2 587.0h0M443.9 618.9h0M433.1 618.4h0M438.4 621.6h0M442.9 618.4h0M448.9 611.6h0M419.9 608.5h0M423.3 610.9h0M448.6 609.3h0M452.0 613.7h0M441.6 620.3h0M447.6 605.3h0M419.8 609.4h0M430.6 616.6h0M436.1 620.5h0M455.5 605.9h0M441.1 619.9h0M448.0 616.0h0" stroke="#b5b5b5" stroke-width="1.24" stroke-linecap="square" fill="none" stroke-opacity="0.75"/>
<path d="M431.8 618.0h0M444.7 618.5h0M440.5 620.6h0M430.2 617.0h0M430.7 617.1h0M438.7 621.6h0M445.8 617.0h0M440.2 621.0h0M461.2 607.5h0M444.1 617.8h0M430.9 617.3h0M454.6 607.6h0M451.5 603.9h0M446.9 617.0h0M436.8 620.9h0M443.0 619.6h0M444.4 617.0h0M423.4 611.4h0M415.5 602.7h0M451.6 607.7h0M436.9 620.9h0M430.6 617.6h0M435.9 620.3h0M459.9 592.0h0M442.4 615.9h0M405.2 591.6h0M447.9 615.4h0M458.6 607.6h0M442.3 620.1h0M435.2 620.0h0M423.3 612.3h0M471.6 602.2h0M443.0 619.2h0M418.4 605.8h0M445.9 617.1h0M443.4 617.6h0M434.3 619.3h0M471.2 593.6h0M468.8 582.1h0M424.2 612.8h0M465.6 595.2h0M441.5 619.8h0M417.6 605.3h0M408.3 593.2h0M414.6 603.7h0M452.8 608.9h0M467.7 595.5h0M443.8 616.9h0M454.0 588.9h0M449.5 612.3h0M445.3 618.1h0M433.8 619.1h0M441.6 619.9h0M434.1 619.2h0M456.4 610.6h0M433.6 619.1h0M445.8 617.4h0M467.7 591.1h0M459.3 594.7h0M456.2 609.0h0M460.4 608.4h0M468.6 598.3h0M436.8 620.9h0M460.2 604.6h0M439.9 620.3h0M416.3 603.6h0M445.4 615.0h0M443.8 617.9h0M454.1 592.2h0M452.9 607.4h0M445.5 617.4h0M411.6 602.9h0M451.0 614.4h0M456.4 611.4h0M441.7 619.7h0M466.4 595.2h0M424.7 613.6h0M440.5 620.6h0M435.0 620.0h0M439.6 620.7h0M410.1 602.7h0M435.4 620.0h0M448.1 616.7h0M442.2 620.1h0M462.3 607.6h0M441.4 620.2h0M462.3 598.5h0M487.1 581.1h0M443.9 618.2h0M446.0 609.8h0M445.8 618.3h0M442.1 619.8h0M415.3 603.7h0M440.9 620.5h0M437.1 621.0h0M441.2 619.8h0M447.6 616.9h0M435.4 620.0h0M450.0 610.1h0M440.9 620.7h0M436.0 620.4h0M446.7 617.1h0M449.0 616.3h0M451.1 603.3h0M443.8 616.1h0M414.0 604.3h0M462.3 588.4h0M449.4 613.5h0M479.8 581.4h0M441.5 620.4h0M442.1 619.8h0M414.6 603.5h0M448.0 603.2h0M456.2 609.6h0M443.1 619.5h0M439.2 621.1h0M453.9 613.0h0M448.2 608.2h0M454.7 599.1h0M459.3 584.4h0M447.6 608.8h0M436.8 620.9h0M465.3 596.0h0M460.7 608.9h0M457.9 605.0h0M428.7 615.8h0M419.7 609.3h0M459.2 581.9h0M461.2 589.9h0M466.9 599.2h0M444.5 617.6h0M455.6 599.8h0M448.6 614.3h0M442.7 619.8h0M458.4 607.0h0M451.0 600.1h0M448.0 615.8h0M446.6 611.6h0M427.9 615.3h0M445.7 617.6h0M430.4 616.4h0M462.9 601.3h0M454.5 607.4h0M444.4 616.3h0M442.5 619.1h0M404.4 593.8h0M455.8 608.9h0M451.0 605.3h0M456.6 586.2h0M451.9 605.6h0M433.0 618.4h0M442.9 619.8h0M460.7 608.2h0M411.8 602.8h0M444.0 619.1h0M448.3 609.7h0M445.1 616.8h0M433.6 618.8h0M423.9 612.4h0M431.3 617.2h0M433.6 619.2h0M443.4 618.0h0M448.2 615.8h0M430.5 617.3h0M460.6 607.2h0M432.6 618.1h0M433.8 619.4h0M449.3 613.9h0M454.0 591.2h0M440.7 619.2h0M456.0 608.7h0M475.8 601.6h0M413.5 603.9h0M422.6 610.7h0M445.4 610.4h0M447.9 609.9h0M458.0 602.4h0M446.6 617.0h0M432.4 618.5h0M433.4 618.8h0M442.1 619.9h0M439.0 621.2h0M439.8 621.1h0M442.6 615.9h0M421.7 611.0h0M444.4 618.2h0M445.9 610.3h0M448.9 607.0h0M442.6 619.4h0M433.6 619.4h0M446.2 617.9h0M441.6 620.2h0M441.0 618.5h0M447.0 612.3h0M448.4 615.2h0M439.0 621.5h0M438.8 621.5h0M465.5 594.6h0M461.4 599.3h0M425.9 614.8h0M449.4 607.2h0M443.1 619.6h0M443.8 615.7h0M465.6 587.3h0M433.7 619.2h0M435.2 619.9h0M454.9 611.4h0M446.8 614.8h0M462.8 581.1h0M438.1 621.4h0M430.6 617.7h0M420.5 609.5h0M440.0 620.9h0M463.2 590.8h0M437.2 621.0h0M441.8 618.7h0M424.8 612.6h0M434.6 619.5h0M441.7 618.8h0M433.7 619.0h0M433.8 618.9h0M438.0 621.4h0M440.7 620.4h0M446.6 613.9h0M437.1 620.9h0M427.3 615.5h0M463.1 584.5h0M460.2 609.0h0M446.1 618.0h0M452.1 606.4h0M407.9 598.6h0M440.7 620.6h0M455.5 597.7h0M460.7 583.2h0M451.0 605.5h0M437.0 620.8h0M467.0 582.0h0M441.4 620.5h0M414.3 606.4h0M465.1 596.9h0M439.4 621.2h0M457.5 599.7h0M453.1 599.4h0M444.2 615.4h0M466.7 590.6h0M434.3 619.4h0M455.2 591.2h0M461.5 591.5h0M434.2 619.5h0M447.1 615.5h0M440.5 620.0h0M439.2 621.4h0M449.4 611.7h0M426.0 613.3h0M424.5 613.5h0M414.6 605.9h0M456.7 588.6h0M450.2 612.1h0M466.4 600.2h0M444.7 618.4h0M434.8 619.7h0M458.9 606.5h0M444.2 615.8h0M439.0 621.5h0M485.6 599.0h0M451.7 609.4h0M423.8 612.2h0M441.7 619.0h0M441.8 620.0h0M433.1 618.7h0M479.4 587.5h0M449.4 613.9h0M431.4 617.6h0M468.0 597.1h0M443.0 619.5h0M426.2 614.3h0M450.3 604.9h0M428.5 616.0h0M445.5 617.6h0M435.3 619.9h0M453.3 610.9h0M445.0 614.7h0M420.2 609.1h0M440.5 620.7h0M424.6 611.9h0M443.9 619.2h0M449.5 611.8h0M416.5 608.2h0M444.9 616.8h0M440.2 620.3h0M395.8 591.2h0M429.0 616.3h0M439.7 621.1h0M426.7 614.5h0M444.2 618.2h0M420.9 610.9h0M418.1 605.8h0M450.1 615.9h0M452.9 605.3h0M441.8 619.7h0M441.5 619.5h0M425.3 613.0h0M427.4 615.7h0M440.2 620.9h0M447.0 611.4h0M439.3 621.0h0M428.0 615.9h0M437.0 621.0h0M451.7 602.5h0M464.4 581.6h0M455.8 585.4h0M441.9 619.9h0M435.1 619.8h0M461.3 604.1h0M431.1 617.7h0M435.8 620.1h0M418.7 608.8h0M442.4 619.2h0M471.6 590.3h0M433.6 619.1h0M448.8 614.6h0M460.0 602.2h0M446.2 613.7h0M449.8 616.0h0M444.1 618.1h0M413.4 603.7h0M453.5 609.6h0M430.0 616.5h0M459.6 583.9h0M440.4 619.9h0M403.7 595.9h0M443.5 613.9h0M420.0 610.0h0M470.6 588.9h0M437.1 621.0h0M443.8 619.1h0M457.3 596.6h0M442.8 619.7h0M441.1 619.9h0M441.4 619.0h0M425.1 612.4h0M440.6 620.3h0M451.1 613.0h0M445.2 618.5h0M450.3 602.2h0M438.1 621.4h0M468.3 581.6h0M443.0 616.6h0M452.9 604.3h0M444.3 617.6h0M454.9 610.1h0M441.4 619.7h0M444.2 612.5h0M452.7 592.0h0M438.1 621.5h0M431.8 617.5h0M461.8 596.9h0M418.0 605.7h0M422.4 611.5h0M431.1 617.0h0M444.6 618.6h0M440.3 620.6h0M390.6 592.9h0M445.4 615.5h0M452.8 611.3h0M432.4 618.5h0M424.2 612.0h0M456.4 595.2h0M448.1 616.8h0M457.7 599.7h0M461.0 606.0h0M462.0 606.8h0M448.3 612.5h0M444.1 616.5h0M452.3 614.2h0M469.6 585.6h0M453.4 610.5h0M425.1 612.8h0M439.0 621.4h0M449.6 607.1h0M444.8 615.5h0M447.0 611.5h0M421.7 609.5h0M422.7 612.4h0M454.2 584.5h0M450.0 616.0h0M442.6 617.8h0M429.8 616.6h0M457.7 592.6h0M439.7 621.0h0M442.0 620.0h0M455.1 604.1h0M476.6 598.5h0M430.8 617.4h0M440.1 620.4h0M448.8 615.5h0M423.7 612.0h0M432.4 618.4h0M452.4 600.0h0M459.7 591.4h0M423.1 612.8h0M459.7 608.4h0M454.7 605.6h0M460.8 591.0h0M455.9 594.9h0M424.2 612.3h0M451.8 610.2h0M453.4 611.2h0M457.3 583.5h0M441.0 620.3h0M423.4 612.7h0M449.0 614.3h0M444.0 619.2h0M446.2 616.8h0M455.3 612.2h0M449.9 615.4h0M485.4 600.8h0M433.8 619.3h0M418.1 609.0h0M459.4 592.8h0M406.5 593.1h0M447.4 616.2h0M436.5 620.6h0M444.0 618.5h0M440.2 620.1h0M456.3 591.0h0M443.9 618.7h0M444.7 613.8h0M461.1 593.8h0M442.1 616.9h0M450.7 611.3h0M450.9 615.0h0M434.3 619.4h0M451.8 604.2h0M452.0 614.5h0M440.4 619.6h0M446.3 617.2h0M430.7 617.7h0M448.3 615.7h0M436.0 620.5h0M449.3 615.2h0M434.2 619.5h0M428.1 614.8h0M428.0 615.1h0M454.2 583.3h0M442.3 620.1h0M434.4 619.4h0M453.5 612.2h0M454.4 603.2h0M457.5 602.4h0M418.4 607.4h0M440.3 620.9h0M432.2 618.1h0M453.5 596.2h0M420.3 609.3h0M443.2 619.5h0M433.3 618.7h0M459.4 599.0h0M441.6 619.9h0M456.5 587.1h0M418.4 609.6h0M449.6 611.1h0M450.2 614.5h0M480.6 589.6h0M439.6 620.9h0M445.6 614.6h0M415.9 607.6h0M468.0 591.9h0M456.8 611.6h0M446.9 616.9h0M459.3 607.8h0M432.0 618.5h0M441.3 618.5h0M433.6 619.3h0M454.0 593.1h0M414.3 602.3h0M450.8 613.5h0M437.3 621.0h0M432.6 618.7h0M417.1 605.9h0M435.6 620.3h0M450.0 612.6h0M454.6 611.8h0M457.3 607.0h0M426.2 613.7h0M454.6 612.9h0M450.9 615.1h0M449.4 610.9h0M436.9 620.9h0M456.6 604.8h0M449.7 612.9h0M456.1 610.7h0M444.4 617.3h0M451.2 612.2h0M430.5 617.5h0M438.8 621.6h0M446.1 615.9h0M441.1 619.8h0M436.4 620.6h0M455.6 592.8h0M434.1 619.4h0M420.1 608.4h0M468.0 589.7h0M458.1 599.5h0M415.0 603.8h0M456.3 611.8h0M413.9 602.1h0M450.9 603.9h0M446.3 618.0h0M455.6 606.1h0M441.7 618.9h0M459.0 605.0h0M426.4 613.4h0M439.7 620.2h0M438.1 621.5h0M416.7 608.0h0M448.2 616.7h0M487.5 582.9h0M448.1 614.7h0M455.3 601.9h0M440.3 620.9h0M443.4 616.9h0M446.2 613.1h0M441.0 620.6h0M448.6 615.4h0M449.0 603.2h0M428.2 615.0h0M440.7 618.8h0M443.5 618.3h0M441.0 620.0h0M442.1 618.1h0M454.6 611.7h0M409.9 599.4h0M439.4 620.8h0M415.7 603.4h0M448.3 613.6h0M434.7 619.7h0M484.7 583.2h0M433.0 618.6h0M455.8 606.5h0M451.2 607.7h0M427.5 615.2h0M466.0 594.7h0M442.6 619.7h0M427.1 614.2h0M439.2 621.4h0M457.7 600.0h0M449.5 614.2h0M466.4 595.9h0M433.5 618.7h0M446.0 617.6h0M441.8 619.1h0M449.4 600.1h0M431.5 617.9h0M438.7 621.6h0M446.7 616.4h0M445.4 618.5h0M444.2 617.1h0M438.4 621.6h0M448.5 609.3h0M419.8 608.6h0M430.0 617.1h0M453.4 593.8h0M432.0 618.2h0M436.3 620.5h0M443.9 616.8h0M442.7 619.6h0M458.4 601.7h0M456.6 588.1h0M452.6 594.7h0M423.8 613.0h0M473.0 588.6h0M434.5 619.7h0M440.2 620.9h0M450.9 615.1h0M437.8 621.3h0M436.5 620.7h0M438.7 621.7h0M420.5 609.3h0M440.7 620.1h0M441.3 620.4h0M434.7 619.5h0M448.4 613.9h0M439.6 620.5h0M438.4 621.6h0M453.2 613.8h0M446.4 614.9h0M420.6 611.2h0M444.3 617.6h0M453.2 606.5h0M436.0 620.3h0M462.4 602.7h0M436.1 620.5h0M449.5 615.7h0M456.6 608.4h0M390.4 588.8h0M449.5 609.2h0M452.0 605.5h0M450.2 615.2h0M444.2 616.4h0M460.9 603.9h0M459.9 595.9h0M452.8 608.6h0M433.3 618.7h0M455.9 607.9h0M447.4 606.7h0M457.9 585.3h0M454.7 589.5h0M439.4 621.3h0M421.8 611.6h0M465.6 602.4h0M403.2 593.8h0M446.4 613.6h0M452.2 611.2h0M432.9 618.9h0M444.2 618.0h0M466.5 594.9h0M440.5 620.2h0M433.8 619.3h0M473.1 589.2h0M463.9 599.6h0M434.5 619.6h0M443.2 615.9h0M458.7 603.6h0M441.3 619.4h0M452.1 604.4h0M435.6 620.2h0M455.5 608.9h0M429.4 616.9h0M435.2 619.8h0M421.5 611.9h0M461.2 591.7h0M443.7 618.6h0M445.0 615.8h0M447.1 614.9h0M408.4 595.5h0M427.8 615.8h0M458.8 609.8h0M457.6 603.6h0M471.3 590.0h0M435.6 620.2h0M457.8 610.3h0M480.7 588.3h0M438.3 621.5h0M449.1 608.9h0M436.8 620.8h0M431.6 617.3h0M430.1 616.8h0M440.1 620.7h0M455.7 589.8h0M424.6 613.2h0M428.2 616.3h0M431.4 618.1h0M443.5 619.4h0M434.1 619.2h0M434.0 619.0h0M442.0 618.5h0M424.0 612.0h0M441.0 620.2h0M450.2 611.0h0M429.2 615.6h0M442.8 616.5h0M451.6 607.1h0M449.3 606.6h0M380.9 613.7h0M441.1 618.4h0M429.3 616.0h0M439.3 621.3h0M441.5 617.6h0M450.1 608.9h0M458.2 609.6h0M458.3 604.6h0M444.6 618.6h0M467.4 596.8h0M426.9 614.6h0M429.9 616.9h0M425.1 612.5h0M422.2 609.9h0M413.2 601.7h0M417.1 604.8h0M447.0 617.3h0M444.2 618.0h0M404.0 594.9h0M439.8 621.1h0M412.6 604.5h0M451.5 613.0h0M418.0 606.4h0M442.5 619.8h0M436.6 620.8h0M463.8 605.7h0M449.2 614.0h0M443.9 616.8h0M444.9 611.3h0M432.0 617.6h0M442.4 619.8h0M435.9 620.4h0M442.6 615.6h0M446.7 614.1h0M445.5 614.8h0M451.7 607.6h0M432.1 617.7h0M443.9 613.3h0M448.9 616.3h0M449.2 608.5h0M432.5 618.1h0M424.2 613.1h0M461.7 595.0h0M405.8 594.1h0M439.7 620.8h0M451.7 609.0h0M456.8 609.1h0M418.5 609.2h0M447.2 614.9h0M427.1 614.3h0M439.2 621.1h0M470.4 592.2h0M446.7 615.1h0M455.0 610.2h0M449.8 605.2h0M420.5 609.6h0M440.9 618.6h0M454.1 612.2h0M445.5 613.6h0M417.3 605.1h0M437.5 621.2h0M420.9 609.6h0M428.0 615.1h0M459.1 609.1h0M446.4 616.9h0M411.2 599.0h0M464.6 600.3h0M427.9 615.7h0M416.9 606.7h0M448.4 610.5h0M449.2 614.5h0M440.2 620.4h0M453.3 613.1h0M414.0 605.1h0M458.8 599.4h0M456.8 606.2h0M430.5 617.6h0M387.5 595.2h0M439.0 621.3h0M439.2 621.4h0M448.7 605.9h0M445.5 618.0h0M424.3 612.7h0M467.8 596.0h0M457.4 592.4h0M462.8 596.6h0M451.8 598.3h0M446.4 615.6h0M457.8 609.2h0M457.0 611.3h0M442.6 618.3h0M445.5 615.7h0M452.2 611.6h0M442.8 619.7h0M471.3 588.5h0" stroke="#b5b5b5" stroke-width="1.24" stroke-linecap="square" fill="none" stroke-opacity="0.75"/>
<path d="M432.1 618.3h0M452.9 614.2h0M449.5 614.6h0M417.1 605.8h0M461.4 599.7h0M439.5 620.6h0M452.6 603.4h0M415.0 605.6h0M452.1 613.5h0M442.2 620.0h0M433.7 619.4h0M460.4 587.5h0M451.1 610.1h0M462.4 594.4h0M489.7 590.0h0M441.4 620.4h0M423.1 611.3h0M435.5 620.0h0M435.4 620.1h0M441.3 619.3h0M444.4 618.3h0M441.1 620.5h0M430.0 616.6h0M452.3 608.4h0M454.2 611.8h0M437.0 621.0h0M450.5 614.1h0M465.0 603.1h0M430.2 616.5h0M416.6 608.3h0M438.8 621.6h0M431.0 617.3h0M425.6 614.4h0M453.7 613.3h0M423.4 612.8h0M448.7 614.2h0M443.4 617.2h0M454.0 611.2h0M399.0 585.2h0M415.5 606.1h0M428.7 616.2h0M440.7 619.0h0M428.1 616.1h0M436.5 620.6h0M445.7 613.0h0M443.7 617.9h0M442.2 619.6h0M421.5 609.3h0M440.0 620.4h0M458.9 592.7h0M431.1 617.8h0M446.0 616.9h0M467.8 601.8h0M441.1 620.5h0M469.6 597.9h0M420.7 608.5h0M436.9 620.9h0M441.6 618.7h0M435.4 620.0h0M452.6 595.4h0M448.1 614.3h0M445.0 617.9h0M448.8 615.8h0M424.6 613.9h0M444.1 618.6h0M449.0 609.7h0M412.4 603.8h0M443.5 619.5h0M409.9 600.5h0M427.4 615.7h0M446.3 614.3h0M427.8 615.2h0M461.4 607.0h0M449.5 614.6h0M435.9 620.3h0M430.1 616.9h0M431.3 617.9h0M441.8 619.4h0M456.1 609.3h0M430.2 616.8h0M438.5 621.6h0M438.5 621.6h0M445.7 612.6h0M443.4 617.5h0M443.1 616.5h0M442.9 616.4h0M473.5 590.6h0M458.3 608.5h0M433.0 618.4h0M447.2 612.9h0M460.9 604.7h0M439.5 620.8h0M444.6 618.7h0M455.6 605.7h0M467.0 589.4h0M462.4 584.3h0M444.0 618.8h0M441.6 620.1h0M405.1 591.8h0M444.1 618.0h0M453.0 603.3h0M417.3 605.1h0M450.1 611.4h0M439.9 620.8h0M436.2 620.6h0M428.4 616.1h0M440.1 620.9h0M447.7 613.7h0M418.5 609.1h0M451.8 612.8h0M455.0 604.8h0M441.4 619.6h0M448.6 615.6h0M453.6 609.5h0M450.4 615.5h0M439.4 621.3h0M417.4 607.5h0M435.1 619.7h0M466.3 600.1h0M463.7 582.6h0M441.1 620.2h0M431.1 617.8h0M425.2 614.0h0M430.9 616.8h0M441.8 620.3h0M427.9 615.1h0M433.7 619.2h0M445.9 615.5h0M440.5 619.8h0M448.3 615.0h0M441.1 620.2h0M428.1 615.2h0M443.7 617.3h0M442.5 618.6h0M441.5 620.3h0M426.1 614.4h0M457.5 609.4h0M421.1 609.9h0M453.2 596.0h0M466.7 603.6h0M448.9 607.9h0M473.5 586.2h0M429.8 616.2h0M483.3 598.7h0M441.6 619.5h0M428.7 616.4h0M435.7 620.3h0M432.7 618.5h0M449.6 609.5h0M456.3 608.4h0M439.4 621.2h0M442.6 619.4h0M441.9 617.8h0M450.1 598.7h0M453.2 607.3h0M443.0 619.2h0M470.9 597.6h0M446.4 616.4h0M413.9 605.3h0M430.5 617.4h0M462.9 606.3h0M456.8 607.7h0M438.0 621.4h0M446.9 617.6h0M448.8 606.9h0M444.1 617.7h0M423.3 611.3h0M428.9 616.2h0M439.7 621.2h0M447.4 615.6h0M428.0 616.1h0M450.6 613.8h0M433.3 618.9h0M445.5 616.1h0M419.0 608.7h0M455.1 602.6h0M452.0 613.3h0M428.6 615.3h0M415.0 603.4h0M441.7 619.1h0M430.8 617.0h0M438.6 621.7h0M456.2 605.4h0M442.9 619.2h0M445.5 611.2h0M422.0 611.7h0M462.2 605.6h0M451.8 610.6h0M441.0 620.2h0M425.7 614.4h0M444.3 618.8h0M439.8 621.2h0M456.6 609.5h0M421.3 610.0h0M445.9 615.9h0M463.2 603.5h0M462.5 605.3h0M435.8 620.2h0M446.7 615.6h0M439.3 620.8h0M432.1 617.7h0M453.5 612.9h0M444.2 616.5h0M430.6 617.7h0M465.1 584.4h0M444.0 615.3h0M443.5 615.7h0M448.6 616.8h0M437.2 621.0h0M447.6 604.7h0M440.2 621.0h0M429.6 617.0h0M446.1 616.6h0M449.9 603.8h0M444.2 618.3h0M449.3 610.0h0M435.5 620.1h0M450.5 608.4h0M452.4 614.6h0M446.4 614.3h0M442.8 618.5h0M459.0 606.3h0M441.3 619.1h0M419.5 609.4h0M441.7 620.3h0M459.5 607.2h0M435.1 619.8h0M427.0 615.3h0M421.7 611.1h0M433.1 619.1h0M437.3 621.1h0M413.1 600.4h0M416.3 605.8h0M439.6 620.6h0M445.3 616.3h0M450.0 607.8h0M446.2 615.5h0M434.2 619.2h0M423.1 610.4h0M453.9 603.0h0M442.6 619.2h0M435.5 620.1h0M448.3 614.9h0M448.5 609.8h0M441.8 619.8h0M445.4 611.5h0M432.3 618.4h0M452.2 611.9h0M436.3 620.6h0M451.1 614.5h0M435.6 620.2h0M461.3 605.9h0M463.9 590.7h0M451.6 614.7h0M454.8 607.1h0M423.7 613.5h0M428.4 615.0h0M444.3 613.3h0M437.6 621.2h0M439.9 620.9h0M444.4 618.7h0M439.0 621.5h0M411.5 601.6h0M455.3 609.2h0M462.4 606.7h0M445.3 615.2h0M420.2 608.0h0M417.9 606.9h0M433.4 618.9h0M450.8 613.2h0M441.2 619.4h0M442.2 620.0h0M465.1 603.6h0M445.6 615.2h0M442.3 617.9h0M477.8 581.8h0M449.1 604.1h0M435.3 620.0h0M448.8 614.4h0M452.9 613.2h0M458.3 605.8h0M433.8 618.8h0M470.3 595.7h0M464.9 602.7h0M445.4 618.0h0M431.8 618.4h0M446.7 617.6h0M442.3 619.2h0M439.7 621.2h0M430.4 617.2h0M445.7 616.6h0M421.2 609.4h0M442.0 619.5h0M447.7 608.1h0M444.7 613.3h0M451.7 613.8h0M435.9 620.3h0M440.9 619.5h0M458.8 609.9h0M446.2 614.9h0M439.0 621.1h0M442.8 615.7h0M457.9 609.1h0M461.2 591.6h0M430.6 617.5h0M459.9 604.6h0M448.3 615.7h0M436.6 620.6h0M441.6 620.3h0M450.2 609.1h0M441.8 617.9h0M456.0 604.4h0M446.8 611.9h0M455.1 592.6h0M437.0 620.9h0M434.2 619.6h0M458.9 608.6h0M436.1 620.5h0M434.7 619.5h0M452.2 612.4h0M465.1 592.5h0M455.9 611.9h0M451.7 592.6h0M459.7 609.6h0M437.1 620.9h0M470.4 581.4h0M478.1 581.7h0M464.5 592.2h0M450.8 613.6h0M450.2 608.6h0M448.3 609.9h0M458.6 609.8h0M438.3 621.6h0M431.9 618.3h0M463.9 582.8h0M446.0 616.5h0M448.4 616.2h0M450.0 611.9h0M444.5 616.0h0M433.7 619.0h0M442.5 618.9h0M444.7 617.9h0M454.6 612.3h0M445.1 618.4h0M431.6 618.1h0M451.9 613.3h0M430.4 616.6h0M439.0 621.4h0M452.7 605.1h0M439.7 621.0h0M440.2 620.4h0M450.5 611.6h0M446.6 613.2h0M449.0 616.1h0M433.5 619.0h0M456.0 607.6h0M432.5 618.2h0M429.6 616.8h0M460.7 604.3h0M420.0 609.7h0M450.2 613.3h0M456.0 610.1h0M444.2 614.3h0M431.7 618.3h0M449.2 616.4h0M464.2 604.8h0M435.9 620.3h0M449.9 614.1h0M462.1 607.8h0M425.9 613.0h0M459.8 608.5h0M426.8 615.5h0M469.6 583.4h0M426.0 613.0h0M451.9 611.9h0M443.1 617.8h0M434.7 619.8h0M439.1 621.4h0M443.0 617.6h0M446.5 616.5h0M458.5 608.6h0M444.2 619.1h0M460.0 606.5h0M441.5 620.1h0M443.7 618.6h0M465.5 604.7h0M444.2 617.4h0M415.9 605.9h0M442.8 619.2h0M437.8 621.3h0M442.2 618.4h0M438.3 621.6h0M445.0 613.2h0M423.6 612.6h0M445.9 618.2h0M443.4 617.2h0M450.6 613.1h0M473.9 605.3h0M441.9 617.0h0M454.3 611.6h0M448.8 615.3h0M451.7 614.7h0M420.8 609.8h0M440.9 620.4h0M424.2 613.2h0M433.7 619.2h0M446.8 615.0h0M461.0 603.2h0M426.4 614.2h0M428.8 615.8h0M432.3 618.0h0M462.8 584.3h0M449.7 613.4h0M417.0 607.3h0M435.0 619.8h0M430.1 617.1h0M418.0 608.2h0M459.0 598.4h0M435.9 620.1h0M444.4 618.0h0M428.7 616.3h0M458.5 599.8h0M450.7 609.0h0M444.6 618.9h0M451.8 611.5h0M452.2 608.1h0M458.4 604.2h0M455.0 611.4h0M436.5 620.7h0M427.1 614.4h0M452.6 609.0h0M443.6 619.1h0M444.0 617.8h0M452.5 612.2h0M433.4 618.8h0M460.3 597.5h0M450.2 615.2h0M456.3 609.0h0M457.3 611.3h0M442.0 619.6h0M441.3 620.3h0M452.9 611.5h0M438.8 621.6h0M432.0 617.9h0M393.6 592.8h0M444.2 615.0h0M444.4 618.9h0M455.0 606.2h0M416.5 607.8h0M439.9 621.1h0M440.8 620.2h0M427.2 615.5h0M442.7 616.3h0M450.3 614.8h0M460.0 600.7h0M430.3 616.9h0M426.8 614.8h0M444.9 615.7h0M447.4 612.8h0M441.1 618.8h0M458.5 610.2h0M434.2 619.4h0M452.7 611.1h0M456.9 601.6h0M442.5 619.9h0M456.3 593.0h0M448.9 608.8h0M419.8 609.3h0M442.7 616.7h0M422.1 612.2h0M444.3 617.4h0M460.3 606.1h0M452.2 613.5h0M448.4 607.8h0M464.4 592.4h0M456.6 601.9h0M426.3 614.1h0M446.0 616.4h0M449.0 614.6h0M442.5 617.8h0M449.4 607.7h0M440.7 620.4h0M452.7 609.2h0M423.3 610.5h0M459.1 597.8h0M454.0 609.6h0M446.1 616.4h0M425.4 613.8h0M438.1 621.5h0M426.1 614.1h0M446.5 611.4h0M444.9 616.5h0M425.4 613.1h0M426.7 614.5h0M422.3 610.1h0M457.0 602.6h0M445.0 615.4h0M446.7 615.4h0M439.9 621.0h0M438.0 621.4h0M445.3 618.5h0M442.2 619.5h0M447.0 616.5h0M438.8 621.6h0M438.7 621.6h0M464.0 590.2h0M458.3 604.9h0M435.4 619.9h0M439.5 621.3h0M441.6 617.5h0M435.6 620.1h0M445.8 613.5h0M439.2 621.2h0M422.3 609.6h0M420.7 608.1h0M452.4 604.9h0M452.2 609.1h0M450.0 614.1h0M447.5 606.2h0M451.5 614.9h0M460.5 605.5h0M441.9 619.9h0M443.8 614.7h0M436.3 620.5h0M480.1 590.1h0M461.2 593.0h0M459.5 581.2h0M441.4 619.2h0M445.2 617.1h0M451.5 605.7h0M427.4 614.6h0M448.1 611.4h0M459.8 594.3h0M440.6 620.7h0M456.8 611.4h0M435.7 620.2h0M438.6 621.7h0M445.1 617.1h0M422.5 612.2h0M433.0 618.8h0M411.0 601.1h0M441.9 617.9h0M452.7 605.4h0M453.1 603.8h0M436.3 620.4h0M463.1 606.7h0M459.6 586.7h0M465.7 596.2h0M442.3 617.6h0M445.6 613.2h0M432.5 618.5h0M427.5 615.5h0M469.2 594.5h0M427.3 614.9h0M442.7 616.9h0M472.7 591.0h0M444.9 615.8h0M466.9 597.8h0M423.2 611.8h0M447.7 614.4h0M453.3 608.6h0M454.3 613.4h0M401.3 591.2h0M446.9 608.4h0M437.3 621.1h0M463.7 603.7h0M437.3 621.0h0M443.9 618.7h0M460.6 598.7h0M465.8 597.8h0M455.9 607.8h0M441.1 620.2h0M447.0 616.6h0M472.6 592.1h0M447.8 611.7h0M430.9 617.9h0M455.1 611.8h0M438.8 621.6h0M459.7 608.8h0M446.5 607.4h0M461.5 604.4h0M443.9 618.2h0M464.7 588.8h0M420.6 609.2h0M436.1 620.5h0M457.3 594.9h0M458.0 582.1h0M434.4 619.3h0M455.1 606.8h0M420.8 609.5h0M448.8 606.3h0M452.0 610.6h0M428.0 615.8h0M458.7 603.7h0M439.7 620.9h0M435.9 620.3h0M438.0 621.4h0M421.5 609.4h0M462.9 606.4h0M450.3 615.4h0M424.0 613.4h0M445.7 617.7h0M426.6 615.0h0M427.5 615.6h0M445.5 618.3h0M451.2 611.8h0M438.6 621.7h0M431.2 617.6h0M470.0 592.1h0M442.7 618.3h0M446.2 616.9h0M464.5 603.5h0M450.2 615.2h0M422.1 611.5h0M428.8 615.2h0M443.5 615.4h0M455.7 612.5h0M432.0 618.5h0M447.8 614.3h0M439.7 621.0h0M461.6 606.6h0M438.3 621.5h0M439.5 621.0h0M439.5 621.3h0M449.8 612.5h0M428.2 615.8h0M437.3 621.0h0M438.0 621.3h0M436.8 620.8h0M449.7 612.5h0M442.1 620.1h0M450.6 612.9h0M447.1 609.5h0M457.8 607.5h0M458.5 605.6h0M469.1 595.6h0M477.9 591.0h0M460.9 592.2h0M459.2 599.7h0M430.6 616.9h0M452.3 610.7h0M428.0 615.2h0M463.8 605.0h0M444.5 618.3h0M445.1 617.0h0M455.6 596.2h0M421.9 612.1h0M442.2 617.3h0M444.5 618.6h0M437.0 621.0h0M445.2 613.8h0M423.6 610.9h0M430.9 616.8h0M456.8 582.9h0M449.5 615.9h0M420.2 610.0h0M440.0 620.9h0M438.7 621.6h0M446.5 617.4h0M459.1 609.3h0M447.5 615.7h0M468.7 594.1h0M442.2 619.3h0M450.1 609.3h0M442.7 618.1h0M442.3 619.7h0M428.3 616.0h0M457.7 608.2h0M444.4 615.9h0M442.4 615.8h0M460.4 584.6h0M445.2 618.3h0M439.9 621.1h0M459.4 603.9h0M439.0 621.3h0M461.6 591.6h0M444.7 616.6h0M439.6 620.7h0M461.4 594.0h0M455.0 611.7h0M407.4 592.7h0M446.6 617.5h0M463.5 593.9h0M445.5 616.0h0M446.9 617.3h0M416.8 607.8h0M461.4 602.9h0M447.4 617.1h0M429.6 616.2h0M440.9 620.1h0M425.8 614.6h0M420.7 608.6h0M443.7 618.9h0M442.1 620.1h0M457.1 602.6h0M459.7 594.3h0M422.9 610.3h0M419.4 607.3h0M437.3 621.0h0M440.6 620.1h0M443.1 619.5h0M452.9 609.1h0M433.1 618.4h0M431.7 617.9h0M424.5 612.4h0M467.3 597.2h0M426.6 615.0h0M439.3 621.2h0M423.0 611.7h0M433.8 619.4h0M445.2 618.3h0M450.9 612.9h0M441.1 619.8h0M443.4 616.8h0M443.7 616.6h0M421.5 612.0h0M440.0 620.5h0M451.3 613.5h0M448.4 602.5h0M442.4 618.6h0M424.5 613.5h0M428.1 615.1h0M451.7 606.2h0M435.9 620.3h0M490.6 596.6h0M466.9 601.8h0M448.8 611.8h0M448.6 615.7h0M425.4 613.1h0M444.9 615.4h0M403.5 596.0h0M457.8 592.7h0M472.3 597.6h0M436.3 620.5h0M442.0 618.7h0M416.4 604.5h0M439.5 621.2h0M416.4 606.2h0M453.3 606.7h0M462.4 602.3h0M450.7 612.9h0M446.3 613.7h0M431.6 618.3h0M470.3 600.6h0M440.7 619.9h0M414.1 604.9h0M465.9 590.6h0M453.8 610.8h0M455.0 611.1h0M434.5 619.4h0M463.2 604.2h0M440.3 620.5h0M447.8 611.9h0M468.7 584.4h0M453.9 612.3h0M432.2 618.0h0M429.5 616.8h0M435.3 619.8h0M475.9 583.2h0" stroke="#b5b5b5" stroke-width="1.24" stroke-linecap="square" fill="none" stroke-opacity="0.75"/>
<path d="M352.1 458.2h0M390.4 552.2h0M405.2 554.4h0M394.9 565.0h0M405.8 554.7h0" stroke="#2a52f5" stroke-width="1.4" stroke-linecap="round" fill="none" opacity="1.0"/>
<path d="M461.9 458.2h0M505.0 531.3h0M463.5 552.5h0M484.2 554.7h0M487.2 552.5h0M490.6 552.8h0M491.0 556.6h0M493.5 559.8h0M466.5 565.6h0M473.4 565.6h0M488.6 565.3h0M491.0 569.5h0M480.5 573.3h0M485.8 573.3h0M489.0 573.3h0M460.9 578.1h0M463.1 577.5h0M471.4 577.5h0M476.1 578.1h0M485.2 577.5h0M480.5 579.1h0M464.9 579.1h0M483.2 576.8h0M488.2 578.4h0M478.1 575.2h0" stroke="#ff3b22" stroke-width="1.4" stroke-linecap="round" fill="none" opacity="1.0"/>
<line x1="499.7" y1="548.1" x2="490.9" y2="552.9" stroke="#ff3b22" stroke-width="0.6"/>
<line x1="456.5" y1="562.8" x2="477.4" y2="578.2" stroke="#ff3b22" stroke-width="0.6"/>
<line x1="457.2" y1="575.8" x2="462.2" y2="578.2" stroke="#ff3b22" stroke-width="0.6"/>
<line x1="487.1" y1="581.3" x2="491.5" y2="584.6" stroke="#ff3b22" stroke-width="0.6"/>
<line x1="418.35" y1="450.6" x2="418.35" y2="629.9" stroke="#333" stroke-width="0.75" stroke-dasharray="2 1.9"/>
<line x1="458.85" y1="450.6" x2="458.85" y2="629.9" stroke="#333" stroke-width="0.75" stroke-dasharray="2 1.9"/>
<line x1="326.9" y1="580.5" x2="550.3" y2="580.5" stroke="#333" stroke-width="0.75" stroke-dasharray="2 1.9"/>
<text x="337.35" y="636.6" font-size="7.3" text-anchor="middle" fill="#4d4d4d" stroke="#4d4d4d" stroke-width="0.12">&#8722;5</text>
<text x="357.6" y="636.6" font-size="7.3" text-anchor="middle" fill="#4d4d4d" stroke="#4d4d4d" stroke-width="0.12">&#8722;4</text>
<text x="377.85" y="636.6" font-size="7.3" text-anchor="middle" fill="#4d4d4d" stroke="#4d4d4d" stroke-width="0.12">&#8722;3</text>
<text x="398.1" y="636.6" font-size="7.3" text-anchor="middle" fill="#4d4d4d" stroke="#4d4d4d" stroke-width="0.12">&#8722;2</text>
<text x="418.35" y="636.6" font-size="7.3" text-anchor="middle" fill="#4d4d4d" stroke="#4d4d4d" stroke-width="0.12">&#8722;1</text>
<text x="438.6" y="636.6" font-size="7.3" text-anchor="middle" fill="#4d4d4d" stroke="#4d4d4d" stroke-width="0.12">0</text>
<text x="458.85" y="636.6" font-size="7.3" text-anchor="middle" fill="#4d4d4d" stroke="#4d4d4d" stroke-width="0.12">1</text>
<text x="479.1" y="636.6" font-size="7.3" text-anchor="middle" fill="#4d4d4d" stroke="#4d4d4d" stroke-width="0.12">2</text>
<text x="499.35" y="636.6" font-size="7.3" text-anchor="middle" fill="#4d4d4d" stroke="#4d4d4d" stroke-width="0.12">3</text>
<text x="519.6" y="636.6" font-size="7.3" text-anchor="middle" fill="#4d4d4d" stroke="#4d4d4d" stroke-width="0.12">4</text>
<text x="539.85" y="636.6" font-size="7.3" text-anchor="middle" fill="#4d4d4d" stroke="#4d4d4d" stroke-width="0.12">5</text>
<text x="325.4" y="624.3" font-size="7.3" text-anchor="end" fill="#4d4d4d" stroke="#4d4d4d" stroke-width="0.12">0</text>
<text x="325.4" y="592.25" font-size="7.3" text-anchor="end" fill="#4d4d4d" stroke="#4d4d4d" stroke-width="0.12">1</text>
<text x="325.4" y="560.2" font-size="7.3" text-anchor="end" fill="#4d4d4d" stroke="#4d4d4d" stroke-width="0.12">2</text>
<text x="325.4" y="528.15" font-size="7.3" text-anchor="end" fill="#4d4d4d" stroke="#4d4d4d" stroke-width="0.12">3</text>
<text x="325.4" y="496.1" font-size="7.3" text-anchor="end" fill="#4d4d4d" stroke="#4d4d4d" stroke-width="0.12">4</text>
<text x="325.4" y="464.05" font-size="7.3" text-anchor="end" fill="#4d4d4d" stroke="#4d4d4d" stroke-width="0.12">5</text>
<text x="501.3" y="550.3" font-size="7.5" fill="#ff3b22" stroke="#ff3b22" stroke-width="0.12">peroxiredoxin</text>
<text x="440.2" y="564.2" font-size="7.5" fill="#ff3b22" stroke="#ff3b22" stroke-width="0.12">ClpS</text>
<text x="438.2" y="576.8" font-size="7.5" fill="#ff3b22" stroke="#ff3b22" stroke-width="0.12">XdhC</text>
<text x="493.4" y="587.9" font-size="7.5" fill="#ff3b22" stroke="#ff3b22" stroke-width="0.12">Fe&#160; S biogenesis</text>
<text x="493.4" y="596.8" font-size="7.5" fill="#ff3b22" stroke="#ff3b22" stroke-width="0.12">protein NfuA</text>
<circle cx="558.4" cy="533.7" r="0.75" fill="#2a52f5"/>
<circle cx="558.4" cy="546.5" r="0.75" fill="#ff3b22"/>
<text x="563.2" y="536.7" font-size="8.4" stroke="#000" stroke-width="0.12">Down at day 21</text>
<text x="563.2" y="549.5" font-size="8.4" stroke="#000" stroke-width="0.12">Up at day 21</text>
<text x="459.5" y="648" font-size="8.45" text-anchor="middle" stroke="#000" stroke-width="0.12">log<tspan font-size="55%" dy="2.2">2</tspan><tspan dy="-2.2"> fold change (day 21 vs 7 in clay)</tspan></text>
<text x="315.4" y="531" font-size="8.3" text-anchor="middle" stroke="#000" stroke-width="0.12" transform="rotate(-90 315.4 531)">&#8722;log<tspan font-size="70%" dy="1.5">10</tspan><tspan dy="-1.5"> adjusted P&#160; value</tspan></text>
</svg>
</body></html>
